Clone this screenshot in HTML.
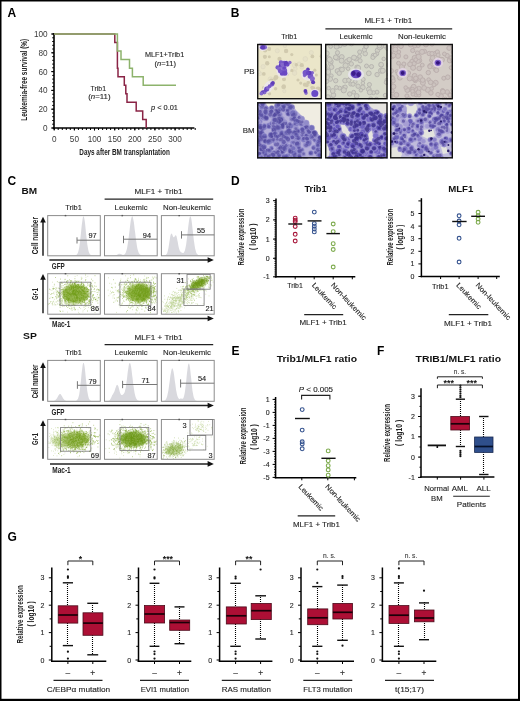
<!DOCTYPE html>
<html><head><meta charset="utf-8"><title>Figure</title>
<style>html,body{margin:0;padding:0;background:#fff;}body{width:520px;height:701px;overflow:hidden;font-family:"Liberation Sans",sans-serif;}svg{display:block;filter:blur(0.3px);}</style>
</head><body>
<svg width="520" height="701" viewBox="0 0 520 701" font-family="Liberation Sans, sans-serif"><defs><filter id="bl" x="-10%" y="-10%" width="120%" height="120%"><feGaussianBlur stdDeviation="0.75"/></filter><filter id="bl2" x="-20%" y="-20%" width="140%" height="140%"><feGaussianBlur stdDeviation="0.9"/></filter><clipPath id="c00"><rect x="257" y="43.8" width="65" height="55.6"/></clipPath><clipPath id="c01"><rect x="257" y="102.1" width="65" height="56.4"/></clipPath><clipPath id="c10"><rect x="325" y="43.8" width="62.7" height="55.6"/></clipPath><clipPath id="c11"><rect x="325" y="102.1" width="62.7" height="56.4"/></clipPath><clipPath id="c20"><rect x="390" y="43.8" width="63" height="55.6"/></clipPath><clipPath id="c21"><rect x="390" y="102.1" width="63" height="56.4"/></clipPath></defs><rect x="0" y="0" width="520" height="701" fill="#000"/>
<rect x="1.5" y="1.5" width="516.5" height="697.3" fill="#fff"/>
<text x="7.4" y="17.3" font-size="12" font-weight="bold" fill="#000">A</text>
<line x1="52.2" y1="128" x2="54" y2="128" stroke="#000" stroke-width="1"/>
<line x1="52.2" y1="124.2" x2="54" y2="124.2" stroke="#000" stroke-width="1"/>
<line x1="52.2" y1="120.5" x2="54" y2="120.5" stroke="#000" stroke-width="1"/>
<line x1="52.2" y1="116.7" x2="54" y2="116.7" stroke="#000" stroke-width="1"/>
<line x1="52.2" y1="113" x2="54" y2="113" stroke="#000" stroke-width="1"/>
<line x1="52.2" y1="109.2" x2="54" y2="109.2" stroke="#000" stroke-width="1"/>
<line x1="52.2" y1="105.4" x2="54" y2="105.4" stroke="#000" stroke-width="1"/>
<line x1="52.2" y1="101.7" x2="54" y2="101.7" stroke="#000" stroke-width="1"/>
<line x1="52.2" y1="97.9" x2="54" y2="97.9" stroke="#000" stroke-width="1"/>
<line x1="52.2" y1="94.2" x2="54" y2="94.2" stroke="#000" stroke-width="1"/>
<line x1="52.2" y1="90.4" x2="54" y2="90.4" stroke="#000" stroke-width="1"/>
<line x1="52.2" y1="86.6" x2="54" y2="86.6" stroke="#000" stroke-width="1"/>
<line x1="52.2" y1="82.9" x2="54" y2="82.9" stroke="#000" stroke-width="1"/>
<line x1="52.2" y1="79.1" x2="54" y2="79.1" stroke="#000" stroke-width="1"/>
<line x1="52.2" y1="75.4" x2="54" y2="75.4" stroke="#000" stroke-width="1"/>
<line x1="52.2" y1="71.6" x2="54" y2="71.6" stroke="#000" stroke-width="1"/>
<line x1="52.2" y1="67.8" x2="54" y2="67.8" stroke="#000" stroke-width="1"/>
<line x1="52.2" y1="64.1" x2="54" y2="64.1" stroke="#000" stroke-width="1"/>
<line x1="52.2" y1="60.3" x2="54" y2="60.3" stroke="#000" stroke-width="1"/>
<line x1="52.2" y1="56.6" x2="54" y2="56.6" stroke="#000" stroke-width="1"/>
<line x1="52.2" y1="52.8" x2="54" y2="52.8" stroke="#000" stroke-width="1"/>
<line x1="52.2" y1="49" x2="54" y2="49" stroke="#000" stroke-width="1"/>
<line x1="52.2" y1="45.3" x2="54" y2="45.3" stroke="#000" stroke-width="1"/>
<line x1="52.2" y1="41.5" x2="54" y2="41.5" stroke="#000" stroke-width="1"/>
<line x1="52.2" y1="37.8" x2="54" y2="37.8" stroke="#000" stroke-width="1"/>
<line x1="52.2" y1="34" x2="54" y2="34" stroke="#000" stroke-width="1"/>
<line x1="51.2" y1="128" x2="54" y2="128" stroke="#000" stroke-width="1.1"/>
<text x="47.6" y="130.9" font-size="8.2" text-anchor="end" fill="#3a3a3a">0</text>
<line x1="51.2" y1="109.2" x2="54" y2="109.2" stroke="#000" stroke-width="1.1"/>
<text x="47.6" y="112.1" font-size="8.2" text-anchor="end" fill="#3a3a3a">20</text>
<line x1="51.2" y1="90.4" x2="54" y2="90.4" stroke="#000" stroke-width="1.1"/>
<text x="47.6" y="93.3" font-size="8.2" text-anchor="end" fill="#3a3a3a">40</text>
<line x1="51.2" y1="71.6" x2="54" y2="71.6" stroke="#000" stroke-width="1.1"/>
<text x="47.6" y="74.5" font-size="8.2" text-anchor="end" fill="#3a3a3a">60</text>
<line x1="51.2" y1="52.8" x2="54" y2="52.8" stroke="#000" stroke-width="1.1"/>
<text x="47.6" y="55.7" font-size="8.2" text-anchor="end" fill="#3a3a3a">80</text>
<line x1="51.2" y1="34" x2="54" y2="34" stroke="#000" stroke-width="1.1"/>
<text x="47.6" y="36.9" font-size="8.2" text-anchor="end" fill="#3a3a3a">100</text>
<line x1="54" y1="33" x2="54" y2="129" stroke="#000" stroke-width="1.6"/>
<line x1="54.2" y1="128" x2="54.2" y2="130" stroke="#000" stroke-width="1"/>
<line x1="58.2" y1="128" x2="58.2" y2="130" stroke="#000" stroke-width="1"/>
<line x1="62.3" y1="128" x2="62.3" y2="130" stroke="#000" stroke-width="1"/>
<line x1="66.3" y1="128" x2="66.3" y2="130" stroke="#000" stroke-width="1"/>
<line x1="70.3" y1="128" x2="70.3" y2="130" stroke="#000" stroke-width="1"/>
<line x1="74.4" y1="128" x2="74.4" y2="130" stroke="#000" stroke-width="1"/>
<line x1="78.4" y1="128" x2="78.4" y2="130" stroke="#000" stroke-width="1"/>
<line x1="82.4" y1="128" x2="82.4" y2="130" stroke="#000" stroke-width="1"/>
<line x1="86.4" y1="128" x2="86.4" y2="130" stroke="#000" stroke-width="1"/>
<line x1="90.5" y1="128" x2="90.5" y2="130" stroke="#000" stroke-width="1"/>
<line x1="94.5" y1="128" x2="94.5" y2="130" stroke="#000" stroke-width="1"/>
<line x1="98.5" y1="128" x2="98.5" y2="130" stroke="#000" stroke-width="1"/>
<line x1="102.6" y1="128" x2="102.6" y2="130" stroke="#000" stroke-width="1"/>
<line x1="106.6" y1="128" x2="106.6" y2="130" stroke="#000" stroke-width="1"/>
<line x1="110.6" y1="128" x2="110.6" y2="130" stroke="#000" stroke-width="1"/>
<line x1="114.7" y1="128" x2="114.7" y2="130" stroke="#000" stroke-width="1"/>
<line x1="118.7" y1="128" x2="118.7" y2="130" stroke="#000" stroke-width="1"/>
<line x1="122.7" y1="128" x2="122.7" y2="130" stroke="#000" stroke-width="1"/>
<line x1="126.7" y1="128" x2="126.7" y2="130" stroke="#000" stroke-width="1"/>
<line x1="130.8" y1="128" x2="130.8" y2="130" stroke="#000" stroke-width="1"/>
<line x1="134.8" y1="128" x2="134.8" y2="130" stroke="#000" stroke-width="1"/>
<line x1="138.8" y1="128" x2="138.8" y2="130" stroke="#000" stroke-width="1"/>
<line x1="142.9" y1="128" x2="142.9" y2="130" stroke="#000" stroke-width="1"/>
<line x1="146.9" y1="128" x2="146.9" y2="130" stroke="#000" stroke-width="1"/>
<line x1="150.9" y1="128" x2="150.9" y2="130" stroke="#000" stroke-width="1"/>
<line x1="154.9" y1="128" x2="154.9" y2="130" stroke="#000" stroke-width="1"/>
<line x1="159" y1="128" x2="159" y2="130" stroke="#000" stroke-width="1"/>
<line x1="163" y1="128" x2="163" y2="130" stroke="#000" stroke-width="1"/>
<line x1="167" y1="128" x2="167" y2="130" stroke="#000" stroke-width="1"/>
<line x1="171.1" y1="128" x2="171.1" y2="130" stroke="#000" stroke-width="1"/>
<line x1="175.1" y1="128" x2="175.1" y2="130" stroke="#000" stroke-width="1"/>
<line x1="179.1" y1="128" x2="179.1" y2="130" stroke="#000" stroke-width="1"/>
<line x1="183.2" y1="128" x2="183.2" y2="130" stroke="#000" stroke-width="1"/>
<line x1="187.2" y1="128" x2="187.2" y2="130" stroke="#000" stroke-width="1"/>
<line x1="191.2" y1="128" x2="191.2" y2="130" stroke="#000" stroke-width="1"/>
<line x1="195.2" y1="128" x2="195.2" y2="130" stroke="#000" stroke-width="1"/>
<line x1="54.2" y1="128" x2="54.2" y2="130.6" stroke="#000" stroke-width="1.1"/>
<text x="54.2" y="141.6" font-size="8.2" text-anchor="middle" fill="#3a3a3a">0</text>
<line x1="74.4" y1="128" x2="74.4" y2="130.6" stroke="#000" stroke-width="1.1"/>
<text x="74.4" y="141.6" font-size="8.2" text-anchor="middle" fill="#3a3a3a">50</text>
<line x1="94.5" y1="128" x2="94.5" y2="130.6" stroke="#000" stroke-width="1.1"/>
<text x="94.5" y="141.6" font-size="8.2" text-anchor="middle" fill="#3a3a3a">100</text>
<line x1="114.7" y1="128" x2="114.7" y2="130.6" stroke="#000" stroke-width="1.1"/>
<text x="114.7" y="141.6" font-size="8.2" text-anchor="middle" fill="#3a3a3a">150</text>
<line x1="134.8" y1="128" x2="134.8" y2="130.6" stroke="#000" stroke-width="1.1"/>
<text x="134.8" y="141.6" font-size="8.2" text-anchor="middle" fill="#3a3a3a">200</text>
<line x1="154.9" y1="128" x2="154.9" y2="130.6" stroke="#000" stroke-width="1.1"/>
<text x="154.9" y="141.6" font-size="8.2" text-anchor="middle" fill="#3a3a3a">250</text>
<line x1="175.1" y1="128" x2="175.1" y2="130.6" stroke="#000" stroke-width="1.1"/>
<text x="175.1" y="141.6" font-size="8.2" text-anchor="middle" fill="#3a3a3a">300</text>
<line x1="53.2" y1="128" x2="194.4" y2="128" stroke="#000" stroke-width="1.6"/>
<path d="M54,34 H114.8 V42.5 H117.4 V68.2 H118 V76.7 H124.3 V85.2 H125.8 V93.8 H127 V102.3 H136.2 V110.9 H142.7 V119.4 H146.2 V128" stroke="#8a2446" stroke-width="1.5" fill="none"/>
<path d="M54,34 H117.4 V51.1 H121 V59.6 H129.5 V68.2 H132.4 V76.7 H143.2 V85.2 H176" stroke="#8db36c" stroke-width="1.5" fill="none"/>
<text x="79.3" y="155.4" font-size="8.8" font-weight="bold" fill="#222" textLength="90.5" lengthAdjust="spacingAndGlyphs">Days after BM transplantation</text>
<text transform="translate(27.4,79.8) rotate(-90)" x="0" y="0" font-size="8.4" text-anchor="middle" font-weight="bold" fill="#222" textLength="82" lengthAdjust="spacingAndGlyphs">Leukemia-free survival (%)</text>
<text x="145" y="57.4" font-size="7.4" fill="#262626" textLength="39.2" lengthAdjust="spacingAndGlyphs" stroke="#262626" stroke-width="0.12">MLF1+Trib1</text>
<text x="154.4" y="66" font-size="7.4" fill="#262626" textLength="21.6" lengthAdjust="spacingAndGlyphs" stroke="#262626" stroke-width="0.12">(<tspan font-style="italic">n</tspan>=11)</text>
<text x="90.6" y="90.8" font-size="7.4" fill="#262626" textLength="15.4" lengthAdjust="spacingAndGlyphs" stroke="#262626" stroke-width="0.12">Trib1</text>
<text x="88.2" y="99.2" font-size="7.4" fill="#262626" textLength="22.4" lengthAdjust="spacingAndGlyphs" stroke="#262626" stroke-width="0.12">(<tspan font-style="italic">n</tspan>=11)</text>
<text x="151" y="110.2" font-size="7.9" fill="#262626" textLength="27" lengthAdjust="spacingAndGlyphs" stroke="#262626" stroke-width="0.12"><tspan font-style="italic">p</tspan> &lt; 0.01</text>
<text x="230.8" y="17.4" font-size="12" font-weight="bold" fill="#000">B</text>
<text x="364.4" y="23.4" font-size="7.2" fill="#262626" textLength="47.8" lengthAdjust="spacingAndGlyphs" stroke="#262626" stroke-width="0.12">MLF1 + Trib1</text>
<line x1="325.4" y1="28.8" x2="452.2" y2="28.8" stroke="#222" stroke-width="1.3"/>
<text x="281.2" y="39" font-size="7.2" fill="#262626" textLength="16" lengthAdjust="spacingAndGlyphs" stroke="#262626" stroke-width="0.12">Trib1</text>
<text x="339.5" y="39" font-size="7.2" fill="#262626" textLength="33" lengthAdjust="spacingAndGlyphs" stroke="#262626" stroke-width="0.12">Leukemic</text>
<text x="398" y="39" font-size="7.2" fill="#262626" textLength="48" lengthAdjust="spacingAndGlyphs" stroke="#262626" stroke-width="0.12">Non-leukemic</text>
<text x="244" y="74" font-size="7.6" fill="#262626" textLength="10.6" lengthAdjust="spacingAndGlyphs" stroke="#262626" stroke-width="0.12">PB</text>
<text x="242.8" y="132.8" font-size="7.6" fill="#262626" textLength="11.8" lengthAdjust="spacingAndGlyphs" stroke="#262626" stroke-width="0.12">BM</text>
<g clip-path="url(#c00)"><g filter="url(#bl)">
<rect x="257" y="43.8" width="65" height="55.6" fill="#ebe6c9"/>
<g fill="#e6e1c8" stroke="#dcd6c0" stroke-width="0.6"><circle cx="277.3" cy="50.8" r="2.1"/><circle cx="260" cy="73.7" r="1.9"/><circle cx="259" cy="72" r="1.6"/><circle cx="284.9" cy="46" r="1.7"/><circle cx="284.3" cy="91.1" r="1.7"/><circle cx="270.4" cy="79.2" r="2.4"/><circle cx="294.8" cy="65.4" r="2.4"/><circle cx="258.2" cy="93" r="1.8"/><circle cx="265" cy="48.8" r="1.8"/><circle cx="311.3" cy="52.6" r="2.1"/><circle cx="299.1" cy="64" r="2"/><circle cx="259.3" cy="45.4" r="1.8"/><circle cx="301.9" cy="67.3" r="1.9"/><circle cx="295.4" cy="68.8" r="1.8"/><circle cx="309.8" cy="83.5" r="1.8"/><circle cx="294.6" cy="73.1" r="2.3"/><circle cx="305.3" cy="59" r="2.4"/><circle cx="263.1" cy="66.7" r="2.2"/></g>
<g fill="#cbc4a8" opacity="0.8"><circle cx="269.3" cy="56.7" r="1.5"/><circle cx="261.8" cy="44.6" r="2"/><circle cx="269.1" cy="48.9" r="2.1"/><circle cx="260.5" cy="48.3" r="1.9"/><circle cx="272.4" cy="41.8" r="1.9"/><circle cx="265.1" cy="50.5" r="2.1"/><circle cx="256.5" cy="39.4" r="2.2"/><circle cx="264.9" cy="56.8" r="2.1"/><circle cx="291.8" cy="70.4" r="1.7"/><circle cx="285.1" cy="71.1" r="2.2"/><circle cx="287.1" cy="73.9" r="1.9"/><circle cx="285.3" cy="66.3" r="1.9"/><circle cx="267.2" cy="63.3" r="2.2"/><circle cx="287.2" cy="63.5" r="1.9"/><circle cx="272.5" cy="83.5" r="2.4"/><circle cx="285.9" cy="73.6" r="1.7"/><circle cx="284" cy="79.3" r="2"/><circle cx="282.9" cy="69.8" r="1.9"/><circle cx="276" cy="77.5" r="2.4"/><circle cx="279.5" cy="58.9" r="2.1"/><circle cx="281.8" cy="66.3" r="2.3"/><circle cx="286.1" cy="51" r="2.2"/><circle cx="300.7" cy="83.1" r="1.6"/><circle cx="305.1" cy="75.9" r="1.6"/><circle cx="308.2" cy="82.6" r="1.8"/><circle cx="307.2" cy="78.1" r="1.6"/><circle cx="313.1" cy="82.5" r="1.5"/><circle cx="314.8" cy="70.2" r="1.6"/><circle cx="306.9" cy="85.4" r="1.8"/><circle cx="318.1" cy="88.8" r="2.4"/><circle cx="298" cy="80" r="1.6"/><circle cx="312.9" cy="82.4" r="1.7"/><circle cx="309.3" cy="73.8" r="1.5"/><circle cx="316.3" cy="75" r="1.6"/><circle cx="268.4" cy="87.6" r="2"/><circle cx="283.8" cy="86.4" r="2.1"/><circle cx="269.5" cy="93.7" r="1.7"/><circle cx="271.2" cy="80.7" r="2.2"/><circle cx="267.6" cy="91.7" r="2.2"/><circle cx="283.6" cy="86.9" r="2.2"/><circle cx="274.8" cy="79" r="1.7"/><circle cx="263.5" cy="87.4" r="1.5"/><circle cx="275.6" cy="88.8" r="1.7"/><circle cx="263.8" cy="73.9" r="1.9"/><circle cx="322" cy="56.3" r="2.4"/><circle cx="296.3" cy="64.7" r="1.7"/><circle cx="301.8" cy="65.2" r="2.1"/><circle cx="312.4" cy="56.4" r="1.9"/><circle cx="291.8" cy="54.6" r="1.6"/><circle cx="305" cy="84.6" r="2.2"/><circle cx="312" cy="87.4" r="1.7"/><circle cx="313.3" cy="88.5" r="2.2"/><circle cx="317.9" cy="91.3" r="1.9"/><circle cx="321.1" cy="89.9" r="1.7"/></g>
<ellipse cx="283.5" cy="69" rx="7" ry="9" fill="#ece6f2" opacity="0.8" transform="rotate(15 283.5 69)"/>
<ellipse cx="308" cy="75" rx="7" ry="5.5" fill="#ece6f2" opacity="0.8" transform="rotate(10 308 75)"/>
<ellipse cx="268.5" cy="87" rx="4.5" ry="7.5" fill="#ece6f2" opacity="0.8" transform="rotate(35 268.5 87)"/>
<ellipse cx="315" cy="93.5" rx="5" ry="4.5" fill="#ece6f2" opacity="0.8" transform="rotate(0 315 93.5)"/>
<ellipse cx="263" cy="47" rx="5" ry="4" fill="#ece6f2" opacity="0.8" transform="rotate(0 263 47)"/>
<circle cx="284.5" cy="70.7" r="2.7" fill="#7658c8"/><circle cx="280.8" cy="65.4" r="2.2" fill="#5e3cb8"/><circle cx="285.3" cy="73.4" r="1.6" fill="#6a48c4"/><circle cx="277.5" cy="67.4" r="2.1" fill="#7658c8"/><circle cx="284.3" cy="66.4" r="1.9" fill="#5e3cb8"/><circle cx="279.1" cy="68.9" r="2" fill="#8468cc"/><circle cx="284" cy="67.7" r="2.5" fill="#8468cc"/><circle cx="281" cy="62.4" r="2.2" fill="#7658c8"/><circle cx="280.4" cy="68" r="1.6" fill="#8468cc"/><circle cx="284.1" cy="63.3" r="2.5" fill="#7658c8"/><circle cx="284.9" cy="73.2" r="2.5" fill="#6a48c4"/><circle cx="282.1" cy="73.5" r="2.3" fill="#6a48c4"/><circle cx="284.2" cy="68" r="1.8" fill="#6a48c4"/><circle cx="283.9" cy="64" r="2.3" fill="#6a48c4"/><circle cx="280.1" cy="71" r="2.2" fill="#7658c8"/><circle cx="282.5" cy="64.7" r="2.2" fill="#8468cc"/>
<circle cx="285.9" cy="63.9" r="2.2" fill="#5e3cb8"/><circle cx="289.8" cy="62.5" r="1.8" fill="#8468cc"/><circle cx="287.5" cy="64.6" r="2.1" fill="#6a48c4"/><circle cx="286.2" cy="62.6" r="1.9" fill="#5e3cb8"/>
<circle cx="307.9" cy="69.2" r="1.8" fill="#5e3cb8"/><circle cx="310.4" cy="75.9" r="2.8" fill="#7658c8"/><circle cx="306.5" cy="72.2" r="2.7" fill="#7658c8"/><circle cx="312.2" cy="72.8" r="1.8" fill="#8468cc"/><circle cx="309.5" cy="72.9" r="2.1" fill="#5e3cb8"/><circle cx="304.5" cy="75.6" r="1.6" fill="#8468cc"/><circle cx="306" cy="73.1" r="2" fill="#5e3cb8"/><circle cx="305.4" cy="72.9" r="2.8" fill="#7658c8"/><circle cx="307.9" cy="72.9" r="1.9" fill="#6a48c4"/>
<circle cx="312.1" cy="79.6" r="2.1" fill="#8468cc"/><circle cx="312.6" cy="78.5" r="2.3" fill="#8468cc"/><circle cx="313.1" cy="82.2" r="2" fill="#5e3cb8"/>
<circle cx="264.2" cy="92.1" r="2.4" fill="#8468cc"/>
<circle cx="265.7" cy="90.3" r="1.8" fill="#6a48c4"/>
<circle cx="266.7" cy="89" r="2.5" fill="#6a48c4"/>
<circle cx="267.9" cy="88.1" r="1.8" fill="#8468cc"/>
<circle cx="269.6" cy="86.2" r="1.9" fill="#7658c8"/>
<circle cx="272" cy="84.4" r="2" fill="#7658c8"/>
<circle cx="272" cy="84.1" r="2" fill="#7658c8"/>
<circle cx="272.9" cy="82.9" r="1.9" fill="#5e3cb8"/>
<circle cx="262.2" cy="92.4" r="1.8" fill="#6a48c4"/><circle cx="261.4" cy="93.6" r="1.9" fill="#8468cc"/>
<circle cx="306" cy="93.1" r="1.8" fill="#8468cc"/><circle cx="305.4" cy="91" r="1.9" fill="#5e3cb8"/>
<circle cx="314.8" cy="93.6" r="3.5" fill="#6a4cc6"/>
<circle cx="260.8" cy="43.8" r="1.8" fill="#7658c8"/><circle cx="261.3" cy="47.6" r="1.5" fill="#7658c8"/><circle cx="264.7" cy="47.2" r="2.3" fill="#8468cc"/><circle cx="262.8" cy="47.4" r="2.3" fill="#5e3cb8"/>
</g></g>
<g clip-path="url(#c10)"><g filter="url(#bl)">
<rect x="325" y="43.8" width="62.7" height="55.6" fill="#d7d9cb"/>
<g fill="#cfcfc4" stroke="#b4b2ae" stroke-width="0.9"><circle cx="362.9" cy="83.1" r="1.8"/><circle cx="335.4" cy="57.8" r="1.8"/><circle cx="347.3" cy="61.4" r="2.6"/><circle cx="344.6" cy="43.9" r="2.5"/><circle cx="337.5" cy="52.7" r="2.1"/><circle cx="328.6" cy="58.4" r="2.3"/><circle cx="339.6" cy="88.1" r="1.9"/><circle cx="377.5" cy="50.4" r="2.3"/><circle cx="349.3" cy="59.7" r="2.3"/><circle cx="328.6" cy="98.9" r="2.5"/><circle cx="333.4" cy="95" r="2.4"/><circle cx="362.8" cy="87.4" r="2.4"/><circle cx="356" cy="58.7" r="2.3"/><circle cx="332.7" cy="91" r="2.4"/><circle cx="357.2" cy="67.4" r="2.4"/><circle cx="356.7" cy="96" r="2.4"/><circle cx="360.9" cy="90.2" r="1.8"/><circle cx="368.8" cy="89.4" r="2.4"/><circle cx="386.8" cy="80.1" r="1.9"/><circle cx="325.8" cy="79.8" r="2.6"/><circle cx="348.1" cy="68.7" r="1.8"/><circle cx="324.3" cy="73.5" r="2"/><circle cx="340.6" cy="69" r="1.9"/><circle cx="385.2" cy="95.3" r="1.9"/><circle cx="358.1" cy="86.2" r="2.2"/><circle cx="377" cy="92.2" r="2"/><circle cx="373.5" cy="55.6" r="2.3"/><circle cx="353.7" cy="92.2" r="1.9"/><circle cx="383.7" cy="58.9" r="1.8"/><circle cx="365.2" cy="53.6" r="2.3"/><circle cx="345.1" cy="80.6" r="2.4"/><circle cx="364.4" cy="49.8" r="2.2"/><circle cx="355.4" cy="99.8" r="1.9"/><circle cx="337.5" cy="71" r="2.4"/><circle cx="342" cy="69.6" r="2.4"/><circle cx="389.3" cy="74.5" r="2"/><circle cx="328.7" cy="70" r="2"/><circle cx="328.1" cy="72" r="2.6"/><circle cx="389.3" cy="64.9" r="2.5"/><circle cx="385.1" cy="46.2" r="1.9"/><circle cx="372.9" cy="57.4" r="2.1"/><circle cx="363.2" cy="79.4" r="2"/><circle cx="330.5" cy="63.6" r="2.2"/><circle cx="381.4" cy="65.3" r="1.9"/><circle cx="386.4" cy="82.4" r="2.1"/><circle cx="371.5" cy="66.6" r="2.1"/><circle cx="331.1" cy="61.5" r="2.1"/><circle cx="345.6" cy="65.5" r="2.6"/><circle cx="336.1" cy="42.5" r="2.4"/><circle cx="339.9" cy="45.7" r="2.1"/><circle cx="381" cy="46.4" r="2.5"/><circle cx="373.4" cy="92.7" r="2"/><circle cx="326.4" cy="81.3" r="2.3"/><circle cx="332.9" cy="99.7" r="2.1"/><circle cx="344.1" cy="87.9" r="2.4"/><circle cx="351.5" cy="43.5" r="2.4"/><circle cx="349.7" cy="94" r="2.2"/><circle cx="336.6" cy="46.6" r="2.5"/><circle cx="350.4" cy="78.4" r="1.9"/><circle cx="381" cy="70.7" r="2.5"/><circle cx="359.7" cy="52" r="2.1"/><circle cx="341.8" cy="57" r="2.4"/><circle cx="366.5" cy="66" r="2"/><circle cx="355.2" cy="81.7" r="1.9"/><circle cx="365.9" cy="46.3" r="2.2"/><circle cx="377.1" cy="74.6" r="2.2"/><circle cx="345.2" cy="87.1" r="2.1"/><circle cx="359.5" cy="56.3" r="1.9"/><circle cx="360.1" cy="60.8" r="2.1"/><circle cx="377" cy="53.8" r="1.8"/><circle cx="381.1" cy="64.6" r="2.4"/><circle cx="337" cy="57.9" r="2.4"/><circle cx="356.2" cy="76" r="2.1"/><circle cx="368.8" cy="73.3" r="2.4"/><circle cx="379.6" cy="47.3" r="2.5"/><circle cx="348.7" cy="80.3" r="2.1"/><circle cx="343.8" cy="90.3" r="2.6"/><circle cx="331.5" cy="67.1" r="2.4"/><circle cx="376.6" cy="99.5" r="2.2"/><circle cx="327.9" cy="97.2" r="2.5"/><circle cx="358.2" cy="69.7" r="2.2"/><circle cx="375.2" cy="55.1" r="1.9"/><circle cx="387.8" cy="48.3" r="2.5"/><circle cx="369.8" cy="92.3" r="2.5"/><circle cx="328.7" cy="88.1" r="1.8"/><circle cx="331.4" cy="75.7" r="1.8"/><circle cx="370.7" cy="99.2" r="2.3"/><circle cx="358.2" cy="67.9" r="2.4"/><circle cx="329.6" cy="59.7" r="2.6"/><circle cx="335.8" cy="57.3" r="2.4"/><circle cx="323.1" cy="73.8" r="2.6"/><circle cx="341.6" cy="60.7" r="2.5"/><circle cx="339.2" cy="73.2" r="2.2"/><circle cx="325" cy="66.3" r="2.3"/><circle cx="326.7" cy="53.4" r="2.5"/><circle cx="366.2" cy="46.6" r="2"/><circle cx="351.3" cy="63.9" r="2.2"/><circle cx="369.4" cy="84.6" r="2.1"/><circle cx="349.4" cy="42.2" r="2"/><circle cx="379.4" cy="45.8" r="2.2"/><circle cx="336.4" cy="87.4" r="2"/><circle cx="354" cy="57.6" r="2.5"/><circle cx="330.3" cy="79" r="2.3"/><circle cx="382.8" cy="70.7" r="2.5"/><circle cx="326.8" cy="77.3" r="2.5"/><circle cx="326.6" cy="43.2" r="2.3"/><circle cx="350.7" cy="84.1" r="1.9"/><circle cx="353" cy="84.2" r="2.1"/><circle cx="330.6" cy="46.5" r="1.9"/><circle cx="335.7" cy="80.7" r="2.2"/></g>
<ellipse cx="356" cy="74.5" rx="8" ry="6" fill="#e8e4ee" opacity="0.9" transform="rotate(0 356 74.5)"/>
<ellipse cx="356" cy="74" rx="5.5" ry="4.2" fill="#6a4cc0" opacity="1" transform="rotate(0 356 74)"/>
<ellipse cx="353.5" cy="73.5" rx="2.2" ry="2.4" fill="#3c1c8c" opacity="1" transform="rotate(0 353.5 73.5)"/>
<ellipse cx="358.5" cy="74.5" rx="2.2" ry="2.6" fill="#3c1c8c" opacity="1" transform="rotate(0 358.5 74.5)"/>
</g></g>
<g clip-path="url(#c20)"><g filter="url(#bl)">
<rect x="390" y="43.8" width="63" height="55.6" fill="#d3ccc6"/>
<g fill="#ccc3bf" stroke="#bcb0ae" stroke-width="1"><circle cx="419.3" cy="60.4" r="2.4"/><circle cx="444.2" cy="100.5" r="2.2"/><circle cx="395.3" cy="46.5" r="1.9"/><circle cx="416.2" cy="94.6" r="2.2"/><circle cx="438.8" cy="64.5" r="2.4"/><circle cx="408.7" cy="89.7" r="1.9"/><circle cx="435.3" cy="53.5" r="2.2"/><circle cx="417.9" cy="61.1" r="2.4"/><circle cx="419.8" cy="79.4" r="2"/><circle cx="429.9" cy="65.9" r="2.1"/><circle cx="419.1" cy="89.7" r="1.8"/><circle cx="401.1" cy="45.5" r="2.3"/><circle cx="412.3" cy="61.8" r="2.6"/><circle cx="390.9" cy="86.3" r="2.4"/><circle cx="449.9" cy="59.5" r="2.4"/><circle cx="427.9" cy="89.8" r="2.6"/><circle cx="392.4" cy="91" r="1.9"/><circle cx="435.9" cy="69.6" r="2.4"/><circle cx="440.9" cy="96.2" r="2.5"/><circle cx="396.9" cy="71.4" r="1.8"/><circle cx="450.4" cy="59.9" r="2.4"/><circle cx="398.1" cy="55.9" r="2.5"/><circle cx="418.9" cy="88.5" r="2.3"/><circle cx="422.3" cy="65.1" r="1.9"/><circle cx="415.3" cy="80.5" r="2.2"/><circle cx="424.5" cy="51.4" r="2.1"/><circle cx="395" cy="46.1" r="2.3"/><circle cx="402" cy="66.9" r="2.6"/><circle cx="453.1" cy="52.1" r="1.9"/><circle cx="418.9" cy="94.9" r="2"/><circle cx="424.1" cy="87.9" r="2.4"/><circle cx="440.2" cy="59.3" r="2"/><circle cx="405.9" cy="56.9" r="2"/><circle cx="417.4" cy="52.9" r="2"/><circle cx="406.9" cy="95.9" r="2"/><circle cx="392.3" cy="56.8" r="2"/><circle cx="423.3" cy="80.5" r="1.9"/><circle cx="419.1" cy="44" r="1.8"/><circle cx="447.1" cy="55.6" r="2.2"/><circle cx="413" cy="94.1" r="2"/><circle cx="391.4" cy="77.6" r="2.5"/><circle cx="401" cy="46.3" r="2.2"/><circle cx="399.9" cy="77.7" r="2.4"/><circle cx="432.5" cy="42.2" r="2.3"/><circle cx="435.6" cy="62.6" r="1.8"/><circle cx="410.8" cy="44.4" r="2.6"/><circle cx="390.6" cy="85.4" r="2.5"/><circle cx="442.6" cy="90.6" r="2.1"/><circle cx="412.9" cy="78.8" r="1.9"/><circle cx="390.1" cy="71.3" r="2.2"/><circle cx="415.3" cy="89.2" r="2.3"/><circle cx="398.4" cy="73.6" r="2.3"/><circle cx="414.7" cy="58" r="2.6"/><circle cx="432.7" cy="66.7" r="1.8"/><circle cx="437.9" cy="94.5" r="2.1"/><circle cx="389.2" cy="87.5" r="2.4"/><circle cx="431.2" cy="65.1" r="2.1"/><circle cx="451.1" cy="67.7" r="1.9"/><circle cx="395.6" cy="47.2" r="2.3"/><circle cx="412.4" cy="87.9" r="1.9"/><circle cx="391.5" cy="50.3" r="2.4"/><circle cx="414.6" cy="75.9" r="2.5"/><circle cx="437.4" cy="52" r="2.1"/><circle cx="398.8" cy="52" r="1.9"/><circle cx="413.7" cy="86.7" r="2.4"/><circle cx="441.9" cy="59.8" r="2.5"/><circle cx="390.9" cy="96.2" r="2.1"/><circle cx="428.7" cy="79.7" r="1.9"/><circle cx="435.7" cy="82.8" r="2.5"/><circle cx="430.9" cy="92.9" r="2.3"/><circle cx="429.2" cy="53.5" r="2.2"/><circle cx="425.9" cy="44.3" r="2.6"/><circle cx="398.5" cy="63.2" r="1.9"/><circle cx="453" cy="90.4" r="2"/><circle cx="447.2" cy="92" r="2.3"/><circle cx="432.7" cy="61.1" r="2.1"/><circle cx="418.5" cy="92.4" r="2.4"/><circle cx="431.5" cy="60.2" r="2"/><circle cx="414.1" cy="63.7" r="2.2"/><circle cx="400" cy="42" r="2.6"/><circle cx="419.2" cy="68.4" r="2.3"/><circle cx="442.9" cy="91.7" r="2.4"/><circle cx="414.8" cy="45.8" r="2.1"/><circle cx="412.5" cy="89.6" r="2.2"/><circle cx="432" cy="44.2" r="1.9"/><circle cx="449.8" cy="60.5" r="2.4"/><circle cx="393.4" cy="86.6" r="2.5"/><circle cx="431.7" cy="88.5" r="1.8"/><circle cx="392.4" cy="78.4" r="2.4"/><circle cx="395.3" cy="49.6" r="2.5"/><circle cx="407.3" cy="90.1" r="2.4"/><circle cx="434" cy="84.8" r="2"/><circle cx="443.8" cy="78.2" r="2"/><circle cx="409.7" cy="78.4" r="2.5"/><circle cx="418.6" cy="56.9" r="2.6"/><circle cx="420.2" cy="77.1" r="2.3"/><circle cx="403.9" cy="64" r="2"/><circle cx="415" cy="79.7" r="2"/><circle cx="410" cy="64.3" r="2.4"/><circle cx="405.7" cy="87.6" r="1.8"/><circle cx="445.5" cy="99.4" r="2.2"/><circle cx="422.9" cy="82.8" r="2.5"/><circle cx="404.9" cy="73.7" r="2.5"/><circle cx="437.4" cy="63.9" r="2.1"/><circle cx="412.7" cy="50.5" r="2.1"/><circle cx="393.5" cy="55.5" r="2.3"/><circle cx="452.2" cy="59.5" r="2.2"/><circle cx="408.8" cy="99.4" r="2.5"/><circle cx="450.2" cy="95.2" r="2.4"/><circle cx="438.1" cy="55" r="2"/><circle cx="429.9" cy="66.7" r="2.1"/><circle cx="391.2" cy="70.9" r="2.3"/><circle cx="391.1" cy="45" r="2.3"/><circle cx="408.4" cy="73" r="2.2"/><circle cx="415.7" cy="59.7" r="1.9"/><circle cx="412.5" cy="91.2" r="1.9"/><circle cx="388.9" cy="89.6" r="2.4"/><circle cx="418.2" cy="45.6" r="1.9"/><circle cx="432.6" cy="57.9" r="2.4"/><circle cx="452.8" cy="45.1" r="2.5"/><circle cx="447.8" cy="77.2" r="2.3"/><circle cx="428.3" cy="72.6" r="2.2"/><circle cx="399.1" cy="41.8" r="1.8"/><circle cx="389.7" cy="52.9" r="1.9"/><circle cx="449.1" cy="48.1" r="2.3"/><circle cx="432" cy="53.6" r="2.1"/><circle cx="422.7" cy="80.1" r="2.3"/><circle cx="415.8" cy="78.3" r="2.2"/><circle cx="392.3" cy="79.1" r="2.6"/><circle cx="436.5" cy="70.3" r="2.2"/><circle cx="413.1" cy="67.8" r="2.5"/><circle cx="393.4" cy="80.9" r="1.9"/><circle cx="454.8" cy="57.4" r="2.3"/><circle cx="396.3" cy="94.9" r="2.5"/><circle cx="451.2" cy="57.5" r="1.8"/><circle cx="430.6" cy="82.3" r="2.3"/><circle cx="449.5" cy="99.7" r="2"/><circle cx="450.2" cy="95.1" r="1.9"/><circle cx="422" cy="51.9" r="2.5"/><circle cx="444.4" cy="53.9" r="1.9"/></g>
<ellipse cx="402.7" cy="73" rx="5.2" ry="5" fill="#e2d4e4" opacity="0.9" transform="rotate(0 402.7 73)"/>
<ellipse cx="402.7" cy="73" rx="3.3" ry="3.1" fill="#7a5cc8" opacity="1" transform="rotate(0 402.7 73)"/>
<ellipse cx="402.7" cy="73" rx="2" ry="1.9" fill="#34177e" opacity="1" transform="rotate(0 402.7 73)"/>
<ellipse cx="437.9" cy="62.8" rx="5.2" ry="5" fill="#e2d4e4" opacity="0.9" transform="rotate(0 437.9 62.8)"/>
<ellipse cx="437.9" cy="62.8" rx="3.3" ry="3.1" fill="#7a5cc8" opacity="1" transform="rotate(0 437.9 62.8)"/>
<ellipse cx="437.9" cy="62.8" rx="2" ry="1.9" fill="#34177e" opacity="1" transform="rotate(0 437.9 62.8)"/>
</g></g>
<g clip-path="url(#c01)"><g filter="url(#bl)">
<rect x="257" y="102.1" width="65" height="56.4" fill="#b4aed8"/>
<path d="M289,100 L325,100 L325,137 L319,135 L312,127 L304,118 L296,110 Z" fill="#f0ede2"/>
<path d="M264,100 L278,100 L274,106 L268,107 Z" fill="#f0ede2"/>
<g fill="#7a74c0" stroke="#a8a2d4" stroke-width="0.5"><circle cx="262.4" cy="112.5" r="2.4"/><circle cx="261.3" cy="149.6" r="2.5"/><circle cx="268.1" cy="159" r="3"/><circle cx="255.7" cy="150.3" r="3.1"/><circle cx="320.7" cy="139.7" r="2.5"/><circle cx="291.9" cy="136.9" r="2.9"/><circle cx="289.4" cy="132.7" r="3.1"/><circle cx="278.8" cy="112.4" r="2.7"/><circle cx="277" cy="126.1" r="2.9"/><circle cx="284.1" cy="142.1" r="2.7"/><circle cx="323.1" cy="152" r="2.5"/><circle cx="272.5" cy="158.3" r="2.9"/><circle cx="287.4" cy="110.2" r="3.2"/><circle cx="284.2" cy="135.5" r="3"/><circle cx="258.1" cy="160.3" r="2.6"/><circle cx="257.1" cy="117" r="2.8"/><circle cx="303.7" cy="129.5" r="3.1"/><circle cx="299.1" cy="155.8" r="2.9"/><circle cx="304" cy="139.2" r="3.2"/><circle cx="291.6" cy="132.6" r="2.3"/><circle cx="318" cy="149.3" r="3.1"/><circle cx="315.1" cy="140.2" r="2.3"/><circle cx="274.8" cy="118.5" r="2.9"/><circle cx="281.8" cy="126.7" r="3"/><circle cx="269.1" cy="125.9" r="3.1"/><circle cx="279.7" cy="136" r="2.6"/><circle cx="259.3" cy="111.7" r="2.9"/><circle cx="285.3" cy="137.6" r="2.5"/><circle cx="272.4" cy="153.7" r="3.2"/><circle cx="271" cy="111.5" r="3.1"/><circle cx="318.9" cy="140.6" r="2.8"/><circle cx="255.7" cy="160" r="3"/><circle cx="298.3" cy="149.6" r="2.9"/><circle cx="264.5" cy="138.6" r="2.7"/><circle cx="288.1" cy="113.3" r="2.6"/><circle cx="322.2" cy="158.2" r="2.9"/><circle cx="268" cy="141.1" r="2.7"/><circle cx="262.7" cy="152.2" r="2.5"/><circle cx="259" cy="114.4" r="2.6"/><circle cx="282.1" cy="152.8" r="2.8"/><circle cx="271.4" cy="148.2" r="2.4"/><circle cx="265.8" cy="108.7" r="3"/><circle cx="314.6" cy="160.2" r="2.6"/><circle cx="318.4" cy="143.4" r="3.1"/><circle cx="291.6" cy="150.8" r="3.2"/><circle cx="283.3" cy="108.7" r="3.2"/><circle cx="273.4" cy="139.9" r="3"/><circle cx="277.4" cy="114.7" r="3.1"/><circle cx="318.5" cy="143.4" r="2.6"/><circle cx="318.8" cy="141.5" r="2.9"/></g>
<g fill="#6e68b8" stroke="#a8a2d4" stroke-width="0.5"><circle cx="262.7" cy="137.7" r="2.4"/><circle cx="279" cy="105.9" r="2.9"/><circle cx="306.2" cy="127.7" r="3.2"/><circle cx="261.5" cy="129.3" r="3"/><circle cx="262" cy="139" r="2.5"/><circle cx="272" cy="123.5" r="2.6"/><circle cx="264" cy="151.1" r="2.6"/><circle cx="301.2" cy="123.8" r="2.7"/><circle cx="288.2" cy="110.3" r="2.5"/><circle cx="258.9" cy="154.2" r="2.9"/><circle cx="255.1" cy="150.4" r="2.8"/><circle cx="267.5" cy="151" r="2.8"/><circle cx="297" cy="130" r="2.5"/><circle cx="261.9" cy="107.5" r="2.3"/><circle cx="277.4" cy="119.8" r="2.5"/><circle cx="283.8" cy="140.5" r="2.4"/><circle cx="282.7" cy="134" r="2.8"/><circle cx="298.5" cy="131.8" r="3"/><circle cx="294.6" cy="124.9" r="2.4"/><circle cx="277.3" cy="143.3" r="2.6"/><circle cx="276.3" cy="153" r="2.7"/><circle cx="271.9" cy="111.6" r="2.6"/><circle cx="263.8" cy="126.9" r="3.1"/><circle cx="289.8" cy="113.8" r="2.7"/><circle cx="259.5" cy="118.9" r="2.5"/><circle cx="257.7" cy="118.9" r="2.9"/><circle cx="315.4" cy="135.4" r="2.9"/><circle cx="279.3" cy="118.2" r="3.1"/><circle cx="284.3" cy="156.9" r="2.9"/><circle cx="262.9" cy="117.6" r="2.6"/><circle cx="299" cy="151.2" r="3.1"/><circle cx="281.2" cy="139.2" r="2.6"/><circle cx="259.3" cy="100.6" r="3.2"/><circle cx="284.1" cy="122.4" r="2.9"/><circle cx="302.3" cy="133" r="3.2"/><circle cx="264.4" cy="155" r="2.4"/><circle cx="288.7" cy="104.6" r="2.5"/><circle cx="273.5" cy="126.9" r="2.3"/><circle cx="318.1" cy="154.6" r="2.4"/><circle cx="309" cy="130.5" r="3.1"/><circle cx="274.5" cy="130.4" r="2.4"/><circle cx="310.9" cy="153" r="2.6"/><circle cx="287.9" cy="156.5" r="3"/><circle cx="274.5" cy="120.1" r="2.7"/><circle cx="259.5" cy="145.8" r="2.6"/><circle cx="262.7" cy="138.4" r="3"/><circle cx="277.1" cy="111.6" r="3.2"/><circle cx="286.4" cy="156.6" r="2.7"/><circle cx="267.4" cy="155.8" r="2.8"/><circle cx="272.8" cy="154.8" r="2.9"/><circle cx="275.9" cy="135.4" r="3"/><circle cx="292" cy="107.2" r="2.7"/><circle cx="274.6" cy="133.6" r="3.2"/><circle cx="308.5" cy="131.1" r="3"/><circle cx="260.8" cy="146" r="2.8"/></g>
<g fill="#8680c6" stroke="#a8a2d4" stroke-width="0.5"><circle cx="299.6" cy="117.9" r="2.6"/><circle cx="307" cy="139.1" r="2.6"/><circle cx="277.3" cy="128.1" r="2.9"/><circle cx="265.2" cy="118.3" r="2.6"/><circle cx="301.6" cy="135.1" r="2.4"/><circle cx="297.1" cy="141.3" r="3.1"/><circle cx="279.5" cy="129.9" r="2.6"/><circle cx="300.2" cy="122.4" r="3"/><circle cx="281.6" cy="132.7" r="2.8"/><circle cx="313.1" cy="138.1" r="2.7"/><circle cx="283.4" cy="109.5" r="2.5"/><circle cx="259.9" cy="121.6" r="2.5"/><circle cx="314.9" cy="134.9" r="3.1"/><circle cx="273.8" cy="128.2" r="2.8"/><circle cx="289.5" cy="126.9" r="2.5"/><circle cx="285.1" cy="122.9" r="2.5"/><circle cx="281.6" cy="139.8" r="2.8"/><circle cx="315.9" cy="152.1" r="2.4"/><circle cx="261.2" cy="157.3" r="2.7"/><circle cx="292.5" cy="115.2" r="2.4"/><circle cx="289.1" cy="130.3" r="2.4"/><circle cx="314" cy="147.6" r="2.7"/><circle cx="279.8" cy="114.6" r="2.7"/><circle cx="302" cy="150" r="2.4"/><circle cx="298.7" cy="138.4" r="2.6"/><circle cx="276.3" cy="144" r="2.8"/><circle cx="292.9" cy="142.8" r="2.8"/><circle cx="287.8" cy="139.7" r="3"/><circle cx="278.8" cy="148.5" r="2.7"/><circle cx="265.5" cy="155.2" r="2.4"/><circle cx="290.1" cy="124.8" r="2.8"/><circle cx="287.7" cy="139.2" r="2.7"/><circle cx="272.4" cy="133.7" r="2.3"/><circle cx="274" cy="115.9" r="2.6"/><circle cx="285.8" cy="145.9" r="3.1"/><circle cx="323.7" cy="156.8" r="2.8"/><circle cx="283.5" cy="142.2" r="2.7"/><circle cx="299.5" cy="150.6" r="2.6"/><circle cx="309.6" cy="129.1" r="2.7"/><circle cx="289" cy="146.7" r="2.7"/><circle cx="291.7" cy="157.2" r="2.4"/><circle cx="261" cy="139.5" r="3.1"/></g>
<g fill="#928cca" stroke="#a8a2d4" stroke-width="0.5"><circle cx="257.2" cy="131.4" r="2.4"/><circle cx="274.6" cy="113.1" r="2.9"/><circle cx="273.2" cy="154.5" r="2.8"/><circle cx="281.8" cy="102.1" r="2.7"/><circle cx="303.3" cy="154.1" r="2.5"/><circle cx="279.5" cy="103.5" r="2.5"/><circle cx="265.1" cy="140.3" r="3"/><circle cx="273.5" cy="122.8" r="2.5"/><circle cx="279.7" cy="139.6" r="2.6"/><circle cx="291.3" cy="146.6" r="2.5"/><circle cx="262.5" cy="102.9" r="3"/><circle cx="281.8" cy="119" r="2.8"/><circle cx="312.4" cy="136.4" r="2.6"/><circle cx="271.1" cy="136.8" r="2.9"/><circle cx="294.1" cy="115.9" r="3"/><circle cx="277.9" cy="144.6" r="2.5"/><circle cx="271.5" cy="114.5" r="2.7"/><circle cx="278.1" cy="151" r="3.1"/><circle cx="294.7" cy="151.9" r="2.6"/><circle cx="270.7" cy="113.8" r="2.9"/><circle cx="256.4" cy="108.5" r="3.2"/><circle cx="260.8" cy="135.8" r="3.1"/><circle cx="306" cy="145" r="3"/><circle cx="292" cy="119" r="2.9"/><circle cx="304" cy="133.5" r="3.1"/><circle cx="295.4" cy="140.5" r="2.5"/><circle cx="282.5" cy="121.6" r="3.1"/><circle cx="286.2" cy="103.4" r="2.9"/><circle cx="276.3" cy="158.3" r="2.4"/><circle cx="298.8" cy="121.3" r="2.8"/><circle cx="297.1" cy="148.4" r="2.5"/><circle cx="276.9" cy="139.6" r="2.6"/><circle cx="301.5" cy="121.3" r="2.5"/><circle cx="270.5" cy="115.3" r="2.5"/><circle cx="306.3" cy="123" r="2.9"/><circle cx="258" cy="123.1" r="3"/><circle cx="279.6" cy="148.6" r="2.8"/><circle cx="260.5" cy="127" r="2.7"/><circle cx="295.9" cy="128" r="2.7"/><circle cx="275.3" cy="120" r="2.6"/><circle cx="302" cy="118.6" r="2.5"/><circle cx="258.6" cy="132.5" r="2.6"/><circle cx="294" cy="119.6" r="2.5"/><circle cx="265.3" cy="111.2" r="2.6"/><circle cx="275.7" cy="110.5" r="2.6"/><circle cx="265.6" cy="116.1" r="2.3"/></g>
<g fill="#6660b0" stroke="#a8a2d4" stroke-width="0.5"><circle cx="313.1" cy="132.5" r="2.7"/><circle cx="294.4" cy="118.7" r="2.5"/><circle cx="257.9" cy="104.2" r="2.3"/><circle cx="280.4" cy="119.5" r="3.2"/><circle cx="295.9" cy="157.9" r="2.8"/><circle cx="298.5" cy="157.1" r="2.4"/><circle cx="294.6" cy="132.8" r="2.9"/><circle cx="319.1" cy="151.7" r="2.4"/><circle cx="283.9" cy="150.1" r="2.7"/><circle cx="281.6" cy="147.6" r="3.2"/><circle cx="265.1" cy="159" r="3"/><circle cx="271.1" cy="135.1" r="3.1"/><circle cx="261.4" cy="148.8" r="2.6"/><circle cx="320" cy="156.9" r="2.4"/><circle cx="290.8" cy="150.9" r="3.1"/><circle cx="281.8" cy="125.5" r="3.1"/><circle cx="282.6" cy="150.7" r="2.9"/><circle cx="274.9" cy="114.8" r="2.4"/><circle cx="281.7" cy="133.2" r="2.6"/><circle cx="278" cy="111.5" r="2.8"/><circle cx="283.5" cy="106.3" r="2.7"/><circle cx="283.8" cy="147.4" r="3.1"/><circle cx="279.3" cy="121.4" r="2.8"/><circle cx="288.6" cy="126.7" r="2.9"/><circle cx="276.9" cy="159.2" r="3"/><circle cx="294.1" cy="152.7" r="3.1"/><circle cx="271.7" cy="107.9" r="2.5"/><circle cx="270.1" cy="141" r="2.7"/><circle cx="268.1" cy="157.6" r="3"/><circle cx="299.5" cy="157.9" r="2.7"/><circle cx="266.3" cy="118" r="2.7"/><circle cx="260.1" cy="126.6" r="3.1"/><circle cx="260.1" cy="137.6" r="2.9"/><circle cx="288.4" cy="113.8" r="2.5"/><circle cx="273.9" cy="130.3" r="2.5"/><circle cx="261" cy="137.1" r="3"/><circle cx="319.6" cy="137.8" r="2.4"/><circle cx="274.2" cy="153.2" r="2.7"/><circle cx="265.3" cy="141.2" r="2.6"/><circle cx="262" cy="105.4" r="3"/><circle cx="314.5" cy="133.3" r="3"/><circle cx="270.7" cy="155.9" r="2.3"/><circle cx="261.6" cy="133.4" r="3"/></g>
<g fill="#7670bc" stroke="#a8a2d4" stroke-width="0.5"><circle cx="296.5" cy="123" r="3.1"/><circle cx="268.8" cy="157.8" r="2.8"/><circle cx="317.9" cy="145.6" r="2.4"/><circle cx="277.5" cy="105.8" r="3.1"/><circle cx="271.4" cy="111.7" r="2.6"/><circle cx="297.6" cy="143.8" r="3.2"/><circle cx="264.8" cy="136.6" r="2.7"/><circle cx="299.7" cy="151.2" r="2.9"/><circle cx="308.4" cy="142.4" r="3.1"/><circle cx="286.4" cy="137.6" r="2.7"/><circle cx="263.9" cy="147" r="3"/><circle cx="268.6" cy="141.9" r="2.8"/><circle cx="275.5" cy="128.2" r="2.7"/><circle cx="298.8" cy="147.5" r="2.3"/><circle cx="297.2" cy="137.3" r="2.9"/><circle cx="298.7" cy="137.9" r="2.5"/><circle cx="308.4" cy="143.2" r="3.1"/><circle cx="275.2" cy="133.8" r="2.7"/><circle cx="310.3" cy="136.3" r="3.1"/><circle cx="293.2" cy="148.3" r="2.5"/><circle cx="306.6" cy="135.7" r="2.7"/><circle cx="260.4" cy="137.5" r="2.6"/><circle cx="259" cy="144" r="2.6"/><circle cx="296.4" cy="134.9" r="2.8"/><circle cx="257.4" cy="138.9" r="2.5"/><circle cx="296.6" cy="121.4" r="3.2"/><circle cx="284.7" cy="148.4" r="2.9"/><circle cx="278.1" cy="152.7" r="2.6"/><circle cx="290.2" cy="107.7" r="3"/><circle cx="286.9" cy="160.5" r="2.7"/><circle cx="278.9" cy="155.3" r="2.7"/><circle cx="302.4" cy="129.5" r="2.7"/><circle cx="297.3" cy="144.2" r="2.9"/><circle cx="290.7" cy="126" r="2.8"/><circle cx="286.6" cy="132.8" r="2.9"/><circle cx="277.6" cy="136.5" r="2.3"/><circle cx="265" cy="153" r="2.8"/><circle cx="265.4" cy="112.5" r="3.1"/><circle cx="276" cy="121.5" r="2.7"/><circle cx="256.6" cy="110" r="2.5"/><circle cx="294.7" cy="114" r="2.9"/><circle cx="280.2" cy="109.1" r="2.5"/><circle cx="308.8" cy="132" r="2.6"/><circle cx="256.8" cy="140" r="2.3"/><circle cx="295" cy="153.4" r="2.5"/><circle cx="264.3" cy="136" r="2.8"/><circle cx="264.4" cy="126" r="2.5"/><circle cx="274.5" cy="120.1" r="2.7"/><circle cx="305.4" cy="160" r="3"/><circle cx="258.4" cy="142" r="2.6"/><circle cx="273.3" cy="155" r="2.7"/><circle cx="311.7" cy="127.9" r="2.9"/><circle cx="294.9" cy="156" r="2.5"/><circle cx="288.9" cy="131" r="3"/><circle cx="278.6" cy="127.7" r="2.9"/><circle cx="269.6" cy="150.7" r="2.4"/><circle cx="292.9" cy="113.1" r="3.2"/><circle cx="282" cy="102.1" r="2.6"/><circle cx="262.3" cy="103.3" r="3"/><circle cx="261.1" cy="114.9" r="3"/><circle cx="306.9" cy="138.5" r="2.5"/><circle cx="319.7" cy="154.7" r="3"/><circle cx="293.8" cy="153.1" r="2.8"/><circle cx="258.5" cy="140.2" r="2.7"/></g>
<g fill="#3a2e8a" opacity="0.4"><circle cx="313.6" cy="132.4" r="1.6"/><circle cx="294.5" cy="118.2" r="1.1"/><circle cx="262" cy="137.1" r="1.4"/><circle cx="269.3" cy="158.4" r="1.8"/><circle cx="317.8" cy="145" r="1.4"/><circle cx="299.2" cy="117.5" r="1.5"/><circle cx="280.1" cy="119.9" r="1.9"/><circle cx="257.2" cy="131" r="1.5"/><circle cx="260.9" cy="150" r="1.1"/><circle cx="275.3" cy="113.5" r="1.6"/><circle cx="278.2" cy="105.1" r="1.5"/><circle cx="307.5" cy="139.1" r="1.5"/><circle cx="276.7" cy="128" r="1.8"/><circle cx="297.6" cy="143.2" r="1.6"/><circle cx="268.3" cy="158.5" r="1.4"/><circle cx="265.5" cy="117.7" r="1.3"/><circle cx="281.8" cy="102.4" r="1.4"/><circle cx="265.3" cy="136.9" r="1.5"/><circle cx="307.8" cy="142.3" r="1.5"/><circle cx="303.6" cy="153.7" r="1.3"/><circle cx="287" cy="138.3" r="1.4"/><circle cx="255.8" cy="149.8" r="1.9"/><circle cx="295.1" cy="132.6" r="1.5"/><circle cx="306.6" cy="127.1" r="2.1"/><circle cx="278.8" cy="104.2" r="1.5"/><circle cx="302.3" cy="135.2" r="1.2"/><circle cx="264.1" cy="147.4" r="1.9"/><circle cx="264.8" cy="140.4" r="1.4"/><circle cx="273.4" cy="123.3" r="1.5"/><circle cx="279.9" cy="139.9" r="1.4"/><circle cx="321.2" cy="139.2" r="1.4"/><circle cx="292.5" cy="137.4" r="1.8"/><circle cx="283.9" cy="149.5" r="1.5"/><circle cx="289.1" cy="133" r="1.7"/><circle cx="275.7" cy="128.4" r="1.2"/><circle cx="261.8" cy="129.5" r="1.5"/><circle cx="290.9" cy="145.9" r="1.3"/><circle cx="278.5" cy="112.1" r="1.6"/><circle cx="298.7" cy="147.6" r="1.2"/><circle cx="262.7" cy="103.4" r="1.9"/><circle cx="297.8" cy="136.7" r="1.3"/><circle cx="298" cy="138.3" r="1.6"/><circle cx="299.9" cy="122.1" r="1.6"/><circle cx="277" cy="126.6" r="1.7"/><circle cx="283.9" cy="142.3" r="1.7"/><circle cx="261.9" cy="138.2" r="1.5"/><circle cx="322.3" cy="152.3" r="1.2"/><circle cx="273.1" cy="158.6" r="1.7"/><circle cx="281.5" cy="119.7" r="1.7"/><circle cx="287.6" cy="110.4" r="1.7"/><circle cx="281.3" cy="147.8" r="1.8"/><circle cx="283.6" cy="136.2" r="2"/><circle cx="265.8" cy="158.8" r="1.4"/><circle cx="271.8" cy="136.9" r="1.3"/><circle cx="271.1" cy="134.6" r="1.5"/><circle cx="261.2" cy="148.8" r="1.2"/><circle cx="258" cy="159.7" r="1.4"/><circle cx="257.9" cy="117.6" r="1.6"/><circle cx="294.1" cy="116" r="1.7"/><circle cx="263.3" cy="150.3" r="1.4"/><circle cx="299.3" cy="156" r="1.9"/><circle cx="300.8" cy="124.2" r="1.3"/><circle cx="303.7" cy="138.4" r="1.6"/><circle cx="306.3" cy="135.3" r="1.3"/><circle cx="260.3" cy="136.8" r="1.7"/><circle cx="312.7" cy="137.4" r="1.4"/><circle cx="277.3" cy="145.2" r="1.2"/><circle cx="282.9" cy="109.5" r="1.3"/><circle cx="259.5" cy="153.6" r="1.7"/><circle cx="259.5" cy="143.7" r="1.2"/><circle cx="254.4" cy="150.2" r="1.4"/><circle cx="267" cy="150.4" r="1.3"/><circle cx="297.3" cy="130.2" r="1.2"/><circle cx="278" cy="151.4" r="1.5"/><circle cx="291.1" cy="131.9" r="1.2"/><circle cx="296.1" cy="134.3" r="1.3"/><circle cx="273.2" cy="128.8" r="1.6"/><circle cx="270.2" cy="114.3" r="1.9"/><circle cx="282.6" cy="124.8" r="1.6"/><circle cx="317.4" cy="149.6" r="1.6"/><circle cx="314.4" cy="140" r="1.3"/><circle cx="256.9" cy="109.1" r="2"/><circle cx="257.6" cy="139.3" r="1.2"/><circle cx="275.6" cy="119.2" r="1.8"/><circle cx="260.2" cy="135.4" r="1.7"/><circle cx="274.8" cy="115.1" r="1.2"/><circle cx="281.6" cy="133.7" r="1.2"/><circle cx="278.7" cy="111" r="1.8"/><circle cx="277.8" cy="119.2" r="1.2"/><circle cx="282.5" cy="127" r="1.9"/><circle cx="284.3" cy="141" r="1.3"/><circle cx="306.2" cy="145.2" r="1.8"/><circle cx="283.5" cy="107.1" r="1.5"/><circle cx="284.4" cy="147.7" r="1.6"/><circle cx="279" cy="121.9" r="1.7"/><circle cx="285.6" cy="123.4" r="1.6"/><circle cx="268.7" cy="126.5" r="1.6"/><circle cx="292" cy="119.3" r="1.5"/><circle cx="279.7" cy="135.4" r="1.4"/><circle cx="288.6" cy="127.2" r="1.4"/><circle cx="277.2" cy="158.9" r="1.6"/><circle cx="298" cy="131.2" r="1.7"/><circle cx="296.9" cy="120.6" r="1.4"/><circle cx="294.7" cy="124.2" r="1.1"/><circle cx="277.5" cy="143.9" r="1.7"/><circle cx="260" cy="111.8" r="1.8"/><circle cx="285.5" cy="137" r="1.1"/><circle cx="272.2" cy="154" r="1.6"/><circle cx="275.8" cy="152.8" r="1.2"/><circle cx="277.5" cy="153.3" r="1.4"/><circle cx="271.5" cy="110.9" r="1.6"/><circle cx="263.6" cy="127.2" r="1.6"/><circle cx="290.3" cy="107.3" r="1.8"/><circle cx="281.9" cy="140.1" r="1.7"/><circle cx="270.8" cy="111.5" r="1.6"/><circle cx="315.7" cy="152.6" r="1.4"/><circle cx="286.6" cy="160.1" r="1.5"/><circle cx="269.6" cy="140.7" r="1.4"/><circle cx="257.3" cy="118.9" r="1.6"/><circle cx="319.3" cy="140.8" r="1.8"/><circle cx="314.6" cy="135.2" r="1.8"/><circle cx="279.2" cy="155.8" r="1.4"/><circle cx="261.6" cy="157.8" r="1.5"/><circle cx="286.8" cy="103.8" r="1.6"/><circle cx="268.1" cy="158.4" r="1.8"/><circle cx="291.9" cy="115.4" r="1.1"/><circle cx="302.4" cy="129.4" r="1.7"/><circle cx="278.8" cy="118.4" r="1.5"/><circle cx="284.2" cy="157.4" r="1.8"/><circle cx="263.5" cy="117.3" r="1.2"/><circle cx="276.1" cy="157.7" r="1.1"/><circle cx="255.5" cy="160.4" r="1.5"/><circle cx="299.3" cy="157.2" r="1.4"/><circle cx="296.7" cy="143.5" r="1.8"/><circle cx="299.4" cy="150.9" r="1.8"/><circle cx="281.3" cy="139" r="1.6"/><circle cx="289.3" cy="129.7" r="1.2"/><circle cx="313.3" cy="148" r="1.7"/><circle cx="266.5" cy="117.9" r="1.5"/><circle cx="322" cy="158.4" r="1.6"/><circle cx="283.8" cy="123" r="1.3"/><circle cx="268.2" cy="141.2" r="1.7"/><circle cx="279.3" cy="115.2" r="1.5"/><circle cx="263" cy="152.5" r="1.3"/><circle cx="286.8" cy="132.1" r="1.6"/><circle cx="260.6" cy="127.4" r="1.8"/><circle cx="302.8" cy="132.4" r="1.9"/><circle cx="259.7" cy="114.3" r="1.2"/><circle cx="265" cy="155.6" r="1.2"/><circle cx="302" cy="149.7" r="1.3"/><circle cx="277.4" cy="136.8" r="1.1"/><circle cx="288.3" cy="104.9" r="1.3"/><circle cx="273.5" cy="126.2" r="1.4"/><circle cx="260.1" cy="137" r="1.8"/><circle cx="282.2" cy="152.5" r="1.4"/><circle cx="287.8" cy="114.1" r="1.3"/><circle cx="274" cy="129.7" r="1.5"/><circle cx="271.8" cy="148.6" r="1.3"/><circle cx="299.2" cy="121.5" r="1.8"/><circle cx="265.3" cy="112.6" r="1.6"/><circle cx="275.8" cy="144.7" r="1.6"/><circle cx="276.6" cy="120.8" r="1.5"/><circle cx="255.9" cy="110" r="1.6"/><circle cx="275.2" cy="130.6" r="1.1"/><circle cx="310.5" cy="153.2" r="1.2"/><circle cx="261.7" cy="137.7" r="1.4"/><circle cx="277.2" cy="139.3" r="1.2"/><circle cx="265.6" cy="108.5" r="1.8"/><circle cx="293.9" cy="114.2" r="1.7"/><circle cx="293.6" cy="142.2" r="1.3"/><circle cx="288" cy="139.5" r="1.9"/><circle cx="319.7" cy="137.3" r="1.5"/><circle cx="309.5" cy="132" r="1.5"/><circle cx="302.2" cy="122" r="1.4"/><circle cx="270.2" cy="115" r="1.4"/><circle cx="274.8" cy="120.3" r="1.5"/><circle cx="295.4" cy="154" r="1.2"/><circle cx="265.9" cy="154.6" r="1.2"/><circle cx="317.9" cy="143.6" r="1.4"/><circle cx="263.5" cy="136.8" r="1.4"/><circle cx="264.6" cy="126.1" r="1.6"/><circle cx="291.1" cy="151.6" r="2"/><circle cx="289.8" cy="124" r="1.5"/><circle cx="274.3" cy="119.8" r="1.4"/><circle cx="283.3" cy="109.5" r="1.9"/><circle cx="305.9" cy="160.4" r="1.9"/><circle cx="258.7" cy="142" r="1.5"/><circle cx="288.5" cy="138.8" r="1.6"/><circle cx="273.5" cy="139.5" r="1.7"/><circle cx="273.4" cy="155.1" r="1.8"/><circle cx="260" cy="145.4" r="1.3"/><circle cx="257.4" cy="122.7" r="1.4"/><circle cx="279.2" cy="148.3" r="1.5"/><circle cx="265.5" cy="141.2" r="1.6"/><circle cx="271.9" cy="134" r="1.2"/><circle cx="277.3" cy="114" r="1.5"/><circle cx="318.2" cy="143.3" r="1.5"/><circle cx="294.2" cy="155.5" r="1.5"/><circle cx="261.2" cy="127.4" r="1.2"/><circle cx="295.9" cy="128.7" r="1.5"/><circle cx="288.4" cy="131.1" r="1.9"/><circle cx="274.8" cy="119.4" r="1.6"/><circle cx="262.5" cy="105" r="1.5"/><circle cx="314.4" cy="132.6" r="1.7"/><circle cx="273.6" cy="115.8" r="1.6"/><circle cx="258.9" cy="132" r="1.7"/><circle cx="278.3" cy="127.7" r="1.6"/><circle cx="294.3" cy="120.1" r="1.4"/><circle cx="286.3" cy="156.8" r="1.2"/><circle cx="267.7" cy="156.1" r="1.4"/><circle cx="268.9" cy="150.1" r="1.5"/><circle cx="286.1" cy="145.6" r="1.5"/><circle cx="282.3" cy="102.4" r="1.3"/><circle cx="265.8" cy="110.6" r="1.7"/><circle cx="323" cy="157.3" r="1.7"/><circle cx="275.5" cy="136" r="1.8"/><circle cx="269.9" cy="155.5" r="1.1"/><circle cx="276.1" cy="110" r="1.6"/><circle cx="260.9" cy="132.7" r="1.7"/><circle cx="283.9" cy="142.5" r="1.4"/><circle cx="300.1" cy="150" r="1.4"/><circle cx="291.3" cy="106.8" r="1.7"/><circle cx="274.6" cy="133.2" r="1.5"/><circle cx="262.6" cy="102.9" r="1.8"/><circle cx="265" cy="116.2" r="1.1"/><circle cx="308.2" cy="130.4" r="1.5"/><circle cx="261.5" cy="145.8" r="1.5"/><circle cx="261.6" cy="115.3" r="1.5"/><circle cx="306.6" cy="138.4" r="1.4"/><circle cx="319.6" cy="155.3" r="1.8"/><circle cx="259.2" cy="140.7" r="1.4"/><circle cx="261.7" cy="139.4" r="1.6"/></g>
<g fill="#2a1e6a"></g>
</g></g>
<g clip-path="url(#c11)"><g filter="url(#bl)">
<rect x="325" y="102.1" width="62.7" height="56.4" fill="#aaa4d2"/>
<path d="M364,100 L390,100 L390,114 L383,114 L375,110 L369,106 Z" fill="#e6e4e0"/>
<path d="M341,125 L344,124 L350,132 L349,137 L346,137 L342,131 Z" fill="#e6e4e0"/>
<path d="M369,129 L371,129 L374,138 L373,144 L370,143 L368,136 Z" fill="#e6e4e0"/>
<path d="M324,143 L328,143 L330,150 L328,160 L324,160 Z" fill="#e6e4e0"/>
<g fill="#6c5ec0" stroke="#a8a2d4" stroke-width="0.5"><circle cx="366.7" cy="129.9" r="3"/><circle cx="344.6" cy="150.4" r="2.8"/><circle cx="346.2" cy="108.5" r="2.9"/><circle cx="365" cy="115.8" r="3.1"/><circle cx="337.2" cy="141.3" r="3.2"/><circle cx="343.6" cy="121.8" r="2.9"/><circle cx="386.7" cy="124.8" r="3"/><circle cx="387.1" cy="120" r="3.3"/><circle cx="354.8" cy="149.7" r="2.5"/><circle cx="330.4" cy="144.1" r="2.9"/><circle cx="357" cy="157.9" r="2.7"/><circle cx="349.5" cy="100.6" r="3.1"/><circle cx="370.2" cy="144.5" r="3"/><circle cx="328.9" cy="114.5" r="3.2"/><circle cx="361.3" cy="112.8" r="3.1"/><circle cx="373.1" cy="119.8" r="3.1"/><circle cx="373.2" cy="115.1" r="2.6"/><circle cx="366.8" cy="144.8" r="2.5"/><circle cx="381.5" cy="155.7" r="2.8"/><circle cx="361" cy="113.6" r="2.5"/><circle cx="339.1" cy="154" r="2.6"/><circle cx="384.6" cy="155.1" r="2.8"/><circle cx="331.8" cy="148.8" r="3"/><circle cx="388.6" cy="129.2" r="2.6"/><circle cx="343.3" cy="119.1" r="2.6"/><circle cx="360.9" cy="146.6" r="2.6"/><circle cx="357.8" cy="135.2" r="3.2"/><circle cx="376.8" cy="139.6" r="2.9"/><circle cx="354.5" cy="140.7" r="3.1"/><circle cx="383.1" cy="147.5" r="2.6"/><circle cx="350.8" cy="129" r="2.6"/><circle cx="340.6" cy="116.1" r="2.5"/><circle cx="368.7" cy="128.9" r="2.7"/><circle cx="377.8" cy="152.2" r="2.9"/><circle cx="337.3" cy="120.7" r="2.6"/><circle cx="363" cy="160.4" r="3.2"/><circle cx="330.1" cy="108.8" r="2.9"/><circle cx="346.9" cy="156.9" r="2.6"/><circle cx="367" cy="131" r="2.5"/><circle cx="337.1" cy="140.2" r="3"/><circle cx="336.1" cy="115.7" r="2.9"/><circle cx="345.9" cy="105.9" r="2.7"/><circle cx="347.3" cy="140.1" r="3.3"/><circle cx="359.3" cy="109.9" r="2.5"/><circle cx="371.5" cy="114.4" r="2.5"/><circle cx="354.8" cy="123.5" r="2.7"/><circle cx="345.6" cy="104.9" r="3.1"/><circle cx="367.7" cy="126.3" r="3"/><circle cx="330.7" cy="123.1" r="3"/><circle cx="388.8" cy="123.8" r="2.6"/><circle cx="361.6" cy="134.7" r="2.6"/><circle cx="362.1" cy="134.8" r="2.7"/><circle cx="337.2" cy="100.2" r="2.5"/><circle cx="345.6" cy="101.7" r="2.7"/><circle cx="377.1" cy="144.3" r="2.6"/><circle cx="350.8" cy="115.3" r="2.6"/></g>
<g fill="#6254b8" stroke="#a8a2d4" stroke-width="0.5"><circle cx="382.3" cy="124.7" r="2.9"/><circle cx="335.5" cy="118.8" r="3.2"/><circle cx="370.5" cy="156.3" r="2.5"/><circle cx="379.3" cy="147.7" r="3.2"/><circle cx="344.7" cy="100.3" r="3"/><circle cx="383.6" cy="136.3" r="2.5"/><circle cx="325.5" cy="103" r="2.6"/><circle cx="329.9" cy="158.9" r="3"/><circle cx="356" cy="134.9" r="2.7"/><circle cx="364.3" cy="117.8" r="2.6"/><circle cx="384.4" cy="120" r="3.1"/><circle cx="369" cy="158.5" r="2.5"/><circle cx="327.5" cy="101" r="2.7"/><circle cx="385.5" cy="133.6" r="2.5"/><circle cx="380.2" cy="122.3" r="3.2"/><circle cx="353" cy="151.4" r="2.7"/><circle cx="375.7" cy="115.4" r="2.9"/><circle cx="382.3" cy="128.2" r="2.7"/><circle cx="365.8" cy="138.4" r="3"/><circle cx="360.4" cy="101.9" r="3.1"/><circle cx="385" cy="133.9" r="2.4"/><circle cx="335.8" cy="142.8" r="3.1"/><circle cx="388.8" cy="160.2" r="3.2"/><circle cx="344" cy="117.8" r="2.7"/><circle cx="376.8" cy="142.9" r="2.7"/><circle cx="385.7" cy="143.6" r="2.7"/><circle cx="355.8" cy="152.5" r="2.9"/><circle cx="365.4" cy="153.7" r="3.1"/><circle cx="344.8" cy="160" r="2.9"/><circle cx="363.3" cy="122.9" r="3.1"/><circle cx="380.9" cy="121.9" r="3.2"/><circle cx="370.5" cy="113.1" r="2.8"/><circle cx="374.6" cy="148.6" r="3.2"/><circle cx="334.7" cy="136.5" r="3.2"/><circle cx="359.2" cy="124.8" r="3"/><circle cx="343.7" cy="138.5" r="2.8"/><circle cx="333.7" cy="141.8" r="2.4"/><circle cx="348.7" cy="105.7" r="3.2"/><circle cx="352" cy="123.7" r="2.6"/><circle cx="327.3" cy="100.7" r="2.9"/><circle cx="330.4" cy="117.4" r="2.5"/><circle cx="358.5" cy="111" r="2.9"/><circle cx="356.6" cy="155.9" r="2.9"/><circle cx="345.3" cy="116.2" r="3"/><circle cx="329.7" cy="130.4" r="2.8"/><circle cx="327.2" cy="135.7" r="3.2"/><circle cx="323.2" cy="105.6" r="3.1"/><circle cx="331.4" cy="121.5" r="2.9"/><circle cx="347" cy="145.7" r="3.1"/><circle cx="386.9" cy="117.5" r="2.5"/><circle cx="359.1" cy="104.2" r="2.6"/><circle cx="371.6" cy="116.3" r="3.2"/><circle cx="367.1" cy="129.3" r="2.9"/><circle cx="384.3" cy="128.6" r="2.9"/><circle cx="323.1" cy="148.3" r="2.6"/><circle cx="352.1" cy="151.3" r="2.5"/><circle cx="365" cy="136" r="3.2"/><circle cx="340.1" cy="150.4" r="2.6"/><circle cx="375.6" cy="143.8" r="2.5"/><circle cx="377.8" cy="112.9" r="2.4"/><circle cx="381.3" cy="126.3" r="3"/><circle cx="348.5" cy="143.6" r="2.9"/><circle cx="375.7" cy="118.6" r="2.9"/><circle cx="366.5" cy="116" r="3.2"/><circle cx="357.6" cy="125.8" r="3.2"/></g>
<g fill="#7a6cc6" stroke="#a8a2d4" stroke-width="0.5"><circle cx="335.3" cy="116.5" r="3.3"/><circle cx="353.3" cy="149" r="2.6"/><circle cx="367.4" cy="108.3" r="3.1"/><circle cx="326.6" cy="118.1" r="2.7"/><circle cx="378.8" cy="138.6" r="3.1"/><circle cx="336.2" cy="142.6" r="2.6"/><circle cx="374.9" cy="128.6" r="3.3"/><circle cx="366.8" cy="156.7" r="2.6"/><circle cx="376" cy="132.2" r="2.5"/><circle cx="374.5" cy="140.2" r="2.5"/><circle cx="353.5" cy="113.8" r="3.3"/><circle cx="349.7" cy="108.2" r="3.1"/><circle cx="331.5" cy="113.5" r="2.6"/><circle cx="366.1" cy="128.5" r="2.8"/><circle cx="349.3" cy="107.2" r="3"/><circle cx="351.2" cy="117.9" r="2.4"/><circle cx="370.8" cy="158" r="3.1"/><circle cx="339.8" cy="140.5" r="2.6"/><circle cx="330" cy="127.6" r="3"/><circle cx="340" cy="102.5" r="2.4"/><circle cx="343.1" cy="137.4" r="2.8"/><circle cx="359" cy="120.4" r="3.1"/><circle cx="365.6" cy="153.7" r="2.9"/><circle cx="351.3" cy="136.5" r="2.6"/><circle cx="356.9" cy="130.3" r="2.6"/><circle cx="375.8" cy="135.7" r="3"/><circle cx="333.4" cy="133.4" r="3"/><circle cx="344.7" cy="156.8" r="2.5"/><circle cx="369.8" cy="156.8" r="3.2"/><circle cx="368.9" cy="119.3" r="3.1"/><circle cx="385" cy="128.7" r="3.1"/><circle cx="354.4" cy="129.9" r="2.6"/><circle cx="353.6" cy="157.9" r="2.8"/><circle cx="329.7" cy="124.7" r="2.9"/><circle cx="328.7" cy="103.5" r="2.6"/><circle cx="351.7" cy="136.2" r="2.4"/><circle cx="388.6" cy="126.2" r="3.1"/><circle cx="380.9" cy="118.6" r="3.1"/><circle cx="348.2" cy="102.4" r="3.1"/><circle cx="378.3" cy="156.8" r="2.6"/><circle cx="349.4" cy="113.6" r="2.6"/><circle cx="340.6" cy="121.2" r="2.5"/><circle cx="352.2" cy="117.1" r="2.9"/><circle cx="357.4" cy="120.7" r="2.7"/></g>
<g fill="#7064c0" stroke="#a8a2d4" stroke-width="0.5"><circle cx="343" cy="136.6" r="3.3"/><circle cx="363.5" cy="151.8" r="3.3"/><circle cx="335.5" cy="155.5" r="2.9"/><circle cx="366.3" cy="148.7" r="3"/><circle cx="347.1" cy="119.4" r="3.1"/><circle cx="379.6" cy="125" r="2.5"/><circle cx="365.3" cy="141.9" r="3.1"/><circle cx="375.7" cy="150.8" r="2.8"/><circle cx="362.7" cy="102" r="2.9"/><circle cx="363.9" cy="101.1" r="2.7"/><circle cx="388.4" cy="126.5" r="3.1"/><circle cx="327.7" cy="119.6" r="3"/><circle cx="325.9" cy="133.7" r="2.9"/><circle cx="362.9" cy="131.5" r="2.8"/><circle cx="389" cy="153.1" r="3.2"/><circle cx="343.8" cy="116" r="2.4"/><circle cx="339.6" cy="148.2" r="2.7"/><circle cx="325" cy="139.3" r="3.2"/><circle cx="325" cy="126.6" r="2.5"/><circle cx="384.9" cy="122.8" r="2.5"/><circle cx="337.2" cy="105.1" r="2.6"/><circle cx="386.8" cy="116.3" r="3.2"/><circle cx="334.7" cy="108.5" r="2.5"/><circle cx="352.1" cy="135.9" r="2.6"/><circle cx="362.4" cy="126.2" r="3"/><circle cx="337.6" cy="153.4" r="3.3"/><circle cx="362.6" cy="113.1" r="3.2"/><circle cx="355" cy="126.7" r="3.3"/><circle cx="351.4" cy="121.4" r="3"/><circle cx="356.9" cy="143.1" r="3"/><circle cx="332.9" cy="150.7" r="2.4"/><circle cx="360.4" cy="108.7" r="2.6"/><circle cx="386.5" cy="152" r="3.3"/><circle cx="361.2" cy="154.9" r="2.9"/><circle cx="348.1" cy="153" r="2.9"/><circle cx="380.2" cy="115.8" r="2.9"/><circle cx="343.1" cy="160.1" r="2.5"/><circle cx="332.4" cy="135.3" r="3.3"/><circle cx="357.4" cy="119.6" r="3.3"/><circle cx="324.8" cy="136.1" r="3"/><circle cx="340.9" cy="110.4" r="3.1"/><circle cx="355.5" cy="122.4" r="2.6"/><circle cx="345.1" cy="151.5" r="3.2"/><circle cx="353.7" cy="114.4" r="2.8"/><circle cx="324" cy="113.9" r="2.7"/><circle cx="350.8" cy="157.9" r="2.7"/><circle cx="360.8" cy="145.6" r="2.7"/><circle cx="338.3" cy="105.4" r="3.1"/><circle cx="374.1" cy="148.2" r="3"/><circle cx="330.6" cy="145.4" r="2.8"/><circle cx="373.5" cy="125" r="3.2"/><circle cx="358.4" cy="145.9" r="2.6"/><circle cx="335" cy="124" r="2.9"/><circle cx="330.9" cy="128.1" r="2.8"/><circle cx="344.5" cy="139.1" r="3.1"/><circle cx="367.3" cy="147.8" r="3.2"/><circle cx="343.1" cy="143.3" r="2.4"/><circle cx="343.4" cy="103.6" r="2.5"/></g>
<g fill="#584ab0" stroke="#a8a2d4" stroke-width="0.5"><circle cx="337.3" cy="121.5" r="3.2"/><circle cx="387.1" cy="118.7" r="2.7"/><circle cx="339.1" cy="146.8" r="2.4"/><circle cx="347" cy="159.3" r="3.2"/><circle cx="346.3" cy="111.3" r="3.2"/><circle cx="348.6" cy="154.2" r="3"/><circle cx="375.9" cy="112.7" r="3.2"/><circle cx="381.7" cy="137.4" r="2.6"/><circle cx="383.4" cy="123.2" r="2.5"/><circle cx="360.5" cy="137.1" r="3.1"/><circle cx="351.8" cy="107.2" r="3.3"/><circle cx="359.5" cy="123.4" r="2.6"/><circle cx="327.3" cy="127.6" r="3"/><circle cx="379" cy="127.7" r="3.1"/><circle cx="336.2" cy="107.3" r="2.9"/><circle cx="385.6" cy="125.4" r="3"/><circle cx="330.1" cy="104.4" r="2.5"/><circle cx="334.4" cy="109.2" r="2.7"/><circle cx="359.2" cy="155.1" r="3.1"/><circle cx="371.9" cy="118.9" r="3.2"/><circle cx="347.2" cy="154.2" r="2.7"/><circle cx="325.2" cy="126.7" r="3.1"/><circle cx="350.3" cy="158.1" r="3.3"/><circle cx="336.7" cy="130.8" r="2.9"/><circle cx="351.5" cy="158.6" r="2.7"/><circle cx="338" cy="112.8" r="2.5"/><circle cx="361.3" cy="134" r="2.8"/><circle cx="342" cy="102.5" r="2.4"/><circle cx="330.5" cy="119.6" r="2.4"/><circle cx="362.4" cy="151.2" r="3.1"/><circle cx="362.2" cy="158.6" r="3"/><circle cx="357.5" cy="115.1" r="3.2"/><circle cx="347.1" cy="102.1" r="3.3"/><circle cx="330.4" cy="116.5" r="2.9"/><circle cx="326.6" cy="123.1" r="2.6"/><circle cx="346.9" cy="120.4" r="3"/><circle cx="334.4" cy="130.9" r="2.7"/><circle cx="341.3" cy="118.3" r="2.6"/><circle cx="387.1" cy="136.5" r="3.3"/><circle cx="348.9" cy="109.1" r="2.6"/><circle cx="336.3" cy="102.4" r="3.1"/><circle cx="365.9" cy="141.9" r="2.5"/><circle cx="356.6" cy="138.7" r="3.1"/><circle cx="350.5" cy="154" r="2.6"/></g>
<g fill="#6658bc" stroke="#a8a2d4" stroke-width="0.5"><circle cx="386.9" cy="122" r="3"/><circle cx="352.9" cy="145.5" r="3.2"/><circle cx="341.8" cy="102.1" r="3.3"/><circle cx="356.7" cy="125.7" r="2.5"/><circle cx="340.6" cy="121.6" r="2.5"/><circle cx="369.1" cy="125.5" r="2.4"/><circle cx="386" cy="126.7" r="2.9"/><circle cx="371" cy="152.1" r="2.6"/><circle cx="372.7" cy="113.6" r="3.1"/><circle cx="378.8" cy="143.4" r="2.4"/><circle cx="329.3" cy="126.8" r="3.3"/><circle cx="353.6" cy="112.9" r="2.4"/><circle cx="338.1" cy="151.7" r="3.1"/><circle cx="359.2" cy="110.8" r="2.7"/><circle cx="338.5" cy="128.9" r="2.9"/><circle cx="334.7" cy="129.2" r="2.4"/><circle cx="371.3" cy="113.4" r="2.7"/><circle cx="327.2" cy="141.4" r="2.4"/><circle cx="328.7" cy="123.9" r="2.5"/><circle cx="363.3" cy="117.5" r="2.8"/><circle cx="388.1" cy="137.3" r="2.7"/><circle cx="334.5" cy="119.4" r="3.1"/><circle cx="386.1" cy="128.5" r="2.8"/><circle cx="336.9" cy="122" r="2.7"/><circle cx="335.3" cy="117.7" r="2.9"/><circle cx="328.8" cy="104.3" r="3.1"/><circle cx="323.3" cy="141.6" r="3"/><circle cx="347.7" cy="123.5" r="2.7"/><circle cx="337.6" cy="126.5" r="2.5"/><circle cx="331.3" cy="101.4" r="3"/><circle cx="334" cy="154" r="3.1"/><circle cx="366.3" cy="106" r="2.8"/><circle cx="353.4" cy="152.3" r="2.8"/><circle cx="359.1" cy="144.8" r="2.5"/><circle cx="325.3" cy="128.2" r="2.8"/><circle cx="386.8" cy="139.1" r="3.1"/><circle cx="383.9" cy="148.8" r="3"/><circle cx="386.3" cy="138.4" r="2.9"/><circle cx="364.6" cy="139.6" r="2.5"/><circle cx="343.4" cy="119.7" r="3.2"/><circle cx="389" cy="144.5" r="3.1"/><circle cx="325.1" cy="115.6" r="2.7"/><circle cx="335.2" cy="109.6" r="2.7"/><circle cx="333.7" cy="157.9" r="3.3"/><circle cx="384.3" cy="121.1" r="2.7"/><circle cx="379.3" cy="122.2" r="3.3"/><circle cx="347.1" cy="115.7" r="2.6"/><circle cx="324.9" cy="113.4" r="3.3"/><circle cx="385.7" cy="150.4" r="3"/><circle cx="328.4" cy="137.8" r="2.9"/><circle cx="374.8" cy="117.7" r="3.2"/><circle cx="333.8" cy="135.5" r="2.6"/><circle cx="381.7" cy="159.2" r="2.4"/></g>
<g fill="#2e2278" opacity="0.6"><circle cx="343.2" cy="136.5" r="1.7"/><circle cx="337" cy="122.3" r="1.5"/><circle cx="382.6" cy="124" r="1.8"/><circle cx="335" cy="117" r="2"/><circle cx="362.7" cy="151.3" r="2.1"/><circle cx="354.1" cy="149.4" r="1.6"/><circle cx="366.8" cy="108.5" r="1.7"/><circle cx="387.6" cy="122.4" r="1.4"/><circle cx="367.2" cy="130.2" r="1.7"/><circle cx="352.8" cy="146.2" r="1.7"/><circle cx="335.7" cy="156.3" r="1.6"/><circle cx="367" cy="148.5" r="1.9"/><circle cx="346.5" cy="108" r="1.5"/><circle cx="336.2" cy="118.6" r="1.9"/><circle cx="346.7" cy="120.1" r="1.7"/><circle cx="378.5" cy="138.6" r="1.8"/><circle cx="380.2" cy="125" r="1.3"/><circle cx="365.4" cy="115.5" r="1.8"/><circle cx="347.2" cy="159.8" r="2"/><circle cx="346.2" cy="112" r="1.6"/><circle cx="337.8" cy="141.6" r="1.8"/><circle cx="379.9" cy="147.3" r="1.5"/><circle cx="341.5" cy="102.4" r="2"/><circle cx="348.6" cy="154.4" r="1.9"/><circle cx="343.9" cy="121.1" r="1.8"/><circle cx="344.7" cy="101.1" r="1.7"/><circle cx="362.3" cy="102.3" r="1.5"/><circle cx="375.2" cy="113.2" r="1.4"/><circle cx="356" cy="125.1" r="1.3"/><circle cx="387.2" cy="119.9" r="2.1"/><circle cx="381.6" cy="137.1" r="1.3"/><circle cx="336.6" cy="143.1" r="1.3"/><circle cx="364.5" cy="101.4" r="1.6"/><circle cx="340.4" cy="120.9" r="1.5"/><circle cx="368.5" cy="124.9" r="1.2"/><circle cx="354.4" cy="149.6" r="1.3"/><circle cx="389" cy="126.4" r="1.5"/><circle cx="330.9" cy="144.5" r="1.6"/><circle cx="328" cy="119.2" r="1.5"/><circle cx="386.7" cy="127.1" r="1.6"/><circle cx="371.3" cy="151.7" r="1.5"/><circle cx="372.1" cy="114.4" r="1.9"/><circle cx="325.4" cy="132.9" r="1.8"/><circle cx="330" cy="159.1" r="1.6"/><circle cx="356.3" cy="158.1" r="1.3"/><circle cx="359.7" cy="137.2" r="1.6"/><circle cx="349.5" cy="101.1" r="1.5"/><circle cx="369.6" cy="144.6" r="1.8"/><circle cx="328.5" cy="114.2" r="1.6"/><circle cx="355.3" cy="134.3" r="1.6"/><circle cx="379.5" cy="143.9" r="1.1"/><circle cx="363.9" cy="117.6" r="1.4"/><circle cx="329.3" cy="127" r="2"/><circle cx="372.3" cy="119.4" r="2"/><circle cx="375.7" cy="131.5" r="1.2"/><circle cx="354.3" cy="112.7" r="1.5"/><circle cx="369.4" cy="159.2" r="1.5"/><circle cx="352.1" cy="107.6" r="1.9"/><circle cx="373.8" cy="115.3" r="1.5"/><circle cx="367.1" cy="144.5" r="1.2"/><circle cx="327.8" cy="101.2" r="1.5"/><circle cx="381.4" cy="156" r="1.4"/><circle cx="389.5" cy="152.4" r="2"/><circle cx="338.3" cy="152.3" r="1.5"/><circle cx="344.6" cy="115.8" r="1.4"/><circle cx="361.7" cy="114.3" r="1.3"/><circle cx="358.9" cy="110.8" r="1.3"/><circle cx="339.3" cy="154.6" r="1.3"/><circle cx="324.9" cy="126.4" r="1.4"/><circle cx="383.9" cy="154.8" r="1.5"/><circle cx="385" cy="133.8" r="1.6"/><circle cx="384.5" cy="122.3" r="1.5"/><circle cx="332" cy="148.6" r="1.4"/><circle cx="389.1" cy="129.8" r="1.5"/><circle cx="375" cy="140.9" r="1.5"/><circle cx="379.4" cy="122.2" r="1.9"/><circle cx="343.6" cy="118.3" r="1.7"/><circle cx="339.3" cy="129.1" r="1.4"/><circle cx="352.9" cy="113.6" r="1.9"/><circle cx="361.4" cy="146.8" r="1.4"/><circle cx="360.3" cy="122.9" r="1.3"/><circle cx="357.7" cy="134.5" r="2"/><circle cx="386.7" cy="116.9" r="2.1"/><circle cx="376.8" cy="139.6" r="1.7"/><circle cx="352.4" cy="135.5" r="1.3"/><circle cx="354.2" cy="141.1" r="2"/><circle cx="349.5" cy="108.5" r="1.9"/><circle cx="331.5" cy="114.2" r="1.5"/><circle cx="365.9" cy="128.8" r="1.5"/><circle cx="366.4" cy="138.7" r="1.5"/><circle cx="328" cy="127.7" r="1.6"/><circle cx="360" cy="101.3" r="1.5"/><circle cx="383.8" cy="148.3" r="1.3"/><circle cx="340.2" cy="116.6" r="1.5"/><circle cx="336.3" cy="142.8" r="1.7"/><circle cx="379.1" cy="128.1" r="1.4"/><circle cx="371.2" cy="113" r="1.3"/><circle cx="388.3" cy="160.7" r="2"/><circle cx="370.8" cy="157.7" r="1.9"/><circle cx="344.7" cy="118.4" r="1.5"/><circle cx="368.1" cy="128.7" r="1.5"/><circle cx="386.3" cy="126.1" r="1.7"/><circle cx="330.6" cy="128.3" r="1.7"/><circle cx="327.6" cy="141.9" r="1.3"/><circle cx="328.4" cy="124.3" r="1.2"/><circle cx="330" cy="104" r="1.3"/><circle cx="376.9" cy="142.2" r="1.7"/><circle cx="363.8" cy="117.9" r="1.8"/><circle cx="355.8" cy="153" r="1.7"/><circle cx="387.9" cy="136.8" r="1.4"/><circle cx="339.7" cy="103.1" r="1.6"/><circle cx="342.7" cy="138.1" r="1.5"/><circle cx="334.2" cy="109.7" r="1.3"/><circle cx="337.9" cy="121.3" r="1.2"/><circle cx="362.9" cy="161" r="1.9"/><circle cx="336.3" cy="122.6" r="1.2"/><circle cx="334.8" cy="118.1" r="1.7"/><circle cx="337.8" cy="152.8" r="1.8"/><circle cx="345.2" cy="159.2" r="1.8"/><circle cx="364" cy="123" r="1.9"/><circle cx="381.6" cy="122.5" r="1.9"/><circle cx="370" cy="113.3" r="1.7"/><circle cx="350.8" cy="136.7" r="1.2"/><circle cx="374.2" cy="148.2" r="1.8"/><circle cx="328.5" cy="103.8" r="1.5"/><circle cx="359.8" cy="124.5" r="1.6"/><circle cx="343.4" cy="138.5" r="1.4"/><circle cx="354.6" cy="126.7" r="1.8"/><circle cx="357.7" cy="130.2" r="1.4"/><circle cx="351.3" cy="121.9" r="1.7"/><circle cx="356.4" cy="143.4" r="1.8"/><circle cx="334.1" cy="133.9" r="1.4"/><circle cx="344.9" cy="157.2" r="1.3"/><circle cx="347.4" cy="123.2" r="1.7"/><circle cx="334.1" cy="141.2" r="1.2"/><circle cx="349.5" cy="105" r="1.5"/><circle cx="331.2" cy="100.8" r="1.5"/><circle cx="351.2" cy="124" r="1.7"/><circle cx="333.3" cy="154.1" r="1.8"/><circle cx="325.1" cy="125.9" r="1.8"/><circle cx="360.6" cy="108.7" r="1.6"/><circle cx="370.1" cy="156.9" r="1.9"/><circle cx="350.9" cy="157.6" r="2.1"/><circle cx="360.4" cy="155" r="1.4"/><circle cx="348.5" cy="152.7" r="1.8"/><circle cx="365.6" cy="105.6" r="1.7"/><circle cx="336.8" cy="131.3" r="1.7"/><circle cx="352.8" cy="152.7" r="1.3"/><circle cx="379.6" cy="116.3" r="1.8"/><circle cx="325" cy="128.7" r="1.6"/><circle cx="386.8" cy="138.8" r="1.5"/><circle cx="384.3" cy="128.2" r="2"/><circle cx="343.7" cy="160" r="1.2"/><circle cx="384.2" cy="148.7" r="1.7"/><circle cx="335.9" cy="115.2" r="1.4"/><circle cx="354.4" cy="130.6" r="1.4"/><circle cx="331.8" cy="135.7" r="1.7"/><circle cx="354.3" cy="158.2" r="1.5"/><circle cx="386.1" cy="138.6" r="1.5"/><circle cx="327.6" cy="101.1" r="1.4"/><circle cx="330.7" cy="116.6" r="1.1"/><circle cx="351.5" cy="158.4" r="1.6"/><circle cx="325.2" cy="135.8" r="1.5"/><circle cx="364" cy="140.2" r="1.3"/><circle cx="359.7" cy="109.4" r="1.4"/><circle cx="372" cy="114" r="1.2"/><circle cx="355.1" cy="124" r="1.5"/><circle cx="356.2" cy="156.3" r="1.8"/><circle cx="346.3" cy="104.5" r="1.5"/><circle cx="344.1" cy="119.8" r="1.8"/><circle cx="342.4" cy="102.5" r="1.2"/><circle cx="367.6" cy="126.6" r="1.7"/><circle cx="345.2" cy="116.7" r="1.4"/><circle cx="330.3" cy="130.5" r="1.5"/><circle cx="327.2" cy="135.1" r="1.9"/><circle cx="340.5" cy="111.2" r="1.7"/><circle cx="322.7" cy="106.2" r="1.8"/><circle cx="331.3" cy="122.4" r="1.5"/><circle cx="361.9" cy="158.2" r="1.8"/><circle cx="331.7" cy="120.9" r="1.3"/><circle cx="352.1" cy="136.5" r="1.5"/><circle cx="357.6" cy="114.8" r="2"/><circle cx="325" cy="115.4" r="1.4"/><circle cx="388.9" cy="125.8" r="1.4"/><circle cx="380.3" cy="119" r="1.9"/><circle cx="354.9" cy="122.1" r="1.4"/><circle cx="344.6" cy="152" r="1.8"/><circle cx="388.2" cy="123.5" r="1.2"/><circle cx="362.2" cy="135.3" r="1.3"/><circle cx="362.1" cy="135.4" r="1.3"/><circle cx="324.6" cy="113.5" r="1.5"/><circle cx="348.6" cy="102.4" r="2"/><circle cx="326.8" cy="123" r="1.7"/><circle cx="334.4" cy="157.2" r="1.8"/><circle cx="336.4" cy="100.1" r="1.3"/><circle cx="384.3" cy="121.1" r="1.4"/><circle cx="347.3" cy="120.6" r="1.8"/><circle cx="379" cy="122.8" r="1.7"/><circle cx="351.6" cy="157.4" r="1.5"/><circle cx="347.6" cy="115.5" r="1.5"/><circle cx="324.2" cy="113.4" r="2"/><circle cx="359.4" cy="103.6" r="1.5"/><circle cx="334.8" cy="131.2" r="1.3"/><circle cx="360.3" cy="144.9" r="1.7"/><circle cx="338.9" cy="104.9" r="2"/><circle cx="367.2" cy="129.1" r="1.8"/><circle cx="378.9" cy="156.4" r="1.5"/><circle cx="349.2" cy="113.6" r="1.5"/><circle cx="373.8" cy="148.6" r="1.8"/><circle cx="383.9" cy="128.7" r="1.8"/><circle cx="340.7" cy="120.7" r="1.3"/><circle cx="323.3" cy="148.5" r="1.2"/><circle cx="374.8" cy="118.3" r="1.9"/><circle cx="351.6" cy="150.9" r="1.6"/><circle cx="334.3" cy="134.7" r="1.6"/><circle cx="336.2" cy="103" r="2"/><circle cx="364.8" cy="136" r="1.5"/><circle cx="339.7" cy="150.4" r="1.4"/><circle cx="373.4" cy="125.2" r="2"/><circle cx="377.9" cy="112.4" r="1.4"/><circle cx="381.2" cy="158.7" r="1.5"/><circle cx="381.2" cy="125.5" r="1.5"/><circle cx="347.9" cy="143.9" r="1.5"/><circle cx="376.1" cy="117.9" r="1.8"/><circle cx="330.8" cy="127.7" r="1.8"/><circle cx="344.6" cy="139.7" r="1.8"/><circle cx="366.9" cy="115.6" r="1.6"/><circle cx="356.9" cy="125.1" r="1.9"/><circle cx="366.6" cy="148.5" r="1.5"/><circle cx="343.6" cy="142.7" r="1.1"/><circle cx="356.6" cy="138.1" r="1.9"/><circle cx="351.6" cy="115.4" r="1.5"/><circle cx="343.7" cy="103.8" r="1.5"/><circle cx="352.4" cy="117.1" r="1.4"/><circle cx="357.4" cy="121" r="1.4"/></g>
<g fill="#2a1e6a"></g>
</g></g>
<g clip-path="url(#c21)"><g filter="url(#bl)">
<rect x="390" y="102.1" width="63" height="56.4" fill="#c0bcdc"/>
<path d="M406,105 L416,104 L418,111 L413,116 L407,114 Z" fill="#e4e4de"/>
<path d="M422,130 L433,129 L435,136 L428,139 L422,136 Z" fill="#e4e4de"/>
<path d="M389,148 L398,147 L402,154 L400,160 L389,160 Z" fill="#e4e4de"/>
<path d="M441,147 L446,146 L448,153 L443,154 Z" fill="#e4e4de"/>
<g fill="#8a80c8" stroke="#a8a2d4" stroke-width="0.5"><circle cx="419.9" cy="139.3" r="2.7"/><circle cx="400.3" cy="133.1" r="2.2"/><circle cx="442.4" cy="158.7" r="2.3"/><circle cx="453" cy="122.6" r="3"/><circle cx="393.8" cy="114.1" r="2.1"/><circle cx="420.8" cy="129.9" r="2.4"/><circle cx="421.4" cy="126.2" r="2.5"/><circle cx="448.1" cy="121.3" r="2.5"/><circle cx="429.2" cy="108.7" r="2.8"/><circle cx="389.2" cy="116.5" r="2.5"/><circle cx="438.3" cy="129.5" r="2.8"/><circle cx="388.1" cy="152.5" r="2.8"/><circle cx="404.2" cy="142.2" r="2.7"/><circle cx="398.8" cy="104.5" r="2.8"/><circle cx="430.9" cy="152.8" r="2.4"/><circle cx="430.4" cy="122.2" r="2.1"/><circle cx="454.1" cy="100.7" r="2.9"/><circle cx="402.2" cy="107.1" r="2.4"/><circle cx="419.9" cy="102.8" r="2.3"/><circle cx="440.6" cy="112.6" r="2.8"/><circle cx="447.7" cy="112.2" r="2.5"/><circle cx="427.9" cy="149.3" r="2.3"/><circle cx="396.8" cy="125.1" r="2.9"/><circle cx="421.7" cy="156.3" r="2.3"/><circle cx="426.8" cy="109.1" r="2.7"/><circle cx="422.7" cy="158.5" r="2.7"/><circle cx="453.7" cy="109.4" r="2.4"/><circle cx="388.2" cy="143" r="2.4"/><circle cx="389.5" cy="134.3" r="2.9"/><circle cx="393.8" cy="139.4" r="2.8"/><circle cx="410" cy="152.3" r="2"/><circle cx="434.5" cy="139.8" r="2.4"/><circle cx="442" cy="141.9" r="2.9"/><circle cx="425.5" cy="147.4" r="2.9"/><circle cx="409.6" cy="115.9" r="2.4"/><circle cx="435.6" cy="123.2" r="2.6"/><circle cx="434.7" cy="121.1" r="2.1"/><circle cx="430.8" cy="114" r="2.2"/><circle cx="421.2" cy="156.3" r="2.3"/><circle cx="422.6" cy="114.3" r="2.9"/><circle cx="439.9" cy="156.1" r="3"/><circle cx="399.5" cy="116.1" r="2.5"/><circle cx="396.8" cy="101.3" r="2.5"/><circle cx="444.1" cy="144.7" r="2.5"/><circle cx="444.6" cy="118.1" r="2.9"/><circle cx="426.5" cy="158" r="2.8"/><circle cx="427.8" cy="150.1" r="2.3"/><circle cx="398.1" cy="129.1" r="2.5"/><circle cx="416.4" cy="156" r="2.2"/><circle cx="419.7" cy="145.2" r="2.8"/><circle cx="434.3" cy="107.4" r="2.1"/><circle cx="413.4" cy="124.2" r="2.5"/><circle cx="394.9" cy="113.2" r="2.3"/></g>
<g fill="#7a70c0" stroke="#a8a2d4" stroke-width="0.5"><circle cx="434.2" cy="156.2" r="2.4"/><circle cx="452.2" cy="123.8" r="2.7"/><circle cx="415" cy="134.5" r="2.5"/><circle cx="394.9" cy="109.4" r="2.7"/><circle cx="441.6" cy="114.5" r="2.4"/><circle cx="450.2" cy="104" r="2.3"/><circle cx="430.7" cy="160" r="2.3"/><circle cx="399.6" cy="112.6" r="2.1"/><circle cx="420.8" cy="102.3" r="2.8"/><circle cx="400.2" cy="130.2" r="2.9"/><circle cx="428.8" cy="106.1" r="2.9"/><circle cx="439.2" cy="120.5" r="2.1"/><circle cx="418.9" cy="112.6" r="2.9"/><circle cx="438.8" cy="118.3" r="2.7"/><circle cx="418.1" cy="135.8" r="2.4"/><circle cx="446.3" cy="140.8" r="2.9"/><circle cx="390.3" cy="107.6" r="2.6"/><circle cx="442.9" cy="131.1" r="2.6"/><circle cx="430.2" cy="139.8" r="2.5"/><circle cx="415.5" cy="133.8" r="2.1"/><circle cx="420.6" cy="151.3" r="3"/><circle cx="393" cy="107.6" r="2.3"/><circle cx="436.4" cy="156.5" r="2.9"/><circle cx="415.4" cy="151.2" r="2.3"/><circle cx="412.4" cy="101.2" r="2.4"/><circle cx="454.7" cy="133.7" r="2.3"/><circle cx="421.1" cy="132.6" r="2.8"/><circle cx="450.4" cy="112.3" r="2.9"/><circle cx="434.5" cy="158.5" r="2.6"/><circle cx="390.8" cy="120.6" r="2.4"/><circle cx="436" cy="144.3" r="2.6"/><circle cx="442.6" cy="141.5" r="2.9"/><circle cx="423.5" cy="109.9" r="2.9"/><circle cx="438.4" cy="112.8" r="2.5"/><circle cx="434.5" cy="119.4" r="2.7"/><circle cx="449.1" cy="105.7" r="2.1"/></g>
<g fill="#9c94d0" stroke="#a8a2d4" stroke-width="0.5"><circle cx="426" cy="119.8" r="2.9"/><circle cx="417.8" cy="128" r="2.8"/><circle cx="414.5" cy="139.1" r="2.5"/><circle cx="441.8" cy="110.7" r="2.6"/><circle cx="400.2" cy="126.6" r="2.5"/><circle cx="404.9" cy="132.9" r="2.1"/><circle cx="446.7" cy="104.1" r="2.4"/><circle cx="432.3" cy="149.2" r="2.1"/><circle cx="392.4" cy="118.4" r="2.4"/><circle cx="413" cy="135.7" r="3"/><circle cx="442" cy="128.1" r="2.3"/><circle cx="390.8" cy="133.7" r="2.2"/><circle cx="403.3" cy="120.8" r="2.6"/><circle cx="423.9" cy="109.1" r="3"/><circle cx="423.2" cy="141.3" r="2.4"/><circle cx="410.9" cy="102.9" r="3"/><circle cx="453.6" cy="138.9" r="2.7"/><circle cx="397.1" cy="119.7" r="2.2"/><circle cx="447" cy="119.3" r="2.1"/><circle cx="443.7" cy="127.9" r="2.8"/><circle cx="438.9" cy="133.6" r="2.4"/><circle cx="438.9" cy="134.9" r="3"/><circle cx="388.1" cy="113.1" r="2.4"/><circle cx="405" cy="101.6" r="2.9"/><circle cx="403.8" cy="110.9" r="2.7"/><circle cx="410.8" cy="149.6" r="2.5"/><circle cx="423.6" cy="101.3" r="2.3"/><circle cx="429.6" cy="125.5" r="2.2"/><circle cx="404.1" cy="135.7" r="2.5"/><circle cx="431.8" cy="110" r="2.8"/><circle cx="393.8" cy="122.2" r="2.2"/><circle cx="444.8" cy="117.3" r="2.1"/><circle cx="409.3" cy="128.1" r="2.2"/><circle cx="388.7" cy="100.7" r="3"/><circle cx="421.5" cy="121.6" r="2.3"/><circle cx="435" cy="125.5" r="2"/></g>
<g fill="#6a60b8" stroke="#a8a2d4" stroke-width="0.5"><circle cx="446.9" cy="116.3" r="2.8"/><circle cx="413.5" cy="100.9" r="2.9"/><circle cx="404.1" cy="136" r="2.5"/><circle cx="447.3" cy="129.4" r="2.1"/><circle cx="451.2" cy="115.8" r="2.3"/><circle cx="453.1" cy="110.6" r="2.1"/><circle cx="454.1" cy="101.7" r="2.8"/><circle cx="396.7" cy="111.3" r="2.7"/><circle cx="445.9" cy="138.7" r="2.5"/><circle cx="417.7" cy="125.9" r="2.5"/><circle cx="417" cy="159.9" r="2.5"/><circle cx="408.6" cy="131.2" r="2.3"/><circle cx="446.6" cy="125.9" r="2"/><circle cx="416.5" cy="115.2" r="2.3"/><circle cx="447.6" cy="114.4" r="2.8"/><circle cx="438.9" cy="108.2" r="2.7"/><circle cx="403.5" cy="151" r="2"/><circle cx="402" cy="138.4" r="2.6"/><circle cx="436.5" cy="119.3" r="2.7"/><circle cx="446.5" cy="124.6" r="2.1"/><circle cx="396.3" cy="125.4" r="2"/><circle cx="426.4" cy="107.9" r="2.4"/><circle cx="404.2" cy="115.5" r="2.7"/><circle cx="396.7" cy="142.1" r="2"/><circle cx="410.3" cy="124" r="2.8"/><circle cx="394.1" cy="106.7" r="2.3"/><circle cx="414.7" cy="134.3" r="2"/><circle cx="404" cy="114.6" r="2.3"/><circle cx="433.5" cy="105.9" r="2.6"/><circle cx="396.6" cy="137.1" r="2.8"/><circle cx="430.4" cy="112.3" r="2.9"/><circle cx="440.2" cy="123.7" r="2.5"/><circle cx="422.8" cy="146.4" r="2.3"/><circle cx="424.3" cy="111.6" r="2.6"/><circle cx="437.3" cy="104.5" r="2.8"/><circle cx="441.6" cy="116" r="2.7"/><circle cx="448.3" cy="118.7" r="2.4"/><circle cx="447.9" cy="113.5" r="2.3"/><circle cx="411.9" cy="149.3" r="2.5"/><circle cx="443.6" cy="142.3" r="2.2"/><circle cx="397.3" cy="130.7" r="3"/><circle cx="400.2" cy="109.4" r="3"/><circle cx="410.3" cy="121.4" r="2.6"/><circle cx="443.5" cy="111.1" r="2.2"/><circle cx="429.3" cy="116" r="2.3"/></g>
<g fill="#a69ed4" stroke="#a8a2d4" stroke-width="0.5"><circle cx="454.3" cy="157.1" r="2.3"/><circle cx="397" cy="133.2" r="2.1"/><circle cx="405.5" cy="137.6" r="2.1"/><circle cx="424.4" cy="156.2" r="2.6"/><circle cx="437.6" cy="155.7" r="2.7"/><circle cx="395.8" cy="124.1" r="2.2"/><circle cx="452.6" cy="120.8" r="2.6"/><circle cx="407.3" cy="152.7" r="2.8"/><circle cx="442.9" cy="118.3" r="2.1"/><circle cx="421.4" cy="126.4" r="2.6"/><circle cx="399.7" cy="148.1" r="2.1"/><circle cx="447.6" cy="131" r="2.5"/><circle cx="397.9" cy="115.9" r="2.3"/><circle cx="398.5" cy="115.9" r="2.4"/><circle cx="427.2" cy="126.1" r="2.2"/><circle cx="439.4" cy="124.1" r="2.8"/><circle cx="439.3" cy="132.5" r="2.8"/><circle cx="413.3" cy="153.3" r="2.1"/><circle cx="388.4" cy="121.4" r="2.3"/><circle cx="427.5" cy="150" r="2.1"/><circle cx="391.3" cy="103.6" r="2.6"/><circle cx="445.5" cy="101.6" r="2.5"/><circle cx="446.9" cy="128.4" r="2.4"/><circle cx="406" cy="123.6" r="2.9"/><circle cx="402.6" cy="113.8" r="2.3"/><circle cx="443.8" cy="129.3" r="2.1"/><circle cx="453" cy="146" r="2.2"/><circle cx="417.7" cy="121.1" r="2.5"/><circle cx="403.1" cy="120.1" r="2.1"/><circle cx="404.1" cy="108.4" r="2.5"/><circle cx="397" cy="100.7" r="2.2"/><circle cx="412.7" cy="126.3" r="2.6"/><circle cx="419.7" cy="143.2" r="2"/></g>
<g fill="#7e74c4" stroke="#a8a2d4" stroke-width="0.5"><circle cx="425.3" cy="102.3" r="2.1"/><circle cx="400.8" cy="142.9" r="2.6"/><circle cx="434.1" cy="110.7" r="2.1"/><circle cx="421" cy="120.3" r="2.9"/><circle cx="438.8" cy="102.9" r="2.9"/><circle cx="432.2" cy="126.1" r="2.9"/><circle cx="451.4" cy="100.9" r="2.3"/><circle cx="435.9" cy="147.5" r="2.5"/><circle cx="450.7" cy="140" r="2.6"/><circle cx="409.8" cy="152.1" r="2.4"/><circle cx="400.2" cy="149.4" r="2.5"/><circle cx="434.1" cy="108.4" r="2.8"/><circle cx="414.7" cy="101.5" r="2.3"/><circle cx="450.9" cy="117.2" r="2.7"/><circle cx="411" cy="139.9" r="3"/><circle cx="416.8" cy="154.4" r="2"/><circle cx="421.4" cy="122.2" r="2.5"/><circle cx="443.9" cy="121.3" r="2.5"/><circle cx="416.5" cy="158.9" r="2.9"/><circle cx="395.9" cy="112.8" r="2.1"/><circle cx="440.9" cy="122.2" r="2.3"/><circle cx="437" cy="104.2" r="2.8"/><circle cx="411.2" cy="147.9" r="2.8"/><circle cx="393.7" cy="123.2" r="2.6"/><circle cx="412.6" cy="131.2" r="2.1"/><circle cx="445" cy="141.7" r="2.1"/><circle cx="393.9" cy="120" r="2.9"/><circle cx="391.7" cy="143.1" r="2.5"/><circle cx="425.7" cy="148.7" r="2.5"/><circle cx="444.9" cy="109.1" r="2.3"/><circle cx="408.1" cy="144.5" r="2.7"/><circle cx="451.4" cy="153.5" r="2.3"/><circle cx="405.1" cy="148.9" r="2.9"/><circle cx="419.8" cy="109.9" r="2.4"/><circle cx="408.5" cy="128.9" r="2.7"/><circle cx="437.9" cy="151.2" r="2.1"/><circle cx="427.4" cy="109.6" r="2.8"/><circle cx="440.6" cy="131.8" r="2.9"/><circle cx="414.2" cy="152.1" r="2.3"/><circle cx="431.5" cy="144.4" r="2.5"/><circle cx="450.7" cy="115.8" r="2.6"/><circle cx="454.8" cy="142" r="2.2"/><circle cx="446" cy="159.9" r="2.5"/><circle cx="414" cy="158.8" r="2.4"/><circle cx="404.3" cy="129.6" r="2.2"/><circle cx="422.7" cy="107" r="2.2"/><circle cx="450.9" cy="115.1" r="2.1"/></g>
<g fill="#3a2e8a" opacity="0.5"><circle cx="396.7" cy="133.5" r="1.1"/><circle cx="433.6" cy="156.5" r="1.1"/><circle cx="452.5" cy="124.2" r="1.6"/><circle cx="414.4" cy="134.5" r="1.3"/><circle cx="425.6" cy="103" r="1.3"/><circle cx="447.1" cy="117" r="1.8"/><circle cx="400.4" cy="132.6" r="1.1"/><circle cx="442.3" cy="157.9" r="1.2"/><circle cx="404.1" cy="135.5" r="1.2"/><circle cx="447.3" cy="129" r="1.1"/><circle cx="401" cy="143.6" r="1.6"/><circle cx="425.2" cy="119.4" r="1.8"/><circle cx="434.8" cy="110.1" r="1"/><circle cx="421.5" cy="120.5" r="1.4"/><circle cx="453.7" cy="111" r="1.1"/><circle cx="393.4" cy="113.8" r="1.2"/><circle cx="414.9" cy="139" r="1.2"/><circle cx="421" cy="129.1" r="1.3"/><circle cx="404.9" cy="136.9" r="1.2"/><circle cx="421.5" cy="126.8" r="1.6"/><circle cx="439.1" cy="102.1" r="1.6"/><circle cx="448.6" cy="121.5" r="1.3"/><circle cx="433" cy="126.3" r="1.6"/><circle cx="451.9" cy="100.2" r="1.3"/><circle cx="442" cy="115.2" r="1.4"/><circle cx="429.2" cy="108.5" r="1.5"/><circle cx="389.8" cy="116.3" r="1.4"/><circle cx="450.9" cy="104" r="1.1"/><circle cx="439" cy="130" r="1.4"/><circle cx="397.2" cy="111.4" r="1.4"/><circle cx="403.9" cy="141.4" r="1.4"/><circle cx="437" cy="155.4" r="1.7"/><circle cx="446.3" cy="103.9" r="1.2"/><circle cx="445.2" cy="138.1" r="1.1"/><circle cx="417.8" cy="126.4" r="1.2"/><circle cx="453" cy="121.5" r="1.5"/><circle cx="408" cy="152.1" r="1.8"/><circle cx="431" cy="152.8" r="1.5"/><circle cx="446.9" cy="126.2" r="0.9"/><circle cx="430.8" cy="160.7" r="1.5"/><circle cx="429.8" cy="122.6" r="1.3"/><circle cx="451.4" cy="140.2" r="1.4"/><circle cx="415.8" cy="115.2" r="1.3"/><circle cx="442.8" cy="117.7" r="1"/><circle cx="409.7" cy="151.7" r="1.2"/><circle cx="392.6" cy="117.8" r="1.2"/><circle cx="403.3" cy="151.2" r="1.1"/><circle cx="402.5" cy="139.1" r="1.3"/><circle cx="454.4" cy="100.9" r="1.7"/><circle cx="421.2" cy="102.6" r="1.4"/><circle cx="434.7" cy="108" r="1.5"/><circle cx="414.1" cy="101.3" r="1.2"/><circle cx="413" cy="135.3" r="1.9"/><circle cx="410.7" cy="139.6" r="1.5"/><circle cx="416" cy="155" r="1"/><circle cx="402.1" cy="106.5" r="1.5"/><circle cx="421.3" cy="122.4" r="1.3"/><circle cx="429.1" cy="105.6" r="1.6"/><circle cx="444.2" cy="120.8" r="1.4"/><circle cx="419.3" cy="102.3" r="1.3"/><circle cx="399.5" cy="147.8" r="1.2"/><circle cx="447.6" cy="112.9" r="1.3"/><circle cx="436.5" cy="118.9" r="1.5"/><circle cx="442" cy="127.3" r="1.2"/><circle cx="416.8" cy="159.3" r="1.7"/><circle cx="428" cy="149.4" r="1.1"/><circle cx="419.5" cy="112.9" r="1.6"/><circle cx="397.1" cy="125.1" r="1.9"/><circle cx="446.9" cy="124.4" r="1.3"/><circle cx="421.7" cy="156.6" r="1.3"/><circle cx="446.9" cy="130.7" r="1.3"/><circle cx="396.9" cy="125.7" r="1.2"/><circle cx="439.1" cy="118.3" r="1.5"/><circle cx="395.7" cy="112.8" r="1.3"/><circle cx="426.9" cy="109" r="1.6"/><circle cx="425.9" cy="107.9" r="1.3"/><circle cx="397.1" cy="116.2" r="1.2"/><circle cx="417.5" cy="135.1" r="1.4"/><circle cx="403.5" cy="115" r="1.7"/><circle cx="440.8" cy="121.6" r="1.1"/><circle cx="437.5" cy="104.9" r="1.7"/><circle cx="397.4" cy="142.5" r="1"/><circle cx="403.5" cy="121.3" r="1.5"/><circle cx="422.9" cy="157.9" r="1.5"/><circle cx="424" cy="108.7" r="1.8"/><circle cx="398" cy="115.3" r="1.2"/><circle cx="454.4" cy="109" r="1.5"/><circle cx="442.6" cy="131.4" r="1.5"/><circle cx="393.7" cy="106.4" r="1.2"/><circle cx="411.3" cy="148.1" r="1.6"/><circle cx="438.8" cy="123.6" r="1.7"/><circle cx="453.7" cy="138.5" r="1.6"/><circle cx="394.4" cy="122.8" r="1.2"/><circle cx="430.8" cy="139.9" r="1.1"/><circle cx="412.8" cy="130.6" r="1.1"/><circle cx="394.2" cy="138.8" r="1.4"/><circle cx="445.6" cy="142" r="1.2"/><circle cx="410.3" cy="152.8" r="1.2"/><circle cx="446.8" cy="119" r="1"/><circle cx="444.1" cy="127.3" r="1.4"/><circle cx="438.2" cy="134.2" r="1.4"/><circle cx="414.9" cy="134" r="1.2"/><circle cx="442.4" cy="142.3" r="1.9"/><circle cx="439.4" cy="134.5" r="1.5"/><circle cx="426.1" cy="147.7" r="1.6"/><circle cx="426.3" cy="149.1" r="1.4"/><circle cx="414.1" cy="133.7" r="1.1"/><circle cx="409.6" cy="116.4" r="1.6"/><circle cx="393.7" cy="107.8" r="1.2"/><circle cx="403.3" cy="114.7" r="1.2"/><circle cx="408" cy="145.1" r="1.4"/><circle cx="436.8" cy="157.2" r="1.4"/><circle cx="451.1" cy="153" r="1.5"/><circle cx="405.2" cy="101" r="1.7"/><circle cx="434.8" cy="122.9" r="1.2"/><circle cx="390.7" cy="104.3" r="1.2"/><circle cx="435.1" cy="121.7" r="1.2"/><circle cx="410.9" cy="150.2" r="1.2"/><circle cx="446" cy="102.1" r="1.3"/><circle cx="414.7" cy="151.6" r="1.1"/><circle cx="404.3" cy="149.3" r="1.6"/><circle cx="411.8" cy="101.1" r="1.5"/><circle cx="431.6" cy="113.7" r="1.1"/><circle cx="419.6" cy="109.8" r="1.3"/><circle cx="433.9" cy="106.2" r="1.3"/><circle cx="455.2" cy="133.3" r="1.3"/><circle cx="420.9" cy="133.4" r="1.3"/><circle cx="446.8" cy="127.6" r="1.3"/><circle cx="429.9" cy="112.6" r="1.4"/><circle cx="438" cy="151.7" r="1"/><circle cx="440" cy="124.2" r="1.1"/><circle cx="427.1" cy="109.3" r="1.8"/><circle cx="424.1" cy="100.6" r="1.3"/><circle cx="441.2" cy="131.1" r="1.8"/><circle cx="422.8" cy="114.6" r="1.6"/><circle cx="439.5" cy="155.6" r="1.9"/><circle cx="415" cy="152" r="1.4"/><circle cx="422.8" cy="147.1" r="1.2"/><circle cx="390.9" cy="119.9" r="1.1"/><circle cx="435.4" cy="144.9" r="1.5"/><circle cx="430.2" cy="125.7" r="1.4"/><circle cx="402.7" cy="114.3" r="1.3"/><circle cx="430.9" cy="144" r="1.5"/><circle cx="396.6" cy="101.8" r="1.4"/><circle cx="442.3" cy="141.2" r="1.3"/><circle cx="443.4" cy="144.6" r="1.4"/><circle cx="444.6" cy="128.6" r="1"/><circle cx="424.5" cy="111.1" r="1.5"/><circle cx="444.4" cy="117.6" r="1.8"/><circle cx="450.3" cy="115.7" r="1.4"/><circle cx="423.7" cy="110" r="1.8"/><circle cx="437.9" cy="112.6" r="1.4"/><circle cx="435.2" cy="118.6" r="1.6"/><circle cx="404.5" cy="135.8" r="1.4"/><circle cx="455.2" cy="142.2" r="1.4"/><circle cx="453.7" cy="145.9" r="1.2"/><circle cx="437.7" cy="105.2" r="1.8"/><circle cx="440.9" cy="116" r="1.5"/><circle cx="431.8" cy="109.3" r="1.4"/><circle cx="417.9" cy="121.1" r="1.4"/><circle cx="393.6" cy="122.4" r="1.3"/><circle cx="403.2" cy="120.8" r="1.2"/><circle cx="427.3" cy="150.9" r="1.3"/><circle cx="449" cy="118.5" r="1.2"/><circle cx="448" cy="114.3" r="1.2"/><circle cx="446.5" cy="159.3" r="1.6"/><circle cx="412.5" cy="149.9" r="1.2"/><circle cx="398.5" cy="129.5" r="1.2"/><circle cx="444.1" cy="117.9" r="1"/><circle cx="396.6" cy="101.4" r="1"/><circle cx="408.9" cy="128.5" r="1.4"/><circle cx="397" cy="130.4" r="1.6"/><circle cx="400.3" cy="108.7" r="1.8"/><circle cx="415.7" cy="155.3" r="1"/><circle cx="414.6" cy="158.2" r="1.3"/><circle cx="434.5" cy="107.5" r="1"/><circle cx="404.5" cy="129.8" r="1.4"/><circle cx="388.2" cy="101.4" r="1.4"/><circle cx="423" cy="106.6" r="1.3"/><circle cx="413" cy="124.3" r="1.5"/><circle cx="412.2" cy="126.5" r="1.3"/><circle cx="419.8" cy="143.2" r="1.3"/><circle cx="449.2" cy="105.3" r="1.3"/><circle cx="450.1" cy="115.7" r="1.1"/><circle cx="429.8" cy="116.3" r="1.3"/><circle cx="395.2" cy="113.2" r="1.2"/><circle cx="434.9" cy="126.2" r="1.1"/></g>
<g fill="#2a1e6a"><circle cx="390.1" cy="122" r="1"/><circle cx="429.3" cy="130.8" r="1.2"/><circle cx="448.4" cy="145.1" r="1"/><circle cx="391.9" cy="141.6" r="1.3"/><circle cx="431.1" cy="130.3" r="0.9"/><circle cx="418.5" cy="149.2" r="1.3"/><circle cx="392.8" cy="109.1" r="1.4"/><circle cx="424.3" cy="111.4" r="1.3"/><circle cx="448.3" cy="150.9" r="1.3"/><circle cx="440.9" cy="107" r="1.2"/><circle cx="441" cy="121.4" r="1"/><circle cx="444.5" cy="141.8" r="0.9"/><circle cx="394" cy="133.5" r="1.5"/><circle cx="428.9" cy="151.5" r="1"/><circle cx="426.3" cy="112.3" r="1.1"/><circle cx="399.4" cy="128.3" r="0.9"/><circle cx="431.4" cy="138.6" r="1.4"/><circle cx="438.4" cy="106.4" r="1.4"/><circle cx="424.2" cy="154.9" r="1.2"/><circle cx="395.1" cy="141.8" r="1"/><circle cx="452" cy="132.5" r="1.4"/><circle cx="421" cy="120.5" r="1.3"/></g>
</g></g>
<rect x="257.7" y="44.5" width="63.6" height="54.2" fill="none" stroke="#111" stroke-width="1.4"/>
<rect x="257.7" y="102.8" width="63.6" height="55" fill="none" stroke="#111" stroke-width="1.4"/>
<rect x="325.7" y="44.5" width="61.3" height="54.2" fill="none" stroke="#111" stroke-width="1.4"/>
<rect x="325.7" y="102.8" width="61.3" height="55" fill="none" stroke="#111" stroke-width="1.4"/>
<rect x="390.7" y="44.5" width="61.6" height="54.2" fill="none" stroke="#111" stroke-width="1.4"/>
<rect x="390.7" y="102.8" width="61.6" height="55" fill="none" stroke="#111" stroke-width="1.4"/>
<text x="7.6" y="185" font-size="12" font-weight="bold" fill="#000">C</text>
<text x="21.4" y="194" font-size="9" font-weight="bold" fill="#111" textLength="15.6" lengthAdjust="spacingAndGlyphs">BM</text>
<text x="23" y="339" font-size="9" font-weight="bold" fill="#111" textLength="13.8" lengthAdjust="spacingAndGlyphs">SP</text>
<text x="134.6" y="194.2" font-size="7.2" fill="#262626" textLength="48" lengthAdjust="spacingAndGlyphs" stroke="#262626" stroke-width="0.12">MLF1 + Trib1</text>
<line x1="104.6" y1="199.2" x2="213.2" y2="199.2" stroke="#222" stroke-width="1.3"/>
<text x="65.2" y="209.7" font-size="7.2" fill="#262626" textLength="16.6" lengthAdjust="spacingAndGlyphs" stroke="#262626" stroke-width="0.12">Trib1</text>
<text x="114.6" y="209.7" font-size="7.2" fill="#262626" textLength="33" lengthAdjust="spacingAndGlyphs" stroke="#262626" stroke-width="0.12">Leukemic</text>
<text x="163" y="209.7" font-size="7.2" fill="#262626" textLength="48" lengthAdjust="spacingAndGlyphs" stroke="#262626" stroke-width="0.12">Non-leukemic</text>
<path d="M48.2,255.3 L48.2,255.3 L48.6,255.3 L49.1,255.3 L49.5,255.3 L49.9,255.3 L50.4,255.3 L50.8,255.3 L51.2,255.3 L51.6,255.3 L52.1,255.3 L52.5,255.3 L52.9,255.3 L53.4,255.3 L53.8,255.3 L54.2,255.3 L54.7,255.3 L55.1,255.3 L55.5,255.3 L55.9,255.3 L56.4,255.3 L56.8,255.3 L57.2,255.3 L57.7,255.3 L58.1,255.3 L58.5,255.3 L59,255.3 L59.4,255.3 L59.8,255.3 L60.2,255.3 L60.7,255.3 L61.1,255.3 L61.5,255.3 L62,255.3 L62.4,255.3 L62.8,255.3 L63.2,255.3 L63.7,255.3 L64.1,255.3 L64.5,255.3 L65,255.3 L65.4,255.3 L65.8,255.3 L66.3,255.3 L66.7,255.3 L67.1,255.3 L67.5,255.3 L68,255.3 L68.4,255.3 L68.8,255.3 L69.3,255.3 L69.7,255.3 L70.1,255.3 L70.6,255.3 L71,255.3 L71.4,255.3 L71.8,255.3 L72.3,255.3 L72.7,255.3 L73.1,255.3 L73.6,255.3 L74,255.3 L74.4,255.3 L74.9,255.2 L75.3,255.2 L75.7,255.1 L76.2,254.9 L76.6,254.7 L77,254.3 L77.4,253.7 L77.9,252.8 L78.3,251.6 L78.7,249.9 L79.2,247.7 L79.6,245 L80,241.7 L80.4,237.9 L80.9,233.8 L81.3,229.6 L81.7,225.5 L82.2,221.9 L82.6,218.9 L83,217 L83.5,216.3 L83.9,216.8 L84.3,218.5 L84.8,221.2 L85.2,224.8 L85.6,228.8 L86,233 L86.5,237.2 L86.9,241 L87.3,244.4 L87.8,247.2 L88.2,249.5 L88.6,251.3 L89,252.6 L89.5,253.6 L89.9,254.2 L90.3,254.6 L90.8,254.9 L91.2,255.1 L91.6,255.2 L92.1,255.2 L92.5,255.3 L92.9,255.3 L93.3,255.3 L93.8,255.3 L94.2,255.3 L94.6,255.3 L95.1,255.3 L95.5,255.3 L95.9,255.3 L96.4,255.3 L96.8,255.3 L97.2,255.3 L97.7,255.3 L98.1,255.3 L98.5,255.3 L98.9,255.3 L99.4,255.3 L99.8,255.3 L99.8,255.3 Z" fill="#d9d9de"/>
<rect x="47.7" y="215.6" width="52.6" height="40.2" fill="none" stroke="#8c8c8c" stroke-width="1"/>
<line x1="65.5" y1="214.9" x2="65.5" y2="216.3" stroke="#555" stroke-width="1.6"/>
<path d="M105,255.3 L105,255.3 L105.4,255.3 L105.9,255.3 L106.3,255.3 L106.7,255.3 L107.2,255.3 L107.6,255.3 L108,255.3 L108.4,255.3 L108.9,255.3 L109.3,255.3 L109.7,255.3 L110.2,255.3 L110.6,255.3 L111,255.3 L111.5,255.3 L111.9,255.3 L112.3,255.3 L112.8,255.3 L113.2,255.3 L113.6,255.3 L114,255.3 L114.5,255.3 L114.9,255.2 L115.3,255.2 L115.8,255.1 L116.2,255 L116.6,254.9 L117.1,254.7 L117.5,254.4 L117.9,254.2 L118.4,254 L118.8,253.8 L119.2,253.7 L119.6,253.7 L120.1,253.8 L120.5,253.9 L120.9,254.1 L121.4,254.3 L121.8,254.6 L122.2,254.7 L122.7,254.8 L123.1,254.9 L123.5,254.8 L124,254.7 L124.4,254.5 L124.8,254.1 L125.2,253.5 L125.7,252.7 L126.1,251.6 L126.5,250.2 L127,248.5 L127.4,246.3 L127.8,243.7 L128.3,240.8 L128.7,237.5 L129.1,233.9 L129.6,230.3 L130,226.8 L130.4,223.4 L130.8,220.6 L131.3,218.3 L131.7,216.9 L132.1,216.3 L132.6,216.6 L133,217.9 L133.4,219.9 L133.9,222.6 L134.3,225.8 L134.7,229.4 L135.2,233 L135.6,236.6 L136,239.9 L136.5,243 L136.9,245.7 L137.3,247.9 L137.7,249.8 L138.2,251.3 L138.6,252.5 L139,253.3 L139.5,254 L139.9,254.4 L140.3,254.7 L140.8,254.9 L141.2,255.1 L141.6,255.2 L142.1,255.2 L142.5,255.3 L142.9,255.3 L143.3,255.3 L143.8,255.3 L144.2,255.3 L144.6,255.3 L145.1,255.3 L145.5,255.3 L145.9,255.3 L146.4,255.3 L146.8,255.3 L147.2,255.3 L147.7,255.3 L148.1,255.3 L148.5,255.3 L148.9,255.3 L149.4,255.3 L149.8,255.3 L150.2,255.3 L150.7,255.3 L151.1,255.3 L151.5,255.3 L152,255.3 L152.4,255.3 L152.8,255.3 L153.3,255.3 L153.7,255.3 L154.1,255.3 L154.5,255.3 L155,255.3 L155.4,255.3 L155.8,255.3 L156.3,255.3 L156.7,255.3 L156.7,255.3 Z" fill="#d9d9de"/>
<rect x="104.5" y="215.6" width="52.7" height="40.2" fill="none" stroke="#8c8c8c" stroke-width="1"/>
<line x1="122.3" y1="214.9" x2="122.3" y2="216.3" stroke="#555" stroke-width="1.6"/>
<path d="M161.9,255.3 L161.9,255.3 L162.3,255.3 L162.8,255.3 L163.2,255.3 L163.6,255.3 L164.1,255.3 L164.5,255.3 L164.9,255.2 L165.4,255.1 L165.8,254.9 L166.2,254.6 L166.6,254.1 L167.1,253.3 L167.5,252.1 L167.9,250.5 L168.4,248.3 L168.8,245.8 L169.2,242.9 L169.7,240 L170.1,237.4 L170.5,235.3 L171,233.9 L171.4,233.4 L171.8,233.7 L172.3,234.6 L172.7,235.7 L173.1,236.7 L173.6,237.3 L174,237.3 L174.4,236.9 L174.8,236.1 L175.3,235.5 L175.7,235.2 L176.1,235.5 L176.6,236.6 L177,238.3 L177.4,240.4 L177.9,242.8 L178.3,245.2 L178.7,247.2 L179.2,248.9 L179.6,250.2 L180,251.1 L180.5,251.7 L180.9,252.1 L181.3,252.4 L181.8,252.6 L182.2,252.8 L182.6,253 L183.1,253 L183.5,252.9 L183.9,252.5 L184.3,251.8 L184.8,250.8 L185.2,249.3 L185.6,247.3 L186.1,244.8 L186.5,241.8 L186.9,238.4 L187.4,234.6 L187.8,230.7 L188.2,226.9 L188.7,223.3 L189.1,220.3 L189.5,218 L190,216.6 L190.4,216.3 L190.8,217.1 L191.3,218.8 L191.7,221.5 L192.1,224.7 L192.5,228.5 L193,232.4 L193.4,236.2 L193.8,239.9 L194.3,243.2 L194.7,246 L195.1,248.4 L195.6,250.3 L196,251.8 L196.4,252.9 L196.9,253.7 L197.3,254.3 L197.7,254.6 L198.2,254.9 L198.6,255.1 L199,255.2 L199.5,255.2 L199.9,255.3 L200.3,255.3 L200.8,255.3 L201.2,255.3 L201.6,255.3 L202,255.3 L202.5,255.3 L202.9,255.3 L203.3,255.3 L203.8,255.3 L204.2,255.3 L204.6,255.3 L205.1,255.3 L205.5,255.3 L205.9,255.3 L206.4,255.3 L206.8,255.3 L207.2,255.3 L207.7,255.3 L208.1,255.3 L208.5,255.3 L209,255.3 L209.4,255.3 L209.8,255.3 L210.2,255.3 L210.7,255.3 L211.1,255.3 L211.5,255.3 L212,255.3 L212.4,255.3 L212.8,255.3 L213.3,255.3 L213.7,255.3 L213.7,255.3 Z" fill="#d9d9de"/>
<rect x="161.4" y="215.6" width="52.8" height="40.2" fill="none" stroke="#8c8c8c" stroke-width="1"/>
<line x1="179.2" y1="214.9" x2="179.2" y2="216.3" stroke="#555" stroke-width="1.6"/>
<line x1="77" y1="237.3" x2="77" y2="243.5" stroke="#777" stroke-width="1"/>
<line x1="77" y1="240.2" x2="100.3" y2="240.2" stroke="#777" stroke-width="1"/>
<text x="88.5" y="238" font-size="7.4" fill="#222" stroke="#222" stroke-width="0.12">97</text>
<line x1="123.5" y1="235.8" x2="123.5" y2="243.2" stroke="#777" stroke-width="1"/>
<line x1="123.5" y1="239.2" x2="157.2" y2="239.2" stroke="#777" stroke-width="1"/>
<text x="142.8" y="237.8" font-size="7.4" fill="#222" stroke="#222" stroke-width="0.12">94</text>
<line x1="181.5" y1="231.2" x2="181.5" y2="238.6" stroke="#777" stroke-width="1"/>
<line x1="181.5" y1="234.9" x2="214.2" y2="234.9" stroke="#777" stroke-width="1"/>
<text x="197" y="233.3" font-size="7.4" fill="#222" stroke="#222" stroke-width="0.12">55</text>
<ellipse cx="75.5" cy="293.8" rx="13" ry="9.5" fill="#86ac30" opacity="0.8" transform="rotate(0 75.5 293.8)" filter="url(#bl2)"/>
<path d="M72.9 287.1h0.01M73.9 300.2h0.01M74 289.4h0.01M81.5 299.8h0.01M73.6 291.9h0.01M72.1 310.2h0.01M73.7 304.4h0.01M74.1 296.3h0.01M56.4 294.9h0.01M76 291.9h0.01M71.7 285.5h0.01M61.5 294.8h0.01M69.5 293.3h0.01M73.8 290.7h0.01M68.7 305.1h0.01M65.2 290.7h0.01M72.7 286.8h0.01M66.5 299h0.01M84.3 294.6h0.01M87.1 288.9h0.01M85.7 304h0.01M72 304.8h0.01M68 286.9h0.01M75.1 288.9h0.01M81.5 287.1h0.01M76.3 281.9h0.01M75.2 300.2h0.01M73 295.7h0.01M85.8 287.2h0.01M63.6 294.3h0.01M78.1 292.2h0.01M66.4 301.2h0.01M64.6 292.2h0.01M75.1 298.2h0.01M71.3 288.8h0.01M94.4 288.7h0.01M83 292.9h0.01M71.1 293.5h0.01M73.1 295.7h0.01M51.7 293.6h0.01M76.2 287.9h0.01M71.9 308h0.01M92.8 297.7h0.01M77.7 292h0.01M88.6 291.1h0.01M67.8 298h0.01M66.5 289h0.01M89.1 284.1h0.01M74.9 294.5h0.01M78 285h0.01M73.4 291.8h0.01M93.6 299.9h0.01M68.4 299.1h0.01M81.7 293.1h0.01M73.3 292.1h0.01M61.1 290h0.01M84.3 302.5h0.01M92.9 291.5h0.01M81.3 279.2h0.01M73 286.2h0.01M83.3 283.8h0.01M65.8 287.1h0.01M79.3 298.9h0.01M66.9 304.7h0.01M77 288.8h0.01M78.8 293.7h0.01M83.3 295.9h0.01M96.1 300.9h0.01M69.6 298.6h0.01M82.7 287.8h0.01M68.5 288.9h0.01M52.4 297.7h0.01M73.5 301.3h0.01M70.3 294.3h0.01M82.3 299.7h0.01M78.5 287.5h0.01M96.2 299.1h0.01M88.3 303.6h0.01M88.7 296.3h0.01M80 297.6h0.01M61.5 298.7h0.01M66.4 296.4h0.01M66.1 298.1h0.01M71 308.9h0.01M77.4 296.9h0.01M67.1 292.1h0.01M75 292.1h0.01M71.5 288.5h0.01M82.7 291.5h0.01M67.9 296h0.01M68 292.8h0.01M70.8 288.2h0.01M73.4 288.8h0.01M63.8 295.9h0.01M72.8 285h0.01M71.9 294.9h0.01M79.6 296.1h0.01M77.9 297.4h0.01M70.9 289h0.01M81.3 291.3h0.01M75.7 297.7h0.01M84.4 301.2h0.01M69.1 291.6h0.01M80.8 285.2h0.01M63.8 297.5h0.01M69.8 288.2h0.01M83.1 297h0.01M84.2 291.8h0.01M72.9 291.8h0.01M78.4 281.6h0.01M69.1 298.1h0.01M68.3 293.4h0.01M76.7 297h0.01M71.1 287h0.01M98.9 289.5h0.01M91.6 283.2h0.01M76.6 292.6h0.01M93.3 306.1h0.01M84.7 287.7h0.01M68.1 289.3h0.01M70.8 295.4h0.01M68.2 292.3h0.01M89.3 302.5h0.01M58.2 288.1h0.01M72.1 301.6h0.01M72.5 305.3h0.01M79 302.5h0.01M67.6 291.9h0.01M85.1 297.3h0.01M58.1 292.2h0.01M77.3 297.6h0.01M69.7 304.3h0.01M77 302.5h0.01M79.4 294.3h0.01M72.6 286.8h0.01M83.7 298.4h0.01M84.3 291.5h0.01M66.2 291.5h0.01M72.7 293.7h0.01M84.8 288.3h0.01M71 298h0.01M84 307.1h0.01M80.5 288.7h0.01M65.9 289.1h0.01M76.3 295.3h0.01M75 290.1h0.01M73.9 293.3h0.01M81.1 294.3h0.01M68 286.8h0.01M89.4 293.3h0.01M74 293.7h0.01M86.1 291.9h0.01M77.2 292.4h0.01M81 287.7h0.01M77.5 300h0.01M86.7 297.5h0.01M78.4 303.3h0.01M82.2 302.2h0.01M64.4 287.2h0.01M83.1 292.2h0.01M71.6 288.1h0.01M89.5 286.6h0.01M76.6 285.4h0.01M74 307.3h0.01M98.3 290.8h0.01M66.2 303.6h0.01M67.6 283.1h0.01M78.9 287.3h0.01M62.1 300.6h0.01M68.8 287.4h0.01M77.2 292.7h0.01M86.1 294.4h0.01M90.4 300.6h0.01M92.2 300.5h0.01M76.3 297.1h0.01M75.8 284.5h0.01M64.7 298.3h0.01M53.6 288.9h0.01M63.7 293.4h0.01M66 295.3h0.01M73.8 291h0.01M67.8 280.5h0.01M76.3 286.1h0.01M72.9 296h0.01M85.4 298h0.01M89.4 285.3h0.01M81.9 303.2h0.01M79.3 287.2h0.01M79.3 290.7h0.01M69.7 300.2h0.01M74 287.1h0.01M69.4 305.6h0.01M67.8 297.9h0.01M77.3 300.8h0.01M73.1 288.1h0.01M69.7 287.6h0.01M99.8 295h0.01M72.7 301.4h0.01M81.8 292.7h0.01M81.4 295.4h0.01M86.1 303.7h0.01M72.7 293.6h0.01M74 301.1h0.01M79.2 298.5h0.01M84 290h0.01M76.8 302.1h0.01M84.2 298.7h0.01M73 291.7h0.01M67.7 292.2h0.01M75.1 285.2h0.01M86.4 289.2h0.01M78 297.4h0.01M70.5 283h0.01M84.6 296.3h0.01M73.3 300.6h0.01M84 288.1h0.01M74.9 283.3h0.01M73.2 302.3h0.01M67.9 298.8h0.01M61.7 292h0.01M84.4 304.1h0.01M79.9 298.4h0.01M91.6 279.2h0.01M59.8 305.2h0.01M98.5 297.4h0.01M76.3 295.4h0.01M75.9 290.1h0.01M75.5 293.1h0.01M81.9 297.9h0.01M84.7 297.3h0.01M66.7 302.2h0.01M50.9 294.5h0.01M78.7 290.6h0.01M93 287.3h0.01M64.8 290.8h0.01M79.5 298.6h0.01M76.7 297.8h0.01M69.2 290.2h0.01M76.9 285.8h0.01M77.4 291.5h0.01M82 287.8h0.01M70.8 290.4h0.01M72.3 287.8h0.01M73.3 285.7h0.01M80.6 297.8h0.01M75.5 292.7h0.01M67.4 288.1h0.01M73.6 288.4h0.01M64.8 294.8h0.01M75.5 291.4h0.01M68.1 293.5h0.01M69.3 291.2h0.01M77.4 298.1h0.01M82.6 290.2h0.01M86.8 286.9h0.01M74.1 301.6h0.01M97.5 294.6h0.01M72.3 291.6h0.01M64.5 292.9h0.01M71.7 289.3h0.01M86.7 289.2h0.01M91.3 298.9h0.01M81.6 290.3h0.01M71 281.9h0.01M78.2 292.2h0.01M79.2 289.8h0.01M80.1 284.9h0.01M55.5 296.7h0.01M85.5 275h0.01M87.5 291.7h0.01M74.2 284.6h0.01M66.5 298.1h0.01M68.9 293.6h0.01M74.2 305.7h0.01M83.8 285.9h0.01M71.2 286.9h0.01M62.9 289.7h0.01M85.8 294.1h0.01M81.8 293h0.01M71.8 294.3h0.01M74.9 305.4h0.01M92.2 296.1h0.01M81.2 281.9h0.01M74.5 308.1h0.01M68.3 298.7h0.01M86.8 291.4h0.01M73.6 291.1h0.01M82.9 293.9h0.01M89.4 300.9h0.01M75.5 309.4h0.01M72.8 290.2h0.01M73.5 288.5h0.01M71.8 293.4h0.01M83.8 284.3h0.01M62.8 289.2h0.01M72.8 296.5h0.01M68.4 302.9h0.01M70.8 292.5h0.01M76.1 300.8h0.01M78.4 294h0.01M70.7 294.8h0.01M79.3 291.7h0.01M75.4 282.8h0.01M70.8 300.9h0.01M88.6 293.4h0.01M55.8 304.8h0.01M74.1 309.2h0.01M71.8 299.8h0.01M70 302.1h0.01M86.2 287.4h0.01M87.5 311h0.01M73.6 286.5h0.01M78.2 291.4h0.01M61.9 287.5h0.01M77.9 284.7h0.01M85.5 296.5h0.01M74 302.2h0.01M67.1 297.9h0.01M63.2 291.9h0.01M81.5 290.6h0.01M74.6 297.7h0.01M89.6 301.6h0.01M79.8 292.2h0.01M62.4 304.1h0.01M92.8 280.8h0.01M83.6 293.6h0.01M82.1 295.7h0.01M73.8 293.8h0.01M75.3 300.8h0.01M73.2 290.5h0.01M81.6 297.7h0.01M79.6 295.5h0.01M89.1 300.5h0.01M77.5 292.5h0.01M81.6 282.5h0.01M70.8 289.5h0.01M77.2 291.5h0.01M98.1 298.2h0.01M79.3 307.4h0.01M75.6 291.9h0.01M86.9 298.8h0.01M84.1 301.1h0.01M72.3 289.8h0.01M69 294.4h0.01M84.8 287.5h0.01M70.7 285.7h0.01M93.9 298.6h0.01M77.6 286.5h0.01M66.2 289.9h0.01M75.9 286.2h0.01M73.5 301.2h0.01M75.7 294.4h0.01M56.5 292.2h0.01M74.3 289.6h0.01M62.9 293.4h0.01M66.2 290.5h0.01M61 293.2h0.01M83.9 288.7h0.01M78.6 284.7h0.01M80.9 297.1h0.01M72 299.1h0.01M67.6 294.1h0.01M91 293.7h0.01M65.3 300.8h0.01M80.5 292.1h0.01M59 282.4h0.01M61.7 302.8h0.01M78.3 288.7h0.01M86.1 302.7h0.01M67.9 296.7h0.01M60.6 296.1h0.01M92.2 285.3h0.01M76.1 290h0.01M74.7 294.3h0.01M78.1 299.2h0.01M80.3 300.1h0.01M84.8 300.4h0.01M69.4 296.3h0.01M72.2 288.7h0.01M93.4 295.6h0.01M76 281.1h0.01M73.5 298.5h0.01M73.7 290.5h0.01M89 291.9h0.01M72.6 293.2h0.01M73.4 300.2h0.01M80.8 293.4h0.01M72.3 292.4h0.01M91 292h0.01M81.5 284.3h0.01M78.5 298h0.01M87.2 295.7h0.01M80.9 295.8h0.01M85.3 306.2h0.01M77.4 288.9h0.01M81 293.1h0.01M81.4 298.5h0.01M77 291.1h0.01M78.4 286.3h0.01M78.1 288.4h0.01M79.7 294.5h0.01M73.6 286.5h0.01M76 289.7h0.01M74.3 298h0.01M84.3 286h0.01M84.1 302h0.01M85.8 295.5h0.01M74.8 304.3h0.01M72.7 284.6h0.01M76.4 295.5h0.01M66.2 286.4h0.01M93.6 294.5h0.01M82.7 290.3h0.01M61.8 292.7h0.01M87.8 289.8h0.01M59.3 292.8h0.01M73 293.9h0.01M66.1 291.9h0.01M70.7 299.1h0.01M77 299.1h0.01M75.1 280.9h0.01M57.8 297h0.01M83.6 299.1h0.01M74.9 283h0.01M71.1 296.2h0.01M88.1 291.7h0.01M70.5 289.1h0.01M84.9 299.1h0.01M59 301.1h0.01M67.2 284.9h0.01M61.1 289.4h0.01M96.7 309.3h0.01M64.3 289.7h0.01M77 296.3h0.01M71.3 284.2h0.01M71.9 289.7h0.01M59.3 294.7h0.01M62.3 283.3h0.01M89.4 299.5h0.01M88.8 294.5h0.01M71.9 293.3h0.01M63.2 298.3h0.01M78.1 292h0.01M58.6 293.1h0.01M90.4 302.6h0.01M83.6 291.7h0.01M76.9 297.2h0.01M77.4 300.1h0.01M69.6 279.8h0.01M53.6 288.3h0.01M63 297.8h0.01M85.4 293.8h0.01M80.5 294.3h0.01M77.2 290.9h0.01M71.9 301h0.01M73.2 293.6h0.01M86.5 299.8h0.01M72 295.3h0.01M66.4 294.6h0.01M78.5 293.8h0.01M77.1 296h0.01M52.6 288.8h0.01M76.3 290.8h0.01M66.8 292.4h0.01M90.2 292.4h0.01M69.7 290.9h0.01M64.8 296.7h0.01M66.6 299.3h0.01M83.9 297.3h0.01M85.1 293.3h0.01M59.6 293.4h0.01M81.4 284.4h0.01M64.5 300.4h0.01M79.6 302h0.01M81.7 294.2h0.01M79.5 298.9h0.01M75.4 292.5h0.01M78.5 291.9h0.01M97.6 289.2h0.01M61.8 286h0.01M85.1 291.3h0.01M77.1 292.5h0.01M78.1 285h0.01M76.4 290.3h0.01M85.5 297.6h0.01M64.1 287.9h0.01M80.8 301h0.01M82.6 292.9h0.01M85.8 279.5h0.01M70.7 287.9h0.01M66.2 297.2h0.01M78.2 295.5h0.01M74.4 297.6h0.01M82.8 290.3h0.01M84.2 288.2h0.01M91.7 285.9h0.01M73 287.2h0.01M76 301.8h0.01M68.8 304.6h0.01M88.5 296.1h0.01M70.2 299.3h0.01M49.5 289.2h0.01M84.4 293.6h0.01M98.4 289.7h0.01M63.4 292.5h0.01M80.9 304.2h0.01M59.5 294.8h0.01M87.2 289.7h0.01M71.4 286.4h0.01M82.7 298.8h0.01M81 295.3h0.01M84.7 293.1h0.01M82.2 298.8h0.01M87.6 296.9h0.01M76.4 298.1h0.01M61.4 283.1h0.01M90.5 294.6h0.01M66 290.3h0.01M74.2 294.2h0.01M68.6 299.9h0.01M59.9 310.9h0.01M65.6 303.9h0.01M81.8 283.6h0.01M64.3 294.2h0.01M78.1 291.2h0.01M75.7 294.8h0.01M65.1 294.2h0.01M96.6 289.9h0.01M66.3 297.8h0.01M88.1 300.2h0.01M69.8 293.4h0.01M77.5 292.5h0.01M79.3 300.4h0.01M80.7 293.7h0.01M73.8 304.7h0.01M64.2 306h0.01M82.5 294.3h0.01M68.7 305h0.01M86.9 299.4h0.01M95 282.8h0.01M76.6 291.9h0.01M68.9 294.3h0.01M80.6 297h0.01M74.3 285.7h0.01M80.8 297.5h0.01M95.3 299.5h0.01M75.8 286.8h0.01M77.5 298.4h0.01M80.3 301.9h0.01M66 289.6h0.01M77.3 286.3h0.01M69.9 302.3h0.01M78.4 293.2h0.01M70.3 294.1h0.01M75.3 287.2h0.01M83 286h0.01M87.6 291.7h0.01M54.3 284.3h0.01M78.3 288.5h0.01M92.6 302.3h0.01M95.3 299.3h0.01M88.3 290.1h0.01M87.8 291.1h0.01M75.2 285.5h0.01M76.2 296.3h0.01M75 287h0.01M84.1 299.4h0.01M74.8 298.6h0.01M84.9 287.8h0.01M75.3 282.4h0.01M65.9 296.4h0.01M67.4 296.2h0.01M79 281.1h0.01M71.1 303.1h0.01M75.8 294.6h0.01M69 283.9h0.01M60.6 311.5h0.01M73.9 288.4h0.01M76.7 281.9h0.01M88.8 304.3h0.01M68.5 295.8h0.01M67.1 299.1h0.01M67.7 292.9h0.01M88 297h0.01M72.5 284.4h0.01M60.6 301.2h0.01M80.5 294.2h0.01M87.5 294.7h0.01M68.7 293.2h0.01M74.7 293.7h0.01M99.2 297.4h0.01M78.2 292.3h0.01M69.2 287.7h0.01M57.8 291h0.01M61.2 282.4h0.01M66.7 281.3h0.01M88.6 301.5h0.01M66.4 306.4h0.01M81.9 278.2h0.01M75.8 287.6h0.01M59.1 292.2h0.01M86.6 296.5h0.01M61.7 289.7h0.01M68.4 300.9h0.01M74.7 287.7h0.01M66.9 281.6h0.01M67.6 299.3h0.01M57.4 295h0.01M74.5 298.9h0.01M64.7 299.4h0.01M90.4 308h0.01M60.1 293.6h0.01M73.6 294.6h0.01M66.2 299.1h0.01M97.9 303.1h0.01M66.5 290.2h0.01M82.5 294.6h0.01M68.3 301.5h0.01M80.5 300.1h0.01M73.9 301.7h0.01M71.1 286.9h0.01M75.5 285.1h0.01M87.5 298.3h0.01M59.6 294.9h0.01M83.7 291.6h0.01M79.5 290.2h0.01M74.9 293.3h0.01M80.2 287.8h0.01M64.8 295.8h0.01M70.7 297h0.01M70.8 285.7h0.01M82.6 295.5h0.01M82.5 291.7h0.01M72.1 301.6h0.01M59.4 304.6h0.01M80.5 293.4h0.01M76.4 297.5h0.01M68.2 295.5h0.01M66.5 282.3h0.01M77.5 294.4h0.01M81.7 297.3h0.01M82.2 298.7h0.01M65.5 301.4h0.01M63.5 298.1h0.01M84.3 300.1h0.01M90.2 285.2h0.01M79.1 296.7h0.01M87.5 288.3h0.01M75.8 291.5h0.01M74 292.9h0.01M74.1 282.8h0.01M75.2 294.2h0.01M68.9 289.7h0.01M67.2 303.8h0.01M84.4 292.6h0.01M66.3 296.7h0.01M69.8 303h0.01M86.1 293h0.01M81.4 288.8h0.01M60.4 299h0.01M91.2 291.9h0.01M70.5 282.6h0.01M96.1 286.3h0.01M66.3 292.6h0.01M87.1 294.1h0.01M75.3 293.9h0.01M83.6 293.6h0.01M77 293.3h0.01M64.9 302.2h0.01M68.9 285.6h0.01M71.4 294h0.01M83.4 284.6h0.01M63.4 294.9h0.01M79.2 287h0.01M64.7 294.9h0.01M74.2 283.7h0.01M67.1 303h0.01M65.4 300.3h0.01M60.9 303h0.01M90.8 289.9h0.01M69 297.7h0.01M63.7 297.2h0.01M87.2 295.4h0.01M78.6 292.8h0.01M85.1 288.7h0.01M90.7 293.7h0.01M72.4 283.6h0.01M71.3 295.3h0.01M87.4 283.8h0.01M74.3 289.5h0.01M64.1 293.8h0.01M68.3 299.2h0.01M49.8 298.4h0.01M57.3 281.7h0.01M80.5 291.7h0.01M76.7 287.8h0.01M65.5 289.2h0.01M75 288.6h0.01M71.5 288.4h0.01M77.7 286.7h0.01M55.6 277.5h0.01M75.3 294.4h0.01M84.7 289.2h0.01M64.6 284.5h0.01M82.7 289.9h0.01M84.9 293.3h0.01M72.9 282.2h0.01M69 298.7h0.01M69.7 298h0.01M59.8 300.1h0.01M78.6 286.1h0.01M70.5 289.7h0.01M77.3 281.2h0.01M67.3 298.7h0.01M76.9 298.4h0.01M83.6 286.7h0.01M62.7 296.7h0.01M75.8 294.3h0.01M67.7 300.1h0.01M80.2 300.9h0.01M72.1 298.1h0.01M74.9 287.9h0.01M74.7 283.5h0.01M73.8 294.9h0.01M82.1 287.2h0.01M62.8 289.3h0.01M55.8 289.7h0.01M68.3 289.6h0.01M92.4 286.6h0.01M74.4 293.3h0.01M68.5 289.3h0.01M59.5 288.6h0.01M87.9 302.6h0.01M72.8 298.2h0.01M79.9 294.5h0.01M74.2 301.4h0.01M80.9 292.4h0.01M73.3 299.6h0.01M69.8 289.3h0.01M72.9 290.7h0.01M87.5 296h0.01M74.7 290.5h0.01M89 296.5h0.01M95.4 299.5h0.01M73.5 290.4h0.01M72.8 294.9h0.01M83 296.8h0.01M90.5 284.3h0.01M75.8 285h0.01M65.7 290.1h0.01M69.3 287.8h0.01M61 300.9h0.01M72.4 299.8h0.01M65 279.4h0.01M69.8 299.3h0.01M70.2 296.3h0.01M65.2 302.5h0.01M79.6 300.3h0.01M72.9 301.8h0.01M76.2 290.8h0.01M69.4 294.1h0.01M66.8 286.4h0.01M76.7 298.2h0.01M72.7 299h0.01M90.6 285.9h0.01M77.9 287.8h0.01M69.4 294.9h0.01M52.9 297.6h0.01M83.5 297.2h0.01M81.7 305.1h0.01M72 300.6h0.01M89.3 296.9h0.01M58.5 292.8h0.01M72.7 283.7h0.01M74.9 298.5h0.01M73 292.7h0.01M89.5 290h0.01M66.5 294h0.01M86.2 297.5h0.01M76.2 290.7h0.01M87.2 299.3h0.01M59 295.9h0.01M52.6 303.1h0.01M81.3 289.9h0.01M63.2 291.9h0.01M58.8 297.3h0.01M70.6 282.8h0.01M75.3 301.1h0.01M63.4 291.6h0.01M92.8 294.9h0.01M70.2 295h0.01M82.9 287.6h0.01M74.6 283.6h0.01M60.4 284.2h0.01M83.5 295.7h0.01M82.5 301.4h0.01M75.9 295.3h0.01M79.4 296.7h0.01M65.4 292.1h0.01M74 294h0.01M68.3 293h0.01M78.2 295h0.01M81.1 298.9h0.01M80.8 299.8h0.01M83.5 302.5h0.01M81.5 289.9h0.01M97.7 300.8h0.01M87.4 298.3h0.01M75.9 286.7h0.01M79.7 291.6h0.01M71.7 280.5h0.01M90.2 286.5h0.01M65 296.7h0.01M80.9 288.9h0.01M75.4 295.4h0.01M77 297.1h0.01M82.9 291.5h0.01M60.1 307.2h0.01M71.8 287.6h0.01M82.6 297.4h0.01M69.6 308.4h0.01M53.1 301.8h0.01M75.1 295.7h0.01M78.5 292.4h0.01M78.5 285.7h0.01M71.7 305.3h0.01M50.9 301.5h0.01M54.2 288.5h0.01M83.9 291.3h0.01M70 284.5h0.01M74.3 292.7h0.01M69.4 284.1h0.01M77 296.4h0.01M86.4 297h0.01M90 301.2h0.01M48.6 304.1h0.01M74.5 287.3h0.01M79.6 299.8h0.01M60.7 286.1h0.01M82 290.4h0.01M89.4 295.1h0.01M70.2 285.5h0.01M81.2 283.1h0.01M63.1 285.6h0.01M91.7 304.4h0.01M73.4 291.4h0.01M82.2 301.5h0.01M67.8 307.5h0.01M73.5 300.8h0.01M53 293.5h0.01M68.8 306.1h0.01M73.4 285.9h0.01M94.1 289.5h0.01M75.5 286h0.01M82 295h0.01M72.7 291.3h0.01M70 289.3h0.01M62.1 301.3h0.01M84 285.1h0.01M64.4 296.3h0.01M97.1 292.5h0.01M72.5 292.2h0.01M77.9 292.7h0.01M85.8 299.9h0.01M80.8 303.6h0.01M73.3 290.4h0.01M60.6 279.1h0.01M78.9 287.1h0.01M85.6 280.7h0.01M74.2 291.4h0.01M65.2 300.7h0.01M71.7 296.6h0.01M70.5 294.7h0.01M71.2 294.3h0.01M74.5 289.6h0.01M79.7 292.6h0.01M66.2 287.3h0.01M79.7 302.1h0.01M63 291.2h0.01M79.8 300.3h0.01M82.3 286.4h0.01M75.8 299.4h0.01M77.8 292.4h0.01M64.2 294.8h0.01M74.9 294h0.01M89.8 301.2h0.01M67.9 295.2h0.01M72.5 294.4h0.01M91.1 299.5h0.01M75.9 289.7h0.01M73.9 296.1h0.01M70.7 300.6h0.01M75.7 286.4h0.01M95 275.7h0.01M72.9 293h0.01M84.9 300.7h0.01M89.4 303.5h0.01M78.5 294.5h0.01M85.2 293.6h0.01M63.5 291h0.01M81.8 297.6h0.01M64.9 301.2h0.01M78.4 284.4h0.01M80 300.1h0.01M80.6 291.9h0.01M67.8 300.8h0.01M77.7 293.8h0.01M71.7 287.4h0.01M57.6 291.7h0.01M86.1 298.5h0.01M69 303.3h0.01M73.3 287.5h0.01M84.8 302.4h0.01M71.8 286.2h0.01M74.9 278.7h0.01M76 303.3h0.01M78.1 289.2h0.01M82.3 290.7h0.01M87.6 291.6h0.01M94.9 291.6h0.01M77.3 288h0.01M63.3 295.9h0.01M78.8 287.7h0.01M80.8 291.2h0.01M70.2 293.3h0.01M79.3 298.3h0.01M87.3 296.2h0.01M68.6 289.5h0.01M79 286.4h0.01M73.9 291.4h0.01M74.6 294.9h0.01M85.4 304h0.01M83.9 300.1h0.01M65.3 300.2h0.01M87.9 285.4h0.01M99.6 290.3h0.01M52.8 304.8h0.01M76.1 288.8h0.01M70 300.5h0.01M77.9 291.5h0.01M86.5 288h0.01M67.4 290.3h0.01M68.4 298.1h0.01M73.3 287.3h0.01M71.1 281.5h0.01M77.1 294.4h0.01M81.3 292.3h0.01M79.3 288h0.01M75.7 294.8h0.01M63.9 297.4h0.01M76.9 294.1h0.01M70.9 306.2h0.01M75.5 289h0.01M67.4 297.5h0.01M73.5 288.9h0.01M68.6 299.6h0.01M76.3 300.3h0.01M75.3 286.5h0.01M83.8 295.8h0.01M69.3 291.9h0.01M66.2 299h0.01M71.5 296.8h0.01M78 292.2h0.01M79 292.3h0.01M64.3 291.2h0.01M64.3 298.5h0.01M81.7 290.2h0.01M81.4 295.3h0.01M84.8 288h0.01M75.7 287.6h0.01M69 302.3h0.01M56.4 288.1h0.01M80.1 298.6h0.01M68 281.2h0.01M59.1 296.1h0.01M86 299.4h0.01M68.5 302.2h0.01M73.7 297.6h0.01M73.7 303.7h0.01M70.6 280.5h0.01M72.5 295h0.01M78.1 289.3h0.01M73.3 286.8h0.01M73.3 294.3h0.01M77.8 304h0.01M56.5 297h0.01M79.6 286.6h0.01M76.2 293.8h0.01M66 298.3h0.01M93.6 298h0.01M82.9 300.4h0.01M74.3 299.8h0.01M67.8 294.9h0.01M82.2 301.9h0.01M72.8 292h0.01M79.9 293.3h0.01M76.8 298.8h0.01M68.2 299.2h0.01M79.1 292.2h0.01M63.6 289.9h0.01M75.1 299.6h0.01M56.8 298.2h0.01M77.3 286.8h0.01M83.6 296.3h0.01M79.6 287.8h0.01M65 299.4h0.01M88.8 296.1h0.01M73.7 291h0.01M59.3 299.9h0.01M74.6 301.4h0.01M68.7 300.3h0.01M68.7 297.4h0.01M88.5 289.5h0.01M84.1 293.8h0.01M66.6 295h0.01M81.6 289.4h0.01M73 290.3h0.01M68.2 292.5h0.01M83.3 290.7h0.01M87.3 291.5h0.01M69 300.4h0.01M88.8 289.8h0.01M81 286.6h0.01M71.7 291.5h0.01M82.2 286.1h0.01M70.7 289.6h0.01M76.4 286.2h0.01M62.9 311.2h0.01M77.5 284.5h0.01M83.3 285.7h0.01M57.8 304h0.01M87.3 288.6h0.01M65.2 296.7h0.01M94.6 297.5h0.01M81.7 286.5h0.01M58.7 296.2h0.01M85 294.6h0.01M75.4 302.3h0.01M67.6 300.5h0.01M83.3 290h0.01M76.7 294.5h0.01M81 287.8h0.01M73.3 294.4h0.01M75.8 293.9h0.01M77.8 292.6h0.01M70.8 300.1h0.01M69.5 291.8h0.01M67.2 286.8h0.01M79.7 293.5h0.01M74.2 296.6h0.01M73.9 298h0.01M92.4 295.9h0.01M73 303.9h0.01M82.1 283.6h0.01M88 295.1h0.01M83.5 286.7h0.01M67.6 289.8h0.01M80.7 286.9h0.01M68.9 299.6h0.01M69.5 294.5h0.01M67.1 283.4h0.01M74.7 293.1h0.01M62.1 299.7h0.01M83.2 299.2h0.01M70.7 286.8h0.01M74.6 294.8h0.01M73.9 290.2h0.01M66.2 289.3h0.01M74.7 290.8h0.01M91.1 292.1h0.01M79.7 291h0.01M73.8 287.9h0.01M71 284.7h0.01M56.1 302h0.01M65.6 296.4h0.01M74.3 290.3h0.01M82.3 290.4h0.01M79.5 291.5h0.01M84.5 299.6h0.01M76.1 300.5h0.01M80.2 303.3h0.01M74.4 284.4h0.01M77.5 295.2h0.01M72.1 292.5h0.01M73 286.2h0.01M91.5 289.1h0.01M65.5 284.2h0.01M67.6 293.6h0.01M89.2 297.4h0.01M68.7 286.2h0.01M65.1 293.3h0.01M83.6 290.9h0.01" stroke="#74a01c" stroke-width="0.9" stroke-linecap="round" opacity="0.6" fill="none"/>
<path d="M95 312.5h0.01M75.1 276.4h0.01M87.9 294.6h0.01M82.1 304.2h0.01M59.2 296.1h0.01M75.4 288.8h0.01M82.5 294.3h0.01M67.4 312.1h0.01M75.3 309.9h0.01M70.9 304.6h0.01M62.7 296.8h0.01M87.8 276.3h0.01M80.3 293.1h0.01M87.9 297.1h0.01M71.9 284.2h0.01M68.5 289.1h0.01M68.8 297.4h0.01M54.7 304.8h0.01M69.4 300.8h0.01M68.9 292.1h0.01M63.8 298.2h0.01M78.5 286.8h0.01M68.6 304.9h0.01M84.9 294.6h0.01M53.4 292.3h0.01M63 306.4h0.01M49.7 303.5h0.01M51.9 290.4h0.01M53.6 289.3h0.01M66.9 298.7h0.01M64.9 301.5h0.01M96.9 296.9h0.01M57.2 293.9h0.01M71.5 292.3h0.01M88.7 305.7h0.01M82.1 288.4h0.01M64.7 303.5h0.01M74.9 285.6h0.01M72.9 284.7h0.01M72.2 285h0.01M60.2 290.9h0.01M56.7 290.7h0.01M87.4 302.5h0.01M82.4 292.6h0.01M74.7 288.7h0.01M70.4 288.4h0.01M53 286.7h0.01M99.3 299h0.01M62.6 294.5h0.01M66.7 306.2h0.01M72.5 289.9h0.01M82.2 298.3h0.01M63.6 288.7h0.01M74.8 281h0.01M60.4 304.4h0.01M84.7 305.3h0.01M66.8 290.2h0.01M69.2 291.2h0.01M90.4 293.5h0.01M91.4 289.2h0.01M78 309.8h0.01M62.7 289.7h0.01M64.7 281.3h0.01M68.8 289.8h0.01M85.9 295.2h0.01M76.8 301.8h0.01M65.2 295.8h0.01M74.8 310.1h0.01M92.1 296.9h0.01M54.6 303.2h0.01M72.1 305.8h0.01M73.6 297.1h0.01M81.8 289h0.01M61 303.7h0.01M82.2 302.7h0.01M91.5 283.7h0.01M85.9 277.3h0.01M73.6 298.4h0.01M86.9 305h0.01M60.1 293.1h0.01M70.7 289.3h0.01M61.7 289.6h0.01M88.5 307.5h0.01M83.1 310.3h0.01M74.1 285.9h0.01M63.9 297.3h0.01M86.8 306.2h0.01M60.6 303.9h0.01M65.6 300.7h0.01M85.3 308.5h0.01M65.6 297.6h0.01M78.7 291.8h0.01M74.1 300.7h0.01M50.4 289.8h0.01M65.2 279.3h0.01M59.8 300h0.01M82.1 299.4h0.01M80.9 290.2h0.01M94.5 285.6h0.01M79.8 293.1h0.01M49.5 303.4h0.01M69.1 301.7h0.01M90.1 296.9h0.01M63.8 293.6h0.01M71.9 308.2h0.01M84.5 309.5h0.01M83.2 288.7h0.01M85.4 304h0.01M71.1 299.6h0.01M68.5 284.4h0.01M71.6 302.2h0.01M67.9 275.7h0.01M61.9 305.1h0.01M75.9 305.4h0.01M62.5 291.8h0.01M59.2 288.6h0.01M79.8 296.7h0.01M66.2 298.1h0.01M55 292h0.01M52.4 282.2h0.01M54.3 285.8h0.01M94.3 307.6h0.01M89.9 290.4h0.01M81.3 285.5h0.01M65.4 297.6h0.01M51 297.2h0.01M81.2 277.2h0.01M71.1 296.8h0.01M57.4 300.5h0.01M74.5 289h0.01M95.1 297.8h0.01M82.9 311.9h0.01M66.1 293.5h0.01M49.1 293.5h0.01M80.4 297.3h0.01M55.6 287.9h0.01M74.3 298.1h0.01M60.3 293.6h0.01M61.8 301h0.01M81.5 290.5h0.01M66.5 284.6h0.01M72.6 303.1h0.01M80.7 308.6h0.01M68.3 287.5h0.01M86.9 303.7h0.01M63.8 305.2h0.01M72.6 295.1h0.01M97.8 300.2h0.01M77 292.7h0.01M75.5 304.9h0.01M79 288.8h0.01M78.9 294.4h0.01M77 293.8h0.01M67.5 275.9h0.01M82.2 291.4h0.01M77.2 275.6h0.01M76.2 304.2h0.01M75.3 283.8h0.01M86 290.8h0.01M65 297.2h0.01M78.9 284.4h0.01M72.8 296h0.01M92.4 306.9h0.01M60.5 298.7h0.01M94.8 286.5h0.01M68 288.8h0.01M80 299.1h0.01M72.2 301.4h0.01M62 292.1h0.01M79.2 313.5h0.01M72.2 296h0.01M90.7 296.2h0.01M90.6 297.6h0.01M88.6 297.1h0.01M60.2 287.9h0.01M78.6 312.3h0.01M98.3 292.7h0.01M61.2 303.8h0.01M51.9 303.7h0.01M77.9 301.1h0.01M56.3 298.9h0.01M85.6 295h0.01M86.9 295.7h0.01M77.5 292.7h0.01M54.2 294.1h0.01M79.6 288.7h0.01M90.8 293.5h0.01M62.3 306.6h0.01M70.4 282h0.01M66.7 287.6h0.01M70.2 287.3h0.01M73.7 299.6h0.01M64.9 293.7h0.01M70.6 302.9h0.01M62.9 302.2h0.01M89.9 293.8h0.01M59.5 292.7h0.01M56.4 294h0.01M67.7 300.1h0.01M74.4 299.3h0.01M72.1 298h0.01M57.2 301.4h0.01M90.7 305.5h0.01M54.3 299.3h0.01M50.5 302.3h0.01M70 291.4h0.01M62.5 293.4h0.01M72.7 286.8h0.01M73.6 297.8h0.01M80 295.1h0.01M86.7 298.4h0.01M53.7 301.1h0.01M70.5 298.9h0.01M73.3 296.4h0.01" stroke="#a8c470" stroke-width="0.9" stroke-linecap="round" opacity="0.5" fill="none"/>
<ellipse cx="139" cy="293" rx="12" ry="9" fill="#80a828" opacity="0.8" transform="rotate(0 139 293)" filter="url(#bl2)"/>
<ellipse cx="143" cy="292" rx="7" ry="8" fill="#6e9818" opacity="0.5" transform="rotate(0 143 292)" filter="url(#bl2)"/>
<path d="M138.5 301.4h0.01M143.2 291.1h0.01M137.9 305.7h0.01M132.2 289.5h0.01M142.8 293.7h0.01M142.5 301.2h0.01M149.9 295.4h0.01M140.3 292.4h0.01M137.8 299h0.01M128.7 286.4h0.01M135.8 286.8h0.01M133.4 300.2h0.01M120 296.4h0.01M128.3 291.3h0.01M134.8 286.7h0.01M126.7 293.2h0.01M113.6 279.7h0.01M136.4 299.6h0.01M156.3 291h0.01M132.8 291h0.01M144 298.6h0.01M131.4 295.7h0.01M139.6 299.9h0.01M136.3 291.5h0.01M132.3 284.6h0.01M142.3 297.2h0.01M149.9 294.5h0.01M135.8 287.1h0.01M129.6 288.3h0.01M142.9 293.4h0.01M119.6 292.2h0.01M137.3 286.3h0.01M139.7 296.1h0.01M130.7 284.4h0.01M137 294.4h0.01M137.6 302.4h0.01M141.2 286.6h0.01M146.8 288.8h0.01M146 293.4h0.01M150.9 286.6h0.01M146.3 295.4h0.01M131.9 297.2h0.01M133.1 291.9h0.01M151.5 294.4h0.01M153.1 288.8h0.01M151.6 283h0.01M138.4 291h0.01M135.6 300.4h0.01M134.6 295h0.01M156.4 297.9h0.01M136.2 288.3h0.01M122.1 295.2h0.01M147.8 299.7h0.01M142.1 306.2h0.01M146.8 278.5h0.01M132.1 297.8h0.01M136.4 298h0.01M126.8 293.4h0.01M148 289.2h0.01M154 287.4h0.01M138.2 298.5h0.01M138 289.3h0.01M139.8 296.9h0.01M155.4 301.2h0.01M125.1 292.5h0.01M136.3 286.6h0.01M135.3 292.4h0.01M140.4 298.5h0.01M131.8 299.9h0.01M140.4 297.4h0.01M151.1 285.1h0.01M154.2 288.3h0.01M143.5 299.5h0.01M148.2 283.1h0.01M141.4 299.8h0.01M138.9 292.3h0.01M140.6 303h0.01M135.1 287h0.01M130.1 289.5h0.01M137.8 295h0.01M139.2 282.1h0.01M125.9 297h0.01M146.5 284.4h0.01M148.4 277.7h0.01M125.1 296h0.01M139.7 290h0.01M136.7 291.4h0.01M139.1 287.2h0.01M134.9 296.3h0.01M144.7 284.5h0.01M135.6 302.5h0.01M146.4 303.1h0.01M127.8 286.4h0.01M120.5 280.8h0.01M136.6 286.3h0.01M130.2 288.5h0.01M138.3 298h0.01M145 281.9h0.01M153.4 290.8h0.01M131 292.6h0.01M136.4 284.2h0.01M154 289.2h0.01M134.6 296.1h0.01M155 295.8h0.01M131.9 295.5h0.01M149.9 295.2h0.01M145.8 289.8h0.01M139.4 282.4h0.01M133.5 285.7h0.01M140.1 302.1h0.01M119.7 284.6h0.01M131.6 292.2h0.01M150.5 288h0.01M132.9 300.3h0.01M143.3 296.1h0.01M147.5 288.2h0.01M142 288.7h0.01M133.5 293.6h0.01M143.9 284.9h0.01M133 296.6h0.01M141.5 296.9h0.01M137.2 287.8h0.01M147 296.5h0.01M114.4 298.2h0.01M133.1 297h0.01M154.2 291.1h0.01M131.2 294.4h0.01M140.8 296.3h0.01M127.3 294.3h0.01M148.1 297.2h0.01M145.7 300.3h0.01M132.5 300.4h0.01M141.9 286.6h0.01M137.3 294.5h0.01M143 301.2h0.01M141.7 289.6h0.01M132.6 298.6h0.01M136.2 287.9h0.01M130.4 300.2h0.01M130.4 293.4h0.01M135.9 291.6h0.01M132.6 293.8h0.01M145.5 299.4h0.01M136.8 285.6h0.01M126.6 292.9h0.01M117.6 301.1h0.01M140.3 293.6h0.01M127.4 288.8h0.01M133.3 297h0.01M136.3 296.7h0.01M144.6 280.9h0.01M137.9 300.7h0.01M135.4 293.6h0.01M138.9 285.2h0.01M145.8 290h0.01M152.7 300h0.01M150.7 298.7h0.01M146.3 301.4h0.01M143.6 293.7h0.01M147.3 287.3h0.01M117.1 297.9h0.01M141.4 288.5h0.01M137.6 286.9h0.01M132.4 294h0.01M141.1 298h0.01M139.2 296.8h0.01M146.2 288.5h0.01M124.7 288.6h0.01M137.7 289.5h0.01M144.3 288.1h0.01M146.2 285h0.01M148.6 294h0.01M136.4 285.4h0.01M155.1 289.3h0.01M153 277.9h0.01M129.2 304.1h0.01M156.1 293h0.01M149 296.6h0.01M136.8 293.7h0.01M129.6 284.5h0.01M141.1 297.4h0.01M141.4 285.3h0.01M147.7 293.4h0.01M146.8 291.1h0.01M137.6 299.4h0.01M152.4 285.4h0.01M130 298.9h0.01M143.2 293.2h0.01M131.2 299.1h0.01M141.7 294.2h0.01M143.5 289.6h0.01M143.6 293.7h0.01M146.5 295.2h0.01M128.4 288.5h0.01M137.6 300.1h0.01M134.1 299.9h0.01M149.7 298.3h0.01M142.9 300.4h0.01M143.7 299h0.01M138.8 301.6h0.01M143.2 281h0.01M149.8 291.7h0.01M132 291h0.01M137.5 300h0.01M143 292.4h0.01M139.9 287.3h0.01M134.2 290h0.01M138 285.7h0.01M136.4 299.1h0.01M144.1 292.9h0.01M143.1 291.4h0.01M129.3 298.3h0.01M146.2 308.1h0.01M129.1 296.1h0.01M136.9 291.2h0.01M125 292.4h0.01M143.6 283h0.01M138 289.9h0.01M131 296.8h0.01M154.8 295.5h0.01M149.3 297.6h0.01M139.4 296.5h0.01M152 290.3h0.01M138.7 284.4h0.01M123.2 287.9h0.01M148.1 295.1h0.01M142.4 301h0.01M124 301.4h0.01M140.8 297.7h0.01M152.5 287.9h0.01M132.1 295.4h0.01M139.5 289.3h0.01M138.9 288.4h0.01M141.2 290.5h0.01M155.4 286.5h0.01M145.2 293.4h0.01M154.3 286.9h0.01M135.8 303.6h0.01M134.1 290.6h0.01M136.5 286.9h0.01M151 302.2h0.01M138.6 288.3h0.01M127.8 297h0.01M135.2 296.3h0.01M118.2 290.3h0.01M145.7 295.5h0.01M114.1 294.7h0.01M141.2 292.8h0.01M136.9 290.2h0.01M141.3 296h0.01M111.4 292.8h0.01M148.4 291.5h0.01M151 287.1h0.01M136.3 309.8h0.01M153 302.6h0.01M129.2 292.2h0.01M144.3 299.3h0.01M140.7 284.9h0.01M151 291.9h0.01M144 290.9h0.01M139 284.4h0.01M146 289h0.01M124 295.4h0.01M139.7 298.8h0.01M147.4 285.4h0.01M138.4 292.9h0.01M140.8 286.4h0.01M140.7 298.9h0.01M151.2 301.8h0.01M146.9 277.4h0.01M137.6 289.5h0.01M113.8 302.3h0.01M148.2 292.8h0.01M143.3 295.9h0.01M138 301.3h0.01M156.5 297.9h0.01M135 294.4h0.01M148.8 297.3h0.01M133.8 298.7h0.01M146.6 296.4h0.01M136.2 292.7h0.01M122.8 292.7h0.01M136 291.1h0.01M137.5 290.9h0.01M140.8 293.5h0.01M134.5 292.1h0.01M139.2 295.9h0.01M144 290.7h0.01M132.5 282.8h0.01M128.7 295.4h0.01M131.7 302.7h0.01M138.6 290.5h0.01M138.6 289.5h0.01M134.3 293.3h0.01M126.9 293.7h0.01M139.2 287.3h0.01M149.3 295.1h0.01M149.8 288.8h0.01M128.8 285.6h0.01M125.8 281.3h0.01M154.1 289.9h0.01M141.7 289.6h0.01M138.7 302.5h0.01M124.3 286.8h0.01M141.2 287.3h0.01M146.3 300.8h0.01M148.1 297.5h0.01M138.5 299h0.01M132.8 285.6h0.01M137.6 291.3h0.01M151.1 286.8h0.01M150.3 288.1h0.01M128.6 282.5h0.01M139.7 284h0.01M141.9 293.1h0.01M136.4 281h0.01M135.3 295.6h0.01M123.9 297.1h0.01M140.2 289.5h0.01M141.8 296.8h0.01M139.8 288.1h0.01M147.1 288.7h0.01M143.3 298.8h0.01M151.8 302.6h0.01M149.2 293.7h0.01M138.2 294h0.01M144.8 311.1h0.01M145.9 287.8h0.01M153.7 283.1h0.01M149.1 285h0.01M130.2 289.8h0.01M137.4 284.6h0.01M145.6 292.1h0.01M152.1 286.6h0.01M123.7 297.1h0.01M138 298.8h0.01M118.9 285.2h0.01M140.8 304.8h0.01M128.9 281.2h0.01M135.9 301.5h0.01M154.3 284.5h0.01M134.5 281.6h0.01M132.4 286.9h0.01M143.9 299.8h0.01M147.4 294.2h0.01M141.1 304.7h0.01M146.4 302.4h0.01M142.7 298.1h0.01M144.6 292.2h0.01M133.7 290.4h0.01M140.1 290.5h0.01M136.9 288.5h0.01M147.8 291.3h0.01M138.9 291.5h0.01M151.8 289.5h0.01M152.7 287.6h0.01M153.8 296.6h0.01M135.6 295.6h0.01M150.3 287h0.01M138 294.7h0.01M138.1 291h0.01M140.2 294.7h0.01M147 301.9h0.01M137.1 310.8h0.01M137.1 303.7h0.01M138.9 283.9h0.01M136.1 290.7h0.01M149.7 280.5h0.01M134.3 292h0.01M145.9 295.3h0.01M147.7 291.9h0.01M137.9 300.2h0.01M155.5 295.2h0.01M141.4 287.6h0.01M145.6 283h0.01M145.5 307.7h0.01M138.6 291.6h0.01M153.8 291.7h0.01M147.6 304.7h0.01M129.5 287.7h0.01M146.1 293.5h0.01M140.4 291.8h0.01M141.2 295h0.01M135.7 291.1h0.01M142.1 286.2h0.01M144 279.4h0.01M145.8 292.1h0.01M129.5 301.1h0.01M129.5 305.5h0.01M133.5 300.3h0.01M139.5 302.7h0.01M138 299.2h0.01M137.2 281.3h0.01M143.5 295.7h0.01M143.6 303.1h0.01M133.4 284.1h0.01M142.3 288.6h0.01M139.1 292.8h0.01M132.7 299.5h0.01M139 303.8h0.01M142.3 299.3h0.01M137.4 288.8h0.01M135.3 287.4h0.01M144.1 293.7h0.01M130.4 283.4h0.01M132.3 281.6h0.01M132.1 283.5h0.01M146.4 285.7h0.01M134.8 292.1h0.01M140.3 295.4h0.01M146.9 296.8h0.01M137 300.5h0.01M143.4 288.5h0.01M153.4 285.6h0.01M144.3 300.5h0.01M141.1 294.9h0.01M141.1 296.9h0.01M142 292.9h0.01M146.3 281.2h0.01M142.3 291h0.01M134.2 296.8h0.01M136.6 285.5h0.01M137.5 295.9h0.01M150.7 299.3h0.01M142.1 291.8h0.01M141.8 300.3h0.01M138.9 299.9h0.01M133 292.7h0.01M146.9 297.1h0.01M141.8 289.7h0.01M124 290.1h0.01M132.5 290.3h0.01M154.1 288.1h0.01M147.6 292.7h0.01M130.2 293.5h0.01M146.7 285.5h0.01M129.7 290.5h0.01M146.5 289.1h0.01M143.8 295.6h0.01M140.2 295.6h0.01M151.3 291.6h0.01M142.9 286.3h0.01M133.6 292.2h0.01M147.3 288.7h0.01M127.7 298.5h0.01M130.6 293.6h0.01M144.4 287h0.01M143 299.6h0.01M137.6 297.3h0.01M141.2 287.1h0.01M134.6 289.1h0.01M151.8 299.9h0.01M142.2 283.2h0.01M135.7 290.4h0.01M123 292.7h0.01M142.6 284.7h0.01M136.3 290h0.01M156.4 296.9h0.01M146.8 293.3h0.01M128.7 298.5h0.01M134.1 281h0.01M146.5 290.7h0.01M140 296h0.01M138 295.3h0.01M151.4 290.8h0.01M136.9 292.9h0.01M145.7 290.4h0.01M140.8 288.6h0.01M139.4 296.1h0.01M132.8 291.7h0.01M127.2 288.5h0.01M140.7 296.1h0.01M130.9 292.2h0.01M131.8 294.7h0.01M142.3 295.5h0.01M138.2 284.1h0.01M135.1 284.6h0.01M134.1 292.5h0.01M149.5 288.9h0.01M133.2 294.1h0.01M121.9 305h0.01M126.5 299h0.01M148.6 298.7h0.01M139.1 297.3h0.01M137 298.7h0.01M134.3 287.8h0.01M143.4 290h0.01M145.9 287.6h0.01M142.4 286.8h0.01M139.1 305.9h0.01M130.6 285.3h0.01M126 291.4h0.01M154.2 290.1h0.01M148.2 291.7h0.01M134.5 305.1h0.01M149.5 281.6h0.01M131.5 295.3h0.01M145.7 291.4h0.01M142.8 296.1h0.01M137 298.9h0.01M132.6 297.4h0.01M148 294h0.01M137 292.7h0.01M120.6 294.4h0.01M127.6 280.5h0.01M146.7 287.2h0.01M143.1 293.1h0.01M124.6 287.3h0.01M137.7 295.7h0.01M140.6 285.1h0.01M135.4 293.4h0.01M128.9 290.1h0.01M135.2 279.8h0.01M155.1 298.2h0.01M136 298.6h0.01M130.9 302.2h0.01M136.8 293.7h0.01M135 293.4h0.01M142.9 293h0.01M132.8 297.4h0.01M144.9 292.8h0.01M149.2 288.3h0.01M151.2 291.8h0.01M153.2 290.1h0.01M137.8 294.1h0.01M149.6 301.6h0.01M136 288.4h0.01M146.7 300.4h0.01M146.2 290.8h0.01M151.1 292.7h0.01M141.5 296.6h0.01M135.1 279h0.01M141.9 297.2h0.01M143.8 296.1h0.01M141.4 299.2h0.01M141 301.9h0.01M140.5 297.7h0.01M135.2 294.6h0.01M143.7 293.7h0.01M153.5 293.1h0.01M149.8 295h0.01M149.5 287.3h0.01M136.8 298.7h0.01M132.9 295.2h0.01M145 294h0.01M143.8 296.1h0.01M138 295.3h0.01M135.5 290h0.01M126.2 292.2h0.01M125.2 293h0.01M141.8 286.2h0.01M140.6 294.6h0.01M137 287.2h0.01M139 295.3h0.01M148.1 304.6h0.01M122.8 294.9h0.01M143.8 288.9h0.01M142.8 305.6h0.01M141 301.1h0.01M149.3 290.1h0.01M119.9 299.9h0.01M153.4 282h0.01M138.3 288.5h0.01M141.8 293.2h0.01M150 289.2h0.01M141.9 309.2h0.01M139.2 296.7h0.01M135.9 313h0.01M147.8 290.7h0.01M123.3 294.1h0.01M146.4 280.3h0.01M135.8 296.2h0.01M119.1 291.6h0.01M126.2 284.6h0.01M143.6 299.8h0.01M150.2 288.8h0.01M144.4 282h0.01M127.1 296.1h0.01M136.5 286.6h0.01M123.7 291.4h0.01M130.9 299.7h0.01M123.3 289h0.01M140.6 299.7h0.01M139.4 304h0.01M139.7 292.1h0.01M143.9 295h0.01M126.9 287h0.01M138 294.9h0.01M129.3 288.4h0.01M133.5 294.9h0.01M136.3 296.5h0.01M143.4 287.2h0.01M137.4 285.2h0.01M140.9 297.8h0.01M131.4 281.9h0.01M144.5 291h0.01M139.8 295.6h0.01M143.3 298.5h0.01M136 279.3h0.01M135.8 290.9h0.01M136.4 295.2h0.01M137.8 300.8h0.01M134.5 292.8h0.01M136.9 305.8h0.01M131.7 286.7h0.01M136.7 297.5h0.01M140.1 291.7h0.01M127.2 280h0.01M138.1 291.3h0.01M155.4 295.1h0.01M143.7 298.8h0.01M132.2 285.2h0.01M136.8 301.9h0.01M148.7 289.2h0.01M129.1 298.5h0.01M149.6 286h0.01M154.1 288h0.01M146.6 291.5h0.01M137.1 289h0.01M146.1 296.6h0.01M147.1 291.1h0.01M132.6 306h0.01M155.1 291.6h0.01M129.9 302h0.01M141.2 293.2h0.01M147.5 295h0.01M141 305.1h0.01M123.4 296.8h0.01M131.3 293.3h0.01M138.5 294.4h0.01M118.8 297.1h0.01M147.9 296.7h0.01M142.6 289.7h0.01M145.6 294.5h0.01M152.8 297.9h0.01M133.7 274.8h0.01M153.3 295.8h0.01M141.5 289.1h0.01M140.9 290.5h0.01M145.1 301.2h0.01M144.6 298.6h0.01M142.3 295h0.01M128.8 293.6h0.01M140.5 292.4h0.01M137.9 294.7h0.01M134.9 291.6h0.01M128.4 307.1h0.01M132.1 285.4h0.01M135.2 290.2h0.01M130.5 277.7h0.01M154.6 299.1h0.01M136.6 296.3h0.01M130.1 282.8h0.01M143 296.4h0.01M133.9 292.8h0.01M112.7 292h0.01M149.4 293.9h0.01M141.6 296.4h0.01M121.5 284.8h0.01M128.7 294.3h0.01M134.4 281.1h0.01M147.9 291.6h0.01M148.8 305.2h0.01M125.3 284.9h0.01M149.6 301.5h0.01M143.5 295h0.01M146.2 296.9h0.01M128.6 297.4h0.01M148.8 290.3h0.01M131.8 289.8h0.01M134.8 296.1h0.01M146.9 293h0.01M137.3 281.9h0.01M136.2 286.6h0.01M135.1 294.9h0.01M132.2 289.5h0.01M129.8 291.2h0.01M137.4 299h0.01M122.6 298.4h0.01M145.7 289.6h0.01M133.9 294h0.01M144.7 291.8h0.01M138.6 292.9h0.01M130.3 294.5h0.01M145.1 293.1h0.01M129.8 292.8h0.01M139 294.8h0.01M136.3 297.9h0.01M149.7 297.9h0.01M142.1 300.3h0.01M139.6 291.8h0.01M127.2 292.9h0.01M150.8 286.9h0.01M146.9 285h0.01M142.7 304h0.01M140.4 285.6h0.01M142.5 291.9h0.01M147.1 289.6h0.01M124.5 289.9h0.01M145.2 299.1h0.01M142.4 293h0.01M146.1 291.6h0.01M135.9 294.2h0.01M149.7 289.7h0.01M144.4 288.9h0.01M133.4 293.9h0.01M128.1 287.6h0.01M129.3 289.1h0.01M131.8 307h0.01M145.4 293.3h0.01M128 278.3h0.01M143.9 289h0.01M149.3 290.4h0.01M128.3 288.9h0.01M126.3 284.2h0.01M146.3 289.6h0.01M146.1 289.4h0.01M137.9 289.5h0.01M135.1 288.8h0.01M153.3 292.5h0.01M122.5 303.1h0.01M151.2 299.6h0.01M139 291.9h0.01M135.7 293.6h0.01M144.1 292.8h0.01M132.6 287h0.01M154.8 303h0.01M128.8 288.9h0.01M139.6 296.4h0.01M138.9 294.3h0.01M143.2 299.7h0.01M128.2 299.5h0.01M143.8 296.1h0.01M126.4 291.4h0.01M137.6 296.7h0.01M146 297h0.01M128.3 300.4h0.01M140.5 298.4h0.01M139.8 288.6h0.01M146.7 290h0.01M137.9 299.5h0.01M143.9 303.4h0.01M150.7 286.3h0.01M126.1 299.8h0.01M145.3 291.3h0.01M137.3 289.5h0.01M156 291.8h0.01M127.5 298.3h0.01M139.1 295h0.01M136.5 292.6h0.01M123 296.1h0.01M133.7 290.5h0.01M142.7 300.5h0.01M120.6 292h0.01M144.8 298.9h0.01M131.7 294.7h0.01M143.5 298.4h0.01M134.3 291.7h0.01M135.3 299.7h0.01M149.6 290.2h0.01M138.6 294.1h0.01M131.8 292.2h0.01M147.6 297.5h0.01M133.8 289h0.01M138.8 284.1h0.01M142.6 293.6h0.01M127.9 291.5h0.01M133.9 291.2h0.01M132 301h0.01M131.2 297.4h0.01M141.7 301.5h0.01M139.3 292.9h0.01M140.5 281.6h0.01M137 286.2h0.01M138.6 302.4h0.01M133.1 295.5h0.01M149.1 298.5h0.01M136.2 282.5h0.01M143.5 296.2h0.01M136.9 290.3h0.01M155.6 283.5h0.01M135.2 289.3h0.01M125.8 288.8h0.01M132.7 300.2h0.01M124.2 284.7h0.01M142.2 283.7h0.01M121.8 289.2h0.01M129 287.1h0.01M138.4 295.5h0.01M134 291.2h0.01M146.2 292h0.01M146.4 289.4h0.01M144.2 300.4h0.01M127.4 310.5h0.01M136.9 290.9h0.01M138.4 295.6h0.01M129 293.1h0.01M134.6 301.3h0.01M124.3 296.7h0.01M137 288.5h0.01M141.1 291.5h0.01M140.2 294.3h0.01M150.6 290.5h0.01M154.8 277h0.01M156.2 300h0.01M153.9 294h0.01M142.4 286.9h0.01M151.8 286.1h0.01M132.7 292.9h0.01M141.9 294.9h0.01M129.4 290.9h0.01M144.2 299.8h0.01M146.7 295.3h0.01M137.5 289.7h0.01M135.2 292.3h0.01M144.6 289.9h0.01M147.2 291.7h0.01M138.6 290.7h0.01M153.6 291.1h0.01M144.8 293.6h0.01M146.6 296.3h0.01M154.7 288.6h0.01M132.5 302.8h0.01M151.3 293.3h0.01M137.3 294.4h0.01M151.5 288.4h0.01M152.9 292.6h0.01M136.6 290.6h0.01M121 294.8h0.01M128 289.6h0.01M131.8 294.3h0.01M146.3 293.1h0.01M141.5 295.3h0.01M154.2 296.3h0.01M153.9 292.5h0.01M143 289.1h0.01M145.2 287.9h0.01M144.1 289.2h0.01M136.7 300h0.01M141.1 297.5h0.01M137.7 282h0.01M153 291.8h0.01M134 298.4h0.01M129.7 288.5h0.01M150.1 288.8h0.01M150 291.1h0.01M137.9 293.3h0.01M135.4 299.2h0.01M149.7 293.3h0.01M145.3 296.1h0.01M154.9 283.6h0.01M149 298.2h0.01M137 293h0.01M136.7 300.1h0.01M129.6 296.4h0.01M151.3 296.2h0.01M135.5 290.2h0.01M120.8 286.9h0.01M149.7 287.4h0.01M125.1 291.5h0.01M126.5 295.6h0.01M132 298.5h0.01M138.8 284.6h0.01M132.9 289.1h0.01M132.3 300.1h0.01M130.8 295h0.01M134.6 296.3h0.01M127 283.8h0.01M144.4 301.2h0.01M127.4 291.1h0.01M135.3 287.4h0.01M148.5 293.2h0.01M127.4 291.6h0.01M151.8 288.8h0.01M135.2 288.1h0.01M141.3 289.7h0.01M147.8 288.1h0.01M126.8 295.5h0.01M111.4 287.4h0.01M142.4 294.3h0.01M134.7 290.3h0.01M132.6 291.9h0.01M135.8 296.1h0.01M139.9 296.1h0.01M154.5 291.3h0.01M137.3 295.1h0.01M155 299.8h0.01M115.3 287.1h0.01M131 295.2h0.01M151.8 293.2h0.01M141.3 305.6h0.01M143.1 305.5h0.01M131.8 302.5h0.01M135.3 278.7h0.01M132.4 290.1h0.01M139.5 297.3h0.01M146 296h0.01M133.1 303.3h0.01M150.6 293.1h0.01M134.7 292.6h0.01M137.9 288.8h0.01M139.8 289h0.01M145.6 289.1h0.01M144.3 294.8h0.01M141.4 296h0.01M130.6 308h0.01M133.6 297.2h0.01M140.1 290.4h0.01M155.5 299.4h0.01M137.4 296.2h0.01M146 302.2h0.01M149 291.9h0.01M137.6 286.1h0.01M142.2 298h0.01M136.4 296.8h0.01M141.1 290.2h0.01M128.9 299.4h0.01M130.2 286.8h0.01M142.2 296.7h0.01M153.5 278.8h0.01M141.1 295.2h0.01M136.7 291.2h0.01M149.4 282.7h0.01M138.9 296.2h0.01M125.1 292h0.01M153.7 295.1h0.01M146.3 297h0.01M141.9 295h0.01M132.6 291.7h0.01M138.4 285.5h0.01M135.1 288.4h0.01M128.9 294.3h0.01M131.4 296h0.01M156.2 277.9h0.01M138.4 280.6h0.01M138.8 295.1h0.01M141.8 300h0.01M141.3 282.8h0.01M153.5 287.3h0.01M139.1 294.8h0.01M132 293.4h0.01M153.4 283h0.01M124.9 290.3h0.01M138.4 285.4h0.01M119.2 298.3h0.01M143.4 285.1h0.01M145.1 292.5h0.01M141.4 285h0.01M138 295.7h0.01M124.2 286.7h0.01M148.7 304.6h0.01M145.9 292.5h0.01M130.2 290.5h0.01M137.7 295.5h0.01M137.7 307.5h0.01M151.9 279.9h0.01M129.4 292.9h0.01M148.8 295.3h0.01M115.2 283.2h0.01M152.1 296.4h0.01M144.1 301.9h0.01M135.9 289.7h0.01M130.8 294.3h0.01M143.9 298.4h0.01M153 296.6h0.01M151.1 291.4h0.01M131.3 297.2h0.01M149.1 300.8h0.01M138.5 290.1h0.01M136.7 295h0.01M139.5 291.8h0.01" stroke="#74a01c" stroke-width="0.9" stroke-linecap="round" opacity="0.6" fill="none"/>
<path d="M137.3 292.6h0.01M138.3 290h0.01M113.8 292.4h0.01M145.9 306.7h0.01M126.9 297.3h0.01M154 296.7h0.01M108.1 290.1h0.01M124.3 296.1h0.01M137.7 291.5h0.01M129.9 288h0.01M141.4 296.8h0.01M138.5 290.7h0.01M140.4 292.5h0.01M137.8 293.7h0.01M125.3 285.6h0.01M109.7 283.3h0.01M112.6 288h0.01M131.3 285h0.01M139.4 313.1h0.01M150.1 285h0.01M132.6 289.6h0.01M143.9 282.5h0.01M138 297h0.01M141.3 298.8h0.01M136 279.7h0.01M129.8 286.9h0.01M140.9 293h0.01M136 304.6h0.01M132.6 309.7h0.01M144.9 282.2h0.01M126.4 305.6h0.01M127.5 305.4h0.01M126.7 294h0.01M147.4 281.4h0.01M135 291.1h0.01M136.2 309.9h0.01M140.4 283.3h0.01M146.5 291.1h0.01M136.1 305.1h0.01M130 303.4h0.01M136.3 287.2h0.01M130 283.3h0.01M149.4 296.5h0.01M146.6 285.4h0.01M145 284.7h0.01M137.7 294.9h0.01M126.3 297.7h0.01M134.4 287.5h0.01M124.3 283.7h0.01M151.8 296.3h0.01M129.3 301h0.01M122.8 284.9h0.01M138.6 308.8h0.01M137.9 296.4h0.01M133 283.3h0.01M118.2 292.9h0.01M126 297.4h0.01M120.7 292.8h0.01M144.7 276h0.01M130.1 292.5h0.01M127.3 294h0.01M110.6 291.2h0.01M127.2 286.1h0.01M150.4 312.4h0.01M144.4 287.5h0.01M152.5 299.4h0.01M123.4 300.3h0.01M126.5 300h0.01M146 305.1h0.01M120.3 293.9h0.01M134 284.4h0.01M139.4 301h0.01M116 290.2h0.01M119.6 283.9h0.01M120.1 307h0.01M125.4 291.6h0.01M146.9 303.9h0.01M152.3 276.9h0.01M143.8 279.7h0.01M125.8 291.4h0.01M126.6 312.1h0.01M131.8 305.2h0.01M131.7 294.5h0.01M140.6 298.9h0.01M140.5 279.9h0.01M140.6 297.8h0.01M141.8 294.5h0.01M139.3 283.6h0.01M148.7 284.4h0.01M152.2 303.8h0.01M133.2 292.4h0.01M144.1 292.3h0.01M118.5 297.4h0.01M118.1 291h0.01M128.1 294.4h0.01M125.6 294.9h0.01M115.2 301h0.01M134.2 289.7h0.01M128.2 290.8h0.01M126.4 290.7h0.01M151 300.9h0.01M139.4 298.2h0.01M153.6 301.3h0.01M136.8 297.4h0.01M136.6 295.2h0.01M130.6 275.5h0.01M141.4 295.4h0.01M146.7 297.7h0.01M130.3 300.3h0.01M136.4 291.1h0.01M129.1 291.3h0.01M130.1 291.1h0.01M132.5 304.8h0.01M127.8 293.6h0.01M124.4 283.1h0.01M122.9 290.5h0.01M136 292.1h0.01M118.4 291.8h0.01M153.7 287.3h0.01M134.8 303.8h0.01M123.5 290h0.01M127.1 296.4h0.01M135.3 296.3h0.01M140 292.4h0.01M136 283h0.01M129.8 308.2h0.01M137.1 289.3h0.01M135.8 304.2h0.01M111.7 284.1h0.01M125.4 291.2h0.01M132.9 289.9h0.01M135.4 295.8h0.01M118.8 289.5h0.01M117.9 297.5h0.01M137.4 300.7h0.01M122.6 290.3h0.01M113 298h0.01M148 298.9h0.01M142.2 297h0.01M138.8 303.2h0.01M150.4 312.7h0.01M130.5 302.3h0.01M145.3 298.7h0.01M137.5 283.9h0.01M148.1 287.3h0.01M125.5 287.5h0.01M141.3 286.5h0.01M139.9 299.9h0.01M135.3 292h0.01M141.7 306.5h0.01M128 285.8h0.01M126.2 287.3h0.01M130.9 293.6h0.01M123.4 291.3h0.01M108.6 277.8h0.01M120.8 297h0.01M145 279.2h0.01M136.9 308.2h0.01M130.3 303h0.01M138 286.9h0.01M146.9 289.7h0.01M138.6 291.5h0.01M131.2 296.3h0.01M151.1 280.3h0.01M119.5 295.9h0.01M146.6 293.4h0.01M131.6 299.6h0.01M154.4 287.1h0.01M113.3 292.5h0.01M143.9 283.5h0.01M148.6 303.2h0.01M144.2 287.6h0.01M117.2 300.7h0.01M137.4 301h0.01M148.5 303.7h0.01M130.4 294.9h0.01M139.9 301.5h0.01M131.5 290.5h0.01M121.3 303.9h0.01M138.4 290h0.01M117.5 290.5h0.01M117.4 291.1h0.01M126.9 299.5h0.01M120.9 279.1h0.01M126.1 283h0.01M143.6 293.2h0.01M112.3 287.4h0.01M133.6 294.6h0.01M110.1 293.9h0.01M137.8 303.6h0.01M148.2 293.9h0.01M117.1 291.7h0.01M142.4 287h0.01M150.3 286.6h0.01M119.4 302.2h0.01M132.7 297.8h0.01M130 295.3h0.01M126.4 311.5h0.01M142.5 293.9h0.01M140.1 302.3h0.01M127.2 296.5h0.01M136.7 290.1h0.01M124 293.2h0.01M130.1 291.4h0.01M108.8 295.7h0.01M142.5 295.6h0.01M156.2 302.5h0.01M129.4 289.1h0.01M140.5 291.7h0.01M113 296h0.01M130.1 293h0.01M141.9 296.7h0.01M132.7 297.7h0.01M128.3 290.5h0.01M138.5 279.7h0.01M138.4 278.3h0.01M118.9 304.9h0.01M154 296.1h0.01M137.2 285.4h0.01M129.4 283.5h0.01M132.8 294.2h0.01M135.6 301.9h0.01M125.6 275.8h0.01M118.8 284h0.01M129.2 291.2h0.01M133.4 306.9h0.01M134.3 285.6h0.01M130 287.4h0.01M130.9 300h0.01M119.3 301.1h0.01M155 295.8h0.01M116.5 312.4h0.01M133.3 297h0.01M129.4 286.8h0.01M142 282.9h0.01M116.2 299.8h0.01M129.1 287.7h0.01" stroke="#a0c060" stroke-width="0.9" stroke-linecap="round" opacity="0.5" fill="none"/>
<ellipse cx="198" cy="284" rx="8.5" ry="3.4" fill="#6e9a1e" opacity="0.8" transform="rotate(-30 198 284)" filter="url(#bl2)"/>
<path d="M202.2 285.5h0.01M196.4 284.5h0.01M201.9 284.3h0.01M204 282.4h0.01M195.3 287h0.01M196 280.4h0.01M204.9 281.6h0.01M204.8 279.9h0.01M201.6 281.8h0.01M199.9 285.4h0.01M199 285.1h0.01M199.3 286.7h0.01M199.3 278.7h0.01M206.8 280.1h0.01M194.7 284.2h0.01M208.1 278.4h0.01M201.3 283.8h0.01M197.1 289.4h0.01M207.6 276.3h0.01M201.7 277.3h0.01M196.4 285.1h0.01M198.9 285h0.01M200.5 283.6h0.01M197.7 285h0.01M197.6 289.7h0.01M199.8 286.4h0.01M198.3 283.4h0.01M195.6 281.8h0.01M208.9 278.9h0.01M198.1 282.7h0.01M204 279.6h0.01M195.1 284.2h0.01M206.1 280.2h0.01M196.5 283.1h0.01M204.8 280.9h0.01M197.4 286.8h0.01M201.2 279.4h0.01M205.1 282.9h0.01M195.2 281.9h0.01M203.1 280.1h0.01M196.7 284h0.01M197.7 286.5h0.01M193.2 288.2h0.01M205 282.8h0.01M201.9 282.5h0.01M196.9 284.3h0.01M195.7 290h0.01M196.2 282.2h0.01M204 284.7h0.01M199 282.5h0.01M193.3 288.5h0.01M196 283.3h0.01M199.5 279.6h0.01M198.8 276.9h0.01M193.3 282.8h0.01M197.8 286.3h0.01M193.2 290.5h0.01M194.1 284.9h0.01M202.1 279.6h0.01M205 279.4h0.01M196.4 282.3h0.01M203.7 280.6h0.01M194.5 283.4h0.01M194.8 285.6h0.01M195.4 287.7h0.01M197.1 282.8h0.01M202 285.6h0.01M188.2 290.7h0.01M203.6 281.2h0.01M200.3 278.5h0.01M195.6 288.2h0.01M197.7 284.4h0.01M201.6 282.9h0.01M199.7 281.7h0.01M198.1 287.5h0.01M193.9 282.4h0.01M197.4 286.8h0.01M207.1 279.2h0.01M195.7 287h0.01M201 285.5h0.01M201.5 284h0.01M201.1 283.4h0.01M193.4 286.2h0.01M207.5 282.1h0.01M203.3 282h0.01M198 285h0.01M197.8 287.1h0.01M195.7 283.3h0.01M192 291.7h0.01M193.4 284.3h0.01M202.2 286.5h0.01M201 281.4h0.01M199.9 280.7h0.01M196.9 284.7h0.01M199.1 285.5h0.01M203 286.3h0.01M201.9 281h0.01M198.4 281.5h0.01M194.7 285h0.01M202.3 279.7h0.01M189.3 286.3h0.01M192 287h0.01M195.3 282.4h0.01M193.8 285.3h0.01M200.8 284.1h0.01M204.3 279.7h0.01M201.3 282.3h0.01M192 285.7h0.01M208.6 277.4h0.01M207.2 281h0.01M206 278.8h0.01M202.4 280.7h0.01M191.4 284.6h0.01M198.4 279.4h0.01M198.9 281.1h0.01M198.3 280.1h0.01M202 281h0.01M189 285.3h0.01M196.6 280.4h0.01M200.4 284h0.01M196.6 288.6h0.01M205.6 280.5h0.01M201 283.6h0.01M198.5 287.3h0.01M192.6 280.3h0.01M198.8 284.7h0.01M200.9 279.3h0.01M204 278.3h0.01M202.1 283.6h0.01M200.4 285.7h0.01M198.2 289.5h0.01M200.1 281.7h0.01M210.9 276.6h0.01M192 291.3h0.01M205 278.4h0.01M194.7 289h0.01M197.3 281.8h0.01M195.9 285.4h0.01M204.8 284.3h0.01M197 288.8h0.01M191.7 289.6h0.01M198 285.2h0.01M195.2 283.7h0.01M200.9 285.4h0.01M187.5 290.2h0.01M195 282.8h0.01M192.3 288.7h0.01M201.7 283.7h0.01M186.7 286.3h0.01M194.7 284.7h0.01M206.3 278.2h0.01M200 285.6h0.01M206.8 280h0.01M202.2 286.9h0.01M194.1 281.3h0.01M194.2 285.4h0.01M205 280.9h0.01M204.2 280.7h0.01M197.7 282.6h0.01M192.8 288.4h0.01M200.6 284h0.01M195.1 284.5h0.01M200.8 284.1h0.01M206.9 276.5h0.01M204.1 282.9h0.01M197.1 284.9h0.01M199.8 287.2h0.01M211 277.4h0.01M198.1 286.5h0.01M200.4 282.1h0.01M202.9 283.6h0.01M197.3 286.7h0.01M185.8 287.5h0.01M196.9 285.1h0.01M192.9 291h0.01M196.6 285.3h0.01M198.9 285.5h0.01M196.3 287h0.01M192.4 283.2h0.01M200.9 282.8h0.01M200.2 277.4h0.01M198 282.3h0.01M196.8 283.6h0.01M195.6 283.6h0.01M201.1 277.5h0.01M190.5 289.3h0.01M207.1 276.7h0.01M192.4 284h0.01M194.7 289.3h0.01M202.6 283.8h0.01M200.2 283.4h0.01M194.2 283.5h0.01M204.2 287.2h0.01M197.9 287.5h0.01M194.8 285.9h0.01M206.4 279h0.01M200.6 280.9h0.01M205.9 276.1h0.01M200.7 281.8h0.01M199.6 284.1h0.01M205.6 282h0.01M203.8 281.7h0.01M194.6 289.6h0.01M206.3 280.6h0.01M201.8 281.2h0.01M192.4 289.9h0.01M197 289.9h0.01M201.5 281.9h0.01M195.4 285.8h0.01M192.9 285.9h0.01M205.6 278.8h0.01M207 278.5h0.01M199.1 280.8h0.01M196.2 283.8h0.01M193.8 291.8h0.01M201 282.1h0.01M192.9 287h0.01M191.9 284.8h0.01M199.9 288.9h0.01M190.4 289.9h0.01M192.1 279.4h0.01M191.2 287.6h0.01M197.6 282.2h0.01M207.5 280h0.01M193.2 282.3h0.01M198.2 282h0.01M201.9 278.9h0.01M203.5 279.6h0.01M198.8 282.8h0.01M202.6 284.5h0.01M194.5 283.6h0.01M208.6 280.5h0.01M208.6 280.5h0.01M200.8 286.9h0.01M194.4 284.9h0.01M197.1 286.4h0.01M193.8 285.9h0.01M193.8 285.8h0.01M205 283h0.01M200.1 289.8h0.01M195.3 286.8h0.01M193.2 280.7h0.01M193.9 289.8h0.01M193.6 294.6h0.01M197.9 284.8h0.01M204.3 280.4h0.01M194.4 284.4h0.01M194.2 287.7h0.01M196.5 286.3h0.01M190.3 287.2h0.01M208.7 278.9h0.01M199.1 286.6h0.01M201.3 286.3h0.01M193.4 288.8h0.01M193.8 288.3h0.01M212 280.2h0.01M194.5 287.2h0.01M199.5 281.1h0.01M198.1 281h0.01M204 283.1h0.01M198.2 285.8h0.01M209.6 276.9h0.01M189.4 289.9h0.01M195 283.6h0.01M203.8 283.4h0.01M203 285.6h0.01M194.6 284.8h0.01M197 277.1h0.01M185.2 292.3h0.01M197.2 284.6h0.01M193.7 287.1h0.01M202.6 279.6h0.01M200.7 282h0.01M197.5 284.6h0.01M206.1 280.7h0.01M201.7 282.3h0.01M188.8 291.9h0.01M198.2 284.2h0.01M193.8 282.2h0.01M207.6 283.5h0.01M203.6 275.7h0.01M199.4 279.9h0.01M196.6 283.4h0.01M194.2 284.1h0.01M196.7 286.9h0.01M207.1 281.3h0.01M197.9 283.7h0.01M196.9 284.6h0.01M194.9 285.3h0.01M202 281.1h0.01M194 286h0.01M198.4 283.5h0.01M197.7 286.1h0.01M196.7 282h0.01M200 280.9h0.01M202.9 283.4h0.01M200.8 283.2h0.01M191.3 287.3h0.01M199.5 284.9h0.01M192.4 286.8h0.01M190.8 288.7h0.01M198.6 284h0.01M207.1 280.8h0.01M196.5 283.3h0.01M196.9 286.8h0.01M202 280.3h0.01M197 283.4h0.01M201.7 282.4h0.01M193.5 284.2h0.01M202.8 277.4h0.01M185.5 282.7h0.01M207.4 277.1h0.01M203 282.7h0.01M203.6 283.9h0.01M195.8 285.2h0.01M203.6 282.3h0.01M193.5 284.5h0.01M191.3 288.6h0.01M193.6 282.2h0.01M195.7 286.2h0.01M198.7 283h0.01M199.7 284.8h0.01M191.2 285.7h0.01M203.8 282.7h0.01M190.3 286.4h0.01M206.1 281.4h0.01M198.6 286.5h0.01M206.5 283h0.01M189.7 285.2h0.01M195.5 285.3h0.01M196.6 285.5h0.01M206.7 282h0.01M203 281.1h0.01M206.8 280.2h0.01M199.3 283.2h0.01M191.6 293.6h0.01M199.1 285.9h0.01M209.1 277.1h0.01M193.6 289.4h0.01M198.2 281.3h0.01M202.9 281.2h0.01M190.4 281.4h0.01M193.6 287.6h0.01M194.1 288.9h0.01M209.4 278.3h0.01M199.1 283.1h0.01M202.4 281.6h0.01M204.9 283.9h0.01M201.2 279.5h0.01M201.1 281.5h0.01M200.8 285.1h0.01M195.1 286.3h0.01M204.4 278h0.01M198 286h0.01M198.2 286.7h0.01M191.3 283.7h0.01M199.8 282.6h0.01M200.8 285h0.01M202.9 280.2h0.01M193.9 281.1h0.01M193.6 287.2h0.01M197.4 280.3h0.01M201.9 281.6h0.01M203.1 280.1h0.01M201.6 278.9h0.01M187.9 287.6h0.01M202.1 282.8h0.01M188.9 289.7h0.01M203.4 285.5h0.01M202.6 282.8h0.01M190.7 289.3h0.01M188 289h0.01M195.1 283h0.01M192.9 286.6h0.01M200.2 281h0.01M200.4 284.6h0.01M200.3 288h0.01M195.7 283.3h0.01M189.9 291.6h0.01M201.2 281.6h0.01M199.5 282.8h0.01M202.4 281.4h0.01M199.1 283.1h0.01M191.1 281.9h0.01M199.3 279.8h0.01M200.8 284.1h0.01M206.6 277h0.01M200 285.5h0.01M194.1 284.7h0.01M202.8 286.9h0.01M204.6 282.8h0.01M194.1 288.1h0.01M202.3 278.1h0.01M197.9 283.5h0.01M199.2 278.5h0.01M201.6 281.9h0.01M194.3 280.4h0.01M187.1 288.8h0.01M201.8 283h0.01M199.8 278.3h0.01M200.7 286.1h0.01M191.2 289.7h0.01M195.1 287.2h0.01M196.7 280.3h0.01M194.4 289.6h0.01M199 286.8h0.01M200.8 284.8h0.01M196.4 285.5h0.01M197.3 286.9h0.01M196.5 287.9h0.01M204.5 277h0.01M197.9 285.6h0.01M208.3 281.2h0.01M196.5 280.2h0.01M201.6 280.3h0.01M199.5 284.2h0.01M192.3 290.2h0.01M203.3 282.5h0.01M201.5 283h0.01M190.5 286.9h0.01M201.7 280.9h0.01M198.6 284.7h0.01M198.8 284.2h0.01M200.5 282.6h0.01M192.3 286.6h0.01M202 279.8h0.01M200.8 283.2h0.01M190.4 280.7h0.01M197.1 282.4h0.01M196.1 287.7h0.01M194.7 286.9h0.01M198.9 284h0.01M202.7 280.9h0.01M195.9 283.4h0.01M198.3 283.9h0.01M195.5 289.9h0.01M194.2 285.8h0.01M192 287.9h0.01M201.1 285.2h0.01M202.4 280.1h0.01M205.9 279.1h0.01M207.8 283h0.01M194.8 282.9h0.01M202.5 285.3h0.01M201.3 285.1h0.01M202.1 284.1h0.01M204.3 279.6h0.01M190.9 287.8h0.01M192.8 283.8h0.01M198.1 285.9h0.01M187.1 286.2h0.01M201 279.9h0.01M197.7 287.8h0.01M204.1 281.5h0.01M197.5 276.9h0.01M201.3 283.2h0.01M191.4 288.3h0.01M200.2 282.4h0.01M203 283.5h0.01M198 283.3h0.01M193.6 289.7h0.01M195.6 286.3h0.01M206.6 281.2h0.01M191.7 287.4h0.01M192.6 282.6h0.01M194.8 287.5h0.01M199.5 282.6h0.01M197.6 281.1h0.01M194.1 285.8h0.01M201.6 281h0.01M197.6 285.1h0.01M203.9 277.2h0.01M200.9 282.8h0.01M198 284.7h0.01M188.3 289.7h0.01M195.4 282.1h0.01M202.1 281.3h0.01M197.3 286.5h0.01M192.7 285.1h0.01M203.2 283.4h0.01M207.5 277.3h0.01M189.1 285.1h0.01M192.3 287.6h0.01M196.1 283.3h0.01M192.2 285.4h0.01M197.7 287.4h0.01M202.8 285h0.01M203 283.2h0.01M204.4 281.5h0.01M207 281.9h0.01M207.3 279.2h0.01M197.2 291.3h0.01M197.3 285.8h0.01M195.4 283.6h0.01M198.9 280.4h0.01M198.9 287.3h0.01M199.6 285.3h0.01M201.7 282.9h0.01M199.3 284.9h0.01M193.9 287.9h0.01M191.8 285.5h0.01M193.6 282.9h0.01M188.8 290.4h0.01M201.3 283.9h0.01M209.2 278h0.01M200.9 280.3h0.01M200.2 279.6h0.01M206.7 276.4h0.01M196.9 286.7h0.01M188.7 293h0.01M193.6 287.1h0.01M203.1 281.5h0.01M202.1 280.3h0.01M198.4 277.8h0.01M204.8 278.3h0.01M193.8 286.5h0.01M205.6 277.7h0.01M197.5 283.3h0.01M191.9 284h0.01M201.8 283.7h0.01M194.6 286.6h0.01M200.7 283.5h0.01M197.3 284.6h0.01M198.1 281h0.01M198.3 286h0.01M196.8 288.3h0.01M195.5 282.4h0.01M195 282.1h0.01M199.2 279h0.01M197.8 283.5h0.01M197 285.7h0.01M198.8 282h0.01M201.6 280.7h0.01M204.1 284.2h0.01M201 284.8h0.01M192.1 289h0.01M190.4 287.9h0.01M198.3 276.5h0.01M193.3 284.6h0.01M193.4 286.7h0.01M199.8 279.8h0.01M192.8 282h0.01M192.1 281.7h0.01M191.1 289.2h0.01M201.4 279.8h0.01M198.8 281.4h0.01M205.4 284.5h0.01M184.8 289.3h0.01M194.3 284.9h0.01" stroke="#6f9a1a" stroke-width="0.9" stroke-linecap="round" opacity="0.6" fill="none"/>
<path d="M209.1 288h0.01M187.3 297.4h0.01M165.6 306.7h0.01M182.1 296.8h0.01M186.1 287h0.01M178 311h0.01M164.7 309.2h0.01M196.2 290.9h0.01M183 288.8h0.01M176.6 293.2h0.01M211.2 280.4h0.01M195.5 289.8h0.01M183.9 302.3h0.01M198.4 290.1h0.01M195 292.9h0.01M183.5 298.8h0.01M186.4 293.4h0.01M199 297.4h0.01M183.4 302.8h0.01M172.9 302.5h0.01M198.6 286.5h0.01M187.6 287.9h0.01M175.6 310.1h0.01M187.8 293.4h0.01M166.5 302.5h0.01M173.1 303.1h0.01M183.2 293.8h0.01M178 300.8h0.01M197.3 280.6h0.01M171 310.4h0.01M167.4 305h0.01M191.7 300.5h0.01M187.5 299.5h0.01M185.9 291h0.01M183.6 286.2h0.01M199.6 293.6h0.01M185.4 299.6h0.01M176.3 308.7h0.01M176.2 297.4h0.01M172.5 294.9h0.01M199 296.7h0.01M167.8 305.8h0.01M190.3 289.4h0.01M167.4 308.8h0.01M198.7 287.3h0.01M172 302.5h0.01M203.7 289.1h0.01M185.9 297.2h0.01M179.9 299.6h0.01M179 300.4h0.01M180 299.9h0.01M194.6 289.3h0.01M171.1 307.2h0.01M181.8 295.2h0.01M191.1 287.5h0.01M198.9 289.5h0.01M175.8 298.1h0.01M182.4 292.7h0.01M192.5 279.3h0.01M187 292.6h0.01M173.9 306.1h0.01M181.1 300.5h0.01M180 297.5h0.01M194.7 294.2h0.01M198.3 286.9h0.01M203.6 281.9h0.01M164.8 299.3h0.01M166.1 303.5h0.01M164.7 310.5h0.01M186.3 294.6h0.01M188.7 292.7h0.01M182.2 295.9h0.01M183.9 290.6h0.01M205.4 290.2h0.01M191.7 302.8h0.01M176.1 306h0.01M167.3 310.2h0.01M179.1 304.6h0.01M189.6 297.5h0.01M194.7 292h0.01M186.3 302.9h0.01M191.6 293.8h0.01M203.2 282.5h0.01M210.1 284.8h0.01M183.6 289.2h0.01M200.4 284.1h0.01M187.5 294.6h0.01M199.3 289.6h0.01M190.8 292.8h0.01M197.2 290.6h0.01M204.5 279.3h0.01M203.1 285.9h0.01M191.4 295h0.01M183.5 300.2h0.01M185.1 299.2h0.01M179.4 305.3h0.01M165.7 304.9h0.01M186 296.2h0.01M175.3 299.9h0.01M191.6 296.7h0.01M200.9 282.9h0.01M184.5 294.4h0.01M166.2 305.6h0.01M196.9 281.1h0.01M207.9 281.7h0.01M204.4 280.1h0.01M203.5 287.5h0.01M197.5 291.3h0.01M194.8 292.6h0.01M201.8 286.9h0.01M194.9 291.4h0.01M185.8 290.7h0.01M167.3 299.6h0.01M193.8 288.2h0.01M209 295.9h0.01M194.6 287.1h0.01M190.3 291.2h0.01M194.4 300.1h0.01M208.8 286.7h0.01M193.8 299h0.01M198.4 291.5h0.01M170.2 302.1h0.01M187.7 292.8h0.01M175 292h0.01M176.6 300.6h0.01M187.4 288.6h0.01M188.7 302.5h0.01M183.5 286.6h0.01M183.8 296.4h0.01M202.2 285.5h0.01M203.9 285.1h0.01M203.7 290.4h0.01M205.6 283.3h0.01M203.2 303.8h0.01M171.5 305.5h0.01M190.4 288.6h0.01M196 287.7h0.01M196.4 289.3h0.01M177 306.2h0.01M213.1 282.1h0.01M185.6 286.5h0.01M190.1 292.2h0.01M171.9 294.4h0.01M193.9 294.8h0.01M200.2 297.4h0.01M163.5 311.4h0.01M189.1 300.3h0.01M183.5 291.7h0.01M186.4 297h0.01M175.2 298h0.01M191.5 295.9h0.01M184.4 298.5h0.01M179.1 297.7h0.01M190.8 296.9h0.01M205.4 281.8h0.01M196.3 298.4h0.01M195.6 287h0.01M187.9 286.5h0.01M174.2 295.8h0.01M197.8 285.1h0.01M187.4 294.5h0.01M180.9 292.4h0.01M187.4 297.7h0.01M183.4 296.2h0.01M190.5 293.3h0.01M184.5 301.5h0.01M195.9 296.3h0.01M182.7 287h0.01M164.6 306.3h0.01M188 285.4h0.01M182.2 303.9h0.01M188.6 289.7h0.01M185.1 296.2h0.01M180.3 297.1h0.01M178.9 300.8h0.01M209.1 287.5h0.01M176.3 313.2h0.01M181.5 290.8h0.01M168.2 307.3h0.01M187.6 290.7h0.01M175.9 300.5h0.01M191 295.2h0.01M187.5 281.9h0.01M179.5 300.6h0.01M192.7 294.8h0.01M171.6 312.4h0.01M171.1 303.7h0.01M179.4 296.9h0.01M178.6 304h0.01M196.7 289.9h0.01M169.2 302.8h0.01M186.5 296.8h0.01M178.8 298.3h0.01M176.8 288.4h0.01M180.8 306.7h0.01M193.8 283.9h0.01M196.3 289.2h0.01M178.4 304.1h0.01M178.1 298.6h0.01M187 295.5h0.01M181.6 299.4h0.01M186.7 295.6h0.01M189.5 289.5h0.01M169.3 305.5h0.01M202.1 286.3h0.01M187.3 290.4h0.01M169.4 299.5h0.01M174.2 300.8h0.01M167.1 306.7h0.01M168.6 309.7h0.01M181.8 288.8h0.01M180.1 300.1h0.01M192.7 294.7h0.01M181.6 297.1h0.01M184.6 298.7h0.01M177.4 299.8h0.01M187.2 292.5h0.01M176.2 308.3h0.01M190.2 287.7h0.01M208.4 276.6h0.01M174.8 300.5h0.01M196.3 296h0.01M204.2 286h0.01M188.6 296.7h0.01M175 298.6h0.01M193.2 291.4h0.01M186.7 289.4h0.01M185.9 287.8h0.01M197.6 287.6h0.01M177.3 298.3h0.01M180.9 305.3h0.01M187.1 295.6h0.01M171.5 297.7h0.01M188.1 291.4h0.01M194.9 294.7h0.01M186.1 297.7h0.01M188.9 294.3h0.01M180.5 299.8h0.01M191.7 291.7h0.01M177.3 293.2h0.01M176.9 308.9h0.01M199.3 287.9h0.01M189.5 292h0.01M196.8 292.9h0.01M183.9 298h0.01M194.2 281.6h0.01M173.5 300.2h0.01M171.1 302.5h0.01M175.1 300.1h0.01M189.3 286.9h0.01M190.7 299h0.01M185.7 289h0.01M181.6 303.8h0.01M181.6 294.7h0.01M194.1 286.1h0.01M174.2 305.9h0.01M185 292.4h0.01M194.5 295.2h0.01M199.6 286.7h0.01M193 293h0.01M172.1 312.5h0.01M176.9 298.1h0.01M174 297.9h0.01M199.6 286.3h0.01M175 292.8h0.01M188.2 293.4h0.01M173.5 302.6h0.01M165.6 311.6h0.01M172.7 306.3h0.01M182.5 286.5h0.01M171.2 301.3h0.01M197.2 290.8h0.01M197.8 295.9h0.01M181.6 295.3h0.01M191.1 287.4h0.01M177.9 305.2h0.01M197.7 278.3h0.01M191.9 291.1h0.01M196.5 286.5h0.01M188.1 300.9h0.01M180.1 301h0.01M193.7 289.5h0.01M198.1 289.8h0.01M192.4 282.2h0.01M174.4 304.1h0.01M203.8 290.8h0.01M184.7 292.1h0.01M168.5 296.5h0.01M181.6 300.9h0.01M182 290.1h0.01M185.2 295.8h0.01M180.6 306h0.01M194.1 295.4h0.01M185.2 290.6h0.01M201.9 290.4h0.01M176.1 294.7h0.01M194.8 286.4h0.01M172.1 303.7h0.01M191.2 287.8h0.01M189 298.2h0.01M191.7 283.4h0.01M199.1 295.6h0.01M197.2 287.3h0.01M187.1 286.3h0.01M178 297.6h0.01M211.4 278.6h0.01M178.5 308.6h0.01M197.3 279.3h0.01M179.9 290.4h0.01M193.5 278.5h0.01M206.2 276.5h0.01M178.6 310.7h0.01M193.6 291.9h0.01M194.3 284.6h0.01M196.2 287h0.01M193.1 291.6h0.01M200 279.4h0.01M171.1 308.1h0.01M185.9 298.6h0.01M171.9 304.7h0.01M166.3 308.4h0.01M199 295.3h0.01M182.4 302.2h0.01M200 280.6h0.01M178.6 290.3h0.01M176.8 303.3h0.01M198.4 294.4h0.01M173.5 291.4h0.01M175.4 305h0.01M187.7 297.6h0.01M184.2 299.6h0.01M172.3 299h0.01M180.2 289.8h0.01M200.6 284.3h0.01M172.5 299.4h0.01M174.9 302.9h0.01M183.9 300.9h0.01M172.2 303.6h0.01M167 305h0.01M202.3 283.8h0.01M196.8 287.7h0.01M171.1 300.2h0.01M173.5 304.9h0.01M196 303.7h0.01M208.3 284.9h0.01M174.8 302.9h0.01M180.9 310.5h0.01M180.3 304.7h0.01M171.8 308.2h0.01M170.4 302.8h0.01M188.6 294.1h0.01M185.4 295.1h0.01M175.7 301.2h0.01M183.2 292.1h0.01M193.5 291.1h0.01M180.2 305.5h0.01M174.9 292.5h0.01M200.6 283.7h0.01M204.9 285h0.01M178.2 305.9h0.01M194 294.6h0.01M190.4 300.2h0.01M196.6 286.4h0.01M168 306.5h0.01M184.7 290.8h0.01M187.5 301.8h0.01M183.2 302.7h0.01M172.7 298.7h0.01M197.1 287h0.01M191.3 296.9h0.01M202.9 277.7h0.01M193.8 291.2h0.01M192.2 300.3h0.01M181.9 294.6h0.01M187.5 283.6h0.01M188.6 288.8h0.01M188.4 289.7h0.01M191.7 290h0.01M178.9 302.5h0.01M191.4 283.2h0.01M170.1 304h0.01M184.8 302.7h0.01M206.4 284.3h0.01M198.6 285.2h0.01M170.5 306.7h0.01M192 297.1h0.01M174.7 294.1h0.01M184.9 298.3h0.01M182.4 294.8h0.01M186.7 293.6h0.01M199.9 279.3h0.01M185.8 287.2h0.01M186.7 296.8h0.01M190.9 293.4h0.01M173.7 295.5h0.01M196.8 286.2h0.01M173.3 311.3h0.01M188.4 278.9h0.01M169 311h0.01M193.1 296.9h0.01M182.4 288.8h0.01M183.2 294.7h0.01M189.2 292h0.01M190 286.1h0.01M178.4 297.3h0.01M187.1 285.5h0.01M191.8 303.6h0.01M166.9 312.8h0.01M189.7 297.8h0.01M187.4 295.5h0.01M191.6 293.7h0.01M171.3 303.9h0.01M211.5 285.8h0.01M173.7 298.1h0.01M186.6 300.1h0.01M195.8 285.6h0.01M169 312.3h0.01M205.6 285.8h0.01M194.6 292.3h0.01M210.9 284.5h0.01M200.8 279.5h0.01M179.9 299h0.01M185.7 294.9h0.01M183.5 296h0.01M178.6 292.5h0.01M199.7 286.3h0.01M190.6 292.2h0.01M173 295.2h0.01M183.9 299.1h0.01M186.4 298.6h0.01M175.9 300.1h0.01M187.7 293.4h0.01M191.6 298.8h0.01M181.4 298.7h0.01M179.6 302h0.01M187.1 290.5h0.01M171.1 298.5h0.01M183.1 297.7h0.01M179.9 298.4h0.01M193.3 302.5h0.01M205.8 294.2h0.01M188.2 294.7h0.01M210.5 281.1h0.01M192.8 288h0.01M181.4 302h0.01M177.3 297.3h0.01M168.8 307.7h0.01M186.2 297.7h0.01M172.7 297.3h0.01M199.5 286.4h0.01M192.9 284.6h0.01M164.5 295.9h0.01M192 296.2h0.01M206.3 291h0.01M177.8 296.2h0.01M181.6 293.7h0.01M168.2 306.3h0.01M185.7 291.2h0.01M183.4 290h0.01M181.3 296.3h0.01M180.4 298.3h0.01M167.6 300h0.01M177.8 304.2h0.01M172.4 299h0.01M209.4 278.5h0.01M179.3 294.8h0.01M205 285.4h0.01M193 298.7h0.01M167.7 298.2h0.01M200.5 287.9h0.01M181.7 301.9h0.01M189.5 302.9h0.01M171.6 306.2h0.01M200 290.5h0.01M180.7 296.4h0.01M182.4 300.9h0.01M180.8 297.6h0.01M198.2 286.5h0.01M188.7 292.6h0.01M180.9 286.8h0.01M175.5 303.7h0.01M176.8 297.8h0.01M192.1 302.9h0.01M174.6 297.5h0.01M165.4 310.8h0.01M183.3 292.4h0.01M183.4 301.8h0.01M199.2 288.3h0.01M202.4 289.6h0.01M182.3 301.5h0.01M189.7 296.6h0.01M194.4 300.6h0.01M171.7 306.2h0.01M178.4 312h0.01M178.9 297.7h0.01M185.7 295h0.01" stroke="#9cbc5c" stroke-width="0.9" stroke-linecap="round" opacity="0.5" fill="none"/>
<path d="M189.1 295.6h0.01M179.4 306.8h0.01M185.5 293.1h0.01M174.6 297.5h0.01M182.2 307h0.01M170 305.5h0.01M185.9 299.9h0.01M180.7 298.4h0.01M171.6 304.1h0.01M184.8 290.8h0.01M174.1 312.4h0.01M172 300.2h0.01M176.5 302h0.01M175.1 306.5h0.01M178.3 294.6h0.01M179.9 308.7h0.01M163.6 310.1h0.01M166.8 312.1h0.01M167.2 306.8h0.01M172.5 307.7h0.01M179.5 308.2h0.01M171.7 308h0.01M177.4 303.1h0.01M173.6 302h0.01M175.6 309.7h0.01M181.5 306.7h0.01M169.2 308h0.01M166.7 302.1h0.01M181.8 298.6h0.01M173.9 297.5h0.01M172.6 304.8h0.01M174 309.7h0.01M179.1 302.3h0.01M175.9 301.2h0.01M168.4 306.4h0.01M166.1 308.3h0.01M176.5 308.8h0.01M170.9 307h0.01M173.4 301.8h0.01M170.6 297.6h0.01M183 296.5h0.01M170.7 297.3h0.01M176.9 296.4h0.01M184 293.5h0.01M170.3 310.1h0.01M181.3 290.3h0.01M175.3 296.1h0.01M172.9 308.8h0.01M175 311.6h0.01M169.4 308.1h0.01M187.8 304.1h0.01M178.2 305.1h0.01M172 305.4h0.01M171 308.3h0.01M179.7 296.1h0.01M165.4 309.8h0.01M192.1 295.3h0.01M175.9 303.2h0.01M182.8 288.8h0.01M187.2 290.8h0.01M197.7 304.3h0.01M187.1 296.3h0.01M178.6 299.1h0.01M171.7 307h0.01M169.9 301.4h0.01M174 307.8h0.01M169.3 309.1h0.01M164 310.8h0.01M167.1 312.5h0.01M167.6 311.4h0.01M182.2 295.6h0.01M173.5 300.5h0.01M180.6 304.6h0.01M187.4 303.6h0.01M184.1 295h0.01M177.1 305.5h0.01M173.6 298.1h0.01M197.4 304.1h0.01M169.7 293.8h0.01M189.7 294.6h0.01M191.4 289.2h0.01M181 304.5h0.01M162.2 309.6h0.01M180.5 304.2h0.01M172.3 292.1h0.01M184.8 290.5h0.01M180.2 305.7h0.01M163.3 302.6h0.01M176.2 301h0.01M173.7 303.7h0.01M174.6 305.8h0.01M170.4 306.4h0.01M168.3 303.4h0.01M176 299.2h0.01M179.3 301.4h0.01M185.2 301.1h0.01M180.6 301.3h0.01M177.7 308h0.01M177.5 295.6h0.01M177.9 307.4h0.01M173.3 298.4h0.01M182.7 302.6h0.01M184.8 299.2h0.01M177.7 306.8h0.01M178.7 303h0.01M183 303.5h0.01M172.2 301.5h0.01M184.5 303.3h0.01M176.7 299.8h0.01M173.6 299.9h0.01M194.4 289.4h0.01M185.8 306.1h0.01M166.6 306.1h0.01M164.3 311h0.01M173.1 305.1h0.01M174.2 302h0.01M175.7 303.2h0.01M168.2 306.3h0.01M167.3 301.8h0.01M170.5 297h0.01M179.2 301.4h0.01M178.8 307.7h0.01M181.8 297.8h0.01M180.4 307h0.01M174.4 306.3h0.01M176.1 298h0.01M176.4 301.2h0.01M173.7 307h0.01M178.3 297.4h0.01M172.4 304.5h0.01M167.8 310h0.01M171.6 302.3h0.01M182.5 299.2h0.01M165 309.2h0.01M174 306.1h0.01M194.8 295.4h0.01M186.5 296.5h0.01M179.9 303.7h0.01M174.6 305.5h0.01M172.7 308.9h0.01M174.6 306.1h0.01M172.5 297.1h0.01M176.4 298.6h0.01M175.6 301.5h0.01M169.2 299.5h0.01M162.8 308.2h0.01M166.6 310.1h0.01M163.8 311.6h0.01M177.8 298.5h0.01M166.2 307.3h0.01M184.5 305.7h0.01M192.9 294.1h0.01M180.4 301.8h0.01M172.3 300h0.01M174.4 310.1h0.01M185 295.1h0.01M176.1 305.7h0.01M169.4 297.9h0.01M175.3 298.8h0.01M171.1 303h0.01M183 289.3h0.01M171.1 310.2h0.01M186.2 293.7h0.01M179.1 300.5h0.01M187.5 292.5h0.01M178.9 299h0.01M173 302.7h0.01M173.8 304.9h0.01M170.4 308h0.01M165.9 313.4h0.01M162.8 301.4h0.01M181 298.7h0.01M172.5 310.1h0.01M178.9 311.7h0.01M175.2 296.5h0.01M169.2 303.9h0.01M176.2 312h0.01M201.2 297.7h0.01M179.9 304h0.01M171.3 294.7h0.01M190.8 305.1h0.01M170.5 306.5h0.01M168.5 306.7h0.01M165.2 303.8h0.01M180.6 290.7h0.01M180.9 294.7h0.01M168.3 297.5h0.01M178 297.1h0.01M193.5 288.5h0.01M178.4 305.4h0.01M164.9 305.5h0.01M167.3 311.3h0.01M179.6 306.6h0.01M172.9 302.9h0.01M180 306.9h0.01M174.2 300.3h0.01M172.9 301.5h0.01M184.6 307.9h0.01M173 304.8h0.01M164.9 311h0.01M182.5 303.2h0.01" stroke="#b4cc84" stroke-width="0.9" stroke-linecap="round" opacity="0.5" fill="none"/>
<rect x="47.7" y="273.7" width="52.6" height="40.5" fill="none" stroke="#8c8c8c" stroke-width="1"/>
<line x1="65.5" y1="273" x2="65.5" y2="274.4" stroke="#555" stroke-width="1.6"/>
<rect x="104.5" y="273.7" width="52.7" height="40.5" fill="none" stroke="#8c8c8c" stroke-width="1"/>
<line x1="122.3" y1="273" x2="122.3" y2="274.4" stroke="#555" stroke-width="1.6"/>
<rect x="161.4" y="273.7" width="52.8" height="40.5" fill="none" stroke="#8c8c8c" stroke-width="1"/>
<line x1="179.2" y1="273" x2="179.2" y2="274.4" stroke="#555" stroke-width="1.6"/>
<rect x="60" y="282.2" width="30.8" height="23.1" fill="none" stroke="#777" stroke-width="0.8"/>
<rect x="119.9" y="282.2" width="31" height="23.2" fill="none" stroke="#777" stroke-width="0.8"/>
<rect x="187" y="274.4" width="23.2" height="14.8" fill="none" stroke="#777" stroke-width="0.8"/>
<rect x="183.9" y="289" width="20.2" height="16.4" fill="none" stroke="#777" stroke-width="0.8"/>
<text x="90.8" y="311.2" font-size="7.4" fill="#222" stroke="#222" stroke-width="0.12">86</text>
<text x="147.6" y="311.4" font-size="7.4" fill="#222" stroke="#222" stroke-width="0.12">84</text>
<text x="176.4" y="283.2" font-size="7.4" fill="#222" stroke="#222" stroke-width="0.12">31</text>
<text x="205.4" y="311.4" font-size="7.4" fill="#222" stroke="#222" stroke-width="0.12">21</text>
<text x="134.6" y="339.5" font-size="7.2" fill="#262626" textLength="48" lengthAdjust="spacingAndGlyphs" stroke="#262626" stroke-width="0.12">MLF1 + Trib1</text>
<line x1="104.6" y1="344.6" x2="213.2" y2="344.6" stroke="#222" stroke-width="1.3"/>
<text x="65.2" y="355.4" font-size="7.2" fill="#262626" textLength="16.6" lengthAdjust="spacingAndGlyphs" stroke="#262626" stroke-width="0.12">Trib1</text>
<text x="114.6" y="355.4" font-size="7.2" fill="#262626" textLength="33" lengthAdjust="spacingAndGlyphs" stroke="#262626" stroke-width="0.12">Leukemic</text>
<text x="163" y="355.4" font-size="7.2" fill="#262626" textLength="48" lengthAdjust="spacingAndGlyphs" stroke="#262626" stroke-width="0.12">Non-leukemic</text>
<path d="M48.2,400.8 L48.2,400.8 L48.6,400.8 L49.1,400.8 L49.5,400.8 L49.9,400.8 L50.4,400.8 L50.8,400.8 L51.2,400.8 L51.6,400.8 L52.1,400.8 L52.5,400.8 L52.9,400.8 L53.4,400.7 L53.8,400.7 L54.2,400.6 L54.7,400.4 L55.1,400.2 L55.5,400 L55.9,399.6 L56.4,399.1 L56.8,398.4 L57.2,397.7 L57.7,396.9 L58.1,396.1 L58.5,395.4 L59,394.7 L59.4,394.3 L59.8,394 L60.2,394 L60.7,394.3 L61.1,394.8 L61.5,395.5 L62,396.2 L62.4,397 L62.8,397.8 L63.2,398.5 L63.7,399.1 L64.1,399.6 L64.5,400 L65,400.3 L65.4,400.5 L65.8,400.6 L66.3,400.7 L66.7,400.7 L67.1,400.8 L67.5,400.8 L68,400.8 L68.4,400.8 L68.8,400.8 L69.3,400.8 L69.7,400.8 L70.1,400.8 L70.6,400.8 L71,400.8 L71.4,400.8 L71.8,400.8 L72.3,400.8 L72.7,400.8 L73.1,400.8 L73.6,400.8 L74,400.8 L74.4,400.8 L74.9,400.8 L75.3,400.7 L75.7,400.7 L76.2,400.6 L76.6,400.4 L77,400.1 L77.4,399.6 L77.9,398.9 L78.3,397.8 L78.7,396.4 L79.2,394.4 L79.6,391.8 L80,388.7 L80.4,385 L80.9,380.9 L81.3,376.7 L81.7,372.4 L82.2,368.7 L82.6,365.6 L83,363.6 L83.5,362.8 L83.9,363.3 L84.3,365.1 L84.8,368 L85.2,371.7 L85.6,375.9 L86,380.1 L86.5,384.3 L86.9,388.1 L87.3,391.3 L87.8,394 L88.2,396 L88.6,397.6 L89,398.7 L89.5,399.5 L89.9,400 L90.3,400.3 L90.8,400.5 L91.2,400.7 L91.6,400.7 L92.1,400.8 L92.5,400.8 L92.9,400.8 L93.3,400.8 L93.8,400.8 L94.2,400.8 L94.6,400.8 L95.1,400.8 L95.5,400.8 L95.9,400.8 L96.4,400.8 L96.8,400.8 L97.2,400.8 L97.7,400.8 L98.1,400.8 L98.5,400.8 L98.9,400.8 L99.4,400.8 L99.8,400.8 L99.8,400.8 Z" fill="#d9d9de"/>
<rect x="47.7" y="360.4" width="52.6" height="40.9" fill="none" stroke="#8c8c8c" stroke-width="1"/>
<line x1="65.5" y1="359.7" x2="65.5" y2="361.1" stroke="#555" stroke-width="1.6"/>
<path d="M105,400.8 L105,400.8 L105.4,400.8 L105.9,400.8 L106.3,400.8 L106.7,400.8 L107.2,400.8 L107.6,400.8 L108,400.7 L108.4,400.7 L108.9,400.6 L109.3,400.3 L109.7,400 L110.2,399.5 L110.6,398.7 L111,397.9 L111.5,396.9 L111.9,396 L112.3,395.1 L112.8,394.4 L113.2,393.7 L113.6,393 L114,392.2 L114.5,391.2 L114.9,390 L115.3,388.6 L115.8,387.2 L116.2,386 L116.6,385.2 L117.1,384.8 L117.5,384.9 L117.9,385.5 L118.4,386.6 L118.8,388.1 L119.2,389.6 L119.6,391.2 L120.1,392.7 L120.5,393.8 L120.9,394.6 L121.4,395 L121.8,395.1 L122.2,395 L122.7,394.8 L123.1,394.5 L123.5,394.1 L124,393.6 L124.4,392.8 L124.8,391.7 L125.2,390.1 L125.7,387.9 L126.1,385.2 L126.5,382.1 L127,378.7 L127.4,375.1 L127.8,371.6 L128.3,368.5 L128.7,365.8 L129.1,364 L129.6,363 L130,362.9 L130.4,363.8 L130.8,365.6 L131.3,368.1 L131.7,371.2 L132.1,374.7 L132.6,378.4 L133,382 L133.4,385.4 L133.9,388.6 L134.3,391.3 L134.7,393.6 L135.2,395.5 L135.6,397 L136,398.1 L136.5,399 L136.9,399.6 L137.3,400 L137.7,400.3 L138.2,400.5 L138.6,400.6 L139,400.7 L139.5,400.7 L139.9,400.8 L140.3,400.8 L140.8,400.8 L141.2,400.8 L141.6,400.8 L142.1,400.8 L142.5,400.8 L142.9,400.8 L143.3,400.8 L143.8,400.8 L144.2,400.8 L144.6,400.8 L145.1,400.8 L145.5,400.8 L145.9,400.8 L146.4,400.8 L146.8,400.8 L147.2,400.8 L147.7,400.8 L148.1,400.8 L148.5,400.8 L148.9,400.8 L149.4,400.8 L149.8,400.8 L150.2,400.8 L150.7,400.8 L151.1,400.8 L151.5,400.8 L152,400.8 L152.4,400.8 L152.8,400.8 L153.3,400.8 L153.7,400.8 L154.1,400.8 L154.5,400.8 L155,400.8 L155.4,400.8 L155.8,400.8 L156.3,400.8 L156.7,400.8 L156.7,400.8 Z" fill="#d9d9de"/>
<rect x="104.5" y="360.4" width="52.7" height="40.9" fill="none" stroke="#8c8c8c" stroke-width="1"/>
<line x1="122.3" y1="359.7" x2="122.3" y2="361.1" stroke="#555" stroke-width="1.6"/>
<path d="M161.9,400.8 L161.9,400.8 L162.3,400.8 L162.8,400.8 L163.2,400.7 L163.6,400.7 L164.1,400.6 L164.5,400.4 L164.9,400.2 L165.4,399.9 L165.8,399.4 L166.2,398.7 L166.6,397.7 L167.1,396.5 L167.5,394.8 L167.9,392.8 L168.4,390.4 L168.8,387.6 L169.2,384.6 L169.7,381.3 L170.1,378.1 L170.5,375 L171,372.3 L171.4,370.2 L171.8,368.8 L172.3,368.3 L172.7,368.7 L173.1,369.9 L173.6,371.9 L174,374.5 L174.4,377.5 L174.8,380.7 L175.3,384 L175.7,387.1 L176.1,389.9 L176.6,392.4 L177,394.4 L177.4,396.1 L177.9,397.3 L178.3,398.1 L178.7,398.6 L179.2,398.9 L179.6,398.9 L180,398.8 L180.5,398.6 L180.9,398.6 L181.3,398.6 L181.8,398.7 L182.2,398.7 L182.6,398.7 L183.1,398.4 L183.5,397.7 L183.9,396.6 L184.3,394.9 L184.8,392.6 L185.2,389.7 L185.6,386.2 L186.1,382.2 L186.5,378 L186.9,373.8 L187.4,369.9 L187.8,366.7 L188.2,364.4 L188.7,363.4 L189.1,363.6 L189.5,365.1 L190,367.8 L190.4,371.3 L190.8,375.3 L191.3,379.6 L191.7,383.7 L192.1,387.5 L192.5,390.9 L193,393.6 L193.4,395.8 L193.8,397.4 L194.3,398.6 L194.7,399.4 L195.1,400 L195.6,400.3 L196,400.5 L196.4,400.6 L196.9,400.7 L197.3,400.8 L197.7,400.8 L198.2,400.8 L198.6,400.8 L199,400.8 L199.5,400.8 L199.9,400.8 L200.3,400.8 L200.8,400.8 L201.2,400.8 L201.6,400.8 L202,400.8 L202.5,400.8 L202.9,400.8 L203.3,400.8 L203.8,400.8 L204.2,400.8 L204.6,400.8 L205.1,400.8 L205.5,400.8 L205.9,400.8 L206.4,400.8 L206.8,400.8 L207.2,400.8 L207.7,400.8 L208.1,400.8 L208.5,400.8 L209,400.8 L209.4,400.8 L209.8,400.8 L210.2,400.8 L210.7,400.8 L211.1,400.8 L211.5,400.8 L212,400.8 L212.4,400.8 L212.8,400.8 L213.3,400.8 L213.7,400.8 L213.7,400.8 Z" fill="#d9d9de"/>
<rect x="161.4" y="360.4" width="52.8" height="40.9" fill="none" stroke="#8c8c8c" stroke-width="1"/>
<line x1="179.2" y1="359.7" x2="179.2" y2="361.1" stroke="#555" stroke-width="1.6"/>
<line x1="77.4" y1="381.2" x2="77.4" y2="388.8" stroke="#777" stroke-width="1"/>
<line x1="77.4" y1="385.3" x2="100.3" y2="385.3" stroke="#777" stroke-width="1"/>
<text x="88.5" y="383.5" font-size="7.4" fill="#222" stroke="#222" stroke-width="0.12">79</text>
<line x1="122.6" y1="380.8" x2="122.6" y2="388.2" stroke="#777" stroke-width="1"/>
<line x1="122.6" y1="384.5" x2="157.2" y2="384.5" stroke="#777" stroke-width="1"/>
<text x="141.4" y="382.8" font-size="7.4" fill="#222" stroke="#222" stroke-width="0.12">71</text>
<line x1="180.6" y1="379.4" x2="180.6" y2="387.5" stroke="#777" stroke-width="1"/>
<line x1="180.6" y1="383.2" x2="214.2" y2="383.2" stroke="#777" stroke-width="1"/>
<text x="198" y="381.4" font-size="7.4" fill="#222" stroke="#222" stroke-width="0.12">54</text>
<ellipse cx="76" cy="439.6" rx="13" ry="7.5" fill="#8aae3a" opacity="0.7" transform="rotate(0 76 439.6)" filter="url(#bl2)"/>
<ellipse cx="60" cy="441" rx="8" ry="6" fill="#b0cc78" opacity="0.5" transform="rotate(0 60 441)" filter="url(#bl2)"/>
<path d="M65.3 440.2h0.01M84.3 437.1h0.01M82.3 436.9h0.01M75.8 436.5h0.01M62.4 435.1h0.01M77.4 438h0.01M75.8 436.5h0.01M83.9 438.6h0.01M79.5 437h0.01M87.8 439h0.01M79.8 451.4h0.01M79.8 431.2h0.01M69.8 441.3h0.01M63.9 431.7h0.01M74.8 431.1h0.01M85.8 441.9h0.01M73 446.1h0.01M69.7 433.2h0.01M84.1 439.7h0.01M73.8 445.1h0.01M74.6 443h0.01M77.9 445.8h0.01M80.9 437.1h0.01M89.6 437.7h0.01M91.7 432.8h0.01M76.4 427.6h0.01M80.6 446.8h0.01M72.3 442.1h0.01M73.9 447.3h0.01M79 441.5h0.01M85.9 431.4h0.01M82.2 440.3h0.01M87.7 439.7h0.01M81.4 439.3h0.01M66.9 436.9h0.01M74.3 432.5h0.01M75.5 437.1h0.01M92.5 438.3h0.01M77.1 440.1h0.01M82.3 431h0.01M60.1 448.1h0.01M68.3 434.8h0.01M86.6 441.2h0.01M68.6 443.6h0.01M65.6 448.3h0.01M73.1 441.4h0.01M75.9 449.9h0.01M67.2 439.1h0.01M95.4 428.7h0.01M71.5 441.1h0.01M74 442h0.01M86.5 433.5h0.01M70 446.6h0.01M93.7 425.3h0.01M80.9 444.9h0.01M69.8 434.9h0.01M65.7 438.5h0.01M65.5 443.4h0.01M69.7 442.4h0.01M61.7 444.3h0.01M82.1 444.6h0.01M78.4 451.9h0.01M84.8 439.9h0.01M90.6 437.7h0.01M77.4 448.4h0.01M71.8 439.6h0.01M78.3 440.6h0.01M73.9 445h0.01M95.6 437.5h0.01M62.6 437.1h0.01M63.4 432.8h0.01M66.6 445.3h0.01M77.4 443.4h0.01M75 445.1h0.01M72.3 446.6h0.01M84 440.8h0.01M62.6 433.7h0.01M78.4 434h0.01M74.5 438.7h0.01M88.5 435.9h0.01M77.2 437.1h0.01M69.1 441.9h0.01M84.8 432h0.01M89.6 451.5h0.01M77.4 442.4h0.01M66.5 437.4h0.01M78.8 439.1h0.01M88.5 434.9h0.01M73.8 442.4h0.01M75.3 438.3h0.01M75 441.8h0.01M58.5 453.5h0.01M82.8 434h0.01M67.8 433.6h0.01M80 429.7h0.01M98.3 436.7h0.01M63.2 450.6h0.01M76 442.3h0.01M74.3 438.2h0.01M94.7 429.1h0.01M78.4 435.7h0.01M72.9 439.3h0.01M59.3 442.9h0.01M77.9 442.6h0.01M70.6 443.6h0.01M71.8 443.7h0.01M88.3 442.9h0.01M62.9 440h0.01M66.6 450h0.01M77.8 432.8h0.01M62.2 446.7h0.01M66.9 441.8h0.01M73 438.8h0.01M72 439.7h0.01M90.7 434.9h0.01M80.7 442.2h0.01M69.9 433.8h0.01M67.9 442.7h0.01M77.5 445.1h0.01M79.4 440.2h0.01M76.2 440.8h0.01M76.5 443.2h0.01M68.2 445.3h0.01M90.8 439.1h0.01M81.2 433.3h0.01M77 432h0.01M85.1 439.9h0.01M85.8 445.6h0.01M69.4 443.9h0.01M90.1 451.4h0.01M75.1 442.5h0.01M70.3 443h0.01M81.5 447.3h0.01M74.7 439.9h0.01M80.6 438.7h0.01M94.9 427.8h0.01M60.5 436.9h0.01M82.4 439.7h0.01M79.9 431.6h0.01M81.5 442.5h0.01M90.9 444h0.01M70.4 435.7h0.01M65.8 437h0.01M75.1 446.3h0.01M91.1 440h0.01M81.5 438.7h0.01M64.3 442.4h0.01M69.4 431.1h0.01M68.4 447.5h0.01M65.5 446.8h0.01M63.6 439.3h0.01M80.7 437.5h0.01M67.2 439.7h0.01M91.3 443.1h0.01M77.9 442.7h0.01M86.9 446.7h0.01M73.6 435h0.01M67.1 440h0.01M73.3 439.7h0.01M70.4 452.8h0.01M69.7 447.2h0.01M68.2 435.5h0.01M65.4 433.9h0.01M61.2 435.3h0.01M73.9 443.3h0.01M59.8 442h0.01M75 439.6h0.01M56.4 442.2h0.01M82.2 445.7h0.01M73.4 446.2h0.01M76.7 434.8h0.01M80.8 444.8h0.01M78.2 439.5h0.01M73.8 443.2h0.01M59.6 441.2h0.01M64.3 436.9h0.01M77.9 446.2h0.01M75.9 434.7h0.01M51.3 439.1h0.01M69.3 436.4h0.01M85.7 450.9h0.01M77 432.6h0.01M84 440.1h0.01M72.3 440.7h0.01M65.5 440.7h0.01M79.3 445.9h0.01M94.4 436.3h0.01M79.5 435.5h0.01M77.2 445.7h0.01M82 438.1h0.01M92.5 444.3h0.01M87.3 440.1h0.01M88.3 438.9h0.01M84.1 439.9h0.01M76 431.5h0.01M85.1 442.7h0.01M70.3 440h0.01M81.6 443h0.01M57 447.5h0.01M66.6 449.7h0.01M86.6 440.4h0.01M78 441.1h0.01M72.3 447.7h0.01M69.9 436.8h0.01M73.9 431.3h0.01M85.6 433.4h0.01M90 444.6h0.01M94.7 436.5h0.01M73.3 437.3h0.01M83.4 434.9h0.01M73.1 427.4h0.01M76.5 440.8h0.01M94.4 435.2h0.01M85 442.7h0.01M84.2 433.8h0.01M85 440.5h0.01M89.5 451.1h0.01M69.6 437.5h0.01M90.3 430.8h0.01M52.8 441.1h0.01M79.1 447.7h0.01M82.9 439.4h0.01M70.8 429.9h0.01M80.9 436.4h0.01M72.5 441.4h0.01M57.1 439.2h0.01M70.3 450.3h0.01M75 445.7h0.01M66.9 431.2h0.01M84.3 437.8h0.01M63.6 445.4h0.01M80.8 430.5h0.01M73.9 450.3h0.01M77.1 432.4h0.01M68.3 447.1h0.01M90.1 443.3h0.01M62 444.1h0.01M68.4 436.9h0.01M71.4 445.4h0.01M80.9 442.7h0.01M71.9 436.9h0.01M86.2 436.4h0.01M73.5 442.6h0.01M74.4 445h0.01M81.4 443.1h0.01M97.8 436.7h0.01M95.7 432.7h0.01M68.7 426.2h0.01M69.8 435.3h0.01M82.7 446.5h0.01M97.9 436.8h0.01M86.1 438.6h0.01M72.7 429.1h0.01M84.3 434.6h0.01M82.2 436h0.01M80.6 434.5h0.01M79.9 449.5h0.01M79.6 432.2h0.01M68.7 440.4h0.01M83.7 432.9h0.01M67.5 430.8h0.01M92.7 441.2h0.01M79.2 437.2h0.01M94.2 442.8h0.01M75.1 446.3h0.01M81.6 438.1h0.01M72.7 439.7h0.01M89.1 431.9h0.01M60.5 443.3h0.01M86.1 447.6h0.01M81.5 431.4h0.01M83.8 440.5h0.01M66.6 430.9h0.01M61.5 440h0.01M63.9 441.6h0.01M74.6 443.1h0.01M84.3 434.6h0.01M72.6 443.7h0.01M70 445.2h0.01M81.7 444.5h0.01M70.5 443.9h0.01M74.1 440.8h0.01M82 436.6h0.01M75.7 426.6h0.01M69.6 443h0.01M65.9 428h0.01M62.6 438h0.01M82.4 442.5h0.01M62.7 441.8h0.01M64.6 445.6h0.01M79.8 436.1h0.01M71.7 439.2h0.01M70.6 446h0.01M78.9 436.5h0.01M80.3 432.1h0.01M77.6 437.8h0.01M70.7 439.3h0.01M78.2 431.6h0.01M79.5 455.8h0.01M83.5 436.3h0.01M79.4 448.7h0.01M66 448.7h0.01M72.8 450h0.01M68.4 445.3h0.01M70.8 446.5h0.01M84.4 441.5h0.01M68.3 445.4h0.01M79.6 433.6h0.01M81.3 438.7h0.01M75 434.2h0.01M78 444.3h0.01M68.3 444h0.01M59.2 440.2h0.01M78.5 434.3h0.01M77.5 432.4h0.01M93.4 441.8h0.01M86.2 434.5h0.01M55.2 439.1h0.01M88.4 438.7h0.01M86.8 441.8h0.01M79.1 445.4h0.01M70.6 437.3h0.01M86.2 442.1h0.01M71.1 433.6h0.01M89.7 421.8h0.01M84.5 438.8h0.01M64.2 441.8h0.01M80.4 452.2h0.01M78.8 425.7h0.01M67.5 443.8h0.01M71.6 439.3h0.01M75.3 447.5h0.01M79.1 438.7h0.01M70.2 445.1h0.01M69.7 441.9h0.01M79.9 443.7h0.01M83.2 441.1h0.01M94 443.9h0.01M69.2 434.6h0.01M69.7 446.9h0.01M66.1 448.2h0.01M79.9 436.3h0.01M67 439.1h0.01M82.9 439.2h0.01M82.6 440.5h0.01M88.3 436.9h0.01M74.9 433.4h0.01M73.2 434.1h0.01M62.4 438.4h0.01M82.2 427.2h0.01M64.6 431.9h0.01M79.4 442.7h0.01M79 438.6h0.01M69.1 440.6h0.01M68.3 438.3h0.01M79.7 438.2h0.01M86.8 427.6h0.01M61.8 445.1h0.01M71 437h0.01M71.1 439.3h0.01M74.6 441.6h0.01M84.4 449.8h0.01M57 439h0.01M68.1 440.8h0.01M67 440h0.01M78.5 439.4h0.01M78.1 443.2h0.01M66.6 439.3h0.01M85.4 444.7h0.01M84.8 435h0.01M70.1 445h0.01M76.1 441.2h0.01M72.9 444.6h0.01M77.6 434.1h0.01M79.4 437.7h0.01M73.7 442.7h0.01M77.4 436.4h0.01M65.6 437.1h0.01M74.8 433h0.01M70.5 452.4h0.01M70.3 439.9h0.01M65 437.8h0.01M78.3 440.5h0.01M60.9 439.8h0.01M67.3 445.6h0.01M75.1 448.3h0.01M79.3 433.2h0.01M84.5 436.9h0.01M75.1 440.1h0.01M64.5 446h0.01M77.4 433.9h0.01M63.8 442.1h0.01M86.9 441.8h0.01M78.8 437.3h0.01M85.8 442.6h0.01M68.9 436.2h0.01M56.8 445.9h0.01M79.9 443.8h0.01M74.1 451.3h0.01M67 435h0.01M90.5 444.6h0.01M82.8 439h0.01M75.6 440.4h0.01M79.8 436.3h0.01M85.3 449.2h0.01M71.3 434.4h0.01M77.1 453.1h0.01M67.5 447h0.01M70 435.5h0.01M85.7 438.7h0.01M75.6 443.5h0.01M86.1 440.9h0.01M89.9 435.9h0.01M71.4 443.4h0.01M81.8 430.1h0.01M73.2 443.4h0.01M74.6 449.4h0.01M61.9 440.7h0.01M68.5 430.9h0.01M73.9 439.3h0.01M72.3 436.2h0.01M83.7 433.9h0.01M70.5 432h0.01M86.4 431.6h0.01M91.4 434.6h0.01M75.6 448.5h0.01M66.5 446.8h0.01M64.4 437.1h0.01M81 441.5h0.01M79 441.4h0.01M90.1 430.9h0.01M69.9 444.4h0.01M62.9 435.9h0.01M97.9 447h0.01M80.6 440.1h0.01M74.5 434.8h0.01M68.2 434.3h0.01M64.6 440.4h0.01M79.8 434.5h0.01M77.2 432.4h0.01M79.4 437.9h0.01M75.4 440.7h0.01M87.7 440.8h0.01M70.2 440.5h0.01M79.6 442.6h0.01M85.4 435.2h0.01M65.3 443.1h0.01M65.9 442.2h0.01M62.9 435.2h0.01M79.5 438.1h0.01M82.3 441h0.01M79 442.7h0.01M62 445.9h0.01M63.3 434.9h0.01M54.4 439.7h0.01M79.6 437.6h0.01M65.3 427.8h0.01M81 433.4h0.01M72.7 441h0.01M75.4 441.9h0.01M90.9 443.6h0.01M66.9 439.5h0.01M74 435h0.01M81.9 437.6h0.01M78.1 443.2h0.01M94.9 436.4h0.01M82.5 451.5h0.01M90.4 441.4h0.01M69.4 440.6h0.01M70.4 437.4h0.01M60.5 438.1h0.01M58 445.1h0.01M80.7 437.5h0.01M76.3 440.4h0.01M73.7 441.3h0.01M74.4 442.2h0.01M68.7 440.1h0.01M91.2 435.3h0.01M68.8 444.9h0.01M78.9 440.6h0.01M77.7 437.5h0.01M71.3 442.5h0.01M77.6 443.3h0.01M80.1 452h0.01M76.8 447.4h0.01M77.4 452.1h0.01M84.9 435.6h0.01M90.4 436.7h0.01M85.2 435.6h0.01M79.3 440.6h0.01M89 428h0.01M58.7 445.1h0.01M82.9 437h0.01M76.9 430.2h0.01M72.6 436.2h0.01M84.1 441.2h0.01M74.6 446.1h0.01M70.2 444h0.01M74 442.3h0.01M73.4 447.5h0.01M72.1 450.8h0.01M83.3 435.3h0.01M72.1 447.1h0.01M89.4 433.2h0.01M77.6 443.2h0.01M97.6 443.5h0.01M74.3 444.9h0.01M76.8 435.1h0.01M75.7 438.6h0.01M74.1 440.3h0.01M79.3 435.6h0.01M82.2 431.3h0.01M82.1 442.5h0.01M79.9 431.7h0.01M71.6 441h0.01M80.3 444h0.01M62.2 440h0.01M85.9 433.5h0.01M65.1 437.3h0.01M73.6 438.5h0.01M87.5 441.4h0.01M58.8 444.2h0.01M77 444.6h0.01M75.8 447.5h0.01M77.4 437.3h0.01M65.2 445h0.01M74.8 430.4h0.01M83.8 447h0.01M57.1 443h0.01M82.1 449.3h0.01M87.2 435.9h0.01M80.2 444h0.01M62.7 447.8h0.01M80.6 444.5h0.01M68 444.5h0.01M75.7 438.3h0.01M76.4 441.8h0.01M62.3 440h0.01M79.4 431.1h0.01M91.5 454h0.01M82.2 440h0.01M66.7 433.9h0.01M64.9 444.8h0.01M68.1 441h0.01M72.1 444.9h0.01M87.7 445h0.01M82.1 445.8h0.01M91.6 435.2h0.01M78.5 436.4h0.01M76.5 438.8h0.01M77.1 443.9h0.01M64.2 425.8h0.01M78.6 445.8h0.01M72.5 448h0.01M96.6 440.4h0.01M74.2 442.8h0.01M83 431.9h0.01M80.6 428.8h0.01M66.4 441.2h0.01M78.9 433.5h0.01M76.5 447h0.01M61.1 443.1h0.01M87.7 432.7h0.01M86.9 442.5h0.01M73.2 440.1h0.01M75.7 440.2h0.01M74.2 436h0.01M84.3 449.3h0.01M74.3 447.8h0.01M69 433h0.01M81.9 441.4h0.01M80.2 434.8h0.01M72.5 445.6h0.01M90.6 441.4h0.01M79.6 425.7h0.01M70.2 447.2h0.01M93.4 435.5h0.01M53 442.8h0.01M64.2 437.8h0.01M70.6 438h0.01M67.3 443.6h0.01M78.8 432.9h0.01M61.7 451.4h0.01M81.2 441.2h0.01M60.6 451.9h0.01M66.6 440.7h0.01M79.1 436.1h0.01M77.2 437.6h0.01M57.3 432.5h0.01M70.4 437.2h0.01M80 449.1h0.01M73.8 452h0.01M72.1 440.7h0.01M74 430.8h0.01M75.3 438.9h0.01M68.4 444.2h0.01M79.6 438.4h0.01M68 441.7h0.01M68.7 435.4h0.01M71.4 445.2h0.01M73.4 439.2h0.01M72.9 443.3h0.01M74.5 444.6h0.01M74.5 444.7h0.01M73.2 436h0.01M79.7 439h0.01M71.8 448h0.01M71.4 435.8h0.01M72.8 448h0.01M63.8 446.5h0.01M80.6 437.9h0.01M72.8 436.1h0.01M57.5 435h0.01M63.2 431.3h0.01M71.8 443.3h0.01M67.3 438.3h0.01M68.8 439h0.01M79.4 446.7h0.01M81.2 442.1h0.01M88.3 444h0.01M80.2 443.2h0.01M83.2 434.5h0.01M67.7 440.6h0.01M59.6 438.6h0.01M72.7 441.9h0.01M82 447.3h0.01M54.3 441.3h0.01M78.8 448h0.01M70.1 442.4h0.01M74.3 435h0.01M77.9 445.4h0.01M72.4 440.6h0.01M85.5 439.1h0.01M72.8 441.7h0.01M79.6 442.3h0.01M86.8 442.6h0.01M64.8 431.2h0.01M74.8 449.3h0.01M76 437.7h0.01M78.1 443h0.01M86.8 433.1h0.01M82.5 441.2h0.01M83 446.1h0.01M55.4 445.2h0.01M80.1 435.8h0.01M74.4 445.9h0.01M62 445h0.01M82.8 449.7h0.01M67.9 436.7h0.01M84.6 438.6h0.01M79.2 425.8h0.01M97.2 429.9h0.01M60.6 442.9h0.01M80 435.7h0.01M55.6 443.1h0.01M77.6 435.1h0.01M76.7 436.9h0.01M66.3 444h0.01M75.5 440.3h0.01M64.3 436.2h0.01M73 436.8h0.01M78.6 440.3h0.01M73.5 439.2h0.01M79.2 445.7h0.01M65.7 445.4h0.01M83.6 444.5h0.01M70.5 441.3h0.01M94.5 432.8h0.01M83 438.7h0.01M90.5 440.9h0.01M83.2 436.7h0.01M71 449h0.01M64 437.2h0.01M73.2 433.2h0.01M81.1 433.4h0.01M75.9 438.8h0.01M55.6 440.9h0.01M61.5 440.3h0.01M54.4 437.2h0.01M82.9 441.6h0.01M85.6 449.1h0.01M82.1 439.1h0.01M74.4 443.6h0.01M64.2 434.4h0.01M75.4 449.7h0.01M65.4 441.5h0.01M69.1 444.1h0.01M78.6 439.9h0.01M83.7 438.7h0.01M60.4 451.7h0.01M74.5 441.8h0.01M82.6 435.6h0.01M71.2 436h0.01M80.7 442.3h0.01M77.2 432.9h0.01M68 432.1h0.01M63.1 436h0.01M78.1 442.8h0.01M59.2 443.6h0.01M78.7 448.9h0.01M83.2 431.8h0.01M79.9 441.4h0.01M78.4 436.1h0.01M88.4 440.6h0.01M70.2 430.1h0.01M73.1 432.5h0.01M62.1 449.1h0.01M74.9 445.5h0.01M85.5 444.2h0.01M71.6 433.6h0.01M74 440.8h0.01M74.1 438.4h0.01M76.7 432.1h0.01M85.1 433.6h0.01M76.5 435.2h0.01M87.7 437h0.01M67.1 438h0.01M83.4 433.2h0.01M63.7 437.1h0.01M82.3 423.8h0.01M83.9 452.6h0.01M73.9 445.2h0.01M74.3 429.8h0.01M71.6 443.5h0.01M65.3 438.4h0.01M69.4 442.2h0.01M98 440.5h0.01M63.7 449.3h0.01M72.8 437.7h0.01M80 444.3h0.01M77.5 442h0.01M77.1 433.3h0.01M82.6 444.9h0.01M68.3 430.3h0.01M70 441.1h0.01M88.3 441.3h0.01M76 441.4h0.01M61.6 438.1h0.01M76.7 443.9h0.01M82.9 449.3h0.01M69.2 437.6h0.01M71.4 442.8h0.01M93.7 441.1h0.01M77 434.9h0.01M63.8 450h0.01M74.7 448h0.01M83 437.3h0.01M77.8 435h0.01M81.3 439.2h0.01M82.7 447h0.01M70.1 444.5h0.01M79.5 437.1h0.01M78 447h0.01M77 445.5h0.01M78.7 447.1h0.01M74.3 438.2h0.01M81.3 427.3h0.01M70.8 448.6h0.01M68.7 450.4h0.01M90.3 437.3h0.01M68.6 442.3h0.01M83.8 449.8h0.01M89.6 436.1h0.01M83.5 437.2h0.01M85.4 442.7h0.01M88.8 439.6h0.01M83.2 432.9h0.01M66.7 442.9h0.01M76.5 445h0.01M96.7 436.5h0.01M64.7 434.1h0.01M69.9 446.5h0.01M79.1 438.4h0.01M81.8 439.1h0.01M78 439.9h0.01M63.1 444.6h0.01M77.2 452.5h0.01M76.5 436.7h0.01M77.3 435.9h0.01M75.3 437.9h0.01M78.7 434.8h0.01M74.6 437.7h0.01M66.6 439.6h0.01M82 444.1h0.01M78.5 439.3h0.01M84.4 438.4h0.01M81.9 430.3h0.01M64.6 435.9h0.01M86.1 438.5h0.01M79.9 433.8h0.01M61.7 455.7h0.01M90.9 449.9h0.01M75.8 436.2h0.01M78.1 438.6h0.01M71.4 426h0.01M77.8 427.6h0.01M71 431.3h0.01M94.2 432.7h0.01M72 442.1h0.01M72.8 441.3h0.01M84.3 436.4h0.01M80.5 439.2h0.01M63.5 441.6h0.01M65.8 445.8h0.01M75.8 440.9h0.01M85 435.3h0.01M68.4 448h0.01M82.4 442.4h0.01M57.3 440.1h0.01M66.9 436.5h0.01M60.6 430.7h0.01M71.7 442.1h0.01M71 438.9h0.01M76.5 447.5h0.01M70.4 440.6h0.01M83.4 433.2h0.01M65.9 437.4h0.01M89 437.1h0.01M64.1 429.3h0.01M77.3 445.9h0.01M68.3 437.6h0.01M65.4 435.8h0.01M85.4 436.8h0.01M66 443.3h0.01M78.3 439.6h0.01M95.2 441.6h0.01M86.7 432.9h0.01M75.2 447h0.01M82.9 445h0.01M61.9 438.3h0.01M91.7 448.1h0.01M88.8 444.4h0.01M88.5 424h0.01M76.7 444.4h0.01M87.5 434.4h0.01M85.9 444.4h0.01M70.9 448.8h0.01M88 444.9h0.01M71.5 441.5h0.01M75.6 449.3h0.01M99.3 435h0.01M95.1 442.3h0.01M69.4 435.8h0.01M90.6 441.7h0.01M69.5 438.8h0.01M72.2 439.1h0.01M93.3 436h0.01M72.9 422.7h0.01M80.8 445.2h0.01M95.7 436.3h0.01M73.1 437.6h0.01M64 439.8h0.01M68.4 438.6h0.01M77.4 444.1h0.01M76.5 453.4h0.01M79.2 442.8h0.01M81 439.3h0.01M85.3 440.7h0.01M63 436.8h0.01M90.3 430.7h0.01M93 440.5h0.01M78.5 446.9h0.01M78.2 437.1h0.01M54.8 436.3h0.01M64.6 443.8h0.01M76.9 434.5h0.01M87.4 444.8h0.01M97.6 441.3h0.01M64 440.4h0.01M83.4 444.8h0.01M63.2 442.5h0.01M82.5 442h0.01M60.2 437.2h0.01M74.8 438.5h0.01M84.9 437.6h0.01M58.1 427.8h0.01M80.6 435.2h0.01M75.6 446h0.01M70.9 439.6h0.01M61.9 433h0.01M81.7 446.3h0.01M69.6 438.7h0.01M79.2 437.3h0.01M76.7 437.5h0.01M81.8 436.9h0.01M71.4 432.1h0.01M68.5 431.4h0.01M74.6 445.4h0.01M63.5 434.9h0.01M68.5 442.3h0.01M73 437.9h0.01M66.7 438.2h0.01M72.6 435.2h0.01M89.8 442.5h0.01M74.4 441.5h0.01M98.4 443.2h0.01M70.8 439.5h0.01M87.2 442.3h0.01M73.3 440.3h0.01M65.1 437.9h0.01M72 438.3h0.01M89.3 439.9h0.01M87.3 439.7h0.01M61.4 446.5h0.01M70.7 439h0.01M86.8 447.5h0.01M77.6 446.8h0.01M71.2 443.3h0.01M67.2 445.2h0.01M70.5 443.4h0.01M64.3 447.7h0.01M91.9 438.2h0.01M76.6 434.3h0.01M74.1 431.6h0.01M83 439.3h0.01M87.4 439.7h0.01M73.8 435.1h0.01M82.2 439h0.01M64.4 431.4h0.01M85.3 439.1h0.01M75.3 436.6h0.01M70.9 439.6h0.01M77.9 433h0.01M57.4 440h0.01M87 436h0.01M62.7 442.7h0.01M70 439.6h0.01M92.1 439.7h0.01M89 435.3h0.01M58.2 437.5h0.01M72.2 443.4h0.01M80.3 428.7h0.01M65.1 437.2h0.01M68.9 436.1h0.01M72.8 440.5h0.01M61.4 434.5h0.01M67.1 446.3h0.01M74.3 431.4h0.01M80.8 444.8h0.01M60.3 432.9h0.01M80.4 439.9h0.01M82 448.6h0.01M82.5 445.2h0.01M71.3 447.5h0.01M69.2 441.5h0.01M56.3 437.4h0.01M83.7 434.5h0.01M71.4 427.6h0.01M72.6 432.4h0.01M76.6 437h0.01M69.3 437.8h0.01M72 439.6h0.01M73.4 445.9h0.01M86.3 425.7h0.01M89.1 438.4h0.01M79.5 434.6h0.01M81.9 442.8h0.01M70.5 433.4h0.01M81 442.1h0.01M67.2 427.8h0.01M65.2 441.8h0.01M88.4 434.2h0.01M70.5 433.6h0.01M79.5 435.2h0.01M92.4 442.8h0.01M74.1 437.4h0.01M85.9 437.4h0.01M72.3 440.2h0.01M86.3 447.5h0.01M72.7 432.8h0.01M67.2 438.7h0.01M82.3 425.1h0.01M82.4 441.8h0.01M78 431.4h0.01M77 436.7h0.01M67 442.9h0.01M88.2 440.6h0.01M81.7 445.1h0.01M76.4 437.2h0.01M90.5 436.1h0.01M73.2 441.4h0.01M72.1 434.3h0.01M86.7 439.5h0.01M69.5 436.4h0.01M81.8 444h0.01M78.1 445.9h0.01M76.1 448.3h0.01M84.9 433.3h0.01M75.3 441.4h0.01M76.1 434.1h0.01M80.8 439.2h0.01M62 432.5h0.01M72.5 444.6h0.01M75.9 440.6h0.01M85.3 438.3h0.01M76.4 439.1h0.01M84.9 436h0.01M80 435.6h0.01M77.1 445.6h0.01M68.8 442.2h0.01M77 440.8h0.01M81.3 440h0.01M81 449.4h0.01M69.8 433.6h0.01M83.4 441.7h0.01M95.2 436.1h0.01M83.2 436.5h0.01M71.7 436.3h0.01M68.7 434.4h0.01M73.3 438.7h0.01M76.9 444h0.01M67.9 439.1h0.01M68.1 444.1h0.01M67.8 437.6h0.01M69 445.4h0.01M65 433.3h0.01M72.7 437.6h0.01M67.7 445.7h0.01M71.2 428.2h0.01M74.5 432.4h0.01M70.2 436.9h0.01M67.9 437.3h0.01M72.6 442.9h0.01M100 435.8h0.01M72.1 445.7h0.01M92.2 443.8h0.01M73.9 450.1h0.01M77.2 446h0.01M71.3 432.8h0.01M88.9 434.7h0.01M66.6 440.3h0.01M67.7 443.2h0.01M77.1 438.4h0.01M71.1 447.5h0.01M89.2 445.7h0.01M64.1 448.5h0.01M77.3 448.9h0.01M81.3 435.9h0.01M60.9 435.9h0.01M87.6 437.1h0.01" stroke="#78a222" stroke-width="0.9" stroke-linecap="round" opacity="0.6" fill="none"/>
<path d="M76.9 433.2h0.01M68 440.3h0.01M50 443.2h0.01M58.8 439.2h0.01M56.5 440h0.01M55 453.3h0.01M58.7 442.2h0.01M59.4 448.6h0.01M67.4 447h0.01M48.8 441.9h0.01M61 444.8h0.01M56.4 441.8h0.01M53.6 438.8h0.01M65.4 437.9h0.01M54.9 440.1h0.01M65.1 443.5h0.01M51.9 438.4h0.01M52 434.9h0.01M83.2 448.3h0.01M68.5 439.2h0.01M69.8 450.3h0.01M73.1 445.3h0.01M53.5 455.5h0.01M68.9 446.2h0.01M65.3 443.2h0.01M58.7 430.7h0.01M77.9 456.7h0.01M66.4 445.1h0.01M62.1 445.6h0.01M60.9 440.5h0.01M67.7 430.6h0.01M74.5 438.6h0.01M67 444.7h0.01M76.3 451.2h0.01M50.7 435.2h0.01M63.6 431.1h0.01M67.6 440.2h0.01M55.2 446.1h0.01M53.9 436.5h0.01M62 446.2h0.01M60.4 438.9h0.01M63.8 438.7h0.01M66.3 447.7h0.01M63.1 443.8h0.01M55.9 449.1h0.01M65.8 438.2h0.01M61.1 436.2h0.01M58 443h0.01M67.9 438h0.01M52.1 445.3h0.01M78.5 441.8h0.01M64.1 443.2h0.01M63.2 434.9h0.01M59.1 452.4h0.01M57 438.6h0.01M51.2 437.2h0.01M72.4 443.2h0.01M57.3 438.8h0.01M69 437.5h0.01M54.7 439.1h0.01M54.6 445.6h0.01M61.6 447.1h0.01M57 455.9h0.01M66.6 439.7h0.01M64.5 428.4h0.01M51.6 428.6h0.01M59.3 454.2h0.01M64.7 432.1h0.01M67.3 439.7h0.01M74.6 442.5h0.01M79.7 446.1h0.01M80.1 424.9h0.01M68.4 445.7h0.01M74.9 444.6h0.01M65.3 442.9h0.01M63.5 444.4h0.01M76 431.2h0.01M57.7 432.1h0.01M56.5 442.7h0.01M63.3 443.3h0.01M68.2 443.6h0.01M58.7 440.3h0.01M52.2 438.3h0.01M60.8 443.3h0.01M61 431.6h0.01M60.2 444.5h0.01M62.5 438.5h0.01M53.7 442.3h0.01M63 442.8h0.01M58.2 448.4h0.01M63.2 446h0.01M59 443.7h0.01M60 447.9h0.01M56.3 444.2h0.01M64.5 431.5h0.01M71.9 437.5h0.01M51.4 437h0.01M69.1 438.5h0.01M68.5 435.3h0.01M63.8 430.6h0.01M59 448.8h0.01M56.8 442.1h0.01M59.5 443.7h0.01M58.1 434.7h0.01M58.4 439h0.01M52.3 440h0.01M52.8 438h0.01M64.2 442.3h0.01M59.3 443.4h0.01M76.6 443.1h0.01M62.5 440.4h0.01M64.4 444.8h0.01M69.9 443.8h0.01M56.1 440.3h0.01M54.7 449h0.01M55.4 431.3h0.01M59.4 435.9h0.01M63.1 441.8h0.01M53.9 431.7h0.01M58.4 433.2h0.01M59.6 442h0.01M57.8 441.9h0.01M57.8 450.8h0.01M71.2 433.6h0.01M66.8 439.6h0.01M61.3 432.5h0.01M57.7 440.1h0.01M57.3 427.5h0.01M62.6 438.8h0.01M60.1 434.2h0.01M53.4 442.7h0.01M56.3 445.1h0.01M50.2 442.5h0.01M65.1 444h0.01M54 435.3h0.01M51.1 441.5h0.01M58.7 448.1h0.01M58.3 448.8h0.01M58.8 446.9h0.01M69.8 442.6h0.01M50.1 443.4h0.01M62.4 439.1h0.01M59.1 445h0.01M75.1 436.9h0.01M71.7 438.2h0.01M58.4 438.8h0.01M60.8 436.4h0.01M55.8 439.5h0.01M53 440.5h0.01M69.9 436h0.01M62.7 436.4h0.01M51 440.8h0.01M58.5 446.8h0.01M67.1 441.4h0.01M55.4 448.9h0.01M49.6 436.4h0.01M67.3 443.3h0.01M66.4 439.6h0.01M67.3 447.8h0.01M69.4 434.8h0.01M52.7 443h0.01M66.4 440.8h0.01M60.1 438.6h0.01M69.9 428.3h0.01M61.9 437.3h0.01M66 439h0.01M75.9 441.9h0.01M56.3 431.3h0.01M58.6 440.6h0.01M74.6 443h0.01M62.6 435.5h0.01M62.8 435.2h0.01M48.8 443.4h0.01M57.1 433h0.01M70.9 448h0.01M64.9 431.2h0.01M53.7 435.1h0.01M68.9 440.2h0.01M53.7 432.6h0.01M54.7 441.8h0.01M58.9 443.8h0.01M65.6 434.1h0.01M68.2 441h0.01M74.9 440h0.01M57.9 440.1h0.01M71.7 443.9h0.01M71.2 446.9h0.01M63.9 454.5h0.01M60.3 439.5h0.01M70.7 434h0.01M63.8 446.7h0.01M53.4 429.7h0.01M48.8 447.5h0.01M82.7 435.6h0.01M49.8 433.4h0.01M74.7 445.3h0.01M67 436.6h0.01M66.9 436.5h0.01M66.1 436.4h0.01M50.2 438.2h0.01M64.7 442.7h0.01M56.4 446.2h0.01M66.4 439.9h0.01M60.8 438.1h0.01M65.8 442.1h0.01M73.2 435.2h0.01M50.3 440h0.01M59 439h0.01M75.9 442.9h0.01M72 444.3h0.01M63.6 443.1h0.01M70.8 443.5h0.01M67 440.4h0.01M54.8 442.9h0.01M57.8 444.2h0.01M72.8 449.7h0.01M64.8 434.6h0.01M57.9 433.9h0.01M65 440.9h0.01M62.8 429.9h0.01M73.7 443.7h0.01M61.9 438.7h0.01M57.8 435.8h0.01M70.2 428.9h0.01M62.9 445.5h0.01M68.6 431.9h0.01M74 439.8h0.01M59.2 442.8h0.01M71 441.5h0.01M58.5 442h0.01M64.9 452.9h0.01M61.8 435.3h0.01M78.4 449.6h0.01M74.6 435.2h0.01M56.4 432.7h0.01M60.5 448.6h0.01M69.9 441.1h0.01M63.7 443.7h0.01M60.5 434.6h0.01M55.6 450.6h0.01M53.4 434.1h0.01M66.7 438.8h0.01M58.7 441.7h0.01M60.6 431.1h0.01M70.1 442.1h0.01M76.9 445.8h0.01M56.7 438.2h0.01M55.5 427.8h0.01M68.3 436.8h0.01M70.5 441.8h0.01M60.8 450.4h0.01M53.5 451.2h0.01M58.5 453.5h0.01M72.1 437.7h0.01M77.5 443.3h0.01M65 438.5h0.01M61.5 438.4h0.01M58.9 445.5h0.01M69.2 448.2h0.01M72.6 440.4h0.01M68.6 439.3h0.01M67.1 444.5h0.01M65.3 436.2h0.01M51.5 450.9h0.01M55 437.2h0.01M65.4 438.6h0.01M65.8 448.9h0.01M67.3 432.6h0.01" stroke="#a8c470" stroke-width="0.9" stroke-linecap="round" opacity="0.5" fill="none"/>
<ellipse cx="133.5" cy="439" rx="13" ry="7.5" fill="#72a020" opacity="0.8" transform="rotate(0 133.5 439)" filter="url(#bl2)"/>
<path d="M140 446.4h0.01M133.9 441.3h0.01M130.9 443.9h0.01M129 438.9h0.01M127.6 435.2h0.01M143.8 438.6h0.01M141.5 430.8h0.01M123 434.3h0.01M150.4 444.8h0.01M153.3 436.6h0.01M139 440.8h0.01M131.3 442h0.01M133.3 441.4h0.01M117.8 433.6h0.01M124.8 447.5h0.01M141.4 434h0.01M138 436h0.01M123.6 434.2h0.01M132.8 445.3h0.01M136.1 433.3h0.01M152.7 450.2h0.01M140.6 434.6h0.01M133.1 439.5h0.01M123.8 452.4h0.01M133.7 436.1h0.01M131.2 437.2h0.01M111.3 439.6h0.01M144 440h0.01M137.5 438.5h0.01M118.1 441.9h0.01M139.7 433.6h0.01M123.6 435.9h0.01M121.9 426.2h0.01M130 435.9h0.01M134.7 445h0.01M125.6 431h0.01M132.7 442.3h0.01M146.4 443.7h0.01M134.8 439.1h0.01M118.3 442.4h0.01M140.5 438.5h0.01M130.9 441h0.01M137.5 441.5h0.01M137.3 431.1h0.01M128.7 430.5h0.01M140.6 452.1h0.01M126.6 438.2h0.01M135.8 435.3h0.01M148.6 440h0.01M152.6 450.5h0.01M137.9 435h0.01M145.3 437.5h0.01M126.4 437.8h0.01M143.6 434.8h0.01M131.6 443.4h0.01M131.1 443.4h0.01M144.4 436.4h0.01M123.1 432.9h0.01M144.8 441.7h0.01M134.3 436.9h0.01M143 436.5h0.01M119.4 444.3h0.01M135.8 438.8h0.01M131.9 445h0.01M129.2 446.8h0.01M126.8 443.5h0.01M120.3 443.8h0.01M124.9 437.7h0.01M140.2 435h0.01M138.3 438.9h0.01M145.1 443.4h0.01M135.7 437.9h0.01M125.6 446h0.01M131.4 432.5h0.01M126.4 429.3h0.01M125.8 436.6h0.01M135.7 443.5h0.01M140.8 429.6h0.01M129.2 441.9h0.01M136.5 438.8h0.01M126.5 442.4h0.01M132.7 437.6h0.01M132.4 437.7h0.01M136.1 444.4h0.01M134.1 435.6h0.01M132.4 438.1h0.01M137.8 442.7h0.01M148 443.4h0.01M118.5 434.6h0.01M122.3 440.3h0.01M154.1 441.2h0.01M128.4 445.9h0.01M138.9 434.7h0.01M124.9 446.3h0.01M140.1 428.2h0.01M126.8 441.7h0.01M121.4 438.8h0.01M125.6 430.4h0.01M128.8 436.1h0.01M135.8 430.1h0.01M135.6 437h0.01M119.2 444.9h0.01M129.4 440.9h0.01M147.2 440.9h0.01M141.6 439.9h0.01M128.2 439.8h0.01M119.4 441.3h0.01M140.7 441h0.01M127.3 432.7h0.01M126.7 437.4h0.01M120.6 448.5h0.01M126.1 439.5h0.01M129.1 439.5h0.01M114.2 433.6h0.01M133 438.6h0.01M136.8 436.1h0.01M140.6 439.9h0.01M132.8 438.9h0.01M142.7 438.7h0.01M147.1 439.5h0.01M135.4 438.8h0.01M135.9 441.2h0.01M127.7 442.8h0.01M156.1 441.6h0.01M134.3 434.8h0.01M126.5 434.7h0.01M135.6 435.3h0.01M147.5 436.7h0.01M125.3 434.2h0.01M132.4 438.1h0.01M141.5 435.2h0.01M136.2 443.6h0.01M130.7 430h0.01M135.4 444h0.01M136.7 438.9h0.01M116 447h0.01M131.6 432.8h0.01M130.2 439.6h0.01M133.6 434.3h0.01M154.6 445.1h0.01M142.1 442h0.01M129.7 432.9h0.01M121.9 444.2h0.01M133.9 447.1h0.01M113.1 445.5h0.01M137.4 436.1h0.01M141.1 435.5h0.01M130.7 441.5h0.01M134.6 440.3h0.01M135.1 444.1h0.01M125.6 428.7h0.01M125 426.6h0.01M150.6 435.5h0.01M132.8 440.5h0.01M126.3 436.3h0.01M135.5 438.9h0.01M140.4 437.6h0.01M127.2 431.4h0.01M118.1 440.1h0.01M136 436.7h0.01M144 425.2h0.01M138.9 432.8h0.01M130.2 437.6h0.01M126.5 437.4h0.01M135.7 450.9h0.01M133.2 442.5h0.01M140.5 434h0.01M137.5 436.8h0.01M141.2 435.9h0.01M142.8 434.3h0.01M129 443.1h0.01M142.3 443.2h0.01M151 444h0.01M133.1 443.6h0.01M125.8 442.9h0.01M136.7 438.1h0.01M126.7 444.2h0.01M115.3 438h0.01M120.6 437.1h0.01M129.3 434.6h0.01M127.7 440.3h0.01M150.8 447.6h0.01M131.5 436.7h0.01M138.6 434.6h0.01M119.9 443.7h0.01M129.5 446.5h0.01M136.2 431.4h0.01M135.8 441.3h0.01M133.7 431.9h0.01M119.7 448.3h0.01M108.1 433.9h0.01M140.4 447.9h0.01M139 438.7h0.01M136.6 444.6h0.01M128.4 445.3h0.01M135.4 439.9h0.01M137.1 440.4h0.01M124.9 446.7h0.01M128.8 437.5h0.01M112.1 430.5h0.01M138.2 438.3h0.01M132.3 436.9h0.01M138.7 435.5h0.01M119.9 430.6h0.01M126 440.4h0.01M146 441.7h0.01M127.1 432.1h0.01M140.6 441.4h0.01M132.7 442h0.01M138.5 441.4h0.01M145.1 431h0.01M127.4 436.1h0.01M124.3 448.9h0.01M136.4 441h0.01M140.3 437.6h0.01M140.7 437.8h0.01M139.9 441.7h0.01M144.8 431.1h0.01M125 434.9h0.01M125.8 440.8h0.01M141.8 437h0.01M142.8 443.3h0.01M127.9 442.2h0.01M146 436.4h0.01M113.6 441.7h0.01M135.8 442h0.01M137.8 438.6h0.01M133.1 434.7h0.01M150.7 446.7h0.01M132 434.5h0.01M137.1 447h0.01M133.6 434.7h0.01M141.7 440.2h0.01M126.1 437.7h0.01M134.7 433.2h0.01M135.8 445.4h0.01M142.7 445.2h0.01M140 438.4h0.01M138.8 445.1h0.01M133.7 441.5h0.01M127.7 438.9h0.01M129 433.4h0.01M136.9 450.2h0.01M118.2 436.4h0.01M135.1 435.1h0.01M134.8 443.2h0.01M118.8 438.4h0.01M138.6 441.8h0.01M149.6 439.9h0.01M144.4 436h0.01M125.3 436.2h0.01M129.5 443.5h0.01M140.1 439h0.01M125.4 439.7h0.01M129.7 437h0.01M117.9 446.9h0.01M138.5 454.1h0.01M153.1 436.8h0.01M117 438.9h0.01M140.5 447.7h0.01M142.1 448h0.01M135.1 431.2h0.01M134.8 434.4h0.01M140.9 428h0.01M124.7 433h0.01M134.4 444.2h0.01M130.7 432.3h0.01M128.9 438.2h0.01M143.8 439.6h0.01M145.8 424.4h0.01M149.3 450.3h0.01M128.8 452.9h0.01M119.6 443.8h0.01M121.8 435.8h0.01M137.9 440.1h0.01M136.1 438h0.01M116.9 430.6h0.01M125.8 433.8h0.01M129.3 430.2h0.01M132.4 441.5h0.01M129 445.8h0.01M135.3 443.7h0.01M125.5 440h0.01M120.7 429.2h0.01M117.8 436.9h0.01M135.6 449.9h0.01M136.2 437h0.01M142.8 439.5h0.01M133.5 439.7h0.01M142.2 447.3h0.01M120.7 439.5h0.01M129.2 439.1h0.01M154.6 437.8h0.01M111.4 443.4h0.01M129.2 434.2h0.01M153.3 449.3h0.01M142.6 440.3h0.01M126.9 446.5h0.01M131.2 440.2h0.01M131.8 439.8h0.01M115.6 432.6h0.01M121.9 427.7h0.01M123 436.4h0.01M131.7 438.5h0.01M129.5 444.4h0.01M114.8 436.2h0.01M131.3 434.5h0.01M145.8 438.3h0.01M143.3 441.8h0.01M131 444h0.01M120.3 432.6h0.01M129.8 426.5h0.01M129.6 437.9h0.01M117.7 433.5h0.01M121.7 451.2h0.01M144.7 442.1h0.01M135.3 445.8h0.01M134.4 445.4h0.01M141.3 449.9h0.01M143 436h0.01M138.9 444.8h0.01M139.4 450.3h0.01M136 436.8h0.01M141.4 444.9h0.01M133.3 441.7h0.01M134.7 440.3h0.01M136.7 436.9h0.01M140.1 440.8h0.01M149 440.5h0.01M134.5 432.6h0.01M153.8 437.7h0.01M128.9 437.5h0.01M133.5 438.4h0.01M148.7 436.5h0.01M131.4 436.6h0.01M138.9 430.4h0.01M142.4 437h0.01M120.6 446.6h0.01M121.6 442.6h0.01M133.6 435.5h0.01M118.5 435.2h0.01M140.3 438.6h0.01M128.3 443.9h0.01M133.8 439.3h0.01M125.6 431.7h0.01M129.3 440.4h0.01M129.7 440.5h0.01M131.1 437.6h0.01M133 440.7h0.01M113.3 438.8h0.01M131.6 436.6h0.01M142.2 444.9h0.01M143.8 442.7h0.01M137.5 439.6h0.01M140.2 435.5h0.01M132.3 440.5h0.01M132.1 432.4h0.01M132.6 436.7h0.01M127.6 442.1h0.01M143.1 439.3h0.01M123.1 438h0.01M131.7 433.4h0.01M127.9 439.6h0.01M128.1 441.1h0.01M121.6 442.2h0.01M127.1 439.5h0.01M133.6 436.2h0.01M142.8 429.6h0.01M135.2 442.1h0.01M131.2 438.5h0.01M123.1 438.6h0.01M134.9 435.7h0.01M133.5 436.9h0.01M124.2 438.4h0.01M126.3 443.3h0.01M126.3 446h0.01M133.2 438.6h0.01M126.7 441h0.01M124.1 430.8h0.01M137.2 428h0.01M143.6 436h0.01M147.6 440h0.01M148.1 431.3h0.01M129.3 440.1h0.01M128.3 439.1h0.01M131.9 442.1h0.01M146.2 427.7h0.01M139 432.8h0.01M148.1 431.2h0.01M125.8 441.4h0.01M131.8 442.2h0.01M136.7 434.8h0.01M118.6 444.7h0.01M131.4 438.2h0.01M130.5 437.4h0.01M126.7 439h0.01M135.6 432.4h0.01M119 441.6h0.01M141.2 436h0.01M131.8 436.2h0.01M137 438.4h0.01M128.3 434.8h0.01M137.3 440.6h0.01M129.4 440.8h0.01M134.9 428.4h0.01M128 439.9h0.01M144.8 440.7h0.01M122.1 443.3h0.01M130.8 442.9h0.01M120.6 430.4h0.01M118.8 441.7h0.01M144.1 440h0.01M134.9 438.2h0.01M135.1 433.5h0.01M144.5 442.8h0.01M142.1 438.3h0.01M141 443.7h0.01M156.2 444.2h0.01M126.5 434.7h0.01M141.3 441.3h0.01M138.3 439h0.01M126 439.5h0.01M120.1 440.2h0.01M154.1 442.4h0.01M125.5 434.3h0.01M155.3 442h0.01M128.6 441.7h0.01M130.4 433.3h0.01M134.7 441.3h0.01M145.2 432.3h0.01M146.8 437.5h0.01M115.2 443.8h0.01M142.4 441.5h0.01M140.9 434.2h0.01M138.1 430.4h0.01M127.4 451.6h0.01M148.5 440.7h0.01M138 439.2h0.01M139.2 439.8h0.01M124.9 436.9h0.01M115.9 434.3h0.01M131.9 440.7h0.01M153.9 430.5h0.01M152.7 436.6h0.01M129.5 438.3h0.01M153.5 433.2h0.01M129.9 441.5h0.01M142.1 440.7h0.01M134.5 443.8h0.01M124.4 446.7h0.01M128.9 440.7h0.01M124.9 435.6h0.01M142.5 441.6h0.01M131.7 442.9h0.01M114.5 439.7h0.01M117.7 443.9h0.01M125.8 438.7h0.01M125.8 449.2h0.01M147.5 430.1h0.01M139.5 437.2h0.01M146.9 440.5h0.01M126.6 436.6h0.01M133.9 447.4h0.01M134.3 436.1h0.01M129.8 443.1h0.01M130.6 447.7h0.01M141.6 439.5h0.01M134.4 437.1h0.01M111.7 444.7h0.01M147.4 437.7h0.01M136 431.9h0.01M131.6 439.7h0.01M132.7 439h0.01M142.6 442.4h0.01M140.7 435.8h0.01M128.7 438.8h0.01M118.7 431.5h0.01M136.5 438.8h0.01M134.2 444.8h0.01M113.7 440.8h0.01M131.3 432.1h0.01M139.6 445.9h0.01M119.8 439h0.01M142.4 439h0.01M129.3 443.7h0.01M117.6 438.6h0.01M127.5 438.4h0.01M121.8 439.7h0.01M144.9 441.1h0.01M121.5 436.2h0.01M126.5 431.2h0.01M140.2 441.3h0.01M131.8 446.3h0.01M140.1 435.8h0.01M133.8 438.1h0.01M133.4 445.5h0.01M145.1 433.9h0.01M151.6 430.7h0.01M131 451.2h0.01M139.8 444.8h0.01M134.8 441.4h0.01M127.4 446.3h0.01M131.6 436.1h0.01M119.8 449.9h0.01M119.7 433.6h0.01M138 439h0.01M149.5 442h0.01M136.6 434.8h0.01M138.5 431.5h0.01M126.5 445.9h0.01M136 433h0.01M127.6 438.2h0.01M136.4 439.8h0.01M141 423.7h0.01M140.2 429.3h0.01M129.3 439.5h0.01M143.2 435.7h0.01M121.2 434.7h0.01M135.9 451.1h0.01M122.1 436.2h0.01M127 444.6h0.01M138.7 438.1h0.01M136.3 446.9h0.01M130.9 433.1h0.01M133.8 432.6h0.01M135.6 443.3h0.01M130.2 443.6h0.01M144.7 448.3h0.01M130.3 441.9h0.01M141 443h0.01M142.3 441.4h0.01M140 443.6h0.01M138.1 441.9h0.01M136.2 438.6h0.01M116.8 438.5h0.01M133.9 436.1h0.01M129.5 445.3h0.01M131.2 427.4h0.01M128.7 438.3h0.01M144.9 440.5h0.01M138.4 436.2h0.01M128.4 430.9h0.01M139.4 439.1h0.01M127.1 439.2h0.01M143.8 443.7h0.01M140.9 444.8h0.01M135.8 439h0.01M133.6 441.4h0.01M118 440.4h0.01M133.9 434.5h0.01M128.5 444.8h0.01M130 438.5h0.01M147.3 434h0.01M133.2 436.8h0.01M128.9 438h0.01M138.6 437.6h0.01M142.2 442.7h0.01M123.8 439.2h0.01M131.9 432.4h0.01M117.3 444.1h0.01M136.3 445.1h0.01M147.9 442.9h0.01M137 445.4h0.01M132.4 437h0.01M142.5 442.2h0.01M128.9 436.9h0.01M122 449.5h0.01M130.2 436.4h0.01M128.1 436.3h0.01M134.7 439.1h0.01M140.8 426.3h0.01M134.8 447.4h0.01M134 435.9h0.01M151.8 436.3h0.01M139.9 440.1h0.01M132.3 433.9h0.01M135 440h0.01M150.2 431.3h0.01M119.5 441.7h0.01M119.9 424.6h0.01M130.5 444.7h0.01M116.9 431.3h0.01M147.1 434.5h0.01M125.5 438.1h0.01M148.2 437.9h0.01M140.7 438.1h0.01M123.8 440.2h0.01M117.1 444.1h0.01M118.9 439.6h0.01M114 438.4h0.01M137.3 435.2h0.01M151.2 438.9h0.01M137.5 431.5h0.01M128.9 440.1h0.01M140.4 441.9h0.01M120.8 431.4h0.01M123.3 444.6h0.01M117.5 432.7h0.01M134.6 438.6h0.01M132.9 434.7h0.01M136.6 438.3h0.01M131.8 440h0.01M131.4 437.9h0.01M143.8 442.5h0.01M134.2 439.6h0.01M145.9 432.1h0.01M116 439h0.01M117.9 433.5h0.01M135.5 439.9h0.01M130.3 435h0.01M120.1 435.3h0.01M126 438.7h0.01M141.9 437.4h0.01M123.2 441h0.01M144.5 440.4h0.01M129.4 436.9h0.01M130.5 433.6h0.01M141.8 437.3h0.01M150.9 445h0.01M129 451.8h0.01M129.1 434.9h0.01M117.4 438.9h0.01M137 437h0.01M132.4 441.2h0.01M126.3 438.6h0.01M131 446.5h0.01M139.5 438.4h0.01M124.1 438.1h0.01M126.2 437.1h0.01M136.6 442.9h0.01M142.6 435.9h0.01M135.1 438.7h0.01M141.1 449.9h0.01M142.6 443.4h0.01M135.7 441.5h0.01M115.5 440.6h0.01M132.1 438.7h0.01M140 454.7h0.01M135.9 432.8h0.01M130 443.1h0.01M139.8 439.8h0.01M138.4 434.9h0.01M147 428.5h0.01M130.4 435.1h0.01M129.3 440h0.01M134.5 443.8h0.01M150.6 441.5h0.01M125.1 439h0.01M126.5 435h0.01M129.8 443.7h0.01M126.3 440.6h0.01M126.7 443.3h0.01M143.9 431.7h0.01M140.1 434.6h0.01M136.5 438.5h0.01M141.1 432.6h0.01M150.6 440.7h0.01M127.7 445.3h0.01M145.7 441.6h0.01M129 434.9h0.01M125.5 447h0.01M134 438.8h0.01M130.2 445.1h0.01M130.3 443.2h0.01M117.5 435h0.01M136.5 434.2h0.01M150.7 428.7h0.01M137 441.6h0.01M137.5 438.6h0.01M132.5 456.7h0.01M135.9 435.8h0.01M109.2 448.3h0.01M133.3 448h0.01M133.3 444.5h0.01M145.7 436.1h0.01M112.8 444.9h0.01M150.8 431.5h0.01M129 438.6h0.01M131.2 442h0.01M132.5 441.9h0.01M126.2 431h0.01M149.9 440.3h0.01M137.1 433.2h0.01M137.6 438.7h0.01M137.9 439.6h0.01M142.9 446h0.01M130.3 437.1h0.01M140.1 431.7h0.01M127.1 437.1h0.01M114.6 448.6h0.01M131.1 437.9h0.01M122.9 441.7h0.01M129.4 433h0.01M136.6 446.6h0.01M120.1 438.8h0.01M153 438h0.01M127.1 447h0.01M135.6 443.6h0.01M148.3 442.2h0.01M136.4 448.7h0.01M120 433.3h0.01M131.5 435.9h0.01M132 429.5h0.01M119 442.6h0.01M131.8 441.1h0.01M130 438.9h0.01M119.9 447.9h0.01M142.9 432.3h0.01M129.5 440.8h0.01M129.7 438.7h0.01M135.4 429.7h0.01M140.2 441.4h0.01M124.8 438.1h0.01M132.7 437.7h0.01M133.9 431.3h0.01M134.1 441.1h0.01M137 441.2h0.01M128.4 439.7h0.01M142.2 439.4h0.01M135.5 439.3h0.01M138.3 432.5h0.01M133 443.3h0.01M125.4 441.8h0.01M129.4 436.9h0.01M123.4 434.4h0.01M144.1 431.7h0.01M134.8 432.1h0.01M151.7 442.5h0.01M126.4 433.3h0.01M131 440.7h0.01M148.5 446.3h0.01M124.7 440.2h0.01M141.8 435.4h0.01M129.2 443.7h0.01M121.1 439.2h0.01M132.9 437.5h0.01M133.7 430.8h0.01M140.9 436.7h0.01M151.1 449h0.01M129.3 448.8h0.01M146.2 434.9h0.01M131.2 445.1h0.01M127 437.2h0.01M110.9 431.9h0.01M123 435.4h0.01M127 440.3h0.01M135.8 437.1h0.01M121.2 440.2h0.01M139 438.7h0.01M145.8 436.7h0.01M141.1 440.4h0.01M145.4 447.2h0.01M123.1 429.9h0.01M142.8 440.6h0.01M136.6 436.8h0.01M126.8 445.1h0.01M137.7 436.3h0.01M133.9 440.5h0.01M121.8 435.8h0.01M138.1 439.7h0.01M121.1 440.6h0.01M151.3 442.1h0.01M121.7 436.7h0.01M127.9 435.1h0.01M126.1 436.1h0.01M132.7 432.8h0.01M141.8 440.7h0.01M151 443.2h0.01M142.1 441.6h0.01M132.5 433.6h0.01M139.5 439.5h0.01M127.7 441.1h0.01M136.4 435.8h0.01M146.5 436.6h0.01M134.6 444.4h0.01M128.8 437.5h0.01M137.6 437.4h0.01M129 433.4h0.01M135.6 437.1h0.01M140.9 444.1h0.01M133.3 442.9h0.01M127.2 447.1h0.01M128.6 438.4h0.01M130.2 436.6h0.01M140.6 439h0.01M125.6 442.9h0.01M133.9 441.9h0.01M135.4 436.8h0.01M117.4 437.6h0.01M125.6 445.1h0.01M131.6 446.5h0.01M154.1 444.9h0.01M154.9 434.4h0.01M129.1 433.8h0.01M121.5 432.6h0.01M141.5 435.1h0.01M130.6 442h0.01M129.9 446.8h0.01M144.2 442.7h0.01M148.4 441.7h0.01M135.2 444.6h0.01M142.9 432.3h0.01M143.4 444.2h0.01M113.4 449.3h0.01M135 446.1h0.01M123.1 440.1h0.01M127.4 434.9h0.01M136 431.9h0.01M133.3 442.6h0.01M126.9 433.7h0.01M138.6 443.7h0.01M141.7 436.4h0.01M129.9 446h0.01M141.4 440.7h0.01M135.6 438.3h0.01M139 442.6h0.01M134 440.5h0.01M121.2 438.4h0.01M147.7 440.2h0.01M121.4 436.8h0.01M134.4 446.3h0.01M152.6 438.9h0.01M132.2 439.8h0.01M123.7 445.7h0.01M122.9 442.8h0.01M129.5 434h0.01M136.5 447.5h0.01M122.8 440.2h0.01M127.4 444.5h0.01M120.4 432.8h0.01M130.1 432.7h0.01M142.3 431.7h0.01M134.1 436.7h0.01M142.4 436.5h0.01M131.8 447.6h0.01M139.3 445.4h0.01M146.2 441.6h0.01M136.3 430.8h0.01M118.2 437.1h0.01M136.1 444.7h0.01M126.7 437.5h0.01M152.1 433.6h0.01M131.9 438.6h0.01M127.3 446.6h0.01M119.3 437.7h0.01M118.6 435.6h0.01M147.4 429.1h0.01M118.6 439.2h0.01M136.7 435.5h0.01M137.4 438.2h0.01M130.1 439.6h0.01M144.5 433.3h0.01M141.2 440.5h0.01M131.6 435.5h0.01M136.6 443.1h0.01M125.2 442.8h0.01M133.8 443.3h0.01M135.9 438.2h0.01M135.4 442.4h0.01M120.6 439.2h0.01M111.9 440.2h0.01M129.3 439.3h0.01M142.4 443.8h0.01M146.3 443.8h0.01M131.6 435.2h0.01M130.3 441.3h0.01M126.2 439.9h0.01M135.4 436.5h0.01M124.3 439.3h0.01M137.3 434.2h0.01M134.7 439.7h0.01M125.6 441.2h0.01M121.3 443.7h0.01M127.2 444.2h0.01M134.4 439.4h0.01M121.6 442.9h0.01M123.7 450.2h0.01M137.4 440.1h0.01M133.8 442.6h0.01M137.6 441.1h0.01M141.3 438.4h0.01M147.9 431.6h0.01M118.8 442h0.01M133.3 431.6h0.01M122.8 435.6h0.01M144.8 442.4h0.01M118.8 432.4h0.01M134.7 433h0.01M128 436.2h0.01M134 442h0.01M127.2 436.5h0.01M135.9 447.3h0.01M137.2 437.3h0.01M141.9 438.5h0.01M121.3 442.4h0.01M148.1 433.6h0.01M140.4 433h0.01M132.8 438.6h0.01M130.4 438.6h0.01M139.6 436.6h0.01M131.5 437.6h0.01M136 435.9h0.01M140.5 440.6h0.01M128.2 432.7h0.01M131.2 444.2h0.01M139.2 439.2h0.01M151.6 446.9h0.01M138.2 446.1h0.01M131.3 437.3h0.01M135.6 429.7h0.01M133.8 436.6h0.01M145.6 442h0.01M147.5 436.9h0.01M146.7 439.9h0.01M138.3 441.1h0.01M122.3 443.7h0.01M129.5 442.3h0.01M133.1 434.2h0.01M130.8 440.6h0.01M130.9 447.6h0.01M144.4 439.6h0.01M130.3 446.3h0.01M133.9 444.9h0.01M121.4 429.2h0.01M140.4 443.7h0.01M132.1 438.3h0.01M137.7 441.7h0.01M132.9 439.2h0.01M135.7 444.5h0.01M139.9 426.2h0.01M136.7 437.6h0.01M143.2 442.7h0.01M128.9 438.7h0.01M112.8 438.5h0.01M123.8 439.7h0.01M127.2 445.3h0.01M145.1 437.3h0.01M125.7 445.6h0.01M121.5 437.4h0.01M130.2 440.3h0.01M134 434.5h0.01M141.4 441h0.01M136.5 447h0.01M150.4 440.4h0.01M129.9 437.7h0.01M132.5 433.7h0.01M127.3 436.5h0.01M138.2 442.8h0.01M111.6 431.1h0.01M128.1 433.7h0.01M133.3 430.3h0.01M131.5 440.1h0.01M137.1 436.9h0.01M137.3 442.9h0.01M130.4 433.8h0.01M129 440.6h0.01M136 430.6h0.01M120.2 431h0.01M149.7 441.2h0.01M135.1 433.2h0.01M114.6 449.2h0.01M139.1 426.7h0.01M147.9 441h0.01M133.1 440.4h0.01M141.6 429.1h0.01M136.1 432.7h0.01M129.9 438h0.01M129.7 435.3h0.01M135.1 437.1h0.01M135.9 442.8h0.01M125.9 438.1h0.01M125.9 443.2h0.01M140.1 444.2h0.01M143 439.7h0.01M124.6 435.3h0.01M144.4 439.7h0.01M140.7 436.2h0.01M131.5 448.7h0.01M142.3 431.1h0.01M127.4 439.8h0.01M142.9 443.9h0.01M141.2 445.2h0.01M139.8 443.3h0.01M125.7 433h0.01M129 445.4h0.01M145.6 433.7h0.01M131 439.5h0.01M138.7 440.7h0.01M146.8 440.4h0.01M131.6 437.8h0.01M143.3 437.8h0.01M138.3 437h0.01M123.1 428.4h0.01M130.9 435.1h0.01M140.8 437.2h0.01M125.2 442.7h0.01M129.8 449.5h0.01M129.5 439.4h0.01M126.6 446.7h0.01M136.1 437.9h0.01M132.7 428.7h0.01M144.8 439.1h0.01M143.9 434.9h0.01M146.4 435.8h0.01M133.8 449.2h0.01M129.1 439.2h0.01M132.1 439.6h0.01M134.9 438.3h0.01M137.4 436.9h0.01M145.4 442.5h0.01M123.4 436.4h0.01M130.6 443.8h0.01M116.2 444.6h0.01M116 435.9h0.01M125.9 437.3h0.01M140.6 443.7h0.01M132.6 438h0.01M124.8 444.9h0.01M129.2 452.6h0.01M119.5 435.7h0.01M139.7 448.2h0.01M130.7 441.3h0.01M128 440.2h0.01M114.6 442.3h0.01M128.8 441.2h0.01M132.3 434.2h0.01M119.7 434.1h0.01M133.1 442.7h0.01M143.5 443.9h0.01M151.9 444h0.01M149.6 443h0.01M136.4 430.4h0.01M142.2 438.4h0.01M130.1 432.4h0.01M144.8 439h0.01M129.7 435.1h0.01M132.7 441.3h0.01M138.9 439.6h0.01M135.5 439.4h0.01M129.7 444.8h0.01M132.3 436.2h0.01M148.9 434.4h0.01M129.5 439.7h0.01M132 438.6h0.01M142.1 444.1h0.01M121.6 448.4h0.01M123 433.9h0.01M139.6 434h0.01M122.8 443.2h0.01M138 441h0.01M146.1 444.3h0.01M129.4 436.7h0.01M137.2 437h0.01M135.8 443.5h0.01M135.9 432h0.01M148.2 438.7h0.01M136.6 430.9h0.01M133.2 432.6h0.01M147.7 436.7h0.01M121.1 438.4h0.01M125.2 439.4h0.01M125.1 430.5h0.01M131.8 437.6h0.01M126.3 442.5h0.01M141 438.6h0.01M132.7 440.9h0.01M141.7 440h0.01M123.5 442.2h0.01M154.8 442.3h0.01M136.4 436.3h0.01M119.8 441.6h0.01M138.7 441.3h0.01M134.9 445.5h0.01M132.5 429.7h0.01M132.2 439.9h0.01M140.5 441.9h0.01M139.7 441.4h0.01M136.2 433.3h0.01M130.7 444.1h0.01M148.2 425.8h0.01M132.2 436.9h0.01M141.2 429.3h0.01M128.5 440h0.01M126.3 430.4h0.01M150.1 437.8h0.01M134.1 442.1h0.01M150.5 435.5h0.01M132.1 437.4h0.01M142 443.7h0.01M147.6 436.9h0.01M122.6 435.9h0.01M116.4 440.8h0.01M115.1 441.2h0.01" stroke="#6e9a18" stroke-width="0.9" stroke-linecap="round" opacity="0.6" fill="none"/>
<path d="M117.4 443.9h0.01M150.1 440.3h0.01M129.2 441.3h0.01M122.8 443.4h0.01M127.7 442.1h0.01M120.4 444.6h0.01M135.2 435.3h0.01M130 431.7h0.01M112.6 433.6h0.01M136.1 438.4h0.01M130.3 442.9h0.01M127.2 439.8h0.01M123.6 455.6h0.01M120.3 445.2h0.01M127.7 453.2h0.01M116.1 440.4h0.01M135.9 437.8h0.01M136.1 429.8h0.01M136.3 433h0.01M138.1 443.6h0.01M129.3 437.3h0.01M120.3 436.8h0.01M150.9 435.7h0.01M126.9 443.8h0.01M113.2 438.2h0.01M145.5 442.7h0.01M138.1 445.9h0.01M130.4 425.2h0.01M140.7 444.9h0.01M149.1 433.3h0.01M143 450.8h0.01M129.3 439.2h0.01M117.8 445.4h0.01M133.9 444.8h0.01M130 441.3h0.01M123 448.3h0.01M129 449.4h0.01M142.4 436.1h0.01M116.3 448h0.01M135.9 438.6h0.01M144.3 427.5h0.01M138.2 438.7h0.01M140.3 437.2h0.01M124.7 445.6h0.01M135.6 431.4h0.01M137.6 445.8h0.01M109.5 434.7h0.01M116.1 434.5h0.01M121.8 453.8h0.01M117.8 434.7h0.01M127.5 449.9h0.01M125.6 447.4h0.01M144.1 438.3h0.01M135.9 447.7h0.01M133.8 451.9h0.01M135.8 451.7h0.01M117.9 442.6h0.01M123.6 438.3h0.01M127.9 444.5h0.01M112 429.6h0.01M140.5 443.1h0.01M143 446.6h0.01M134.9 437.6h0.01M137.2 434.8h0.01M113.8 438.8h0.01M148.1 439.9h0.01M153 437.7h0.01M115.5 436.7h0.01M128.2 444.8h0.01M121.4 442.4h0.01M120.9 441h0.01M126.4 442.8h0.01M120.4 439h0.01M140.2 441.1h0.01M105.8 448.7h0.01M135.5 453.9h0.01M119.9 443.4h0.01M118.9 446.3h0.01M123.3 449.7h0.01M132.1 426.4h0.01M116 445.5h0.01M140.4 447.8h0.01M137.2 437.9h0.01M132.4 441.4h0.01M130.8 447.8h0.01M118.6 439h0.01M147.7 440.1h0.01M137.8 437.4h0.01M131.4 449.7h0.01M151.4 441.3h0.01M122.4 451.1h0.01M106.2 439.8h0.01M140 456.9h0.01M144.2 440.1h0.01M129.8 440.7h0.01M118.4 438.3h0.01M134.8 429.7h0.01M120.2 421.1h0.01M142.8 441.8h0.01M109.2 431h0.01M121.5 452h0.01M136.9 433.5h0.01M124.1 430h0.01M118.2 429.4h0.01M153.9 445.7h0.01M147.4 444h0.01M120.9 447.6h0.01M136.8 436.2h0.01M109.3 440.7h0.01M114.8 439h0.01M143.1 444.6h0.01M132.4 439.2h0.01M133.1 434.5h0.01M140.6 451.6h0.01M122.7 430.5h0.01M130.8 429.4h0.01M156.3 440.3h0.01M136 442.2h0.01M124 435.9h0.01M116.6 454.4h0.01M131.6 448.2h0.01M150.1 439h0.01M123.9 438.3h0.01M135.4 434.3h0.01M143 439.3h0.01M120.6 445.7h0.01M149.2 434.9h0.01M128.2 439.8h0.01M137.5 446.3h0.01M129 434.7h0.01M122.7 446.9h0.01M154.7 442.2h0.01M119.9 458h0.01M145.6 436h0.01M114.1 434.7h0.01M117.6 435.7h0.01M125.8 432.2h0.01M138.2 433.5h0.01M127.5 444.9h0.01M127.3 447.6h0.01M123.7 448.9h0.01M121.9 436.9h0.01M111.5 443.2h0.01M139.6 441h0.01M149.4 445.3h0.01M135.1 429.7h0.01M128.3 443.3h0.01M115 450.9h0.01M134.9 451.1h0.01M114.4 453.1h0.01M148.6 441.9h0.01M126 452h0.01M117.8 439.4h0.01M145.3 440.3h0.01M119.9 433h0.01M124.1 449.5h0.01M114.6 445.2h0.01M128.3 438h0.01M128.6 450h0.01M140.7 435.7h0.01M137.3 432.5h0.01M145.4 427h0.01M124.9 447.1h0.01M153.1 444.4h0.01M142.8 445.3h0.01M135.7 437h0.01M132.6 436.3h0.01M119.3 443.5h0.01M126.2 442.1h0.01M144.7 436h0.01M143.6 433.1h0.01M142.2 443.7h0.01M137.2 445.9h0.01M133.4 429h0.01M152.8 442.4h0.01M133.3 441.3h0.01M135.8 439.3h0.01M112.9 432.8h0.01M154 445.1h0.01M116.5 452h0.01M134.4 433.2h0.01M120.4 436.4h0.01M145.7 446.1h0.01M127.3 439.2h0.01M121.3 441.7h0.01M117 447h0.01M129.3 447.4h0.01M151.3 443h0.01M118.4 442.6h0.01M119.1 448.3h0.01M126.3 439.7h0.01M124 449.9h0.01M137.4 440.5h0.01M142.2 439.1h0.01M119.9 440.6h0.01M127.6 448.4h0.01M121.6 433.5h0.01M148.5 447.1h0.01M125.9 441.8h0.01M109.3 452.4h0.01M123.6 426h0.01M129 444.4h0.01M139.4 442.6h0.01M133.9 439.7h0.01M129.6 439.3h0.01M132.6 426.6h0.01" stroke="#a8c470" stroke-width="0.9" stroke-linecap="round" opacity="0.5" fill="none"/>
<ellipse cx="174" cy="449.5" rx="9" ry="4.8" fill="#98bc58" opacity="0.5" transform="rotate(-12 174 449.5)" filter="url(#bl2)"/>
<path d="M174 451.6h0.01M177.2 442.8h0.01M174.6 455.4h0.01M172.5 449h0.01M177.6 448.3h0.01M169.9 447.8h0.01M162.9 452.5h0.01M178 450.9h0.01M169.3 452.1h0.01M165.8 444.9h0.01M177 443.9h0.01M164.6 450.2h0.01M172.9 455.6h0.01M182.1 455.8h0.01M173.7 443.2h0.01M165.8 452.2h0.01M165.4 453h0.01M181.1 450.2h0.01M163.8 455.9h0.01M185.8 450.9h0.01M188.5 443.3h0.01M173.7 452.8h0.01M181.5 453.6h0.01M172.3 447.1h0.01M172 447.1h0.01M174.2 448.1h0.01M178.3 445.8h0.01M179.2 445.3h0.01M182.7 452.3h0.01M173.5 448.7h0.01M176.5 450.7h0.01M167.8 453.5h0.01M166.3 451.9h0.01M166.6 441.9h0.01M180.4 445.9h0.01M172 451.2h0.01M176.6 451.2h0.01M165.8 452.4h0.01M180.7 450.9h0.01M182.2 442.1h0.01M180.6 442.5h0.01M166.8 451.8h0.01M190 450.7h0.01M173.1 450h0.01M180 443.4h0.01M171.2 447.8h0.01M182.1 449.9h0.01M176.9 453.6h0.01M171.6 446.4h0.01M178.4 441.5h0.01M175.7 449h0.01M163.7 452.4h0.01M169.4 455.7h0.01M179.6 451.8h0.01M180.3 448.1h0.01M181.6 450.2h0.01M178.4 452.7h0.01M185.4 440.5h0.01M169.8 444.7h0.01M166.4 453.8h0.01M167.5 450h0.01M171.1 453.9h0.01M184.4 447.7h0.01M169 448.3h0.01M171.4 443.7h0.01M166.3 451.9h0.01M175.7 449.8h0.01M175.6 446.3h0.01M172.4 445.9h0.01M173.9 441.7h0.01M177.5 449.6h0.01M171.4 450.6h0.01M180.6 448.3h0.01M187.3 451.3h0.01M174.6 448.6h0.01M165.5 447.1h0.01M175.4 449.7h0.01M177.6 455.2h0.01M177 450.4h0.01M171.7 445.8h0.01M171 449.8h0.01M179.1 451.1h0.01M167.4 450.5h0.01M177.7 443.2h0.01M171.3 444.5h0.01M170.5 454.7h0.01M178.1 457h0.01M168.1 454.3h0.01M171.7 443.8h0.01M175.4 450.1h0.01M173.2 454.3h0.01M172.6 452.6h0.01M173.6 447.5h0.01M177.3 452.9h0.01M184.2 451.9h0.01M173.3 454.2h0.01M167 454h0.01M180.4 447.1h0.01M183.3 450.4h0.01M174.2 455h0.01M187.6 446.3h0.01M175.9 450.4h0.01M179 446.9h0.01M173.6 454.2h0.01M174.3 454.6h0.01M177.2 455.5h0.01M182.7 443.2h0.01M178.3 447.7h0.01M171 453.5h0.01M181.3 450h0.01M182.4 454h0.01M176.9 451.3h0.01M178.4 454.4h0.01M168.5 450.4h0.01M166 449.1h0.01M176.1 447.7h0.01M169.2 449.7h0.01M183 455.7h0.01M174.4 446.7h0.01M174.9 447h0.01M176.8 451.6h0.01M185.9 444.1h0.01M172.7 446.6h0.01M180.3 444.6h0.01M183.9 454.4h0.01M164.2 455.9h0.01M188.9 446.8h0.01M175.4 457.1h0.01M172.8 449.5h0.01M168.9 453.2h0.01M182 444.9h0.01M179.9 450.3h0.01M184.1 447.1h0.01M169.5 451.4h0.01M177 447.9h0.01M168.7 453.2h0.01M163.2 447.4h0.01M172.4 444.7h0.01M176.2 442.9h0.01M173.3 451.4h0.01M182.2 444.6h0.01M176.9 453.6h0.01M169.4 452h0.01M182.3 452.1h0.01M174.1 451h0.01M170.1 452.5h0.01M176.5 447h0.01M190 448.7h0.01M169 450.8h0.01M176.5 445h0.01M169 453.5h0.01M173.7 449.4h0.01M180.7 447.2h0.01M163.9 447.5h0.01M173.1 449.1h0.01M171.1 446.8h0.01M162.8 451h0.01M177.1 450h0.01M166.3 448.9h0.01M173.4 440.4h0.01M178.6 448.3h0.01M194.4 444.9h0.01M173.6 449.7h0.01M172.2 447.4h0.01M181.5 449.3h0.01M176.1 448.1h0.01M176.3 448.1h0.01M176 455.3h0.01M178.5 452.5h0.01M171.9 448.8h0.01M166.4 456.9h0.01M181.4 447.7h0.01M177.3 449.8h0.01M183.3 449.6h0.01M172.7 445.8h0.01M173.6 454.3h0.01M169.4 449.6h0.01M179.4 454.7h0.01M171.7 453.3h0.01M170.3 443.6h0.01M170.6 446.2h0.01M164.2 450.4h0.01M181.9 447.9h0.01M175 454.6h0.01M167.6 444.9h0.01M170.7 445.9h0.01M175.9 451.7h0.01M173.6 449.4h0.01M165.1 446h0.01M177.1 454.3h0.01M181.2 457.4h0.01M166 443h0.01M173.9 450.6h0.01M167.1 443.6h0.01M181.3 440.6h0.01M178 452h0.01M182.5 447.5h0.01M179.9 447.3h0.01M179.9 453.5h0.01M172.5 443.1h0.01M174.4 437.8h0.01M182.5 445.3h0.01M171.3 454h0.01M180.1 450.2h0.01M170.9 453h0.01M174.7 448h0.01M169.3 452.4h0.01M170.2 455.4h0.01M173.9 442.9h0.01M184.9 441.7h0.01M169.7 448.8h0.01M176.3 454.4h0.01M170.8 448.2h0.01M182.3 447.7h0.01M179.1 448.6h0.01M170.2 447.9h0.01M167 447.9h0.01M175.1 449.1h0.01M179.2 448.8h0.01M176 445.7h0.01M164.3 455.5h0.01M185.3 446h0.01M178.9 445h0.01M168.5 452.2h0.01M180 450.5h0.01M181.2 448.3h0.01M173.1 450.1h0.01M168 449.4h0.01M162.3 447.4h0.01M178.6 446.4h0.01M179 448.2h0.01M173.9 451.8h0.01M181.2 446.8h0.01M177.1 456.6h0.01M177.5 446.7h0.01M168.3 448.9h0.01M179.9 440.2h0.01M177.8 447h0.01M178.3 449.3h0.01M163.4 449.8h0.01M169.8 454h0.01M162.4 453.1h0.01M167.3 449h0.01M172.6 450.1h0.01M187.4 439.9h0.01M172.6 446.2h0.01M171.9 448.3h0.01M177.9 451.6h0.01M175.4 453.8h0.01M170.9 445.2h0.01M163.6 455h0.01M172.1 451.8h0.01M177.9 445.1h0.01M183 450.5h0.01M185.2 449.9h0.01M167 453.2h0.01M173.7 444h0.01M179.5 447.3h0.01M178 455.1h0.01M182.1 446.2h0.01M179.6 452.3h0.01M175.9 453.3h0.01M177.4 447h0.01M182.9 446.7h0.01M170.6 448.7h0.01M163.3 455.9h0.01M164.7 444.4h0.01M174.4 440.9h0.01M172.7 452.7h0.01M176.5 450.4h0.01M171.4 446.3h0.01M176.5 452h0.01M174.4 453.2h0.01M174.1 444.5h0.01M170.4 449.9h0.01M168.5 449.8h0.01M180.2 448.2h0.01M181.1 449.7h0.01M170.7 450.5h0.01M179.5 446.1h0.01M170.7 455h0.01M179.9 450.8h0.01M170.4 449.6h0.01M176.9 450.5h0.01M178.8 444.2h0.01M179 444.5h0.01M167.4 449h0.01M171.4 454.1h0.01M183.5 455.7h0.01M169.7 451h0.01M181.2 441.3h0.01M180.7 455.4h0.01M179.8 445.4h0.01M173.6 450.2h0.01M168.8 446.6h0.01M180.8 444.7h0.01M180.1 444h0.01M167.1 442.1h0.01M169.5 448.9h0.01M178.4 442.9h0.01M174.9 453.7h0.01M180.4 453.9h0.01M172 444h0.01M174.5 451.5h0.01M167.1 449.7h0.01M175.6 457.7h0.01M169.1 447.5h0.01M172.3 447.4h0.01M173.9 447.5h0.01M165.4 448.6h0.01M162.9 458.5h0.01M182.9 447.2h0.01M176 451.8h0.01M175.4 445.7h0.01M169 453.7h0.01M172.7 451.4h0.01M172.1 453.3h0.01M173.3 450.6h0.01M176.2 441.2h0.01M181 453.2h0.01M169.6 444.1h0.01M175.9 445.7h0.01M168.9 456.7h0.01M172.4 445.6h0.01M166 452.7h0.01M176.5 450.5h0.01M166.1 448.5h0.01M173.6 448.1h0.01M174.2 448.1h0.01M173.8 450.2h0.01M179.2 453.4h0.01M172.1 441.9h0.01M182.1 441.9h0.01M176.6 453.6h0.01M179.1 453.6h0.01M175.9 457.8h0.01M176.2 442.6h0.01M178.5 447.3h0.01M180.5 445.4h0.01M178.5 443.5h0.01M172.2 449.5h0.01M180.8 444.9h0.01M177 453.2h0.01M163.6 457.8h0.01M173.6 450.4h0.01M186.6 446.6h0.01M179.7 453.2h0.01M184.5 452.1h0.01M170.4 451.8h0.01M163.8 446.9h0.01M171.8 448.7h0.01M169.8 447.4h0.01M184 442.2h0.01M176.4 444h0.01M175.4 445.9h0.01M182.6 452.5h0.01M172.1 449.2h0.01M175 443.2h0.01M169.8 443.9h0.01M170.3 450.3h0.01M173.4 456.5h0.01M177.6 446.5h0.01M175.2 447.5h0.01M170.2 456.3h0.01M172.4 447.6h0.01M183 446.5h0.01M178.4 438.1h0.01M177.6 444.3h0.01M172.2 453.4h0.01M183.5 438.4h0.01M182.4 446.5h0.01M171.8 454.1h0.01M172.7 447.5h0.01M172.4 448.9h0.01M171.6 454.3h0.01M184 443.8h0.01M169.7 449.9h0.01M169.1 450.9h0.01M175 449.3h0.01M169.5 451.6h0.01M165.5 449.8h0.01M173.1 449.9h0.01M179.2 447.6h0.01M167.9 452.4h0.01M173.7 452.6h0.01M185.8 453h0.01M173.1 445.8h0.01M175.3 448.4h0.01M168 444.7h0.01M180.6 444.2h0.01M181.5 452.1h0.01M168.3 452.3h0.01M172.3 444.1h0.01M170.1 450.8h0.01M179.6 445.4h0.01M173.5 453.7h0.01M170.8 447.5h0.01M164.5 453.2h0.01M168.7 446.8h0.01M170.4 447.3h0.01M192.2 443.4h0.01M177.9 443.6h0.01M179.8 449.6h0.01M173.3 458.5h0.01M167 446.6h0.01M169.3 450.2h0.01M178.9 448.1h0.01M168.2 446.9h0.01M184 445.5h0.01M185 446.7h0.01M171.3 448.6h0.01M177.8 451.8h0.01M172 451.9h0.01M164.4 445h0.01M163.3 449.9h0.01M170.2 453h0.01M171.3 448.3h0.01M170.8 444.3h0.01M167.5 458.4h0.01M176.5 443.2h0.01M166.4 452.5h0.01M170.4 447.9h0.01M178 444.3h0.01M166.1 452.9h0.01M167.8 451.3h0.01M184.4 441.6h0.01M173.4 449.1h0.01M174.6 448.7h0.01M178.1 445.9h0.01M168.1 451.5h0.01M173.9 442.3h0.01M178.4 447h0.01M180.2 448.1h0.01M165.6 449.7h0.01M179.2 452.4h0.01M173.3 452.1h0.01M182.6 448.8h0.01M183.7 450h0.01M166.8 446.1h0.01M170 457.1h0.01M180.7 444.4h0.01M175.4 457.3h0.01M168.7 450.6h0.01M172.4 453.2h0.01M176.1 453.6h0.01M177 450.4h0.01M168.1 451.8h0.01M172.2 457h0.01M176.1 449.2h0.01M175 449.6h0.01M172 452.5h0.01M173.2 446.1h0.01M180.3 451.1h0.01M180.9 446.4h0.01M181.2 454h0.01M178.5 450.1h0.01" stroke="#8cb04a" stroke-width="0.9" stroke-linecap="round" opacity="0.5" fill="none"/>
<path d="M200.8 422.2h0.01M195.9 426.8h0.01M206.3 428.6h0.01M198.3 427.7h0.01M200.4 424.8h0.01M200.8 429.6h0.01M195.3 425.8h0.01M200.8 423.9h0.01M196.3 428.4h0.01M211.8 427.3h0.01M198.4 431.9h0.01M201.8 421.3h0.01M198.3 421.1h0.01M199.4 431.5h0.01M211.2 437h0.01M206 426h0.01M197.8 425.8h0.01M195.6 424.2h0.01M202.8 427.4h0.01M202 426.6h0.01M193.6 428.7h0.01M201.1 429.5h0.01M201.8 424h0.01M205.8 429.4h0.01M199.7 429.2h0.01M203.3 425.6h0.01M202.2 424.7h0.01M207.8 425.7h0.01M205.8 432.5h0.01M201.3 429.1h0.01M208.4 421.4h0.01M211.7 428.9h0.01M195 427.5h0.01M211.8 427.4h0.01M208 430.3h0.01M197.8 428.2h0.01M209.8 424.7h0.01M201.6 425.4h0.01M198.4 426.5h0.01M190.4 425.1h0.01M192.5 424.2h0.01M198.2 430.2h0.01M195.6 429.7h0.01M199 424.7h0.01M192.6 427.6h0.01M200.6 429.5h0.01M198 420.8h0.01M203.8 431.2h0.01M201.2 427.5h0.01M203.5 427.9h0.01M203.6 429.8h0.01M203.7 421.9h0.01M203.1 426.1h0.01M196.1 429.9h0.01M197.8 428.3h0.01M197.6 428.9h0.01M207.7 424.5h0.01M197.1 429.9h0.01M196.6 430.3h0.01M203 424.3h0.01M198.3 431.1h0.01M205.3 427.6h0.01M202.2 430.4h0.01M198 428.2h0.01M203.4 431.2h0.01M199.2 426.6h0.01M202.4 426.5h0.01M199.8 428.8h0.01M198.6 426.3h0.01" stroke="#a8c470" stroke-width="0.9" stroke-linecap="round" opacity="0.5" fill="none"/>
<path d="M197.4 442.6h0.01M194.2 441.8h0.01M190 439.5h0.01M192.5 438.3h0.01M203.6 449.6h0.01M194.9 441.8h0.01M195.4 440.9h0.01M193.3 445.3h0.01M198.7 437.6h0.01M197.1 439.2h0.01M199.2 439.4h0.01M197.6 439.5h0.01M195.1 443.4h0.01M199.5 437.3h0.01M193.3 439.3h0.01M187.6 443h0.01M195 441.1h0.01M192 448.4h0.01M191.6 432.9h0.01M194.3 443.2h0.01M190.7 441.7h0.01M184.6 441.2h0.01M196.3 438.8h0.01M190.6 438.4h0.01M193.4 445.8h0.01M196.5 439.9h0.01M193.6 444.9h0.01M192.7 439h0.01M199.9 442.1h0.01M202.6 441.3h0.01M194.5 443.6h0.01M197 442.2h0.01M191.3 439.8h0.01M192.2 440.4h0.01M202.4 438.9h0.01M198.3 443.7h0.01M188.3 445.7h0.01M197.2 443.4h0.01M197 445.6h0.01M198 439.8h0.01M192.9 439.1h0.01M192.1 439.1h0.01M197.2 445.5h0.01M195 445.7h0.01M201.6 444.5h0.01M187.8 433h0.01M201.4 443.8h0.01M189 439.5h0.01M197.1 442h0.01M189.6 441.9h0.01M188.7 441.2h0.01M199.1 443h0.01M193.1 444.3h0.01M205.6 441.1h0.01M196.7 437h0.01M199.9 436.4h0.01M194.9 445.3h0.01M198.9 430.6h0.01M192 433.6h0.01M194.5 436.9h0.01M207.2 446.3h0.01M191.1 441h0.01M196.3 445.5h0.01M202.9 444.4h0.01M189.7 430.9h0.01M188.3 438h0.01M199.8 437.4h0.01M202.4 444.8h0.01M196.4 445h0.01M192.4 445.7h0.01" stroke="#b4cc84" stroke-width="0.9" stroke-linecap="round" opacity="0.5" fill="none"/>
<rect x="47.7" y="419.5" width="52.6" height="39.8" fill="none" stroke="#8c8c8c" stroke-width="1"/>
<line x1="65.5" y1="418.8" x2="65.5" y2="420.2" stroke="#555" stroke-width="1.6"/>
<rect x="104.5" y="419.5" width="52.7" height="39.8" fill="none" stroke="#8c8c8c" stroke-width="1"/>
<line x1="122.3" y1="418.8" x2="122.3" y2="420.2" stroke="#555" stroke-width="1.6"/>
<rect x="161.4" y="419.5" width="52.8" height="39.8" fill="none" stroke="#8c8c8c" stroke-width="1"/>
<line x1="179.2" y1="418.8" x2="179.2" y2="420.2" stroke="#555" stroke-width="1.6"/>
<rect x="60.5" y="427.6" width="30.3" height="23.6" fill="none" stroke="#777" stroke-width="0.8"/>
<rect x="120" y="427.5" width="28.8" height="23" fill="none" stroke="#777" stroke-width="0.8"/>
<rect x="190" y="419.5" width="22.5" height="15.5" fill="none" stroke="#777" stroke-width="0.8"/>
<rect x="187.5" y="435.5" width="18.3" height="14.5" fill="none" stroke="#777" stroke-width="0.8"/>
<text x="90.8" y="458" font-size="7.4" fill="#222" stroke="#222" stroke-width="0.12">69</text>
<text x="147.5" y="457.5" font-size="7.4" fill="#222" stroke="#222" stroke-width="0.12">87</text>
<text x="182.4" y="428" font-size="7.4" fill="#222" stroke="#222" stroke-width="0.12">3</text>
<text x="208.6" y="458" font-size="7.4" fill="#222" stroke="#222" stroke-width="0.12">3</text>
<line x1="43" y1="255.8" x2="43" y2="220.8" stroke="#111" stroke-width="1.4"/>
<path d="M40.2,222.6 L43,216.8 L45.8,222.6 Z" fill="#111"/>
<line x1="49.4" y1="260" x2="208.8" y2="260" stroke="#222" stroke-width="1.5"/>
<path d="M207.6,257.2 L213.8,260 L207.6,262.8 Z" fill="#111"/>
<line x1="43" y1="313.2" x2="43" y2="278" stroke="#111" stroke-width="1.4"/>
<path d="M40.2,279.8 L43,274 L45.8,279.8 Z" fill="#111"/>
<line x1="49.4" y1="318.5" x2="208.8" y2="318.5" stroke="#222" stroke-width="1.5"/>
<path d="M207.6,315.7 L213.8,318.5 L207.6,321.3 Z" fill="#111"/>
<line x1="43" y1="400.8" x2="43" y2="366.2" stroke="#111" stroke-width="1.4"/>
<path d="M40.2,368 L43,362.2 L45.8,368 Z" fill="#111"/>
<line x1="50" y1="405.5" x2="208.8" y2="405.5" stroke="#222" stroke-width="1.5"/>
<path d="M207.6,402.7 L213.8,405.5 L207.6,408.3 Z" fill="#111"/>
<line x1="43" y1="458.8" x2="43" y2="424.2" stroke="#111" stroke-width="1.4"/>
<path d="M40.2,426 L43,420.2 L45.8,426 Z" fill="#111"/>
<line x1="50" y1="463.9" x2="208.8" y2="463.9" stroke="#222" stroke-width="1.5"/>
<path d="M207.6,461.1 L213.8,463.9 L207.6,466.7 Z" fill="#111"/>
<text transform="translate(38.2,235.7) rotate(-90)" x="0" y="0" font-size="9" text-anchor="middle" font-weight="bold" fill="#222" textLength="37.2" lengthAdjust="spacingAndGlyphs">Cell number</text>
<text transform="translate(38.2,381.6) rotate(-90)" x="0" y="0" font-size="9" text-anchor="middle" font-weight="bold" fill="#222" textLength="33.5" lengthAdjust="spacingAndGlyphs">Cell number</text>
<text transform="translate(38.1,294) rotate(-90)" x="0" y="0" font-size="8.8" text-anchor="middle" font-weight="bold" fill="#222" textLength="12" lengthAdjust="spacingAndGlyphs">Gr-1</text>
<text transform="translate(38.1,438.9) rotate(-90)" x="0" y="0" font-size="8.8" text-anchor="middle" font-weight="bold" fill="#222" textLength="12" lengthAdjust="spacingAndGlyphs">Gr-1</text>
<text x="51.8" y="268.6" font-size="8.2" font-weight="bold" fill="#222" textLength="13" lengthAdjust="spacingAndGlyphs">GFP</text>
<text x="51.5" y="415" font-size="8.2" font-weight="bold" fill="#222" textLength="13" lengthAdjust="spacingAndGlyphs">GFP</text>
<text x="52" y="327.4" font-size="8.2" font-weight="bold" fill="#222" textLength="18.4" lengthAdjust="spacingAndGlyphs">Mac-1</text>
<text x="52.3" y="473.2" font-size="8.2" font-weight="bold" fill="#222" textLength="18.4" lengthAdjust="spacingAndGlyphs">Mac-1</text>
<text x="230.9" y="184.8" font-size="12" font-weight="bold" fill="#000">D</text>
<text x="304.4" y="191.8" font-size="9" font-weight="bold" fill="#111" textLength="22.2" lengthAdjust="spacingAndGlyphs">Trib1</text>
<text x="448.2" y="191.8" font-size="9" font-weight="bold" fill="#111" textLength="25.2" lengthAdjust="spacingAndGlyphs">MLF1</text>
<line x1="274.4" y1="200.7" x2="276" y2="200.7" stroke="#000" stroke-width="0.8"/>
<line x1="274.4" y1="202.6" x2="276" y2="202.6" stroke="#000" stroke-width="0.8"/>
<line x1="274.4" y1="204.5" x2="276" y2="204.5" stroke="#000" stroke-width="0.8"/>
<line x1="274.4" y1="206.4" x2="276" y2="206.4" stroke="#000" stroke-width="0.8"/>
<line x1="274.4" y1="208.3" x2="276" y2="208.3" stroke="#000" stroke-width="0.8"/>
<line x1="274.4" y1="210.2" x2="276" y2="210.2" stroke="#000" stroke-width="0.8"/>
<line x1="274.4" y1="212.1" x2="276" y2="212.1" stroke="#000" stroke-width="0.8"/>
<line x1="274.4" y1="214" x2="276" y2="214" stroke="#000" stroke-width="0.8"/>
<line x1="274.4" y1="215.9" x2="276" y2="215.9" stroke="#000" stroke-width="0.8"/>
<line x1="274.4" y1="217.8" x2="276" y2="217.8" stroke="#000" stroke-width="0.8"/>
<line x1="274.4" y1="219.7" x2="276" y2="219.7" stroke="#000" stroke-width="0.8"/>
<line x1="274.4" y1="221.6" x2="276" y2="221.6" stroke="#000" stroke-width="0.8"/>
<line x1="274.4" y1="223.5" x2="276" y2="223.5" stroke="#000" stroke-width="0.8"/>
<line x1="274.4" y1="225.4" x2="276" y2="225.4" stroke="#000" stroke-width="0.8"/>
<line x1="274.4" y1="227.3" x2="276" y2="227.3" stroke="#000" stroke-width="0.8"/>
<line x1="274.4" y1="229.2" x2="276" y2="229.2" stroke="#000" stroke-width="0.8"/>
<line x1="274.4" y1="231.1" x2="276" y2="231.1" stroke="#000" stroke-width="0.8"/>
<line x1="274.4" y1="233" x2="276" y2="233" stroke="#000" stroke-width="0.8"/>
<line x1="274.4" y1="234.9" x2="276" y2="234.9" stroke="#000" stroke-width="0.8"/>
<line x1="274.4" y1="236.8" x2="276" y2="236.8" stroke="#000" stroke-width="0.8"/>
<line x1="274.4" y1="238.8" x2="276" y2="238.8" stroke="#000" stroke-width="0.8"/>
<line x1="274.4" y1="240.7" x2="276" y2="240.7" stroke="#000" stroke-width="0.8"/>
<line x1="274.4" y1="242.6" x2="276" y2="242.6" stroke="#000" stroke-width="0.8"/>
<line x1="274.4" y1="244.5" x2="276" y2="244.5" stroke="#000" stroke-width="0.8"/>
<line x1="274.4" y1="246.4" x2="276" y2="246.4" stroke="#000" stroke-width="0.8"/>
<line x1="274.4" y1="248.3" x2="276" y2="248.3" stroke="#000" stroke-width="0.8"/>
<line x1="274.4" y1="250.2" x2="276" y2="250.2" stroke="#000" stroke-width="0.8"/>
<line x1="274.4" y1="252.1" x2="276" y2="252.1" stroke="#000" stroke-width="0.8"/>
<line x1="274.4" y1="254" x2="276" y2="254" stroke="#000" stroke-width="0.8"/>
<line x1="274.4" y1="255.9" x2="276" y2="255.9" stroke="#000" stroke-width="0.8"/>
<line x1="274.4" y1="257.8" x2="276" y2="257.8" stroke="#000" stroke-width="0.8"/>
<line x1="274.4" y1="259.7" x2="276" y2="259.7" stroke="#000" stroke-width="0.8"/>
<line x1="274.4" y1="261.6" x2="276" y2="261.6" stroke="#000" stroke-width="0.8"/>
<line x1="274.4" y1="263.5" x2="276" y2="263.5" stroke="#000" stroke-width="0.8"/>
<line x1="274.4" y1="265.4" x2="276" y2="265.4" stroke="#000" stroke-width="0.8"/>
<line x1="274.4" y1="267.3" x2="276" y2="267.3" stroke="#000" stroke-width="0.8"/>
<line x1="274.4" y1="269.2" x2="276" y2="269.2" stroke="#000" stroke-width="0.8"/>
<line x1="274.4" y1="271.1" x2="276" y2="271.1" stroke="#000" stroke-width="0.8"/>
<line x1="274.4" y1="273" x2="276" y2="273" stroke="#000" stroke-width="0.8"/>
<line x1="274.4" y1="274.9" x2="276" y2="274.9" stroke="#000" stroke-width="0.8"/>
<line x1="274.4" y1="276.8" x2="276" y2="276.8" stroke="#000" stroke-width="0.8"/>
<line x1="273" y1="200.7" x2="276" y2="200.7" stroke="#000" stroke-width="1"/>
<text x="269.6" y="203.2" font-size="7" text-anchor="end" fill="#262626" stroke="#262626" stroke-width="0.12">3</text>
<line x1="273" y1="219.9" x2="276" y2="219.9" stroke="#000" stroke-width="1"/>
<text x="269.6" y="222.4" font-size="7" text-anchor="end" fill="#262626" stroke="#262626" stroke-width="0.12">2</text>
<line x1="273" y1="239.1" x2="276" y2="239.1" stroke="#000" stroke-width="1"/>
<text x="269.6" y="241.6" font-size="7" text-anchor="end" fill="#262626" stroke="#262626" stroke-width="0.12">1</text>
<line x1="273" y1="258.3" x2="276" y2="258.3" stroke="#000" stroke-width="1"/>
<text x="269.6" y="260.8" font-size="7" text-anchor="end" fill="#262626" stroke="#262626" stroke-width="0.12">0</text>
<line x1="273" y1="276.8" x2="276" y2="276.8" stroke="#000" stroke-width="1"/>
<text x="269.6" y="279.3" font-size="7" text-anchor="end" fill="#262626" stroke="#262626" stroke-width="0.12">-1</text>
<line x1="276" y1="198.5" x2="276" y2="277.5" stroke="#000" stroke-width="1.5"/>
<line x1="275.2" y1="276.7" x2="355.3" y2="276.7" stroke="#000" stroke-width="1.5"/>
<line x1="295.2" y1="276.7" x2="295.2" y2="279.3" stroke="#000" stroke-width="1"/>
<line x1="314.2" y1="276.7" x2="314.2" y2="279.3" stroke="#000" stroke-width="1"/>
<line x1="333.2" y1="276.7" x2="333.2" y2="279.3" stroke="#000" stroke-width="1"/>
<line x1="352.3" y1="276.7" x2="352.3" y2="279.3" stroke="#000" stroke-width="1"/>
<text transform="translate(244.4,237) rotate(-90)" x="0" y="0" font-size="8.6" text-anchor="middle" font-weight="bold" fill="#222" textLength="57" lengthAdjust="spacingAndGlyphs">Relative expression</text>
<text transform="translate(256,236.7) rotate(-90)" x="0" y="0" font-size="8.6" text-anchor="middle" font-weight="bold" fill="#222" textLength="26.4" lengthAdjust="spacingAndGlyphs">( log10 )</text>
<circle cx="295.2" cy="218.2" r="1.9" fill="none" stroke="#a8163a" stroke-width="1.1"/>
<circle cx="295.2" cy="220.2" r="1.9" fill="none" stroke="#a8163a" stroke-width="1.1"/>
<circle cx="295.2" cy="221.8" r="1.9" fill="none" stroke="#a8163a" stroke-width="1.1"/>
<circle cx="295.2" cy="226.5" r="1.9" fill="none" stroke="#a8163a" stroke-width="1.1"/>
<circle cx="295.2" cy="234.3" r="1.9" fill="none" stroke="#a8163a" stroke-width="1.1"/>
<circle cx="295.2" cy="241" r="1.9" fill="none" stroke="#a8163a" stroke-width="1.1"/>
<line x1="288.3" y1="224" x2="302.2" y2="224" stroke="#111" stroke-width="1.4"/>
<circle cx="314.3" cy="212.1" r="1.9" fill="none" stroke="#34528e" stroke-width="1.1"/>
<circle cx="314.3" cy="223.6" r="1.9" fill="none" stroke="#34528e" stroke-width="1.1"/>
<circle cx="314.3" cy="226.2" r="1.9" fill="none" stroke="#34528e" stroke-width="1.1"/>
<circle cx="314.3" cy="229" r="1.9" fill="none" stroke="#34528e" stroke-width="1.1"/>
<circle cx="314.3" cy="231.9" r="1.9" fill="none" stroke="#34528e" stroke-width="1.1"/>
<line x1="307.6" y1="220.9" x2="321.5" y2="220.9" stroke="#111" stroke-width="1.4"/>
<circle cx="333.2" cy="224" r="1.9" fill="none" stroke="#7caa4c" stroke-width="1.1"/>
<circle cx="333.2" cy="231.6" r="1.9" fill="none" stroke="#7caa4c" stroke-width="1.1"/>
<circle cx="333.2" cy="243.7" r="1.9" fill="none" stroke="#7caa4c" stroke-width="1.1"/>
<circle cx="333.2" cy="249.5" r="1.9" fill="none" stroke="#7caa4c" stroke-width="1.1"/>
<circle cx="333.2" cy="267" r="1.9" fill="none" stroke="#7caa4c" stroke-width="1.1"/>
<line x1="326.4" y1="233.6" x2="339.9" y2="233.6" stroke="#111" stroke-width="1.4"/>
<text x="287.3" y="288.2" font-size="7.2" fill="#262626" textLength="15.5" lengthAdjust="spacingAndGlyphs" stroke="#262626" stroke-width="0.12">Trib1</text>
<text transform="translate(311.4,285.4) rotate(47)" x="0" y="0" font-size="7.2" fill="#262626" textLength="33" lengthAdjust="spacingAndGlyphs" stroke="#262626" stroke-width="0.12">Leukemic</text>
<text transform="translate(330.6,285.6) rotate(47)" x="0" y="0" font-size="7.2" fill="#262626" textLength="48" lengthAdjust="spacingAndGlyphs" stroke="#262626" stroke-width="0.12">Non-leukemic</text>
<line x1="304.2" y1="314.6" x2="343.2" y2="314.6" stroke="#222" stroke-width="1.3"/>
<text x="299.4" y="325" font-size="7.2" fill="#262626" textLength="47.2" lengthAdjust="spacingAndGlyphs" stroke="#262626" stroke-width="0.12">MLF1 + Trib1</text>
<line x1="418.4" y1="200.9" x2="421.4" y2="200.9" stroke="#000" stroke-width="1"/>
<text x="414.4" y="203.4" font-size="7" text-anchor="end" fill="#262626" stroke="#262626" stroke-width="0.12"></text>
<line x1="418.4" y1="213.5" x2="421.4" y2="213.5" stroke="#000" stroke-width="1"/>
<text x="414.4" y="216" font-size="7" text-anchor="end" fill="#262626" stroke="#262626" stroke-width="0.12">5</text>
<line x1="418.4" y1="226.1" x2="421.4" y2="226.1" stroke="#000" stroke-width="1"/>
<text x="414.4" y="228.6" font-size="7" text-anchor="end" fill="#262626" stroke="#262626" stroke-width="0.12">4</text>
<line x1="418.4" y1="238.7" x2="421.4" y2="238.7" stroke="#000" stroke-width="1"/>
<text x="414.4" y="241.2" font-size="7" text-anchor="end" fill="#262626" stroke="#262626" stroke-width="0.12">3</text>
<line x1="418.4" y1="251.3" x2="421.4" y2="251.3" stroke="#000" stroke-width="1"/>
<text x="414.4" y="253.8" font-size="7" text-anchor="end" fill="#262626" stroke="#262626" stroke-width="0.12">2</text>
<line x1="418.4" y1="263.9" x2="421.4" y2="263.9" stroke="#000" stroke-width="1"/>
<text x="414.4" y="266.4" font-size="7" text-anchor="end" fill="#262626" stroke="#262626" stroke-width="0.12">1</text>
<line x1="418.4" y1="276.5" x2="421.4" y2="276.5" stroke="#000" stroke-width="1"/>
<text x="414.4" y="279" font-size="7" text-anchor="end" fill="#262626" stroke="#262626" stroke-width="0.12">0</text>
<line x1="421.4" y1="198.2" x2="421.4" y2="277.2" stroke="#000" stroke-width="1.5"/>
<line x1="420.6" y1="276.4" x2="499.8" y2="276.4" stroke="#000" stroke-width="1.5"/>
<line x1="440.6" y1="276.4" x2="440.6" y2="279" stroke="#000" stroke-width="1"/>
<line x1="459.1" y1="276.4" x2="459.1" y2="279" stroke="#000" stroke-width="1"/>
<line x1="478.1" y1="276.4" x2="478.1" y2="279" stroke="#000" stroke-width="1"/>
<line x1="496.7" y1="276.4" x2="496.7" y2="279" stroke="#000" stroke-width="1"/>
<text transform="translate(393,237.2) rotate(-90)" x="0" y="0" font-size="8.6" text-anchor="middle" font-weight="bold" fill="#222" textLength="56.6" lengthAdjust="spacingAndGlyphs">Relative expression</text>
<text transform="translate(403.2,237) rotate(-90)" x="0" y="0" font-size="8.6" text-anchor="middle" font-weight="bold" fill="#222" textLength="25" lengthAdjust="spacingAndGlyphs">( log10 )</text>
<circle cx="459.1" cy="215.8" r="1.9" fill="none" stroke="#34528e" stroke-width="1.1"/>
<circle cx="459.1" cy="221" r="1.9" fill="none" stroke="#34528e" stroke-width="1.1"/>
<circle cx="459.1" cy="224.8" r="1.9" fill="none" stroke="#34528e" stroke-width="1.1"/>
<circle cx="459.1" cy="238.3" r="1.9" fill="none" stroke="#34528e" stroke-width="1.1"/>
<circle cx="459.1" cy="262" r="1.9" fill="none" stroke="#34528e" stroke-width="1.1"/>
<line x1="452.2" y1="221.5" x2="466.6" y2="221.5" stroke="#111" stroke-width="1.4"/>
<circle cx="478.1" cy="212.3" r="1.9" fill="none" stroke="#7caa4c" stroke-width="1.1"/>
<circle cx="478.1" cy="215.8" r="1.9" fill="none" stroke="#7caa4c" stroke-width="1.1"/>
<circle cx="478.1" cy="218.9" r="1.9" fill="none" stroke="#7caa4c" stroke-width="1.1"/>
<circle cx="478.1" cy="222.3" r="1.9" fill="none" stroke="#7caa4c" stroke-width="1.1"/>
<line x1="471.2" y1="216.3" x2="485" y2="216.3" stroke="#111" stroke-width="1.4"/>
<text x="432" y="288.6" font-size="7.2" fill="#262626" textLength="16.6" lengthAdjust="spacingAndGlyphs" stroke="#262626" stroke-width="0.12">Trib1</text>
<text transform="translate(455.8,285.4) rotate(47)" x="0" y="0" font-size="7.2" fill="#262626" textLength="33" lengthAdjust="spacingAndGlyphs" stroke="#262626" stroke-width="0.12">Leukemic</text>
<text transform="translate(475.2,285.4) rotate(47)" x="0" y="0" font-size="7.2" fill="#262626" textLength="48" lengthAdjust="spacingAndGlyphs" stroke="#262626" stroke-width="0.12">Non-leukemic</text>
<line x1="448.8" y1="314.6" x2="488.3" y2="314.6" stroke="#222" stroke-width="1.3"/>
<text x="444" y="325.6" font-size="7.2" fill="#262626" textLength="48" lengthAdjust="spacingAndGlyphs" stroke="#262626" stroke-width="0.12">MLF1 + Trib1</text>
<text x="231.6" y="354.8" font-size="12" font-weight="bold" fill="#000">E</text>
<text x="276.7" y="361.9" font-size="9" font-weight="bold" fill="#111" textLength="80.3" lengthAdjust="spacingAndGlyphs">Trib1/MLF1 ratio</text>
<line x1="274" y1="399.4" x2="275.6" y2="399.4" stroke="#000" stroke-width="0.8"/>
<line x1="274" y1="402" x2="275.6" y2="402" stroke="#000" stroke-width="0.8"/>
<line x1="274" y1="404.6" x2="275.6" y2="404.6" stroke="#000" stroke-width="0.8"/>
<line x1="274" y1="407.2" x2="275.6" y2="407.2" stroke="#000" stroke-width="0.8"/>
<line x1="274" y1="409.8" x2="275.6" y2="409.8" stroke="#000" stroke-width="0.8"/>
<line x1="274" y1="412.4" x2="275.6" y2="412.4" stroke="#000" stroke-width="0.8"/>
<line x1="274" y1="415" x2="275.6" y2="415" stroke="#000" stroke-width="0.8"/>
<line x1="274" y1="417.6" x2="275.6" y2="417.6" stroke="#000" stroke-width="0.8"/>
<line x1="274" y1="420.2" x2="275.6" y2="420.2" stroke="#000" stroke-width="0.8"/>
<line x1="274" y1="422.8" x2="275.6" y2="422.8" stroke="#000" stroke-width="0.8"/>
<line x1="274" y1="425.4" x2="275.6" y2="425.4" stroke="#000" stroke-width="0.8"/>
<line x1="274" y1="428" x2="275.6" y2="428" stroke="#000" stroke-width="0.8"/>
<line x1="274" y1="430.6" x2="275.6" y2="430.6" stroke="#000" stroke-width="0.8"/>
<line x1="274" y1="433.2" x2="275.6" y2="433.2" stroke="#000" stroke-width="0.8"/>
<line x1="274" y1="435.8" x2="275.6" y2="435.8" stroke="#000" stroke-width="0.8"/>
<line x1="274" y1="438.4" x2="275.6" y2="438.4" stroke="#000" stroke-width="0.8"/>
<line x1="274" y1="441" x2="275.6" y2="441" stroke="#000" stroke-width="0.8"/>
<line x1="274" y1="443.6" x2="275.6" y2="443.6" stroke="#000" stroke-width="0.8"/>
<line x1="274" y1="446.2" x2="275.6" y2="446.2" stroke="#000" stroke-width="0.8"/>
<line x1="274" y1="448.8" x2="275.6" y2="448.8" stroke="#000" stroke-width="0.8"/>
<line x1="274" y1="451.4" x2="275.6" y2="451.4" stroke="#000" stroke-width="0.8"/>
<line x1="274" y1="454" x2="275.6" y2="454" stroke="#000" stroke-width="0.8"/>
<line x1="274" y1="456.6" x2="275.6" y2="456.6" stroke="#000" stroke-width="0.8"/>
<line x1="274" y1="459.2" x2="275.6" y2="459.2" stroke="#000" stroke-width="0.8"/>
<line x1="274" y1="461.8" x2="275.6" y2="461.8" stroke="#000" stroke-width="0.8"/>
<line x1="274" y1="464.4" x2="275.6" y2="464.4" stroke="#000" stroke-width="0.8"/>
<line x1="274" y1="467" x2="275.6" y2="467" stroke="#000" stroke-width="0.8"/>
<line x1="274" y1="469.6" x2="275.6" y2="469.6" stroke="#000" stroke-width="0.8"/>
<line x1="274" y1="472.2" x2="275.6" y2="472.2" stroke="#000" stroke-width="0.8"/>
<line x1="274" y1="474.8" x2="275.6" y2="474.8" stroke="#000" stroke-width="0.8"/>
<line x1="274" y1="477.4" x2="275.6" y2="477.4" stroke="#000" stroke-width="0.8"/>
<line x1="272.6" y1="399.4" x2="275.6" y2="399.4" stroke="#000" stroke-width="1"/>
<text x="269.6" y="401.9" font-size="7" text-anchor="end" fill="#262626" stroke="#262626" stroke-width="0.12">1</text>
<line x1="272.6" y1="412.4" x2="275.6" y2="412.4" stroke="#000" stroke-width="1"/>
<text x="269.6" y="414.9" font-size="7" text-anchor="end" fill="#262626" stroke="#262626" stroke-width="0.12">0</text>
<line x1="272.6" y1="425.4" x2="275.6" y2="425.4" stroke="#000" stroke-width="1"/>
<text x="269.6" y="427.9" font-size="7" text-anchor="end" fill="#262626" stroke="#262626" stroke-width="0.12">-1</text>
<line x1="272.6" y1="438.4" x2="275.6" y2="438.4" stroke="#000" stroke-width="1"/>
<text x="269.6" y="440.9" font-size="7" text-anchor="end" fill="#262626" stroke="#262626" stroke-width="0.12">-2</text>
<line x1="272.6" y1="451.4" x2="275.6" y2="451.4" stroke="#000" stroke-width="1"/>
<text x="269.6" y="453.9" font-size="7" text-anchor="end" fill="#262626" stroke="#262626" stroke-width="0.12">-3</text>
<line x1="272.6" y1="464.4" x2="275.6" y2="464.4" stroke="#000" stroke-width="1"/>
<text x="269.6" y="466.9" font-size="7" text-anchor="end" fill="#262626" stroke="#262626" stroke-width="0.12">-4</text>
<line x1="272.6" y1="477.4" x2="275.6" y2="477.4" stroke="#000" stroke-width="1"/>
<text x="269.6" y="479.9" font-size="7" text-anchor="end" fill="#262626" stroke="#262626" stroke-width="0.12">-5</text>
<line x1="275.6" y1="397" x2="275.6" y2="478.3" stroke="#000" stroke-width="1.5"/>
<line x1="274.8" y1="477.7" x2="356.3" y2="477.7" stroke="#000" stroke-width="1.5"/>
<line x1="301.8" y1="477.7" x2="301.8" y2="480.3" stroke="#000" stroke-width="1"/>
<line x1="327.8" y1="477.7" x2="327.8" y2="480.3" stroke="#000" stroke-width="1"/>
<line x1="354.4" y1="477.7" x2="354.4" y2="480.3" stroke="#000" stroke-width="1"/>
<text transform="translate(246.4,436) rotate(-90)" x="0" y="0" font-size="8.6" text-anchor="middle" font-weight="bold" fill="#222" textLength="57" lengthAdjust="spacingAndGlyphs">Relative expression</text>
<text transform="translate(257.2,437) rotate(-90)" x="0" y="0" font-size="8.6" text-anchor="middle" font-weight="bold" fill="#222" textLength="25.4" lengthAdjust="spacingAndGlyphs">( log10 )</text>
<circle cx="302.2" cy="409.6" r="1.9" fill="none" stroke="#34528e" stroke-width="1.1"/>
<circle cx="302.2" cy="430.1" r="1.9" fill="none" stroke="#34528e" stroke-width="1.1"/>
<circle cx="302.2" cy="441.8" r="1.9" fill="none" stroke="#34528e" stroke-width="1.1"/>
<circle cx="302.2" cy="443.9" r="1.9" fill="none" stroke="#34528e" stroke-width="1.1"/>
<circle cx="302.2" cy="448.8" r="1.9" fill="none" stroke="#34528e" stroke-width="1.1"/>
<line x1="295" y1="418.5" x2="309.8" y2="418.5" stroke="#111" stroke-width="1.4"/>
<circle cx="328.2" cy="450.9" r="1.9" fill="none" stroke="#7caa4c" stroke-width="1.1"/>
<circle cx="328.2" cy="460.8" r="1.9" fill="none" stroke="#7caa4c" stroke-width="1.1"/>
<circle cx="328.2" cy="465.7" r="1.9" fill="none" stroke="#7caa4c" stroke-width="1.1"/>
<circle cx="328.2" cy="469.9" r="1.9" fill="none" stroke="#7caa4c" stroke-width="1.1"/>
<circle cx="328.2" cy="475.2" r="1.9" fill="none" stroke="#7caa4c" stroke-width="1.1"/>
<line x1="321.4" y1="458.3" x2="335.6" y2="458.3" stroke="#111" stroke-width="1.4"/>
<text x="298.8" y="392.2" font-size="7.2" fill="#262626" textLength="34.2" lengthAdjust="spacingAndGlyphs" stroke="#262626" stroke-width="0.12"><tspan font-style="italic">P</tspan> &lt; 0.005</text>
<path d="M301.6,399.6 V395.4 H329.9 V399.6" stroke="#222" stroke-width="1.1" fill="none"/>
<text transform="translate(298,487) rotate(47)" x="0" y="0" font-size="7.2" fill="#262626" textLength="33" lengthAdjust="spacingAndGlyphs" stroke="#262626" stroke-width="0.12">Leukemic</text>
<text transform="translate(324.8,487) rotate(47)" x="0" y="0" font-size="7.2" fill="#262626" textLength="48" lengthAdjust="spacingAndGlyphs" stroke="#262626" stroke-width="0.12">Non-leukemic</text>
<line x1="297.7" y1="515.8" x2="335.2" y2="515.8" stroke="#222" stroke-width="1.3"/>
<text x="292.9" y="526.5" font-size="7.2" fill="#262626" textLength="47" lengthAdjust="spacingAndGlyphs" stroke="#262626" stroke-width="0.12">MLF1 + Trib1</text>
<text x="377" y="354.8" font-size="12" font-weight="bold" fill="#000">F</text>
<text x="415.6" y="361.9" font-size="9" font-weight="bold" fill="#111" textLength="85.4" lengthAdjust="spacingAndGlyphs">TRIB1/MLF1 ratio</text>
<line x1="419.4" y1="396.2" x2="421" y2="396.2" stroke="#000" stroke-width="0.8"/>
<line x1="419.4" y1="406.4" x2="421" y2="406.4" stroke="#000" stroke-width="0.8"/>
<line x1="419.4" y1="416.5" x2="421" y2="416.5" stroke="#000" stroke-width="0.8"/>
<line x1="419.4" y1="426.7" x2="421" y2="426.7" stroke="#000" stroke-width="0.8"/>
<line x1="419.4" y1="436.8" x2="421" y2="436.8" stroke="#000" stroke-width="0.8"/>
<line x1="419.4" y1="447" x2="421" y2="447" stroke="#000" stroke-width="0.8"/>
<line x1="419.4" y1="457.1" x2="421" y2="457.1" stroke="#000" stroke-width="0.8"/>
<line x1="419.4" y1="467.2" x2="421" y2="467.2" stroke="#000" stroke-width="0.8"/>
<line x1="419.4" y1="477.4" x2="421" y2="477.4" stroke="#000" stroke-width="0.8"/>
<line x1="418" y1="396.2" x2="421" y2="396.2" stroke="#000" stroke-width="1"/>
<text x="414.8" y="398.7" font-size="7" text-anchor="end" fill="#262626" stroke="#262626" stroke-width="0.12">3</text>
<line x1="418" y1="416.5" x2="421" y2="416.5" stroke="#000" stroke-width="1"/>
<text x="414.8" y="419" font-size="7" text-anchor="end" fill="#262626" stroke="#262626" stroke-width="0.12">2</text>
<line x1="418" y1="436.8" x2="421" y2="436.8" stroke="#000" stroke-width="1"/>
<text x="414.8" y="439.3" font-size="7" text-anchor="end" fill="#262626" stroke="#262626" stroke-width="0.12">1</text>
<line x1="418" y1="457.1" x2="421" y2="457.1" stroke="#000" stroke-width="1"/>
<text x="414.8" y="459.6" font-size="7" text-anchor="end" fill="#262626" stroke="#262626" stroke-width="0.12">0</text>
<line x1="418" y1="477.4" x2="421" y2="477.4" stroke="#000" stroke-width="1"/>
<text x="414.8" y="479.9" font-size="7" text-anchor="end" fill="#262626" stroke="#262626" stroke-width="0.12">-1</text>
<line x1="421" y1="388.2" x2="421" y2="477.8" stroke="#000" stroke-width="1.5"/>
<line x1="420.2" y1="477" x2="494.4" y2="477" stroke="#000" stroke-width="1.5"/>
<line x1="437.3" y1="477" x2="437.3" y2="479.6" stroke="#000" stroke-width="1"/>
<line x1="460.6" y1="477" x2="460.6" y2="479.6" stroke="#000" stroke-width="1"/>
<line x1="483.9" y1="477" x2="483.9" y2="479.6" stroke="#000" stroke-width="1"/>
<text transform="translate(390.2,433) rotate(-90)" x="0" y="0" font-size="8.6" text-anchor="middle" font-weight="bold" fill="#222" textLength="58" lengthAdjust="spacingAndGlyphs">Relative expression</text>
<text transform="translate(402,432.8) rotate(-90)" x="0" y="0" font-size="8.6" text-anchor="middle" font-weight="bold" fill="#222" textLength="26.2" lengthAdjust="spacingAndGlyphs">( log10 )</text>
<line x1="427.7" y1="445.4" x2="446" y2="445.4" stroke="#111" stroke-width="1.8"/>
<line x1="437.3" y1="445.4" x2="437.3" y2="448" stroke="#111" stroke-width="1.6"/>
<line x1="460.5" y1="399" x2="460.5" y2="416.5" stroke="#000" stroke-width="1.1" stroke-dasharray="1,1"/>
<line x1="460.5" y1="430" x2="460.5" y2="446.5" stroke="#000" stroke-width="1.1" stroke-dasharray="1,1"/>
<line x1="455.8" y1="399.2" x2="465" y2="399.2" stroke="#111" stroke-width="1.4"/>
<line x1="455.8" y1="446.5" x2="465" y2="446.5" stroke="#111" stroke-width="1.4"/>
<rect x="450.8" y="416.5" width="18.8" height="13.5" fill="#ad0f35" stroke="#4a0a1a" stroke-width="0.8"/>
<line x1="450.8" y1="423.8" x2="469.6" y2="423.8" stroke="#1a0008" stroke-width="1.7"/>
<circle cx="460.4" cy="385.5" r="1.1" fill="#111"/>
<circle cx="460.4" cy="387.5" r="1.1" fill="#111"/>
<circle cx="460.4" cy="389.5" r="1.1" fill="#111"/>
<circle cx="460.4" cy="391.5" r="1.1" fill="#111"/>
<circle cx="460.4" cy="393.5" r="1.1" fill="#111"/>
<circle cx="460.4" cy="395.5" r="1.1" fill="#111"/>
<circle cx="460.4" cy="397.2" r="1.1" fill="#111"/>
<circle cx="460.4" cy="450.8" r="1.1" fill="#111"/>
<circle cx="460.4" cy="452.6" r="1.1" fill="#111"/>
<circle cx="460.4" cy="454.4" r="1.1" fill="#111"/>
<circle cx="460.4" cy="456.2" r="1.1" fill="#111"/>
<line x1="483.5" y1="416" x2="483.5" y2="437" stroke="#000" stroke-width="1.1" stroke-dasharray="1,1"/>
<line x1="483.5" y1="452" x2="483.5" y2="474.5" stroke="#000" stroke-width="1.1" stroke-dasharray="1,1"/>
<line x1="479.1" y1="416.5" x2="488.5" y2="416.5" stroke="#111" stroke-width="1.4"/>
<line x1="479.1" y1="474.5" x2="488.5" y2="474.5" stroke="#111" stroke-width="1.4"/>
<rect x="474.6" y="437" width="18.4" height="15.4" fill="#2f4f8c" stroke="#1a2a50" stroke-width="0.8"/>
<line x1="474.6" y1="446.5" x2="493" y2="446.5" stroke="#05102a" stroke-width="1.7"/>
<path d="M437.4,378.8 V376.8 H482.4 V378.8" stroke="#222" stroke-width="1" fill="none"/>
<path d="M437.4,388.2 V385.0 H482.4 V388.2 M460.4,385 V388.2" stroke="#222" stroke-width="1" fill="none"/>
<text x="453.8" y="373.6" font-size="6.4" fill="#444" textLength="12.4" lengthAdjust="spacingAndGlyphs" stroke="#444" stroke-width="0.12">n. s.</text>
<text x="448.8" y="385.9" font-size="8.6" text-anchor="middle" font-weight="bold" fill="#111" textLength="10.4" lengthAdjust="spacingAndGlyphs">***</text>
<text x="471.8" y="385.9" font-size="8.6" text-anchor="middle" font-weight="bold" fill="#111" textLength="10.4" lengthAdjust="spacingAndGlyphs">***</text>
<text x="424.2" y="491" font-size="7.2" fill="#262626" textLength="24.8" lengthAdjust="spacingAndGlyphs" stroke="#262626" stroke-width="0.12">Normal</text>
<text x="431" y="500.9" font-size="7.2" fill="#262626" textLength="11.6" lengthAdjust="spacingAndGlyphs" stroke="#262626" stroke-width="0.12">BM</text>
<text x="451.7" y="491" font-size="7.2" fill="#262626" textLength="16.3" lengthAdjust="spacingAndGlyphs" stroke="#262626" stroke-width="0.12">AML</text>
<text x="476.4" y="491" font-size="7.2" fill="#262626" textLength="14.2" lengthAdjust="spacingAndGlyphs" stroke="#262626" stroke-width="0.12">ALL</text>
<line x1="453.2" y1="496.3" x2="489.8" y2="496.3" stroke="#222" stroke-width="1.1"/>
<text x="456.8" y="506.6" font-size="7.2" fill="#262626" textLength="29.2" lengthAdjust="spacingAndGlyphs" stroke="#262626" stroke-width="0.12">Patients</text>
<text x="7.6" y="541.4" font-size="12" font-weight="bold" fill="#000">G</text>
<line x1="49.6" y1="591.5" x2="51.8" y2="591.5" stroke="#000" stroke-width="1"/>
<line x1="49.6" y1="618.9" x2="51.8" y2="618.9" stroke="#000" stroke-width="1"/>
<line x1="49.6" y1="646.3" x2="51.8" y2="646.3" stroke="#000" stroke-width="1"/>
<line x1="48.8" y1="577.8" x2="51.8" y2="577.8" stroke="#000" stroke-width="1"/>
<text x="44.4" y="580.3" font-size="7" text-anchor="end" fill="#262626" stroke="#262626" stroke-width="0.12">3</text>
<line x1="48.8" y1="605.2" x2="51.8" y2="605.2" stroke="#000" stroke-width="1"/>
<text x="44.4" y="607.7" font-size="7" text-anchor="end" fill="#262626" stroke="#262626" stroke-width="0.12">2</text>
<line x1="48.8" y1="632.6" x2="51.8" y2="632.6" stroke="#000" stroke-width="1"/>
<text x="44.4" y="635.1" font-size="7" text-anchor="end" fill="#262626" stroke="#262626" stroke-width="0.12">1</text>
<line x1="48.8" y1="660" x2="51.8" y2="660" stroke="#000" stroke-width="1"/>
<text x="44.4" y="662.5" font-size="7" text-anchor="end" fill="#262626" stroke="#262626" stroke-width="0.12">0</text>
<line x1="51.8" y1="567.5" x2="51.8" y2="662" stroke="#000" stroke-width="1.5"/>
<line x1="51" y1="661.3" x2="106.3" y2="661.3" stroke="#000" stroke-width="1.5"/>
<line x1="67.9" y1="661.3" x2="67.9" y2="664" stroke="#000" stroke-width="1"/>
<line x1="67.5" y1="582" x2="67.5" y2="605.8" stroke="#000" stroke-width="1.1" stroke-dasharray="1,1"/>
<line x1="67.5" y1="623" x2="67.5" y2="645.6" stroke="#000" stroke-width="1.1" stroke-dasharray="1,1"/>
<line x1="62.8" y1="582.8" x2="73" y2="582.8" stroke="#111" stroke-width="1.4"/>
<line x1="62.8" y1="645.6" x2="73" y2="645.6" stroke="#111" stroke-width="1.4"/>
<rect x="58.2" y="605.8" width="19.6" height="17.3" fill="#ad0f35" stroke="#4a0a1a" stroke-width="0.8"/>
<line x1="58.2" y1="615" x2="77.8" y2="615" stroke="#1a0008" stroke-width="1.7"/>
<circle cx="67.9" cy="569.5" r="1.1" fill="#111"/>
<circle cx="67.9" cy="576.4" r="1.1" fill="#111"/>
<circle cx="67.9" cy="577.8" r="1.1" fill="#111"/>
<circle cx="67.9" cy="651.7" r="1.1" fill="#111"/>
<circle cx="67.9" cy="658.6" r="1.1" fill="#111"/>
<line x1="92.8" y1="661.3" x2="92.8" y2="664" stroke="#000" stroke-width="1"/>
<line x1="92.5" y1="603" x2="92.5" y2="612.8" stroke="#000" stroke-width="1.1" stroke-dasharray="1,1"/>
<line x1="92.5" y1="635" x2="92.5" y2="654.8" stroke="#000" stroke-width="1.1" stroke-dasharray="1,1"/>
<line x1="87.3" y1="603.3" x2="98.2" y2="603.3" stroke="#111" stroke-width="1.4"/>
<line x1="87.3" y1="654.8" x2="98.2" y2="654.8" stroke="#111" stroke-width="1.4"/>
<rect x="83" y="612.8" width="19.9" height="22.5" fill="#ad0f35" stroke="#4a0a1a" stroke-width="0.8"/>
<line x1="83" y1="623.1" x2="102.9" y2="623.1" stroke="#1a0008" stroke-width="1.7"/>
<path d="M67.9,565.2 V561.0 H92.8 V565.2" stroke="#222" stroke-width="1" fill="none"/>
<text x="80.4" y="561.6" font-size="8.6" text-anchor="middle" font-weight="bold" fill="#111" textLength="3.4" lengthAdjust="spacingAndGlyphs">*</text>
<text x="67.9" y="675.6" font-size="8.4" text-anchor="middle" fill="#262626" stroke="#262626" stroke-width="0.12">&#8211;</text>
<text x="92.8" y="675.8" font-size="8.4" text-anchor="middle" fill="#262626" stroke="#262626" stroke-width="0.12">+</text>
<line x1="53.5" y1="680.4" x2="102.5" y2="680.4" stroke="#222" stroke-width="1.2"/>
<text x="46.7" y="691.6" font-size="7.2" fill="#262626" textLength="63.5" lengthAdjust="spacingAndGlyphs" stroke="#262626" stroke-width="0.12">C/EBP&#945; mutation</text>
<line x1="136.3" y1="591.5" x2="138.5" y2="591.5" stroke="#000" stroke-width="1"/>
<line x1="136.3" y1="618.9" x2="138.5" y2="618.9" stroke="#000" stroke-width="1"/>
<line x1="136.3" y1="646.3" x2="138.5" y2="646.3" stroke="#000" stroke-width="1"/>
<line x1="135.5" y1="577.8" x2="138.5" y2="577.8" stroke="#000" stroke-width="1"/>
<text x="131.1" y="580.3" font-size="7" text-anchor="end" fill="#262626" stroke="#262626" stroke-width="0.12">3</text>
<line x1="135.5" y1="605.2" x2="138.5" y2="605.2" stroke="#000" stroke-width="1"/>
<text x="131.1" y="607.7" font-size="7" text-anchor="end" fill="#262626" stroke="#262626" stroke-width="0.12">2</text>
<line x1="135.5" y1="632.6" x2="138.5" y2="632.6" stroke="#000" stroke-width="1"/>
<text x="131.1" y="635.1" font-size="7" text-anchor="end" fill="#262626" stroke="#262626" stroke-width="0.12">1</text>
<line x1="135.5" y1="660" x2="138.5" y2="660" stroke="#000" stroke-width="1"/>
<text x="131.1" y="662.5" font-size="7" text-anchor="end" fill="#262626" stroke="#262626" stroke-width="0.12">0</text>
<line x1="138.5" y1="567.5" x2="138.5" y2="662" stroke="#000" stroke-width="1.5"/>
<line x1="137.7" y1="661.3" x2="191.3" y2="661.3" stroke="#000" stroke-width="1.5"/>
<line x1="154.5" y1="661.3" x2="154.5" y2="664" stroke="#000" stroke-width="1"/>
<line x1="154.5" y1="583" x2="154.5" y2="605.6" stroke="#000" stroke-width="1.1" stroke-dasharray="1,1"/>
<line x1="154.5" y1="623" x2="154.5" y2="646.3" stroke="#000" stroke-width="1.1" stroke-dasharray="1,1"/>
<line x1="149.6" y1="583.3" x2="159.4" y2="583.3" stroke="#111" stroke-width="1.4"/>
<line x1="149.6" y1="646.3" x2="159.4" y2="646.3" stroke="#111" stroke-width="1.4"/>
<rect x="144.5" y="605.6" width="20.1" height="17.4" fill="#ad0f35" stroke="#4a0a1a" stroke-width="0.8"/>
<line x1="144.5" y1="614" x2="164.6" y2="614" stroke="#1a0008" stroke-width="1.7"/>
<circle cx="154.5" cy="569.5" r="1.1" fill="#111"/>
<circle cx="154.5" cy="577.3" r="1.1" fill="#111"/>
<circle cx="154.5" cy="578.4" r="1.1" fill="#111"/>
<circle cx="154.5" cy="651.5" r="1.1" fill="#111"/>
<circle cx="154.5" cy="654.1" r="1.1" fill="#111"/>
<circle cx="154.5" cy="658.6" r="1.1" fill="#111"/>
<line x1="179.5" y1="661.3" x2="179.5" y2="664" stroke="#000" stroke-width="1"/>
<line x1="179.5" y1="606" x2="179.5" y2="620" stroke="#000" stroke-width="1.1" stroke-dasharray="1,1"/>
<line x1="179.5" y1="630" x2="179.5" y2="643.7" stroke="#000" stroke-width="1.1" stroke-dasharray="1,1"/>
<line x1="174.5" y1="606.9" x2="184.5" y2="606.9" stroke="#111" stroke-width="1.4"/>
<line x1="174.5" y1="643.7" x2="184.5" y2="643.7" stroke="#111" stroke-width="1.4"/>
<rect x="169.7" y="620" width="20" height="10.3" fill="#ad0f35" stroke="#4a0a1a" stroke-width="0.8"/>
<line x1="169.7" y1="622.5" x2="189.7" y2="622.5" stroke="#1a0008" stroke-width="1.7"/>
<path d="M154.5,565.2 V561.0 H179.5 V565.2" stroke="#222" stroke-width="1" fill="none"/>
<text x="167.9" y="561.6" font-size="8.6" text-anchor="middle" font-weight="bold" fill="#111" textLength="10.2" lengthAdjust="spacingAndGlyphs">***</text>
<text x="154.5" y="675.6" font-size="8.4" text-anchor="middle" fill="#262626" stroke="#262626" stroke-width="0.12">&#8211;</text>
<text x="179.5" y="675.8" font-size="8.4" text-anchor="middle" fill="#262626" stroke="#262626" stroke-width="0.12">+</text>
<line x1="140" y1="680.4" x2="189" y2="680.4" stroke="#222" stroke-width="1.2"/>
<text x="140.7" y="691.6" font-size="7.2" fill="#262626" textLength="48.3" lengthAdjust="spacingAndGlyphs" stroke="#262626" stroke-width="0.12">EVI1 mutation</text>
<line x1="217.4" y1="591.5" x2="219.6" y2="591.5" stroke="#000" stroke-width="1"/>
<line x1="217.4" y1="618.9" x2="219.6" y2="618.9" stroke="#000" stroke-width="1"/>
<line x1="217.4" y1="646.3" x2="219.6" y2="646.3" stroke="#000" stroke-width="1"/>
<line x1="216.6" y1="577.8" x2="219.6" y2="577.8" stroke="#000" stroke-width="1"/>
<text x="212.2" y="580.3" font-size="7" text-anchor="end" fill="#262626" stroke="#262626" stroke-width="0.12">3</text>
<line x1="216.6" y1="605.2" x2="219.6" y2="605.2" stroke="#000" stroke-width="1"/>
<text x="212.2" y="607.7" font-size="7" text-anchor="end" fill="#262626" stroke="#262626" stroke-width="0.12">2</text>
<line x1="216.6" y1="632.6" x2="219.6" y2="632.6" stroke="#000" stroke-width="1"/>
<text x="212.2" y="635.1" font-size="7" text-anchor="end" fill="#262626" stroke="#262626" stroke-width="0.12">1</text>
<line x1="216.6" y1="660" x2="219.6" y2="660" stroke="#000" stroke-width="1"/>
<text x="212.2" y="662.5" font-size="7" text-anchor="end" fill="#262626" stroke="#262626" stroke-width="0.12">0</text>
<line x1="219.6" y1="567.5" x2="219.6" y2="662" stroke="#000" stroke-width="1.5"/>
<line x1="218.8" y1="661.3" x2="272.4" y2="661.3" stroke="#000" stroke-width="1.5"/>
<line x1="235.6" y1="661.3" x2="235.6" y2="664" stroke="#000" stroke-width="1"/>
<line x1="235.5" y1="583" x2="235.5" y2="606.9" stroke="#000" stroke-width="1.1" stroke-dasharray="1,1"/>
<line x1="235.5" y1="624" x2="235.5" y2="646.3" stroke="#000" stroke-width="1.1" stroke-dasharray="1,1"/>
<line x1="230.3" y1="583.3" x2="240.8" y2="583.3" stroke="#111" stroke-width="1.4"/>
<line x1="230.3" y1="646.3" x2="240.8" y2="646.3" stroke="#111" stroke-width="1.4"/>
<rect x="226.3" y="606.9" width="20" height="17.1" fill="#ad0f35" stroke="#4a0a1a" stroke-width="0.8"/>
<line x1="226.3" y1="615.8" x2="246.3" y2="615.8" stroke="#1a0008" stroke-width="1.7"/>
<circle cx="235.6" cy="576.6" r="1.1" fill="#111"/>
<circle cx="235.6" cy="578.4" r="1.1" fill="#111"/>
<circle cx="235.6" cy="651.5" r="1.1" fill="#111"/>
<circle cx="235.6" cy="654" r="1.1" fill="#111"/>
<circle cx="235.6" cy="658.6" r="1.1" fill="#111"/>
<line x1="260.6" y1="661.3" x2="260.6" y2="664" stroke="#000" stroke-width="1"/>
<line x1="260.5" y1="595" x2="260.5" y2="603.4" stroke="#000" stroke-width="1.1" stroke-dasharray="1,1"/>
<line x1="260.5" y1="619" x2="260.5" y2="639" stroke="#000" stroke-width="1.1" stroke-dasharray="1,1"/>
<line x1="255.3" y1="595.8" x2="266" y2="595.8" stroke="#111" stroke-width="1.4"/>
<line x1="255.3" y1="639" x2="266" y2="639" stroke="#111" stroke-width="1.4"/>
<rect x="251.2" y="603.4" width="20.1" height="16.2" fill="#ad0f35" stroke="#4a0a1a" stroke-width="0.8"/>
<line x1="251.2" y1="610.7" x2="271.3" y2="610.7" stroke="#1a0008" stroke-width="1.7"/>
<circle cx="260.6" cy="569.5" r="1.1" fill="#111"/>
<path d="M235.6,565.2 V561.0 H260.6 V565.2" stroke="#222" stroke-width="1" fill="none"/>
<text x="249" y="561.6" font-size="8.6" text-anchor="middle" font-weight="bold" fill="#111" textLength="6.8" lengthAdjust="spacingAndGlyphs">**</text>
<text x="235.6" y="675.6" font-size="8.4" text-anchor="middle" fill="#262626" stroke="#262626" stroke-width="0.12">&#8211;</text>
<text x="260.6" y="675.8" font-size="8.4" text-anchor="middle" fill="#262626" stroke="#262626" stroke-width="0.12">+</text>
<line x1="221.8" y1="680.4" x2="270.8" y2="680.4" stroke="#222" stroke-width="1.2"/>
<text x="221.8" y="691.6" font-size="7.2" fill="#262626" textLength="49" lengthAdjust="spacingAndGlyphs" stroke="#262626" stroke-width="0.12">RAS mutation</text>
<line x1="298.8" y1="591.5" x2="301" y2="591.5" stroke="#000" stroke-width="1"/>
<line x1="298.8" y1="618.9" x2="301" y2="618.9" stroke="#000" stroke-width="1"/>
<line x1="298.8" y1="646.3" x2="301" y2="646.3" stroke="#000" stroke-width="1"/>
<line x1="298" y1="577.8" x2="301" y2="577.8" stroke="#000" stroke-width="1"/>
<text x="293.6" y="580.3" font-size="7" text-anchor="end" fill="#262626" stroke="#262626" stroke-width="0.12">3</text>
<line x1="298" y1="605.2" x2="301" y2="605.2" stroke="#000" stroke-width="1"/>
<text x="293.6" y="607.7" font-size="7" text-anchor="end" fill="#262626" stroke="#262626" stroke-width="0.12">2</text>
<line x1="298" y1="632.6" x2="301" y2="632.6" stroke="#000" stroke-width="1"/>
<text x="293.6" y="635.1" font-size="7" text-anchor="end" fill="#262626" stroke="#262626" stroke-width="0.12">1</text>
<line x1="298" y1="660" x2="301" y2="660" stroke="#000" stroke-width="1"/>
<text x="293.6" y="662.5" font-size="7" text-anchor="end" fill="#262626" stroke="#262626" stroke-width="0.12">0</text>
<line x1="301" y1="567.5" x2="301" y2="662" stroke="#000" stroke-width="1.5"/>
<line x1="300.2" y1="661.3" x2="354" y2="661.3" stroke="#000" stroke-width="1.5"/>
<line x1="317.3" y1="661.3" x2="317.3" y2="664" stroke="#000" stroke-width="1"/>
<line x1="317.5" y1="586" x2="317.5" y2="608.9" stroke="#000" stroke-width="1.1" stroke-dasharray="1,1"/>
<line x1="317.5" y1="624" x2="317.5" y2="646.3" stroke="#000" stroke-width="1.1" stroke-dasharray="1,1"/>
<line x1="312.2" y1="586.6" x2="322.4" y2="586.6" stroke="#111" stroke-width="1.4"/>
<line x1="312.2" y1="646.3" x2="322.4" y2="646.3" stroke="#111" stroke-width="1.4"/>
<rect x="307.7" y="608.9" width="20.1" height="15.8" fill="#ad0f35" stroke="#4a0a1a" stroke-width="0.8"/>
<line x1="307.7" y1="617.8" x2="327.8" y2="617.8" stroke="#1a0008" stroke-width="1.7"/>
<circle cx="317.3" cy="569.5" r="1.1" fill="#111"/>
<circle cx="317.3" cy="582.9" r="1.1" fill="#111"/>
<circle cx="317.3" cy="651.5" r="1.1" fill="#111"/>
<circle cx="317.3" cy="654" r="1.1" fill="#111"/>
<circle cx="317.3" cy="658.6" r="1.1" fill="#111"/>
<line x1="342.5" y1="661.3" x2="342.5" y2="664" stroke="#000" stroke-width="1"/>
<line x1="342.5" y1="585" x2="342.5" y2="603.4" stroke="#000" stroke-width="1.1" stroke-dasharray="1,1"/>
<line x1="342.5" y1="619" x2="342.5" y2="640.3" stroke="#000" stroke-width="1.1" stroke-dasharray="1,1"/>
<line x1="337.2" y1="585.1" x2="347.8" y2="585.1" stroke="#111" stroke-width="1.4"/>
<line x1="337.2" y1="640.3" x2="347.8" y2="640.3" stroke="#111" stroke-width="1.4"/>
<rect x="332.9" y="603.4" width="19.6" height="15.6" fill="#ad0f35" stroke="#4a0a1a" stroke-width="0.8"/>
<line x1="332.9" y1="612.3" x2="352.5" y2="612.3" stroke="#1a0008" stroke-width="1.7"/>
<circle cx="342.5" cy="576.2" r="1.1" fill="#111"/>
<circle cx="342.5" cy="578" r="1.1" fill="#111"/>
<circle cx="342.5" cy="645.7" r="1.1" fill="#111"/>
<path d="M317.3,565.2 V561.0 H342.5 V565.2" stroke="#222" stroke-width="1" fill="none"/>
<text x="329.3" y="558.4" font-size="6.4" text-anchor="middle" fill="#444" textLength="12.6" lengthAdjust="spacingAndGlyphs" stroke="#444" stroke-width="0.12">n. s.</text>
<text x="317.3" y="675.6" font-size="8.4" text-anchor="middle" fill="#262626" stroke="#262626" stroke-width="0.12">&#8211;</text>
<text x="342.5" y="675.8" font-size="8.4" text-anchor="middle" fill="#262626" stroke="#262626" stroke-width="0.12">+</text>
<line x1="303.3" y1="680.4" x2="352.3" y2="680.4" stroke="#222" stroke-width="1.2"/>
<text x="303.3" y="691.6" font-size="7.2" fill="#262626" textLength="49" lengthAdjust="spacingAndGlyphs" stroke="#262626" stroke-width="0.12">FLT3 mutation</text>
<line x1="380.2" y1="591.5" x2="382.4" y2="591.5" stroke="#000" stroke-width="1"/>
<line x1="380.2" y1="618.9" x2="382.4" y2="618.9" stroke="#000" stroke-width="1"/>
<line x1="380.2" y1="646.3" x2="382.4" y2="646.3" stroke="#000" stroke-width="1"/>
<line x1="379.4" y1="577.8" x2="382.4" y2="577.8" stroke="#000" stroke-width="1"/>
<text x="375" y="580.3" font-size="7" text-anchor="end" fill="#262626" stroke="#262626" stroke-width="0.12">3</text>
<line x1="379.4" y1="605.2" x2="382.4" y2="605.2" stroke="#000" stroke-width="1"/>
<text x="375" y="607.7" font-size="7" text-anchor="end" fill="#262626" stroke="#262626" stroke-width="0.12">2</text>
<line x1="379.4" y1="632.6" x2="382.4" y2="632.6" stroke="#000" stroke-width="1"/>
<text x="375" y="635.1" font-size="7" text-anchor="end" fill="#262626" stroke="#262626" stroke-width="0.12">1</text>
<line x1="379.4" y1="660" x2="382.4" y2="660" stroke="#000" stroke-width="1"/>
<text x="375" y="662.5" font-size="7" text-anchor="end" fill="#262626" stroke="#262626" stroke-width="0.12">0</text>
<line x1="382.4" y1="567.5" x2="382.4" y2="662" stroke="#000" stroke-width="1.5"/>
<line x1="381.6" y1="661.3" x2="436.3" y2="661.3" stroke="#000" stroke-width="1.5"/>
<line x1="398.9" y1="661.3" x2="398.9" y2="664" stroke="#000" stroke-width="1"/>
<line x1="398.5" y1="582" x2="398.5" y2="605.6" stroke="#000" stroke-width="1.1" stroke-dasharray="1,1"/>
<line x1="398.5" y1="623" x2="398.5" y2="646.3" stroke="#000" stroke-width="1.1" stroke-dasharray="1,1"/>
<line x1="393.9" y1="582.9" x2="403.9" y2="582.9" stroke="#111" stroke-width="1.4"/>
<line x1="393.9" y1="646.3" x2="403.9" y2="646.3" stroke="#111" stroke-width="1.4"/>
<rect x="389" y="605.6" width="19.9" height="17.8" fill="#ad0f35" stroke="#4a0a1a" stroke-width="0.8"/>
<line x1="389" y1="615.2" x2="408.9" y2="615.2" stroke="#1a0008" stroke-width="1.7"/>
<circle cx="398.9" cy="568.4" r="1.1" fill="#111"/>
<circle cx="398.9" cy="576.2" r="1.1" fill="#111"/>
<circle cx="398.9" cy="578" r="1.1" fill="#111"/>
<circle cx="398.9" cy="651.5" r="1.1" fill="#111"/>
<circle cx="398.9" cy="654" r="1.1" fill="#111"/>
<circle cx="398.9" cy="658.6" r="1.1" fill="#111"/>
<line x1="424" y1="661.3" x2="424" y2="664" stroke="#000" stroke-width="1"/>
<line x1="424.5" y1="602" x2="424.5" y2="610" stroke="#000" stroke-width="1.1" stroke-dasharray="1,1"/>
<line x1="424.5" y1="621" x2="424.5" y2="639.7" stroke="#000" stroke-width="1.1" stroke-dasharray="1,1"/>
<line x1="419" y1="602.9" x2="429" y2="602.9" stroke="#111" stroke-width="1.4"/>
<line x1="419" y1="639.7" x2="429" y2="639.7" stroke="#111" stroke-width="1.4"/>
<rect x="414.4" y="610" width="19.6" height="11.8" fill="#ad0f35" stroke="#4a0a1a" stroke-width="0.8"/>
<line x1="414.4" y1="618" x2="434" y2="618" stroke="#1a0008" stroke-width="1.7"/>
<circle cx="424" cy="590.7" r="1.1" fill="#111"/>
<path d="M398.9,565.2 V561.0 H424 V565.2" stroke="#222" stroke-width="1" fill="none"/>
<text x="411" y="558.4" font-size="6.4" text-anchor="middle" fill="#444" textLength="12.6" lengthAdjust="spacingAndGlyphs" stroke="#444" stroke-width="0.12">n. s.</text>
<text x="398.9" y="675.6" font-size="8.4" text-anchor="middle" fill="#262626" stroke="#262626" stroke-width="0.12">&#8211;</text>
<text x="424" y="675.8" font-size="8.4" text-anchor="middle" fill="#262626" stroke="#262626" stroke-width="0.12">+</text>
<line x1="385" y1="680.4" x2="434" y2="680.4" stroke="#222" stroke-width="1.2"/>
<text x="395" y="691.6" font-size="7.2" fill="#262626" textLength="29" lengthAdjust="spacingAndGlyphs" stroke="#262626" stroke-width="0.12">t(15;17)</text>
<text transform="translate(22.8,614.3) rotate(-90)" x="0" y="0" font-size="8.6" text-anchor="middle" font-weight="bold" fill="#222" textLength="58.3" lengthAdjust="spacingAndGlyphs">Relative expression</text>
<text transform="translate(34.2,613.8) rotate(-90)" x="0" y="0" font-size="8.6" text-anchor="middle" font-weight="bold" fill="#222" textLength="25.2" lengthAdjust="spacingAndGlyphs">( log10 )</text></svg>
</body></html>
